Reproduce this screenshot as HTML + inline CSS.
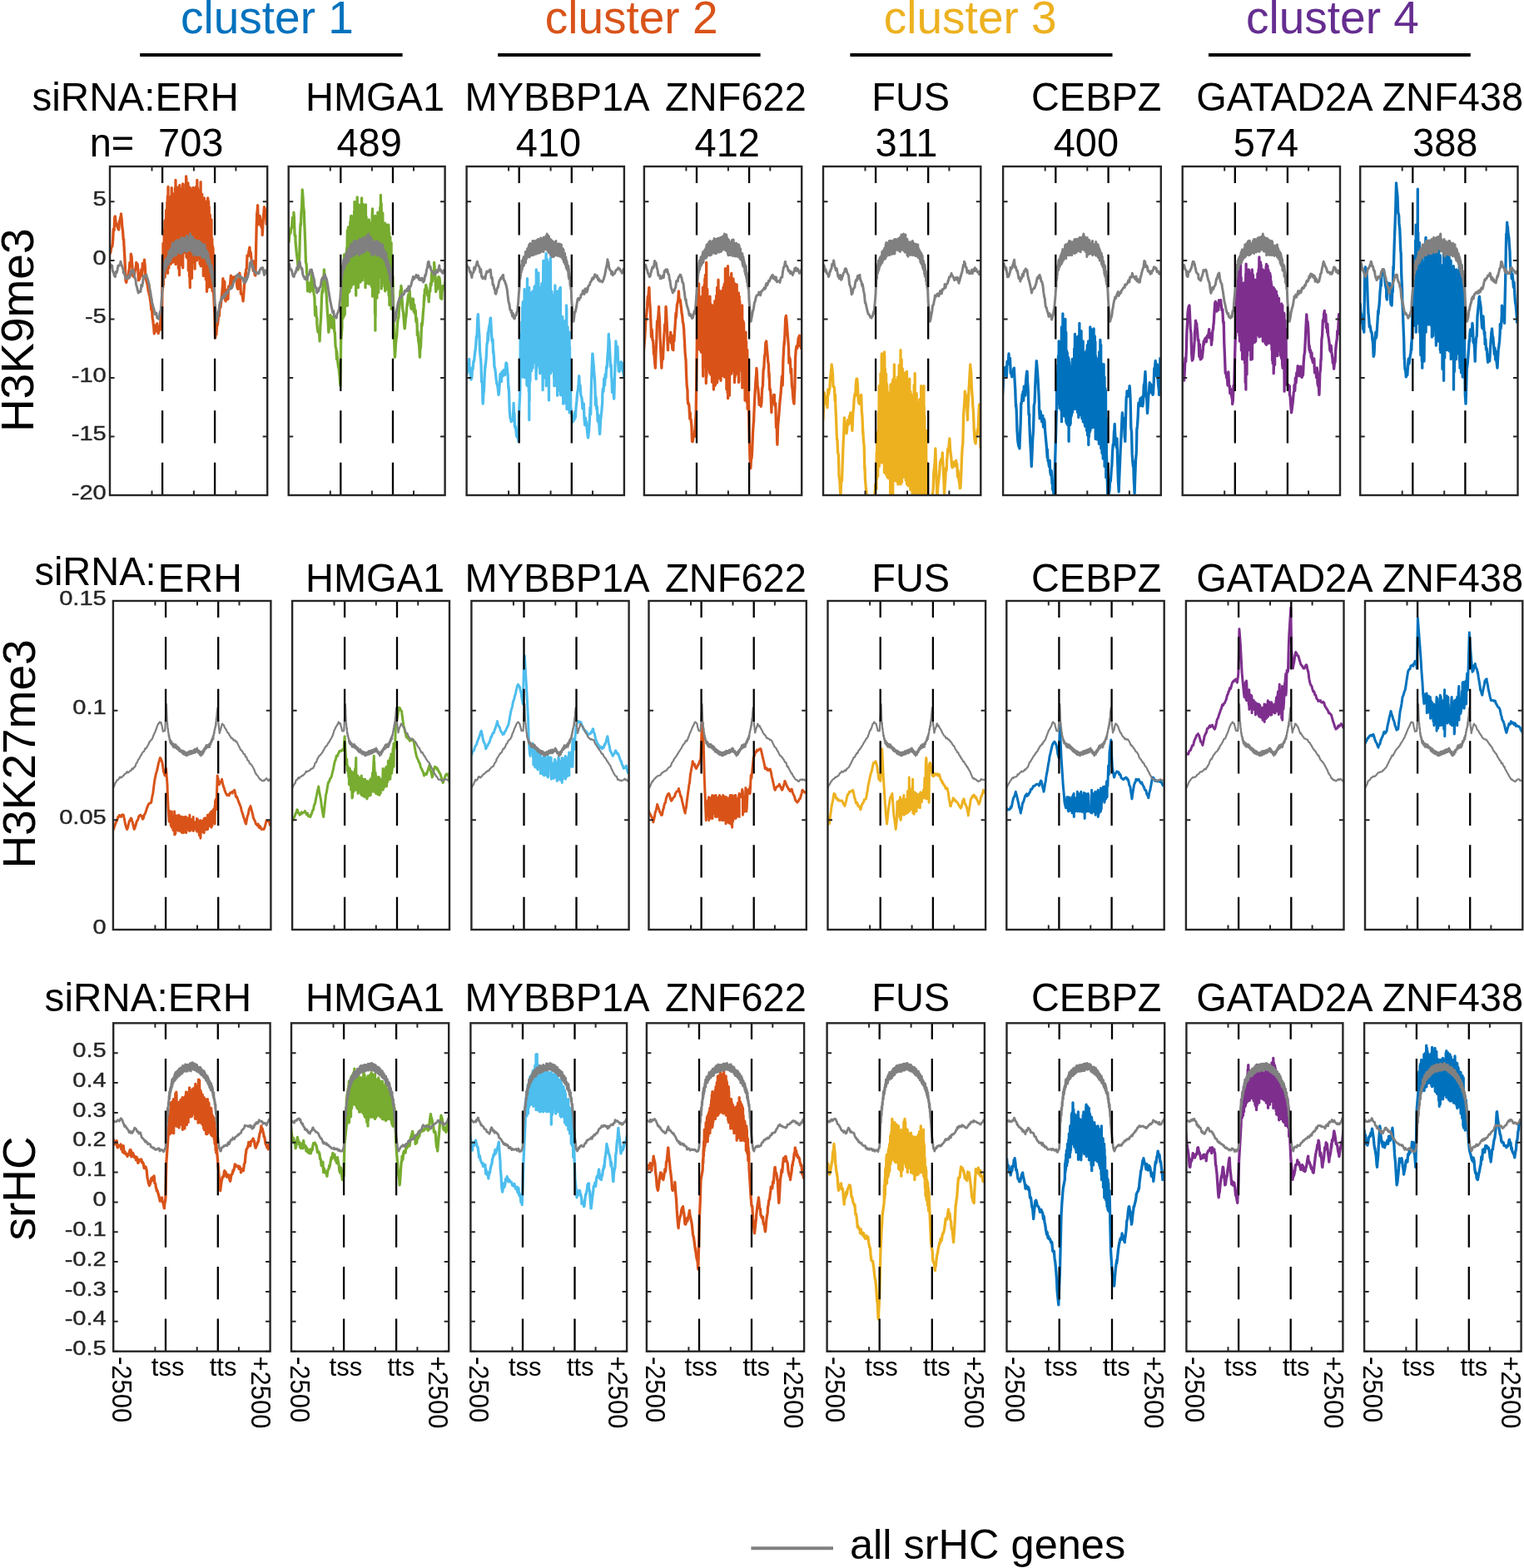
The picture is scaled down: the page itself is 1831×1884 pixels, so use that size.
<!DOCTYPE html>
<html><head><meta charset="utf-8"><title>srHC profiles</title><style>html,body{margin:0;padding:0;background:#fff;overflow:hidden}svg{display:block}</style></head><body>
<svg width="1831" height="1884" viewBox="0 0 1831 1884" font-family="'Liberation Sans', Arial, Helvetica, sans-serif">
<rect width="1831" height="1884" fill="#fff"/>
<defs><clipPath id="c00"><rect x="132" y="200" width="189.2" height="395"/></clipPath><clipPath id="c01"><rect x="346.7" y="200" width="187.9" height="395"/></clipPath><clipPath id="c02"><rect x="560.6" y="200" width="189.3" height="395"/></clipPath><clipPath id="c03"><rect x="773.9" y="200" width="189.3" height="395"/></clipPath><clipPath id="c04"><rect x="989" y="200" width="189.3" height="395"/></clipPath><clipPath id="c05"><rect x="1205.1" y="200" width="189.7" height="395"/></clipPath><clipPath id="c06"><rect x="1420.7" y="200" width="189.3" height="395"/></clipPath><clipPath id="c07"><rect x="1634.2" y="200" width="189.3" height="395"/></clipPath><clipPath id="c10"><rect x="135.9" y="722" width="189.5" height="395"/></clipPath><clipPath id="c11"><rect x="351.1" y="722" width="188.9" height="395"/></clipPath><clipPath id="c12"><rect x="566.4" y="722" width="189.2" height="395"/></clipPath><clipPath id="c13"><rect x="779.5" y="722" width="189.3" height="395"/></clipPath><clipPath id="c14"><rect x="994.5" y="722" width="189.6" height="395"/></clipPath><clipPath id="c15"><rect x="1209.3" y="722" width="189.4" height="395"/></clipPath><clipPath id="c16"><rect x="1424.9" y="722" width="189.6" height="395"/></clipPath><clipPath id="c17"><rect x="1640" y="722" width="189.3" height="395"/></clipPath><clipPath id="c20"><rect x="136.2" y="1229.3" width="188.4" height="394.4"/></clipPath><clipPath id="c21"><rect x="350" y="1229.3" width="189.2" height="394.4"/></clipPath><clipPath id="c22"><rect x="565.4" y="1229.3" width="187.7" height="394.4"/></clipPath><clipPath id="c23"><rect x="776.9" y="1229.3" width="189.2" height="394.4"/></clipPath><clipPath id="c24"><rect x="993.6" y="1229.3" width="189.3" height="394.4"/></clipPath><clipPath id="c25"><rect x="1209.5" y="1229.3" width="189.7" height="394.4"/></clipPath><clipPath id="c26"><rect x="1425.4" y="1229.3" width="188" height="394.4"/></clipPath><clipPath id="c27"><rect x="1639.1" y="1229.3" width="188.5" height="394.4"/></clipPath></defs>
<polyline clip-path="url(#c00)" fill="none" stroke="#D95319" stroke-width="3.3" stroke-linejoin="round" points="131.4,306.8 132.2,303.9 132.8,303.2 133.6,297.7 134.2,296.9 134.7,296 134.9,296.1 135.7,287.6 136.3,275.1 137.1,276.8 137.8,260.9 137.9,265.9 138.4,259.8 139.2,269.1 139.8,268.7 140.6,271.3 141.2,272.8 141.9,274.7 142.2,272.4 142.7,276 143.3,266.3 144.1,264.6 144.8,260.7 145.4,259.5 145.4,257 146.2,263.5 146.8,272.6 147.6,278.1 148.2,287.8 148.7,287.5 148.9,293.8 149.7,306.8 150.3,319.6 150.8,334.7 151.1,337.7 151.8,339.2 152.4,334.8 153.2,335.1 153.8,330.9 154,332.6 154.6,326.5 155.2,323.9 155.9,315.5 156.7,319.8 157.2,315.4 157.3,305.1 158.1,308.5 158.8,318.4 159.4,330.9 160.2,331.7 160.5,332.6 160.8,331.9 161.6,328.5 162.2,325 162.9,322.8 163.7,317.7 163.7,315.4 164.3,322.4 165.1,317.2 165.8,323.5 166.4,336.8 166.9,334.7 167.2,335.3 167.8,335.3 168.6,328.6 169.2,328 169.9,323.7 170.1,328.3 170.7,331.4 171.3,316.4 172.1,320 172.8,323.8 173.4,315.4 173.4,312.2 174.2,319.7 174.8,330.8 175.5,334.7 175.6,335.9 176.2,338.6 176.9,340.9 177.7,345.5 178.3,350.2 178.7,349.8 179.1,353.5 179.8,355.1 180.4,359.9 181.2,364.6 181.8,372 182,371.2 182.6,371.3 183.2,382.6 183.9,385.1 184.1,388.4 184.7,392.3 185.3,400.8 186.1,392.8 186.8,390.9 187.3,392.8 187.4,392.5 188.2,397.9 188.8,388.6 189.6,397.8 190.2,400.6 190.6,394.9 190.9,392.6 191.7,395.3 192.3,396.3 193.1,381.1 193.4,388.4 193.8,383.1 194.4,379.2 194.7,367 195.1,334.1 195.4,309.1 195.7,345.8 196,292.3 196.3,342.4 196.6,297 196.9,325.7 197.2,282.6 197.5,333.7 197.8,275.2 198.1,313.3 198.1,265.9 198.2,332.6 198.4,264.7 198.7,327.5 199,275.4 199.3,317.2 199.6,252.5 199.9,317.4 200.2,251.9 200.5,306.6 200.8,242.8 201.1,305.3 201.3,235.8 201.5,328.3 201.4,236.2 201.7,311.3 202,224.5 202.3,318.2 202.6,236.7 202.9,321.9 203.2,255.3 203.5,305.9 203.8,243.8 204.1,308.4 204.4,236.4 204.7,308.2 205,236.2 205.3,317.2 205.6,244.1 205.9,288.9 206.2,225.6 206.5,295.8 206.7,233.7 206.8,315.4 206.8,238.7 207.1,300.3 207.4,240.4 207.7,292 208,247.1 208.3,311.4 208.6,236 208.9,314.6 209.2,232.6 209.5,305.1 209.8,234.9 210.1,304.1 210.4,226 210.7,316.1 211,227.7 211,216.5 211.1,317.5 211.3,314.2 211.6,245 211.9,289.1 212.2,249.1 212.5,314.7 212.8,246.1 213.1,312.5 213.4,225.1 213.7,299.5 214,239.6 214.3,322.2 214.6,249.8 214.9,311.4 215.2,249.6 215.3,227.2 215.4,324 215.5,330.6 215.8,222.5 216.1,314.6 216.4,255.2 216.7,318.4 217,252.1 217.3,291.3 217.6,244 217.9,307.6 218.2,227.1 218.5,296.9 218.8,232.7 219.1,293.2 219.4,228.7 219.6,220.8 219.7,321.8 219.7,291.5 220,229.2 220.3,290.7 220.6,249.3 220.9,303.9 221.2,229.5 221.5,296 221.8,229.2 222.1,287.5 222.4,246.9 222.7,294.4 223,221.2 223.3,298.6 223.6,211.8 223.9,276.4 223.9,214.3 224,308.9 224.2,225.9 224.5,300.7 224.8,244.3 225.1,304 225.4,222.1 225.7,311 226,220 226.3,325 226.6,231 226.9,314.6 227.2,252.9 227.5,332.3 227.8,253.4 228.1,340.2 228.2,225.1 228.3,345.5 228.4,234.8 228.7,317 229,241.8 229.3,321.7 229.6,227.4 229.9,321.4 230.2,227.9 230.5,334.3 230.8,241.2 231.1,302.7 231.4,262.4 231.7,294.5 232,225.5 232.3,297.6 232.5,229.4 232.6,315.4 232.6,239.4 232.9,307.7 233.2,229.7 233.5,298.2 233.8,248.1 234.1,323.1 234.4,225.9 234.7,307.4 235,245.6 235.3,301 235.6,224.3 235.9,302.4 236.2,225.5 236.5,312.9 236.8,232.7 236.8,216.5 236.9,311.1 237.1,308 237.4,225.5 237.7,305.5 238,252.1 238.3,308.3 238.6,228.8 238.9,285.8 239.2,238.4 239.5,296.2 239.8,240.8 240.1,317.1 240.4,234.7 240.7,311.2 241,228.1 241.1,218.6 241.2,319.7 241.3,290.5 241.6,241.9 241.9,302.3 242.2,257.8 242.5,302.5 242.8,233.5 243.1,304.8 243.4,242.2 243.7,299.3 244,253.5 244.3,331.4 244.6,238.3 244.9,314.2 245.2,257.8 245.4,238 245.5,328.3 245.5,308 245.8,261.8 246.1,330.1 246.4,242 246.7,331 247,259.2 247.3,335.9 247.6,250.9 247.9,319 248.2,256 248.5,350.3 248.8,241.9 249.1,341.3 249.4,240.4 249.7,327.4 249.7,238 249.8,345.5 250,239.8 250.3,327.6 250.6,242.1 250.9,341.6 251.2,248.4 251.5,325.6 251.8,273 252.1,344.5 252.4,258.2 252.7,343.7 253,267.7 253.3,318.6 253.6,273.4 253.9,338.3 254,263.8 254.1,345.5 254.2,291.4 254.5,328.2 254.8,286.6 255.1,349.7 255.4,295.2 255.7,344.7 256,297.8 256.3,345.7 257.9,377.8 258.6,405.3 258.7,405.6 259.2,398.6 259.9,402 260.6,391.5 261.4,390.3 262.1,383.9 262.6,377.7 262.8,376.6 263.4,379.6 264.1,366.5 264.9,369.3 265.6,363.1 265.8,362.7 266.2,358 266.9,350.9 267.6,341.9 267.9,334.7 268.4,338.6 269.1,347.1 269.8,338.2 270.4,359.2 271.1,361.8 271.2,360.5 271.9,358.4 272.6,348.5 273.2,354.4 273.9,359.5 274.6,344.2 275.4,345.9 275.5,345.5 276.1,347.1 276.8,338.6 277.4,331.1 278.1,342.5 278.7,341.2 278.9,334.4 279.6,339.8 280.2,332.9 280.9,334.2 281.6,336.2 281.9,332.6 282.4,333.4 283.1,334.6 283.8,335.4 284.4,340.2 285.1,345.5 285.9,347.2 286.6,341.1 287.2,332.3 287.9,328.2 288.4,334.7 288.6,337 289.4,353.2 290.1,353.3 290.8,353.1 291.4,356.9 291.6,358.3 292.1,361.8 292.9,351.8 293.6,341.2 294.2,336.9 294.8,328.3 294.9,336.6 295.6,323.7 296.4,322.7 297,306.8 297.1,306.9 297.8,307.8 298.4,307.6 299.1,301.3 299.9,297.2 300.2,300.3 300.6,304.4 301.2,303.2 301.9,310.5 302.6,313.5 303.4,315.7 303.4,315.4 304.1,325.2 304.8,314 305.4,321.5 306.1,330 306.6,328.3 306.9,331 307.6,299.4 308.2,271.6 308.8,255.3 308.9,259 309.6,246.7 310.4,269.9 311.1,259.7 311.8,264.5 312,259.5 312.4,260.1 313.1,266.3 313.9,272.6 314.6,271.2 315.2,276.7 315.2,282.4 315.9,268.5 316.6,259.5 317.4,249.5 317.4,248.7 318.1,250.4 318.8,260.2 319.4,253.2 319.5,255.2 320.1,269.3 320.9,265.8 321,268"/>
<polyline clip-path="url(#c00)" fill="none" stroke="#808080" stroke-width="3.0" stroke-linejoin="round" points="132,317.5 132.9,317.9 133.8,321.3 134.7,319.2 135.2,324 135.6,326.2 136.5,327.6 137.4,331.4 138.3,331.7 138.4,332.6 139.2,326.5 140.1,327.7 140.6,326.1 141,324.7 141.9,319.3 142.8,319.3 143.7,318.9 144.6,316.1 144.9,314.3 145.5,316.7 146.4,319.3 147.3,321.8 148.1,324 148.2,327.9 149.1,326.9 150,331 150.9,333.8 151.3,334.7 151.8,333.4 152.7,334.7 153.6,332.6 154.5,331.1 154.5,333.7 155.4,334 156.3,331.8 157.2,325.4 157.7,326.1 158.1,327.8 159,324.9 159.9,324 159.9,325 160.8,326.8 161.7,332.8 162.6,335.2 163.1,336.9 163.5,341.8 164.4,344.5 165.3,348.3 166.2,351.8 166.3,351.9 167.1,350.1 168,350.3 168.9,350.5 169.5,345.5 169.8,342.2 170.7,344.1 171.6,339.3 172.5,331.8 172.8,334.7 173.4,333 174.3,331.8 175.2,331.8 176,330.4 176.1,332.1 177,333.9 177.9,337.1 178.8,340.5 179.2,341.2 179.7,345.9 180.6,350 181.5,356.4 182.4,360.3 182.4,362.7 183.3,365.5 184.2,369.2 185.1,371.8 185.6,375.6 186,377.6 186.9,377 187.8,375.9 188.7,381.9 189.6,382.4 189.9,382 190.5,383.1 191.4,379.5 192.3,374.6 193.1,373.4 193.2,374.1 194.1,360.3 195,348.3 195.1,349.8 195.5,343 195.8,332.5 196.2,333.6 196.4,321.8 196.5,334.7 196.5,322.6 196.9,328.6 197.2,318.8 197.6,325.8 197.9,315.6 198.3,323.5 198.5,313.2 198.6,324 198.6,313 199,322.7 199.3,311.6 199.7,321 200,311.2 200.4,319.7 200.7,310.3 201.1,317.3 201.4,309.1 201.8,316.6 202.1,308.1 202.5,317.3 202.8,302.5 202.9,315.4 202.8,305.9 203.2,313.3 203.5,303.5 203.9,312.3 204.2,300.7 204.6,313.7 204.9,300 205.3,310.8 205.6,298.8 206,308.6 206.3,299.3 206.7,305.3 207,292.8 207.1,293.9 207.2,308.9 207.4,304.3 207.7,294 208.1,303.6 208.4,295.1 208.8,303.9 209.1,291.8 209.5,307 209.8,291.2 210.2,307.2 210.5,294.6 210.9,306.7 211.2,292.7 211.4,289.6 211.5,306.8 211.6,302.4 211.9,292.9 212.3,302 212.6,289.5 213,302.7 213.3,288.5 213.7,301.7 214,290 214.4,301.5 214.7,293.1 215.1,304 215.4,288.7 215.8,303.5 216.1,292.8 216.5,303.5 216.8,288.6 217.2,304.8 217.5,290.5 217.8,287.4 218,304.6 217.9,302.1 218.2,285.5 218.6,300.7 218.9,287.1 219.3,302.7 219.6,286.5 220,302.3 220.3,288.7 220.7,299.1 221,286.3 221.4,300.4 221.7,289.1 222.1,301.4 222.4,289.8 222.8,300.6 223.1,285.9 223.5,298.3 223.8,286.9 224.2,301.6 224.2,285.3 224.4,302.5 224.5,283.6 224.9,300.2 225.2,285.8 225.6,301.5 225.9,287.4 226.3,295.7 226.6,285.8 227,295.4 227.3,288.7 227.7,300.5 228,285.9 228.4,298 228.5,281 228.7,300.3 228.7,282.2 229.1,297.5 229.4,288.4 229.8,301.2 230.1,290.3 230.5,302.1 230.8,285.7 231.2,300.1 231.5,284.7 231.9,304.2 232.2,287.3 232.6,302.5 232.8,287.4 233,306.8 232.9,290.3 233.3,304.5 233.6,289.4 234,302.5 234.3,294.4 234.7,302.7 235,288.4 235.4,303.4 235.7,291.8 236.1,306.4 236.4,290 236.8,306.7 237.1,289.5 237.5,306.2 237.8,290.3 238.2,303.4 238.5,291 238.9,306.4 239.2,295.3 239.3,289.6 239.4,306.8 239.6,306.6 239.9,290 240.3,305.9 240.6,291.7 241,302.3 241.3,293.8 241.7,306.9 242,296.4 242.4,307.5 242.7,296.4 243.1,309.7 243.4,293.1 243.8,307.7 244.1,295.9 244.5,304.2 244.8,296.8 245.2,309.3 245.5,296.8 245.7,293.9 245.8,308.9 245.9,306.8 246.2,295.4 246.6,310.2 246.9,301.8 247.3,310.1 247.6,301.3 248,311.9 248.3,301 248.7,314.4 249,307.2 249.4,315.6 249.7,308.7 250,304.6 250.1,317.5 250.1,316.2 250.4,309.3 250.8,318.1 251.1,311.4 251.5,320.3 251.8,312.1 252.2,321.7 252.5,317.4 252.9,326.8 253.2,317.3 253.6,328.2 253.9,318.9 254.3,319.7 254.4,332.6 254.3,333 254.6,324.5 255,334.6 255.3,326.3 255.7,338.1 256,330.7 256.4,342.3 256.7,336.1 256.8,334.7 257,345.5 257.1,347.6 257.4,342.8 258.1,362.7 259,371.8 259.9,382.8 260.3,386.3 260.8,381.3 261.7,380 262.6,373.7 262.9,373.4 263.5,369.3 264.4,362.9 265.3,361.9 266.1,358.4 266.2,359.7 267.1,356.4 268,356.7 268.9,358.1 269.3,354.1 269.8,356.2 270.7,355.7 271.6,351.4 272.5,351.6 273.4,352.2 273.6,349.8 274.3,348.7 275.2,348.4 276.1,346.5 277,344.4 277.9,345.5 277.9,346.8 278.8,345.4 279.7,343.3 280.6,338.9 281.5,337 282.2,336.9 282.4,337.1 283.3,335.5 284.2,331.1 285.1,331.2 286,329.6 286.4,330.4 286.9,332.4 287.8,332.8 288.7,331.8 289.6,332.7 290.5,333.2 290.7,334.7 291.4,334.2 292.3,337.3 293.2,339.5 294.1,334.3 295,339 295.9,336.6 296.8,335.2 297.2,332.6 297.7,332.8 298.6,328.2 299.5,323.9 300.4,316.3 301.3,314.7 301.5,314.3 302.2,312.9 303.1,321.1 304,319.1 304.9,325.7 305.8,326.1 305.8,325.8 306.7,327.1 307.6,328.9 308.5,327.7 309.4,327.2 310.1,328.3 310.3,328.9 311.2,328.5 312.1,324.4 313,322.9 313.9,323.2 314.3,321.8 314.8,323.5 315.7,321.7 316.6,325.9 317.5,330.4 318.4,329.3 318.6,328.3 319.3,324.8 320.2,326.1 321.1,325.9 321.2,326.1"/>
<path d="M195.1 595V200" stroke="#000" stroke-width="2.3" stroke-dasharray="39.3 23.2" fill="none"/>
<path d="M258.1 595V200" stroke="#000" stroke-width="2.3" stroke-dasharray="39.3 23.2" fill="none"/>
<path d="M182.5 595v-5.5M182.5 200v5.5M232.9 595v-5.5M232.9 200v5.5M283.4 595v-5.5M283.4 200v5.5M132 242.3h5.5M321.2 242.3h-5.5M132 312.9h5.5M321.2 312.9h-5.5M132 383.4h5.5M321.2 383.4h-5.5M132 453.9h5.5M321.2 453.9h-5.5M132 524.5h5.5M321.2 524.5h-5.5M132 595h5.5M321.2 595h-5.5" stroke="#262626" stroke-width="2" fill="none"/>
<rect x="132" y="200" width="189.2" height="395" fill="none" stroke="#262626" stroke-width="2.4"/>
<text transform="translate(127.8 246.9) scale(1.25 1)" text-anchor="end" font-size="23.3" fill="#262626" stroke="#262626" stroke-width="0.35">5</text>
<text transform="translate(127.8 317.5) scale(1.25 1)" text-anchor="end" font-size="23.3" fill="#262626" stroke="#262626" stroke-width="0.35">0</text>
<text transform="translate(127.8 388) scale(1.25 1)" text-anchor="end" font-size="23.3" fill="#262626" stroke="#262626" stroke-width="0.35">-5</text>
<text transform="translate(127.8 458.5) scale(1.25 1)" text-anchor="end" font-size="23.3" fill="#262626" stroke="#262626" stroke-width="0.35">-10</text>
<text transform="translate(127.8 529.1) scale(1.25 1)" text-anchor="end" font-size="23.3" fill="#262626" stroke="#262626" stroke-width="0.35">-15</text>
<text transform="translate(127.8 599.6) scale(1.25 1)" text-anchor="end" font-size="23.3" fill="#262626" stroke="#262626" stroke-width="0.35">-20</text>
<polyline clip-path="url(#c01)" fill="none" stroke="#77AC30" stroke-width="3.3" stroke-linejoin="round" points="346.4,291.7 347.1,290.9 347.9,281 348.6,277.9 348.6,281 349.2,279.2 349.9,273.6 350.6,273.6 350.8,270.2 351.4,261.4 352.1,263.2 352.8,261.5 352.9,255.2 353.4,261.5 354.1,283.2 354.9,283 355.1,291.8 355.6,296.1 356.2,303.1 356.9,308.5 357.6,314.6 358.3,324 358.4,323.5 359.1,319.7 359.8,307 360.4,282.2 361.1,268.3 361.5,270.1 361.9,256.8 362.6,248.1 363.2,231.6 363.2,227.9 363.9,235.8 364.6,248.8 365.4,255 365.4,259.6 366.1,275.8 366.8,293.7 367.4,313.8 367.5,315.4 368.1,316.8 368.9,331.3 369.6,349.8 370.1,345.4 370.2,346.2 370.9,341.9 371.6,340.2 372.2,349.8 372.4,350.6 373.1,341.3 373.8,340.3 374.4,328.3 374.4,329.7 375.1,328.6 375.9,349.9 376.5,345.4 376.6,346.6 377.2,353.2 377.9,357.3 378.6,378.9 378.7,371.2 379.4,368.3 380.1,380.8 380.8,382.3 380.8,388.4 381.4,395.2 382.1,399.1 382.9,398.6 383.6,399.4 384.1,409.9 384.2,406 384.9,390.6 385.6,382.1 386.2,366.9 386.4,358.6 387.1,348.9 387.8,351.1 388.4,333.5 389.1,330.5 389.4,324 389.9,329 390.6,333.1 391.2,338.8 391.6,349.8 391.9,350.2 392.6,361.5 393.4,375.3 394.1,384.4 394.8,398.4 394.8,399.2 395.4,393.8 396.1,394.2 396.9,378.5 397,388.5 397.6,392.3 398.2,380.2 398.9,386.6 399.6,394.1 400.2,388.5 400.4,380.8 401.1,382.3 401.8,399.1 402.3,399.2 402.4,401.6 403.1,416.5 403.9,419.2 404.5,431.5 404.6,422.2 405.2,428.4 405.9,435.6 406.6,441.6 407.1,442.2 407.4,445.5 408.1,452.5 408.8,463.2 408.8,459.3 409.4,432.9 409.6,410 410.9,393.3 411.2,344 411.5,372.9 411.8,330.1 412.1,382.4 412.4,339.6 412.7,378 413,317.5 413.3,379.9 413.6,305.8 413.9,375.5 414.2,306.8 414.3,377.7 414.2,319.6 414.5,358.4 414.8,310.3 415.1,361.5 415.4,306.4 415.7,351.8 416,303.3 416.3,362.8 416.6,297.7 416.9,367.4 417.2,287.8 417.4,276.7 417.5,367 417.5,338.7 417.8,281.3 418.1,347 418.4,272.9 418.7,351.4 419,283.3 419.3,342.5 419.6,276.4 419.9,350.3 420.2,297.4 420.5,338 420.8,266.6 421.1,320.6 421.4,264.3 421.7,259.5 421.8,345.5 421.7,336.2 422,261.1 422.3,338.1 422.6,271.3 422.9,334.2 423.2,274.3 423.5,342.2 423.8,259.9 424.1,330.1 424.4,268.3 424.7,337.8 425,273.7 425.3,336.6 425.6,253.9 425.9,338.6 426,242.3 426.1,341.2 426.2,256.1 426.5,318.4 426.8,267.6 427.1,325.6 427.4,260.6 427.7,355 428,262.6 428.3,334.8 428.6,271.8 428.9,327.1 429.2,237 429.5,341.8 429.8,260.3 430.1,340.4 430.3,250.9 430.4,345.5 430.4,251.6 430.7,340.5 431,246.2 431.3,320.4 431.6,276.8 431.9,339.3 432.2,246.2 432.5,311.6 432.8,258.7 433.1,338.9 433.4,252.1 433.7,337.6 434,255.4 434.3,312.7 434.6,238 434.7,336.9 434.6,238.4 434.9,306 435.2,257.6 435.5,336.7 435.8,273.4 436.1,333.3 436.4,245.7 436.7,316.8 437,249.1 437.3,324.3 437.6,255.5 437.9,326.6 438.2,277.1 438.5,322.4 438.8,278.3 438.9,255.2 439,345.5 439.1,314.1 439.4,246 439.7,325 440,260.2 440.3,321.7 440.6,282.7 440.9,340.3 441.2,271.7 441.5,339.4 441.8,268.5 442.1,324.3 442.4,267.8 442.7,321.4 443,279.5 443.2,263.8 443.3,341.2 443.3,321.7 443.6,265.4 443.9,322.1 444.2,275.8 444.5,319.9 444.8,284.7 445.1,336.3 445.4,268.6 445.7,325.4 446,270.4 446.3,344.3 446.6,279.2 446.9,342.7 447.2,257.7 447.5,250.9 447.6,345.5 447.5,356 447.8,269.6 448.1,318.1 448.4,266.3 448.7,349.2 449,280.9 449.3,344.1 449.6,263.3 449.9,355 450.2,296.1 450.5,376.9 450.7,259.5 450.9,397.1 450.8,290.5 451.1,380.9 451.4,271.7 451.7,343.6 452,276.1 452.3,335.8 452.6,276.6 452.9,358.1 453.2,290.7 453.5,338.8 453.8,274.1 453.9,255.2 454.1,345.5 454.1,341.9 454.4,276.7 454.7,351.5 455,265.8 455.3,320.2 455.6,255 455.9,327.8 456.2,265.2 456.5,316 456.8,248.9 457.1,333.3 457.4,234.4 457.7,323.3 458,273 458.2,244.4 458.4,345.5 458.3,346.8 458.6,253.9 458.9,312.7 459.2,260.2 459.5,340 459.8,256.1 460.1,318.1 460.4,268.4 460.7,330 461,273.7 461.3,339.8 461.6,285.1 461.9,344.1 462.2,269.9 462.5,268.1 462.7,349.8 462.5,336.5 462.8,271.3 463.1,337.3 463.4,272.9 463.7,333.2 464,281 464.3,347.8 464.6,272.7 464.9,326.5 465.2,270.2 465.5,335.1 465.8,277.2 466.1,343.5 466.4,282.4 466.7,325.6 466.8,270.2 467,354.1 467,272.2 467.3,355.6 467.6,279.3 467.9,366.6 468.2,296.5 468.5,346.7 468.8,285 469.1,349.3 469.4,299.5 469.7,353.8 470,298.5 470.1,291.7 470.2,371.3 470.3,366 470.6,310.8 470.9,369.1 471.2,329.5 471.5,366.5 471.8,331.8 473.3,399.3 474,419 474.4,429.3 474.7,426.8 475.4,414.2 476.1,406.1 476.5,405.7 476.8,401.1 477.5,389 478.2,382.8 478.9,381.2 479.6,367.1 479.7,371.3 480.3,363.6 481,349.4 481.7,352.3 481.9,343.4 482.4,346.9 483.1,360.4 483.8,370.5 484,373.4 484.5,375 485.2,383.6 485.9,392.4 486.2,394.9 486.6,391.2 487.3,383.5 488,379.1 488.7,370.2 489.4,363.5 489.4,367 490.1,358 490.8,353.8 491.5,360.4 492.2,349.5 492.6,358.4 492.9,360.6 493.6,369.1 494.3,371.2 495,358.8 495.7,363 495.9,367 496.4,359.2 497.1,374.4 497.8,366.2 498.5,376.6 499.1,373.4 499.2,372.9 499.9,386.3 500.6,382.5 501.2,392.8 501.3,402.5 502,398.3 502.7,410.3 503.4,412.7 504.1,423.2 504.4,429.2 504.8,420.1 505.5,417.1 506.2,397.9 506.6,388.4 506.9,391.9 507.6,387.1 508.3,376.1 509,368.9 509.7,354.6 509.8,360.5 510.4,347.8 511.1,350.7 511.8,342.3 512,345.5 512.5,345.2 513.2,349.3 513.9,355.2 514.6,352.4 515.2,362.7 515.3,359.1 516,349.9 516.7,350.3 517.4,340.2 518.1,342.7 518.4,334.7 518.8,327.1 519.5,338.3 520.2,331.2 520.9,325.5 521.6,323.9 521.6,315.4 522.3,323.7 523,332.6 523.7,350.5 523.8,345.4 524.4,346.5 525.1,347.8 525.8,345.8 526.5,334.4 527,332.6 527.2,334.8 527.9,333.5 528.6,339.3 529.3,358.2 530,354.6 530.2,354.1 530.7,359.3 531.4,346.7 532.1,343.5 532.8,344.8 533.5,345.4 533.5,347 534.2,343.8 534.9,339.8 535.6,337.5 536,332.6"/>
<polyline clip-path="url(#c01)" fill="none" stroke="#808080" stroke-width="3.0" stroke-linejoin="round" points="346.7,317.5 347.6,317.2 348.5,324.1 349.4,323.2 349.9,324 350.3,324.4 351.2,328.3 352.1,331.8 353,331 353.1,332.6 353.9,329.7 354.8,327.8 355.2,326.1 355.7,326.6 356.6,321.8 357.5,323.6 358.4,318.4 359.3,317.4 359.5,314.3 360.2,314.6 361.1,321.1 362,321.4 362.7,324 362.9,322.6 363.8,329.5 364.7,332.2 365.6,332.4 365.9,334.7 366.5,335.3 367.4,335.6 368.3,333.4 369.1,333.6 369.2,335.5 370.1,329.9 371,330.3 371.9,327.7 372.3,326.1 372.8,324.2 373.7,324.4 374.4,324 374.6,326 375.5,327.9 376.4,332.9 377.3,335.3 377.6,336.9 378.2,343 379.1,345.6 380,345.6 380.8,351.9 380.9,351.4 381.8,348.2 382.7,350 383.6,345.6 384,345.5 384.5,345.6 385.4,342.7 386.3,336.3 387.2,334.7 387.2,333.8 388.1,334.3 389,335.7 389.9,329.7 390.4,330.4 390.8,331.5 391.7,333.7 392.6,336.1 393.5,341.9 393.6,341.2 394.4,347.3 395.3,352.4 396.2,358.2 396.8,362.6 397.1,362.6 398,367.7 398.9,371.4 399.8,375.8 400,375.6 400.7,373.6 401.6,380.2 402.5,380 403.4,380.1 404.2,382 404.3,380.7 405.2,377.1 406.1,375.5 407,372.3 407.4,373.4 407.9,366 408.8,358.3 409.3,349.8 409.8,345.3 410.1,330.6 410.5,333.6 410.6,321.8 410.8,334.7 410.8,323.5 411.2,328 411.5,319.3 411.9,328 412.2,316.1 412.6,323.3 412.7,313.2 412.9,324 412.9,311.7 413.3,322.4 413.6,314.6 414,321.9 414.3,312.4 414.7,317.4 415,308.2 415.4,317.8 415.7,306.5 416.1,314.8 416.4,304.1 416.8,315.7 417,302.5 417.2,315.4 417.1,303.1 417.5,313.5 417.8,305 418.2,311.6 418.5,299.7 418.9,313.8 419.2,298.7 419.6,309.9 419.9,297.9 420.3,307.4 420.6,297.7 421,305.9 421.3,293.9 421.4,308.9 421.3,297.8 421.7,307.5 422,296.4 422.4,306.1 422.7,295.2 423.1,307.6 423.4,293.5 423.8,307 424.1,291.9 424.5,306 424.8,292.6 425.2,306.3 425.5,293 425.5,289.6 425.7,306.8 425.9,302.7 426.2,292.8 426.6,305.2 426.9,293.8 427.3,303.8 427.6,293.1 428,299.9 428.3,289.7 428.7,304.6 429,290.3 429.4,303.2 429.7,292.2 430.1,299.2 430.4,289.4 430.8,304.8 431.1,291.3 431.5,306.4 431.8,288.1 431.9,287.4 432.1,304.6 432.2,300.4 432.5,287.9 432.9,300.1 433.2,287.7 433.6,300.9 433.9,287.5 434.3,300.9 434.6,289.4 435,304.8 435.3,287.9 435.7,302.2 436,286.3 436.4,300.9 436.7,289.1 437.1,297.9 437.4,289.9 437.8,302.5 438.1,290.9 438.3,285.3 438.5,302.5 438.5,298.3 438.8,291.1 439.2,301.5 439.5,286.7 439.9,300.2 440.2,286.1 440.6,298.7 440.9,283.4 441.3,296.4 441.6,284.7 442,297.3 442.3,286.8 442.6,281 442.7,300.3 442.7,297.8 443,282.1 443.4,301.4 443.7,284.5 444.1,296.7 444.4,285.6 444.8,301.6 445.1,287.4 445.5,301 445.8,285.4 446.2,304.3 446.5,292.6 446.8,287.4 447,306.8 446.9,303.5 447.2,290.5 447.6,304.7 447.9,293 448.3,306.3 448.6,293.2 449,302.9 449.3,290.5 449.7,304.4 450,292.5 450.4,301.8 450.7,290.6 451.1,304 451.4,291.6 451.8,304.8 452.1,290.2 452.5,306.7 452.8,294.3 453.2,304 453.2,289.6 453.4,306.8 453.5,289.9 453.9,306.1 454.2,291.1 454.6,303.6 454.9,296.5 455.3,303.7 455.6,292.3 456,307.3 456.3,292.1 456.7,307.6 457,296.1 457.4,305.4 457.7,293.8 458.1,304.2 458.4,294 458.8,309.8 459.1,297.8 459.5,308.2 459.6,293.9 459.8,308.9 459.8,294.6 460.2,306.9 460.5,298.2 460.9,309.9 461.2,302.7 461.6,312.2 461.9,301.2 462.3,313.2 462.6,304.9 463,314.1 463.3,303.8 463.7,312.6 463.9,304.6 464,317.5 464,308.4 464.4,318.9 464.7,311.8 465.1,321.2 465.4,312.1 465.8,321 466.1,314.6 466.5,325.4 466.8,317.4 467.2,328.8 467.5,321.6 467.9,329.4 468.1,319.7 468.3,332.6 468.2,321.5 468.6,335.6 468.9,323.6 469.3,338.5 469.6,329.3 470,339.5 470.3,334.8 470.7,344 470.7,334.7 470.8,345.5 471,338.1 471.4,351.8 472,362.7 472.9,373.1 473.8,380.3 474.1,386.3 474.7,382.8 475.6,381.9 476.5,373.7 476.6,373.4 477.4,368.7 478.3,363.4 479.2,361.4 479.9,358.4 480.1,357.6 481,357.2 481.9,357.6 482.8,354.3 483,354.1 483.7,353.6 484.6,354.1 485.5,352.9 486.4,349.3 487.3,349.5 487.3,349.8 488.2,349.9 489.1,347 490,349.7 490.9,344.1 491.6,345.5 491.8,348.3 492.7,344.2 493.6,343.5 494.5,339.9 495.4,336 495.8,336.9 496.3,332.5 497.2,335.2 498.1,334.5 499,332.3 499.9,331.1 500.1,330.4 500.8,332.8 501.7,333.7 502.6,331.1 503.5,336.1 504.4,334.7 504.4,334.2 505.3,336.8 506.2,335.5 507.1,334.1 508,337.6 508.6,339 508.9,338.6 509.8,337 510.7,330.6 510.7,332.6 511.6,330.5 512.5,324.7 513.4,321.6 514.3,315.1 515,314.3 515.2,314.9 516.1,321.1 517,320.1 517.9,324.5 518.8,325.6 519.3,326.1 519.7,327.2 520.6,327.3 521.5,329.9 522.4,329.4 523.3,326.3 523.5,328.3 524.2,326.1 525.1,324.6 526,327 526.9,323.5 527.8,318.9 527.8,321.8 528.7,325 529.6,324.3 530.5,326.7 531.4,326.9 532,328.3 532.3,326.4 533.2,324.9 534.1,327 534.6,326.1"/>
<path d="M409.3 595V200" stroke="#000" stroke-width="2.3" stroke-dasharray="39.3 23.2" fill="none"/>
<path d="M472 595V200" stroke="#000" stroke-width="2.3" stroke-dasharray="39.3 23.2" fill="none"/>
<path d="M396.8 595v-5.5M396.8 200v5.5M446.9 595v-5.5M446.9 200v5.5M497 595v-5.5M497 200v5.5M346.7 242.3h5.5M534.6 242.3h-5.5M346.7 312.9h5.5M534.6 312.9h-5.5M346.7 383.4h5.5M534.6 383.4h-5.5M346.7 453.9h5.5M534.6 453.9h-5.5M346.7 524.5h5.5M534.6 524.5h-5.5M346.7 595h5.5M534.6 595h-5.5" stroke="#262626" stroke-width="2" fill="none"/>
<rect x="346.7" y="200" width="187.9" height="395" fill="none" stroke="#262626" stroke-width="2.4"/>
<polyline clip-path="url(#c02)" fill="none" stroke="#4DBEEE" stroke-width="3.3" stroke-linejoin="round" points="560.5,442.2 561.1,449.5 561.9,438.9 562.5,436.7 563.2,438.6 563.7,431.5 564,445.6 564.6,441.9 565.4,450.4 566,456 566.8,453.5 566.9,452.9 567.5,441.8 568.1,443.6 568.9,433.8 569.5,434.3 570.2,427.6 571,420.5 571.2,420.7 571.6,415.9 572.4,404.1 573,404.7 573.8,382.6 574.4,377.7 574.5,378.2 575.1,392.6 575.9,403.6 576.5,421 577.2,428.7 577.6,431.5 578,437.7 578.6,459 579.4,460 580,483 580.2,485.1 580.8,474.2 581.5,468.3 582.1,453.9 582.9,438.8 583,442.2 583.5,437 584.2,429.5 585,413 585.6,411.8 586.2,399.3 586.4,409.1 587,397.5 587.8,391.5 588.5,389.6 589.1,382.5 589.5,382 589.9,389.6 590.5,401 591.2,410.2 592,407.6 592.6,424.3 592.7,420.7 593.4,428.2 594,441 594.8,442.9 595.5,449.2 595.9,453 596.1,455.2 596.9,461.1 597.5,462.1 598.2,466 599,474.3 599.1,474.4 599.6,470 600.4,459.8 601,449.4 601.8,453.8 602.4,448.7 602.5,458.4 603.1,446.7 603.9,450.2 604.5,451.6 605.2,444.6 605.6,448.7 606,447.2 606.6,450.5 607.4,443.1 608,435.9 608.8,436.8 608.8,438 609.5,444.8 610.1,449.9 610.9,466.9 611,463.6 611.5,470.7 612.2,492.3 613,502.1 613.6,503.4 614.2,506.7 614.4,504.2 615,504 615.8,505.3 616.5,501.8 617.1,484.4 617.4,496 617.9,496 618.5,512.8 619.2,512.1 620,517.9 620.6,523.9 620.6,517.5 621.4,525.7 622,524.1 622.8,526.7 622.8,530.2 623.5,497.5 623.6,495.9 624.9,468.6 625.3,401.7 625.7,451.5 626.1,402.3 626.5,452.6 626.9,386.8 627.3,439.1 627.7,368.9 628.1,442.2 628.2,362.7 628.3,453 628.5,364.8 628.9,431.1 629.3,370.3 629.7,452 630.1,347.4 630.5,453.5 630.9,377.8 631.3,435.4 631.7,364.1 632.1,446.5 632.5,375 632.9,462.4 633.3,354 633.5,334.7 633.7,463.7 633.7,461.3 634.1,372.8 634.5,458.5 634.9,373.9 635.3,470.4 635.7,345.5 635.8,504.5 635.7,399.6 636.1,481.7 636.5,381.6 636.9,458.1 637.3,375.8 637.7,438.4 638.1,351.9 638.5,445.8 638.9,358.9 639.3,419.1 639.7,365.8 640,349.8 640.1,442.2 640.1,424.2 640.5,354.7 640.9,425.9 641.3,352.3 641.7,419.3 642.1,344.3 642.5,435.8 642.9,365.8 643.3,426.4 643.7,342.5 644.1,455.4 644.3,324 644.4,446.5 644.5,342.1 644.9,442.4 645.3,345.2 645.7,430.3 646.1,347.4 646.5,438.6 646.9,327.8 647.3,435.9 647.7,347.1 648.1,424.9 648.5,349.7 648.6,345.5 648.7,448.7 648.9,418.5 649.3,351.8 649.7,441.1 650.1,349.3 650.5,441.7 650.9,340.6 651.3,446 651.7,355.2 652.1,468.7 652.5,343.5 652.9,313.2 653,453 652.9,426.8 653.3,316.7 653.7,437.8 654.1,355.8 654.5,453.9 654.9,312.8 655.3,425.4 655.7,323.9 656.1,304.6 656.3,463.7 656.1,441.8 656.5,322.6 656.9,460.6 657.3,311.7 657.7,421.8 658.1,330.6 658.5,458.8 658.9,347.5 659.3,315.4 659.5,480.9 659.3,448.4 659.7,324.3 660.1,447.6 660.5,340.8 660.9,415.3 661.3,309.7 661.5,324 661.6,448.7 661.7,412.7 662.1,358.3 662.5,439.1 662.9,350.1 663.3,445.9 663.7,367.2 664.1,428.7 664.5,372.7 664.9,429.3 665.3,354.1 665.7,454.6 665.8,356.2 665.9,463.7 666.1,358 666.5,437.1 666.9,342.9 667.3,444.1 667.7,365.1 668.1,454.6 668.5,354.4 668.9,464.1 669.3,356.5 669.7,475.3 670.1,349.8 670.2,470.2 670.1,360.3 670.5,456.9 670.9,365.6 671.3,453.4 671.7,381.6 672.1,439.1 672.5,346.6 672.9,458.6 673.3,345.5 673.5,474.4 673.3,368.6 673.7,459.9 674.1,390.9 674.5,474.9 674.9,380.3 675.3,453 675.7,380.5 676.1,461.7 676.5,388.5 676.7,485.2 676.5,420.1 676.9,485.1 677.3,386.9 677.7,454.9 678.1,397.8 678.5,481.7 678.9,385.5 679.3,456.3 679.7,409.2 680.1,484.9 680.5,366.9 680.8,373.4 681,491.6 680.9,458.6 681.3,407.8 681.7,473.3 682.1,392.9 682.5,467.7 682.9,409.2 683.3,492 683.7,421.9 684.1,399.2 684.2,495.9 684.1,493.5 684.5,416.5 684.9,473.8 685.3,434.7 685.7,489.4 687.3,500.3 688,506.9 688.4,506.7 688.7,503.9 689.4,504.6 690.1,504.1 690.8,494.9 691.5,501.4 691.6,495.9 692.2,487.9 692.9,481.5 693.6,472.4 694.3,468.8 695,463.3 695.7,451.7 695.9,453 696.4,468.5 697.1,462.8 697.8,475 698.5,476.5 699.2,479.4 699.9,490.8 700.2,485.2 700.6,489.3 701.3,484.9 702,503.1 702.7,510.5 703.4,502.2 704.1,508.4 704.5,506.7 704.8,511.5 705.5,517.9 706.2,524.1 706.6,526 706.9,523.2 707.6,517.1 708.3,506.5 709,489.4 709.7,497.7 709.9,485.1 710.4,464.1 711.1,443.1 711.8,425.2 712,425.1 712.5,431.6 713.2,439 713.9,450 714.6,456.7 715.2,474.4 715.3,486.7 716,477.2 716.7,491.5 717.4,488.7 718.1,505.6 718.5,506.7 718.8,498.5 719.5,504.2 720.2,517.2 720.6,521.7 720.9,518.1 721.6,504.5 722.3,498.6 723,492.1 723.7,483.7 723.8,474.4 724.4,466.8 725.1,470.3 725.8,454.6 726,463.7 726.5,463.2 727.2,449.7 727.9,454.2 728.6,440.5 729.2,442.2 729.3,440.8 730,426.7 730.7,420.1 731.3,401.4 731.4,405.4 732.1,409.7 732.8,425.6 733.5,440.3 734.2,438.5 734.6,453 734.9,453.9 735.6,471.6 736.3,467.8 737,469.6 737.7,479.2 737.8,478.7 738.4,457 739.1,435 739.8,418.2 739.9,410 740.5,419.9 741.2,418.8 741.9,416.6 742.6,435.6 743.2,442.2 743.3,445.7 744,446.6 744.7,445.2 745.4,435.6 746.1,434.8 746.4,435.8 746.8,439.9 747.5,436.3 748.2,444.9 748.9,448 749.6,451.1 749.6,452.9"/>
<polyline clip-path="url(#c02)" fill="none" stroke="#808080" stroke-width="3.0" stroke-linejoin="round" points="560.6,317.5 561.5,320.9 562.4,320.7 563.3,321.5 563.8,324 564.2,326.5 565.1,325.8 566,329.8 566.9,333.5 567,332.6 567.8,328 568.7,327.6 569.2,326.1 569.6,321.4 570.5,324 571.4,320.4 572.3,318.3 573.2,314.5 573.5,314.3 574.1,317.8 575,319.4 575.9,321 576.7,324 576.8,327.2 577.7,323.5 578.6,332.6 579.5,332.6 579.9,334.7 580.4,333.1 581.3,333.8 582.2,332.7 583.1,335.1 583.1,333.6 584,328.9 584.9,326 585.8,327.1 586.4,326.1 586.7,326.5 587.6,326.2 588.5,324 589.4,324.2 590.3,334.2 591.2,333.3 591.7,336.9 592.1,342.4 593,342.1 593.9,347.4 594.8,347.9 594.9,351.9 595.7,353.3 596.6,350.2 597.5,345.8 598.2,345.5 598.4,344.9 599.3,340.2 600.2,336.5 601.1,336.1 601.4,334.7 602,333.6 602.9,334.3 603.8,330.9 604.6,330.4 604.7,333.1 605.6,336.9 606.5,337.6 607.4,341 607.8,341.2 608.3,343.9 609.2,347.7 610.1,355.5 611,362.7 611,362.7 611.9,365.3 612.8,372.1 613.7,372.8 614.3,375.6 614.6,372.9 615.5,379.9 616.4,376.4 617.3,382.1 618.2,383 618.5,382 619.1,379 620,378.9 620.9,375.2 621.8,373.4 621.8,371.3 622.7,363.1 623.6,349.5 623.7,349.8 624.1,343.7 624.5,331.3 624.8,333.6 625,321.8 625.1,334.7 625.2,321.8 625.5,331.7 625.9,319 626.2,327.5 626.6,318.4 626.9,324.2 627.1,313.2 627.3,324 627.3,315.1 627.6,321.9 628,313.4 628.3,319.1 628.7,310.3 629,319.6 629.4,308.5 629.7,318.3 630.1,310.3 630.4,314.1 630.8,308 631.1,314.6 631.4,302.5 631.6,315.4 631.5,306.5 631.8,311.2 632.2,302.2 632.5,311.3 632.9,302.6 633.2,309.5 633.6,298.8 633.9,307 634.3,301.5 634.6,308.4 635,296.7 635.3,308 635.7,295.8 635.7,293.9 635.9,308.9 636,305.4 636.4,293.2 636.7,308.3 637.1,292.6 637.4,305.9 637.8,294.1 638.1,306.6 638.5,294 638.8,304.8 639.2,294.4 639.5,304.9 639.9,293.7 640,289.6 640.2,306.8 640.2,302.7 640.6,291.3 640.9,306.4 641.3,289.4 641.6,305.1 642,294.2 642.3,300 642.7,289.8 643,302.2 643.4,292.7 643.7,305.5 644.1,293.7 644.4,302.3 644.8,288.8 645.1,300.3 645.5,292.1 645.8,302.5 646.2,287.9 646.5,287.4 646.6,304.6 646.5,302.3 646.9,291.9 647.2,302.5 647.6,291 647.9,298.3 648.3,288 648.6,303.8 649,287.7 649.3,302.9 649.7,285.9 650,301.7 650.4,292.2 650.7,302.3 651.1,291.4 651.4,300.9 651.8,288.8 652.1,302.3 652.5,286.9 652.8,298.8 652.9,285.3 653,302.5 653.2,287.8 653.5,300.4 653.9,288.4 654.2,300 654.6,284.9 654.9,296 655.3,288.6 655.6,298.2 656,283.5 656.3,299.1 656.7,284.1 657,300 657.2,281 657.3,300.3 657.4,287.2 657.7,301.1 658.1,285.4 658.4,301.4 658.8,283.2 659.1,303.2 659.5,283.9 659.8,304 660.2,287 660.5,303.6 660.9,290.5 661.2,299.8 661.5,287.4 661.6,306.8 661.6,292.8 661.9,305.4 662.3,288.6 662.6,304.4 663,288.9 663.3,308.8 663.7,290.2 664,304.4 664.4,290.3 664.7,301.4 665.1,290.7 665.4,308.5 665.8,294.9 666.1,306 666.5,293.9 666.8,302.8 667.2,294.1 667.5,304.8 667.9,294.5 667.9,289.6 668.1,306.8 668.2,306.3 668.6,294.8 668.9,303.9 669.3,294.8 669.6,307.3 670,296.8 670.3,303.1 670.7,293 671,305.5 671.4,293.4 671.7,307.7 672.1,293.1 672.4,307.7 672.8,298 673.1,308 673.5,293.7 673.8,308.6 674.2,294.8 674.4,293.9 674.5,308.9 674.5,306.4 674.9,297.9 675.2,308.6 675.6,298.2 675.9,311.3 676.3,298.7 676.6,310.7 677,300.1 677.3,314.5 677.7,304.7 678,315.6 678.4,304.6 678.6,304.6 678.8,317.5 678.7,314.2 679.1,308.6 679.4,318.1 679.8,308.7 680.1,321.2 680.5,312.6 680.8,323.2 681.2,314.5 681.5,323.9 681.9,318.5 682.2,325.6 682.6,319.3 682.9,329.4 682.9,319.7 683.1,332.6 683.3,322.6 683.6,335.3 684,328.3 684.3,335.7 684.7,332.5 685,343 685.4,335 685.5,334.7 685.7,345.5 685.7,346.6 686.1,343.6 686.8,362.7 687.7,371.8 688.6,384.1 689,386.3 689.5,383.7 690.4,375.3 691.3,374.7 691.5,373.4 692.2,370.4 693.1,365 694,359.6 694.7,358.4 694.9,359.6 695.8,360.3 696.7,358 697.6,357.7 698,354.1 698.5,354.2 699.4,353.5 700.3,349.3 701.2,352.2 702.1,353.4 702.2,349.8 703,346.9 703.9,346.8 704.8,351 705.7,349.1 706.5,345.5 706.6,344.3 707.5,343 708.4,342.3 709.3,339.2 710.2,338 710.8,336.9 711.1,335.6 712,333.7 712.9,335.3 713.8,332.8 714.7,329.7 715.1,330.4 715.6,331.1 716.5,332.9 717.4,331.1 718.3,335.4 719.2,336.9 719.4,334.7 720.1,336.2 721,338.1 721.9,337.5 722.8,337.9 723.7,338.3 723.7,339 724.6,336.9 725.5,334.8 725.9,332.6 726.4,331.8 727.3,327.1 728.2,322 729.1,318.6 730,311.8 730.1,314.3 730.9,315 731.8,322 732.7,323.9 733.6,325.4 734.5,326.1 734.5,329.2 735.4,326.2 736.3,330.8 737.2,329.2 738.1,328.8 738.7,328.3 739,327 739.9,325.1 740.8,324.1 741.7,324 742.6,322.1 743,321.8 743.5,322.5 744.4,322.7 745.3,324.9 746.2,326 747.1,327.2 747.3,328.3 748,327.5 748.9,323.6 749.8,326.7 749.9,326.1"/>
<path d="M623.7 595V200" stroke="#000" stroke-width="2.3" stroke-dasharray="39.3 23.2" fill="none"/>
<path d="M686.8 595V200" stroke="#000" stroke-width="2.3" stroke-dasharray="39.3 23.2" fill="none"/>
<path d="M611.1 595v-5.5M611.1 200v5.5M661.6 595v-5.5M661.6 200v5.5M712 595v-5.5M712 200v5.5M560.6 242.3h5.5M749.9 242.3h-5.5M560.6 312.9h5.5M749.9 312.9h-5.5M560.6 383.4h5.5M749.9 383.4h-5.5M560.6 453.9h5.5M749.9 453.9h-5.5M560.6 524.5h5.5M749.9 524.5h-5.5M560.6 595h5.5M749.9 595h-5.5" stroke="#262626" stroke-width="2" fill="none"/>
<rect x="560.6" y="200" width="189.3" height="395" fill="none" stroke="#262626" stroke-width="2.4"/>
<polyline clip-path="url(#c03)" fill="none" stroke="#D95319" stroke-width="3.3" stroke-linejoin="round" points="773.5,420.7 774.1,413.6 774.9,403 775.5,391.2 775.6,388.4 776.2,382.9 777,374.9 777.6,368.4 777.8,362.7 778.4,356 779,355.6 779.8,345.5 779.9,345.5 780.5,362.1 781.1,368.5 781.9,386.8 782,388.5 782.5,404.8 783.2,396 784,408.8 784.6,408.9 785.3,420.7 785.4,425.3 786,426 786.8,437.4 787.4,442.2 787.5,439.7 788.1,422.1 788.9,405.9 789.5,385.9 789.6,388.5 790.2,386.4 791,378.3 791.6,368.5 791.7,373.4 792.4,383.7 793,404 793.8,420.8 794.5,435.8 794.9,442.1 795.1,435.7 795.9,428.9 796.5,431.4 797.2,413.6 798,400.8 798.2,399.2 798.6,389.7 799.4,393.1 800,368.5 800.3,371.3 800.8,379.9 801.5,394.8 802.1,413.1 802.5,420.7 802.9,407.9 803.5,407.5 804.2,409.7 805,406.4 805.6,403.2 805.7,399.2 806.4,412.2 807,402.9 807.8,419.3 808.5,417 808.9,420.7 809.1,407.3 809.9,409.8 810.5,400.2 811.2,390.4 812,376.1 812.1,382 812.6,377.8 813.4,366.3 814,364.2 814.8,360.1 815.4,349.8 815.5,351 816.1,362 816.9,359.9 817.5,361.6 818.2,368.8 818.6,371.3 819,375.9 819.6,378.6 820.4,387.4 821,389 821.8,396.9 821.8,399.3 822.5,410.9 823.1,423.8 823.9,432.2 824,431.4 824.5,448.3 825.2,463.3 826,469.2 826.1,478.7 826.6,484.8 827.4,484.6 828,488.7 828.8,503.2 829.3,496 829.5,503.2 830.1,503.8 830.9,512.1 831.5,530.3 831.5,528.4 832.2,530.7 833,524.6 833.6,522.4 834.4,524.7 834.7,517.5 835,516.6 835.8,503.2 836.2,495.9 837.5,399.6 837.8,325.5 838.1,412.2 838.4,342.3 838.7,397.7 839,356.3 839.3,419.3 839.6,340.8 839.9,409.5 840.2,363.6 840.5,414.5 840.8,370.7 841.1,410.5 841.2,358.4 841.3,420.7 841.4,371.7 841.7,421.2 842,362.3 842.3,423.1 842.6,356.4 842.9,409.3 843.2,359.3 843.5,415.8 843.8,372.8 844.1,420.2 844.4,345.5 844.5,442.2 844.4,360 844.7,452 845,364.1 845.3,435.2 845.6,347.2 845.9,420.4 846.2,342.1 846.5,418.1 846.8,335 847.1,440.7 847.4,330.4 847.7,426.5 848,360.6 848.3,460.6 848.6,350.7 848.7,315.4 848.8,453 848.9,448.9 849.2,351.1 849.5,435.9 849.8,347.5 850.1,436.9 850.4,364.9 850.7,432 851,361.3 851.3,425.8 851.6,357.5 851.9,444.1 852.2,363.3 852.5,447.7 852.8,380.8 853,356.2 853.1,448.7 853.1,441 853.4,387.4 853.7,450 854,371.8 854.3,436.3 854.6,365.9 854.9,443.2 855.2,377.3 855.5,459.2 855.8,382.6 856.1,436.8 856.4,394.4 856.7,453.6 857,391 857.3,367 857.4,468 857.3,462.3 857.6,383.6 857.9,444.7 858.2,390.5 858.5,459.1 858.8,361.7 859.1,463.3 859.4,377.5 859.7,455.8 860,382.3 860.3,460.9 860.6,355.2 860.9,437 861.2,362.8 861.5,430.5 861.6,345.5 861.7,459.4 861.8,366.7 862.1,452.3 862.4,373.1 862.7,454.2 863,336.2 863.3,447.7 863.6,348.7 863.9,454.4 864.2,370.7 864.5,439.7 864.8,366.8 865.1,433.6 865.4,366.1 865.7,454.5 865.9,349.8 866,457.3 866,372.5 866.3,451.9 866.6,355.4 866.9,451.5 867.2,356.2 867.5,451.6 867.8,358.6 868.1,450.4 868.4,348.7 868.7,451.3 869,345.1 869.3,445.1 869.6,377.3 869.9,440.6 870.2,341.2 870.3,453 870.2,361.1 870.5,449 870.8,364.9 871.1,432.6 871.4,322.6 871.7,433.7 872,371.7 872.3,434.2 872.6,350.9 872.9,467.8 873.2,339.1 873.5,452.7 873.8,332.7 874.1,472 874.4,364 874.5,319.7 874.6,478.7 874.7,470.9 875,341.2 875.3,468.8 875.6,356 875.9,443.8 876.2,333.7 876.5,475 876.8,344.8 877.1,440.2 877.4,341.5 877.7,449.7 878,355.1 878.3,446.2 878.6,331.2 878.8,328.3 878.9,448.7 878.9,431 879.2,337.9 879.5,421.9 879.8,353 880.1,422 880.4,348.1 880.7,420.5 881,335 881.3,445.6 881.6,339.1 881.9,445.3 882.2,358 882.5,459.5 882.8,343 883.1,341.2 883.2,453 883.1,451.9 883.4,343.7 883.7,425.2 884,348.6 884.3,443.9 884.6,367.2 884.9,442.1 885.2,341.8 885.5,449.2 885.8,371.6 886.1,444.2 886.4,360.1 886.7,433.4 887,358.2 887.3,451.9 887.4,351.9 887.5,459.4 887.6,374.5 887.9,458.4 888.2,356.2 888.5,430.7 888.8,361.9 889.1,435.1 889.4,368.2 889.7,444.4 890,383 890.3,438.4 890.6,372.7 890.9,439.7 891.2,394.2 891.5,447 891.7,367 891.8,465.9 891.8,391.4 892.1,452.6 892.4,384.9 892.7,455.2 893,386.2 893.3,447 893.6,387.8 893.9,456.7 894.2,398.7 894.5,465.3 894.8,411.2 895.1,481.2 895.4,400 895.7,466.9 896,399.2 896.1,474.4 896,411.4 896.3,462.6 896.6,410.6 896.9,481.3 897.2,422.2 897.5,483.5 897.8,420.4 898.1,491.3 898.4,431.3 900.3,528.3 901,550.7 901.7,562.7 902,560.4 902.4,551.8 903.1,550.4 903.8,538.5 904.5,520.6 905.2,509.4 905.6,506.7 905.9,497.1 906.6,480.6 907.3,468.2 908,456.4 908.7,449.1 908.9,442.3 909.4,448.2 910.1,463.5 910.8,467.1 911.5,475.5 912.1,485.2 912.2,486.4 912.9,478.7 913.6,479.3 914.3,488.3 915,482.8 915.3,474.5 915.7,466.7 916.4,464.1 917.1,445.3 917.5,442.2 917.8,442.7 918.5,427.9 919.2,425.3 919.9,411.3 920.6,413.5 920.7,410 921.3,418.6 922,425.2 922.7,434.3 923.4,438.3 923.9,452.9 924.1,448.2 924.8,468.4 925.5,467.7 926.2,477.3 926.9,495.5 927.1,485.2 927.6,485.4 928.3,484.9 929,478.9 929.7,474.5 930.4,474.5 930.4,481.7 931.1,487.8 931.8,484.6 932.5,513.8 933.2,508.4 933.6,528.1 933.9,534.1 934.6,511.7 935.3,504.4 936,496.2 936.7,486.5 936.8,485.2 937.4,479 938.1,472.5 938.8,461.9 939.5,452 940,453 940.2,463 940.9,432.6 941.6,419.9 942.2,410 942.3,413.8 943,401.1 943.7,382.7 944.3,379.9 944.4,379.4 945.1,386.3 945.8,396.2 946.5,405.1 947.2,413.9 947.6,420.7 947.9,436.2 948.6,429.6 949.3,432.3 950,448.1 950.7,443.4 950.8,448.6 951.4,463.1 952.1,467.4 952.8,477.3 953.5,483.6 954,485.1 954.2,480.1 954.9,465.9 955.6,430.3 956.2,420.7 956.3,420.5 957,416 957.7,418.7 958.4,415.8 959.1,407 959.4,405.7 959.8,407 960.5,403.2 961.2,415.6 961.9,410.6 962.6,418.6 962.6,414.2"/>
<polyline clip-path="url(#c03)" fill="none" stroke="#808080" stroke-width="3.0" stroke-linejoin="round" points="773.9,317.5 774.8,321.4 775.7,318.4 776.6,322.2 777.1,324 777.5,324.1 778.4,328.3 779.3,329.1 780.2,332.3 780.3,332.6 781.1,332.2 782,328 782.5,326.1 782.9,324.8 783.8,320.9 784.7,322.1 785.6,319.9 786.5,313.5 786.8,314.3 787.4,316.2 788.3,315.9 789.2,322.1 790,324 790.1,325 791,331 791.9,330.7 792.8,330.9 793.2,334.7 793.7,333.8 794.6,334.5 795.5,332.8 796.4,331.1 796.4,333.6 797.3,333.6 798.2,325.7 799.1,326.5 799.7,326.1 800,323.8 800.9,326.1 801.8,324 802.7,329 803.6,329.7 804.5,336.4 805,336.9 805.4,340.5 806.3,345.9 807.2,348 808.1,351.2 808.2,351.9 809,348.8 809.9,350 810.8,347 811.5,345.5 811.7,345.5 812.6,337.9 813.5,337 814.4,338 814.7,334.7 815.3,333.1 816.2,331.9 817.1,330.1 817.9,330.4 818,332 818.9,333.5 819.8,339 820.7,339.9 821.1,341.2 821.6,346.8 822.5,352.6 823.4,360.2 824.3,360 824.3,362.7 825.2,366.7 826.1,369.7 827,372.5 827.6,375.6 827.9,378.1 828.8,379.3 829.7,377.5 830.6,380.5 831.5,382.5 831.9,382 832.4,381.8 833.3,377.6 834.2,373.7 835.1,373.4 835.1,376.8 836,365 836.9,352.3 837,349.8 837.4,345 837.8,333.4 838.1,335.7 838.3,321.8 838.4,334.7 838.5,321.1 838.8,330.9 839.2,321.3 839.5,327.2 839.9,315.7 840.2,322.2 840.4,313.2 840.6,324 840.6,315.6 840.9,322.5 841.3,312.5 841.6,320.3 842,309.3 842.3,318.4 842.7,308.3 843,318.3 843.4,309.3 843.7,315.4 844.1,304.8 844.4,315 844.7,302.5 844.9,315.4 844.8,304.2 845.1,314.5 845.5,304.2 845.8,309.8 846.2,303.5 846.5,310.6 846.9,299.9 847.2,308.6 847.6,299.5 847.9,310.3 848.3,297.6 848.6,304.8 849,294.5 849,293.9 849.2,308.9 849.3,304.9 849.7,297.9 850,305.6 850.4,293.5 850.7,306.1 851.1,293.1 851.4,306.4 851.8,290.7 852.1,304.7 852.5,295.2 852.8,307 853.2,293.2 853.3,289.6 853.5,306.8 853.5,302.9 853.9,290.7 854.2,302.1 854.6,291.1 854.9,305.9 855.3,291.1 855.6,302 856,290.9 856.3,302.4 856.7,289.2 857,301.1 857.4,292.8 857.7,304.1 858.1,286.5 858.4,304.3 858.8,290.9 859.1,303.1 859.5,290.5 859.8,287.4 859.9,304.6 859.8,301.7 860.2,290.8 860.5,304.6 860.9,288.2 861.2,302.6 861.6,287.3 861.9,299.2 862.3,286.5 862.6,300.7 863,286.4 863.3,303.1 863.7,286.7 864,303.1 864.4,286.1 864.7,298.9 865.1,287.9 865.4,299.9 865.8,287.2 866.1,299 866.2,285.3 866.3,302.5 866.5,287.2 866.8,300.7 867.2,286.4 867.5,300.8 867.9,284.5 868.2,297.6 868.6,285.2 868.9,297.5 869.3,283.5 869.6,298.2 870,285.8 870.3,297.1 870.5,281 870.6,300.3 870.7,284.6 871,299.9 871.4,286.6 871.7,300.6 872.1,285.1 872.4,299.3 872.8,282.1 873.1,302 873.5,285.6 873.8,301.1 874.2,291.9 874.5,305.2 874.8,287.4 874.9,306.8 874.9,290.7 875.2,304.3 875.6,288.2 875.9,306.2 876.3,290.8 876.6,306.7 877,292.8 877.3,306.5 877.7,291.7 878,306.3 878.4,292.9 878.7,303.8 879.1,289.3 879.4,303.9 879.8,288.2 880.1,307.6 880.5,290.3 880.8,305.4 881.2,288.1 881.2,289.6 881.4,306.8 881.5,305.2 881.9,294 882.2,306.8 882.6,292.2 882.9,308 883.3,292.4 883.6,305.5 884,295.1 884.3,305.3 884.7,292.3 885,308 885.4,292.9 885.7,306.7 886.1,297.9 886.4,307.8 886.8,294.1 887.1,308.7 887.5,296.3 887.7,293.9 887.8,308.9 887.8,307.9 888.2,295.7 888.5,308.3 888.9,301 889.2,311.3 889.6,298.7 889.9,311.6 890.3,305.5 890.6,311 891,304.2 891.3,313.7 891.7,305.6 891.9,304.6 892.1,317.5 892,314.7 892.4,307.8 892.7,319.9 893.1,309 893.4,320.4 893.8,312.5 894.1,321.4 894.5,315.7 894.8,326.6 895.2,318.3 895.5,329.6 895.9,320.4 896.2,330.3 896.2,319.7 896.4,332.6 896.6,324.8 896.9,335 897.3,327.7 897.6,339 898,330.3 898.3,343.4 898.7,334 898.8,334.7 899,345.5 899,346.8 899.4,343.1 900.1,362.7 901,373.7 901.9,384.7 902.2,386.3 902.8,383 903.7,378.3 904.6,373 904.8,373.4 905.5,370.2 906.4,363.7 907.3,362.1 908,358.4 908.2,357.2 909.1,355 910,354.7 910.9,354 911.3,354.1 911.8,350.9 912.7,351.5 913.6,354.9 914.5,350.2 915.4,349.6 915.5,349.8 916.3,348.7 917.2,347.9 918.1,345.9 919,347.3 919.9,345.5 919.9,343.5 920.8,340.5 921.7,342.9 922.6,340.7 923.5,337.3 924.1,336.9 924.4,338 925.3,335.4 926.2,333.2 927.1,331.8 928,330.4 928.4,330.4 928.9,334.7 929.8,333.6 930.7,332.6 931.6,336.4 932.5,333.1 932.7,334.7 933.4,338.7 934.3,338.4 935.2,337.8 936.1,337.4 937,339.4 937,339 937.9,334.5 938.8,333.1 939.2,332.6 939.7,333.1 940.6,325.9 941.5,321 942.4,320.4 943.3,314.5 943.5,314.3 944.2,319.2 945.1,319.3 946,320.6 946.9,324.7 947.8,326.1 947.8,325.2 948.7,325.1 949.6,328.7 950.5,326.6 951.4,328.8 952,328.3 952.3,330.5 953.2,327.7 954.1,326 955,322.2 955.9,324.1 956.3,321.8 956.8,325.6 957.7,323.9 958.6,323 959.5,325.8 960.4,328.2 960.6,328.3 961.3,326.3 962.2,325.6 963.1,323.4 963.2,326.1"/>
<path d="M837 595V200" stroke="#000" stroke-width="2.3" stroke-dasharray="39.3 23.2" fill="none"/>
<path d="M900.1 595V200" stroke="#000" stroke-width="2.3" stroke-dasharray="39.3 23.2" fill="none"/>
<path d="M824.4 595v-5.5M824.4 200v5.5M874.9 595v-5.5M874.9 200v5.5M925.3 595v-5.5M925.3 200v5.5M773.9 242.3h5.5M963.2 242.3h-5.5M773.9 312.9h5.5M963.2 312.9h-5.5M773.9 383.4h5.5M963.2 383.4h-5.5M773.9 453.9h5.5M963.2 453.9h-5.5M773.9 524.5h5.5M963.2 524.5h-5.5M773.9 595h5.5M963.2 595h-5.5" stroke="#262626" stroke-width="2" fill="none"/>
<rect x="773.9" y="200" width="189.3" height="395" fill="none" stroke="#262626" stroke-width="2.4"/>
<polyline clip-path="url(#c04)" fill="none" stroke="#EDB120" stroke-width="3.3" stroke-linejoin="round" points="988.5,506.7 989.1,499.8 989.9,484.6 990.5,471.9 990.6,474.5 991.2,476.4 992,476.4 992.6,483.4 993.4,486 993.8,485.2 994,489.8 994.8,468 995.5,474.1 996.1,470.2 996.9,466.6 997,463.7 997.5,454.3 998.2,448.7 999,440.6 999.2,437.9 999.6,441.4 1000.4,448.6 1001,464.5 1001.4,463.7 1001.8,464.5 1002.5,466.1 1003.1,481.6 1003.5,474.5 1003.9,489.9 1004.5,500.8 1005.2,520.7 1005.6,528.3 1006,528.4 1006.6,543.5 1007.4,546.7 1007.8,560.5 1008,571.7 1008.8,576.8 1009.5,589 1009.9,596.9 1010.1,591.7 1010.9,574.8 1011.5,578 1012.1,560.5 1012.2,558.8 1013,535.4 1013.6,524.3 1014.2,506.8 1014.4,501.8 1015,509 1015.8,514.6 1016.5,508.6 1017.1,520.9 1017.5,517.4 1017.9,511.8 1018.5,504.7 1019.2,510.4 1020,506.6 1020.6,499.8 1021.4,499 1021.8,496 1022,498.6 1022.8,509.4 1023.5,507.3 1023.9,517.4 1024.2,512.2 1024.8,495.9 1025.5,491 1026.2,479.3 1027,473.5 1027.1,474.5 1027.7,475.8 1028.3,462.1 1029,455.6 1029.3,455.1 1029.8,455.1 1030.5,464.2 1031.2,481.3 1031.8,483.9 1032.5,485.2 1032.5,482.5 1033.2,484.2 1034,475.5 1034.7,476 1034.7,474.5 1035.3,493.7 1036,501 1036.8,521.2 1036.8,517.5 1037.5,529.1 1038.2,536.5 1038.8,564.2 1039,560.3 1039.5,576.3 1040.2,584.7 1041,591.2 1041.1,599 1041.7,603.2 1042.3,602.6 1043,607.9 1043.8,611.6 1044.3,614.2 1044.5,617 1045.2,609.6 1045.8,615.9 1046.5,614 1047.2,613.4 1048,613.1 1048.7,617.5 1049.3,615.9 1049.7,614.2 1050,610.3 1050.8,597.1 1051.5,587.4 1051.7,581.9 1052.9,587.4 1053.2,543.7 1053.5,575.5 1053.8,520.3 1054.1,562.9 1054.4,520.3 1054.7,572.4 1055,517.3 1055.3,560.2 1055.6,495.4 1055.9,540.5 1056.2,463.7 1056.3,560.4 1056.2,482.3 1056.5,540.5 1056.8,464.7 1057.1,554.1 1057.4,472.7 1057.7,544.1 1058,449 1058.3,539 1058.6,458.9 1058.9,553.6 1059.2,428.5 1059.4,425 1059.5,556.1 1059.5,550.8 1059.8,455.3 1060.1,546.6 1060.4,439.2 1060.7,555.4 1061,452.4 1061.3,529 1061.6,433 1061.9,551.4 1062.2,442.1 1062.5,567.9 1062.6,422.9 1062.8,564.7 1062.8,427 1063.1,545.6 1063.4,443.1 1063.7,556.6 1064,454.6 1064.3,539.7 1064.6,449.5 1064.9,570.7 1065.2,460.5 1065.5,565.6 1065.8,463.7 1066,573.3 1065.8,465.2 1066.1,571.3 1066.4,470.7 1066.7,555.7 1067,471.9 1067.3,574.6 1067.6,495.5 1067.9,568.6 1068.2,489.9 1068.5,554.4 1068.8,496.2 1069.1,564.3 1069.4,494.4 1069.7,593.2 1070,461.9 1070.1,474.4 1070.3,588.4 1070.3,601.7 1070.6,495.9 1070.9,546.6 1071.2,473.5 1071.5,569.4 1071.8,484.5 1072.1,562.2 1072.4,458.2 1072.7,593.4 1073,455.6 1073.3,565.3 1073.6,478.8 1073.9,550.8 1074.2,472.3 1074.4,437.9 1074.6,577.6 1074.5,562.9 1074.8,452 1075.1,575.9 1075.4,456.3 1075.7,576.7 1076,481.5 1076.3,570 1076.6,457.2 1076.9,578.2 1077.2,466.9 1077.5,573.2 1077.8,486 1078.1,575.5 1078.4,461.8 1078.7,453 1078.9,581.9 1078.7,547.6 1079,467 1079.3,580.4 1079.6,463.8 1079.9,569.2 1080.2,438.8 1080.5,538.5 1080.8,483.1 1081.1,558.3 1081.4,450 1081.7,573.7 1082,420.7 1082.1,581.9 1082,456.1 1082.3,560.5 1082.6,439.9 1082.9,551.6 1083.2,431.9 1083.5,579.4 1083.8,480.2 1084.1,570.9 1084.4,443.2 1084.7,561.2 1085,491.3 1085.2,448.7 1085.3,573.3 1085.3,547.7 1085.6,486.4 1085.9,553.8 1086.2,468.1 1086.5,567.8 1086.8,460.6 1087.1,564.4 1087.4,447.9 1087.7,537 1088,458 1088.3,577.2 1088.6,450.1 1088.9,566.7 1089.2,472.8 1089.5,446.5 1089.6,581.9 1089.5,569.2 1089.8,463.9 1090.1,568.5 1090.4,466 1090.7,540.8 1091,469.6 1091.3,583.8 1091.6,475.4 1091.9,570.8 1092.2,456.7 1092.5,583 1092.8,455.1 1093.1,581.7 1093.4,488 1093.7,579.9 1093.8,470.2 1093.9,588.4 1094,480.8 1094.3,576.4 1094.6,473.1 1094.9,563 1095.2,484.8 1095.5,583.9 1095.8,476.1 1096.1,594.6 1096.4,476.5 1096.7,557.8 1097,478.5 1097.3,589 1097.6,479.7 1097.9,555.4 1098.2,462.4 1098.5,554.2 1098.8,467.8 1099.1,586.6 1099.2,448.7 1099.3,592.7 1099.4,483.7 1099.7,587.3 1100,508.6 1100.3,588.9 1100.6,472.6 1100.9,583.7 1101.2,472.7 1101.5,591.2 1101.8,501.1 1102.1,587.9 1102.4,485.2 1102.5,597 1102.4,497 1102.7,573.4 1103,512.3 1103.3,595.4 1103.6,487.7 1103.9,566.5 1104.2,482.8 1104.5,564.8 1104.8,479.8 1105.1,595.5 1105.4,506.4 1105.7,598.3 1106,507.1 1106.3,563.6 1106.6,504.4 1106.7,463.7 1106.8,603.4 1106.9,592.3 1107.2,485.6 1107.5,558.3 1107.8,494.1 1108.1,595.7 1108.4,480.5 1108.7,568.3 1109,491.6 1109.3,598.1 1109.6,490.1 1109.9,463.7 1110.1,607.7 1109.9,603.2 1110.2,488.5 1110.5,605.4 1110.8,499.7 1111.1,603.9 1111.4,517.1 1111.7,593.9 1112,530.7 1112.3,607.5 1112.6,531.3 1112.7,517.4 1112.8,607.7 1112.9,605.7 1113.2,554.8 1113.5,603.9 1113.8,559.8 1114.8,614.2 1115.5,612.4 1116.2,614 1117,618.2 1117.7,611.7 1118.3,615.3 1118.5,614.2 1119,608.4 1119.8,603.3 1120.5,592.7 1120.7,592.7 1121.2,587.6 1121.8,567.7 1122.5,562.3 1123.2,555.3 1123.9,539 1124,543.3 1124.7,566 1125.3,582 1126,599 1126,598.6 1126.8,585.6 1127.5,578.9 1128.2,572.4 1128.8,566.8 1129.2,560.4 1129.5,554.8 1130.2,554.3 1131,551.5 1131.7,557.1 1132.3,544 1132.5,549.7 1133,557.8 1133.8,573.3 1134.5,592.6 1134.6,592.6 1135.2,583.5 1135.8,575.3 1136.5,562.4 1137.2,565.2 1137.8,549.7 1138,550.2 1138.7,539.5 1139.3,542.3 1140,536.8 1140.8,527 1141.1,530.3 1141.5,538.8 1142.2,544.9 1142.8,549.3 1143.5,559.2 1144.2,561.8 1144.3,560.4 1145,556.3 1145.7,555.3 1146.3,559.1 1147,560.1 1147.5,556.1 1147.8,555.6 1148.5,553.4 1149.2,557.2 1149.8,557.6 1150.5,572.8 1150.7,564.7 1151.2,566.8 1152,576.5 1152.7,579.9 1153.3,586.7 1154,586.2 1154,584.8 1154.8,568.9 1155.5,550.7 1156.2,537.2 1156.8,533.3 1157.2,517.5 1157.5,500.8 1158.2,490.6 1159,479.3 1159.3,470.2 1159.7,472.6 1160.3,474.6 1161,482.6 1161.8,491.7 1162.5,504.6 1162.6,495.9 1163.2,484.1 1163.8,472.9 1164.5,460.1 1165.2,447.7 1165.8,437.9 1166,440.9 1166.7,447.6 1167.3,462.8 1167.9,474.4 1168,472.8 1168.8,487.4 1169.5,495.8 1170.2,515.7 1170.8,526 1171.2,528.2 1171.5,531.3 1172.2,532.9 1173,523.8 1173.7,522 1174.3,516.1 1174.4,517.4 1175,519 1175.8,499.8 1176.5,486 1176.5,489.5 1177.2,518.5 1177.8,528.3 1178,538.8"/>
<polyline clip-path="url(#c04)" fill="none" stroke="#808080" stroke-width="3.0" stroke-linejoin="round" points="989,317.5 989.9,318.8 990.8,322.2 991.7,326.2 992.2,324 992.6,325.5 993.5,328.5 994.4,329 995.3,331.6 995.4,332.6 996.2,330.9 997.1,325.9 997.6,326.1 998,324.1 998.9,322.9 999.8,317.3 1000.7,318.1 1001.6,312.9 1001.9,314.3 1002.5,318.6 1003.4,321.6 1004.3,324.8 1005.1,324 1005.2,322.7 1006.1,327.5 1007,332.5 1007.9,330.8 1008.3,334.7 1008.8,334.6 1009.7,330.5 1010.6,336.2 1011.5,335 1011.5,333.6 1012.4,332 1013.3,328.5 1014.2,327.2 1014.8,326.1 1015.1,323.3 1016,322.5 1016.9,324 1017.8,327.8 1018.7,329.3 1019.6,331.3 1020.1,336.9 1020.5,341.2 1021.4,343.7 1022.3,346.3 1023.2,353.7 1023.3,351.9 1024.1,352.6 1025,348 1025.9,346.3 1026.6,345.5 1026.8,345.2 1027.7,339 1028.6,336.2 1029.5,337.2 1029.8,334.7 1030.4,331.6 1031.3,334.8 1032.2,330.8 1033,330.4 1033.1,332.8 1034,336.8 1034.9,338.4 1035.8,343.6 1036.2,341.2 1036.7,343.7 1037.6,349.6 1038.5,353.8 1039.4,364.1 1039.4,362.7 1040.3,365.3 1041.2,369.7 1042.1,373.8 1042.7,375.6 1043,377 1043.9,377.7 1044.8,379 1045.7,381.1 1046.6,380.7 1047,382 1047.5,380.1 1048.4,379.9 1049.3,375.8 1050.2,373.4 1050.2,376.4 1051.1,364.6 1052,353.6 1052.1,349.8 1052.5,344.4 1052.9,332 1053.2,333.5 1053.4,321.8 1053.5,334.7 1053.6,323 1053.9,329.3 1054.3,319.3 1054.6,328.2 1055,316.9 1055.3,325.5 1055.5,313.2 1055.7,324 1055.7,314.9 1056,324.3 1056.4,312.6 1056.7,320.8 1057.1,310 1057.4,319.4 1057.8,308.9 1058.1,318.1 1058.5,308 1058.8,316.8 1059.2,307.5 1059.5,312.4 1059.8,302.5 1060,315.4 1059.9,303.2 1060.2,314.1 1060.6,302.4 1060.9,312.6 1061.3,301 1061.6,311.9 1062,301.9 1062.3,309.5 1062.7,298.3 1063,308.2 1063.4,297.8 1063.7,310.9 1064.1,296.4 1064.1,293.9 1064.3,308.9 1064.4,307.2 1064.8,291.5 1065.1,308.2 1065.5,294.7 1065.8,303.2 1066.2,292.4 1066.5,304.3 1066.9,291.9 1067.2,304.7 1067.6,291.2 1067.9,306.5 1068.3,291.4 1068.4,289.6 1068.6,306.8 1068.6,305.5 1069,293.8 1069.3,305.4 1069.7,289.9 1070,303.9 1070.4,289.2 1070.7,301.2 1071.1,291.3 1071.4,305.5 1071.8,293.1 1072.1,302.5 1072.5,291.4 1072.8,304.6 1073.2,289.1 1073.5,304.9 1073.9,290.9 1074.2,300.1 1074.6,289.1 1074.9,287.4 1075,304.6 1074.9,304.9 1075.3,289.2 1075.6,301.1 1076,287.4 1076.3,300.5 1076.7,290.3 1077,299.6 1077.4,289.1 1077.7,299.4 1078.1,290.9 1078.4,300.3 1078.8,287.1 1079.1,300.9 1079.5,286.8 1079.8,300.4 1080.2,289.3 1080.5,300.7 1080.9,288.3 1081.2,298 1081.3,285.3 1081.4,302.5 1081.6,288 1081.9,299.7 1082.3,288.3 1082.6,298.6 1083,282 1083.3,298.8 1083.7,286.7 1084,300.3 1084.4,285.6 1084.7,297 1085.1,284.9 1085.4,299.4 1085.6,281 1085.7,300.3 1085.8,281.8 1086.1,301.6 1086.5,286.4 1086.8,301.4 1087.2,286.3 1087.5,303.2 1087.9,282.1 1088.2,300.3 1088.6,290.7 1088.9,302 1089.3,290.3 1089.6,301.9 1089.9,287.4 1090,306.8 1090,287.6 1090.3,305.3 1090.7,291.6 1091,308.2 1091.4,291.2 1091.7,304 1092.1,292.1 1092.4,305.1 1092.8,290.7 1093.1,306.2 1093.5,293.1 1093.8,304.6 1094.2,290.9 1094.5,306.3 1094.9,294.7 1095.2,300.8 1095.6,293.8 1095.9,305.9 1096.3,292.9 1096.3,289.6 1096.5,306.8 1096.6,305.6 1097,291.3 1097.3,304.5 1097.7,291.9 1098,303 1098.4,293.6 1098.7,304.9 1099.1,293.3 1099.4,307.1 1099.8,294.8 1100.1,307.6 1100.5,293.2 1100.8,307.5 1101.2,297.1 1101.5,304.2 1101.9,296.1 1102.2,307 1102.6,294.8 1102.8,293.9 1102.9,308.9 1102.9,308.6 1103.3,298 1103.6,309.9 1104,299.4 1104.3,308.5 1104.7,300.7 1105,311 1105.4,302.2 1105.7,314.5 1106.1,303.2 1106.4,315.9 1106.8,305.4 1107,304.6 1107.2,317.5 1107.1,315.2 1107.5,306.8 1107.8,316.5 1108.2,307.3 1108.5,321.2 1108.9,312.6 1109.2,323.8 1109.6,313.8 1109.9,324.3 1110.3,317.1 1110.6,329.1 1111,318 1111.3,331.9 1111.3,319.7 1111.5,332.6 1111.7,323.2 1112,332.9 1112.4,326 1112.7,337.7 1113.1,332.2 1113.4,342.5 1113.8,336 1113.9,334.7 1114.1,345.5 1114.1,346.3 1114.5,343.4 1115.2,362.7 1116.1,373.3 1117,380.4 1117.3,386.3 1117.9,384.2 1118.8,379.2 1119.7,374.5 1119.9,373.4 1120.6,366.9 1121.5,366.3 1122.4,361.1 1123.1,358.4 1123.3,355 1124.2,356.6 1125.1,355.3 1126,353.2 1126.4,354.1 1126.9,352.9 1127.8,355.9 1128.7,353.5 1129.6,349.4 1130.5,350.4 1130.7,349.8 1131.4,352.8 1132.3,347.5 1133.2,348 1134.1,346.7 1135,345.5 1135,341.6 1135.9,345.9 1136.8,342 1137.7,341.2 1138.6,340.1 1139.2,336.9 1139.5,337.2 1140.4,333 1141.3,332.9 1142.2,331.4 1143.1,328.5 1143.5,330.4 1144,330.8 1144.9,332.3 1145.8,334 1146.7,336.7 1147.6,335.3 1147.8,334.7 1148.5,333.6 1149.4,335.9 1150.3,333.4 1151.2,337.1 1152.1,340.3 1152.1,339 1153,337.2 1153.9,332.4 1154.3,332.6 1154.8,329.9 1155.7,327.5 1156.6,322.9 1157.5,318.2 1158.4,318.7 1158.5,314.3 1159.3,315.9 1160.2,321 1161.1,321.3 1162,327.6 1162.8,326.1 1162.9,326.8 1163.8,325.2 1164.7,328.8 1165.6,328.5 1166.5,327 1167.1,328.3 1167.4,324.3 1168.3,328.6 1169.2,324.1 1170.1,323.2 1171,325.7 1171.4,321.8 1171.9,324.7 1172.8,323.3 1173.7,326 1174.6,327.2 1175.5,326.1 1175.7,328.3 1176.4,329.6 1177.3,326 1178.2,329 1178.3,326.1"/>
<path d="M1052.1 595V200" stroke="#000" stroke-width="2.3" stroke-dasharray="39.3 23.2" fill="none"/>
<path d="M1115.2 595V200" stroke="#000" stroke-width="2.3" stroke-dasharray="39.3 23.2" fill="none"/>
<path d="M1039.5 595v-5.5M1039.5 200v5.5M1090 595v-5.5M1090 200v5.5M1140.4 595v-5.5M1140.4 200v5.5M989 242.3h5.5M1178.3 242.3h-5.5M989 312.9h5.5M1178.3 312.9h-5.5M989 383.4h5.5M1178.3 383.4h-5.5M989 453.9h5.5M1178.3 453.9h-5.5M989 524.5h5.5M1178.3 524.5h-5.5M989 595h5.5M1178.3 595h-5.5" stroke="#262626" stroke-width="2" fill="none"/>
<rect x="989" y="200" width="189.3" height="395" fill="none" stroke="#262626" stroke-width="2.4"/>
<polyline clip-path="url(#c05)" fill="none" stroke="#0072BD" stroke-width="3.3" stroke-linejoin="round" points="1204.5,474.4 1205.2,462.6 1205.8,446.5 1206.5,447 1206.6,442.2 1207.2,443 1208,441.2 1208.7,450.2 1209.3,452.6 1209.8,442.2 1210,434.3 1210.8,437.7 1211.5,433 1212,425 1212.2,428.2 1212.8,433.4 1213.5,430.3 1214.2,448.4 1215,447.1 1215.2,448.6 1215.7,452.9 1216.3,446.9 1217,448.2 1217.8,443.1 1218.4,442.2 1218.5,445.5 1219.2,458.9 1219.8,468.9 1220.5,488.5 1220.6,485.2 1221.2,492.6 1222,517.1 1222.7,527.7 1222.7,528.2 1223.3,533.1 1224,536.3 1224.8,537.6 1224.9,538.9 1225.5,523.2 1226.2,508.5 1226.8,484.2 1227,485.2 1227.5,482.4 1228.2,473.8 1229,473.1 1229.2,470.2 1229.7,481.3 1230.3,464.1 1231,474.9 1231.3,474.4 1231.8,475.1 1232.5,458.9 1233.2,450.4 1233.8,446.2 1234.1,446.5 1234.5,458.1 1235.2,467.8 1236,498.2 1236.7,497.9 1236.7,506.6 1237.3,521.4 1238,534.9 1238.8,549.4 1239.3,560.4 1239.5,555.9 1240.2,540.5 1240.8,526.4 1241.5,517.5 1242.1,495.9 1242.2,487.5 1243,484 1243.7,465.4 1244.3,451.5 1245,440.2 1245.3,433.6 1245.8,439 1246.5,447.5 1247.2,458.5 1247.8,469.8 1248.5,485.2 1248.5,489.9 1249.2,502.9 1250,494 1250.7,498.4 1251.3,501 1251.7,506.7 1252,502.9 1252.8,499.4 1253.5,513 1254.2,503.3 1254.8,505.4 1255,506.7 1255.5,516.3 1256.2,524 1257,532.7 1257.7,540.9 1258.2,549.7 1258.3,539.8 1259,553.2 1259.8,555.5 1260.5,560.6 1261.2,553.4 1261.4,560.4 1261.8,566.9 1262.5,571.1 1263.2,565.7 1264,581.1 1264.6,581.9 1264.7,588.6 1265.3,585.7 1266,594.2 1266.8,596.4 1266.8,594.7 1267.5,558.1 1268.1,538.9 1269.4,491.2 1269.7,458 1270,490.7 1270.3,448.9 1270.6,483.5 1270.9,438.8 1271.2,477.7 1271.5,427.4 1271.8,475.9 1272.1,433.5 1272.2,410 1272.3,485.2 1272.4,471.9 1272.7,432.8 1273,485.1 1273.3,424.4 1273.6,490.8 1273.9,422 1274.2,482.6 1274.5,424 1274.8,493 1275.1,421.4 1275.4,492.4 1275.4,392.8 1275.5,506.7 1275.7,414.2 1276,490.4 1276.3,403.5 1276.6,492.7 1276.9,376.9 1277.2,497.6 1277.5,420.9 1277.8,492.6 1278.1,427.2 1278.4,460.7 1278.6,388.5 1278.8,500.2 1278.7,407.1 1279,460.8 1279.3,415.4 1279.6,486.2 1279.9,383.3 1280.2,498.1 1280.5,437.1 1280.8,399.2 1280.9,506.7 1280.8,504.3 1281.1,426.8 1281.4,508.5 1281.7,421.7 1282,487.3 1282.3,424 1282.6,510.6 1282.9,437.2 1283.2,489.6 1283.5,429.4 1283.8,499.4 1284,431.5 1284.1,530.3 1284.1,455.5 1284.4,505 1284.7,435.4 1285,507.5 1285.3,449.9 1285.6,510.8 1285.9,445.3 1286.2,509 1286.5,452.1 1286.8,501.3 1287.1,440.4 1287.4,499.1 1287.7,439.6 1288,484.1 1288.3,450.5 1288.3,431.5 1288.4,495.9 1288.6,493.8 1288.9,445.9 1289.2,487.5 1289.5,445 1289.8,485.7 1290.1,437.8 1290.4,475.7 1290.7,419.1 1291,491.3 1291.3,417 1291.5,401.4 1291.7,491.6 1291.6,488.4 1291.9,407.2 1292.2,486.5 1292.5,404.7 1292.8,488.3 1293.1,415 1293.4,474.9 1293.7,426.6 1294,483.5 1294.3,414.8 1294.6,495.5 1294.7,410 1294.9,495.9 1294.9,412.7 1295.2,488.7 1295.5,403.9 1295.8,501.6 1296.1,408.3 1296.4,467.5 1296.7,422.1 1296.9,388.5 1297,495.9 1297,480.6 1297.3,404 1297.6,480.5 1297.9,429.2 1298.2,498.5 1298.5,414.5 1298.8,494.4 1299.1,397.7 1299.4,478.9 1299.7,418.4 1300,502.9 1300.3,415.9 1300.6,496.6 1300.9,412.3 1301.2,475.3 1301.2,410 1301.3,506.7 1301.5,422 1301.8,479 1302.1,428.4 1302.4,490.4 1302.7,430 1303,508.8 1303.3,434.9 1303.6,512.2 1303.9,438.7 1304.2,485.6 1304.5,423.1 1304.8,510.9 1305.1,422.1 1305.4,512.9 1305.5,420.7 1305.6,517.4 1305.7,422.3 1306,499.8 1306.3,414.6 1306.6,522.9 1306.9,417.4 1307.2,515.1 1307.5,444.7 1307.6,410 1307.8,534.6 1307.8,531.3 1308.1,422 1308.4,524.7 1308.7,414.2 1309,520.3 1309.3,423.8 1309.6,503.7 1309.8,392.8 1309.9,517.4 1309.9,410.2 1310.2,484.9 1310.5,407.5 1310.8,511.7 1311.1,395.6 1311.4,479.2 1311.7,411.1 1312,507.8 1312.3,425.5 1312.6,513.8 1312.9,411.4 1313.2,497.2 1313.5,400.6 1313.8,489.7 1314.1,436.2 1314.1,394.9 1314.2,513.1 1314.4,481 1314.7,417.3 1315,490.9 1315.3,403.8 1315.6,485.7 1315.9,410.8 1316.2,527.4 1316.5,427.6 1316.8,511.6 1317.1,439.2 1317.4,517.1 1317.7,453.2 1318,506.3 1318.3,431.2 1318.4,431.5 1318.5,528.2 1318.6,525.6 1318.9,434.4 1319.2,516.3 1319.5,437.4 1319.8,507.8 1320.1,435.1 1320.4,533.3 1320.7,423 1321,511.2 1321.3,451.6 1321.6,533.4 1321.9,408.4 1322.2,526.1 1322.5,430.2 1322.7,414.3 1322.8,538.9 1322.8,511.7 1323.1,453.8 1323.4,516.6 1323.7,436.9 1324,544.4 1324.3,454.2 1324.6,544.5 1324.9,451.1 1325.2,551.1 1325.5,466.7 1325.8,533.6 1326.1,437.7 1326.4,536.7 1326.7,454.7 1327,550.6 1327,453 1327.1,560.4 1327.3,477.9 1327.6,552.7 1327.9,466.4 1328.2,551.7 1328.5,469.5 1328.8,573.8 1329.1,502.4 1329.4,544.4 1330.8,594.8 1331.5,599.2 1332.2,591.6 1332.3,592.7 1333,589.1 1333.7,575.6 1334.3,578.4 1335,568.6 1335.6,560.4 1335.8,560.5 1336.5,544.2 1337.2,534.1 1337.8,535.1 1338.5,518.1 1338.8,517.4 1339.2,509.5 1340,527.8 1340.7,527.6 1341.3,537.4 1342,538.9 1342,526.9 1342.8,558 1343.5,579.1 1344.2,590.8 1344.2,590.4 1344.8,573.3 1345.5,557.5 1346.2,539.3 1346.3,539 1347,525.4 1347.7,509.1 1348.3,497.4 1348.5,496 1349,507.2 1349.8,502.5 1350.5,505.4 1351.2,525.1 1351.7,528.1 1351.8,530.3 1352.5,500.5 1353.2,478.1 1353.8,474.4 1354,469.9 1354.7,476.5 1355.3,473 1356,469.9 1356.8,468.3 1357.1,463.7 1357.5,467.6 1358.2,482.3 1358.8,512.8 1359.2,517.4 1359.5,518.7 1360.2,545.9 1361,556.4 1361.4,560.4 1361.7,554.5 1362.3,576.6 1363,589.5 1363.1,592.7 1363.8,571.3 1364.5,552.5 1365.2,545.2 1365.7,528.2 1365.8,516.2 1366.5,511.4 1367.2,500.5 1367.8,485.2 1368,484.1 1368.7,487.9 1369.3,483.9 1370,478.8 1370,487.6 1370.8,483 1371.5,478.1 1372.2,477 1372.8,488 1373.2,485.2 1373.5,483.7 1374.2,463.2 1375,460.4 1375.7,450.5 1376,446.5 1376.3,453.2 1377,475.8 1377.8,480 1378.5,496.5 1378.6,495.9 1379.2,486.4 1379.8,475.6 1380.5,470.3 1381.2,459.7 1381.8,463.7 1382,461.7 1382.7,461.9 1383.3,471.8 1384,468.6 1384.8,467.4 1385,474.4 1385.5,472.9 1386.2,459.8 1386.8,442.5 1387.2,442.2 1387.5,441.8 1388.2,433.4 1389,451.3 1389.7,437.7 1390.3,444.8 1390.4,437.9 1391,455.2 1391.8,464.1 1392.5,469.9 1392.5,474.4 1393.2,459 1393.8,438.8 1394,429.4"/>
<polyline clip-path="url(#c05)" fill="none" stroke="#808080" stroke-width="3.0" stroke-linejoin="round" points="1205.1,317.5 1206,316.5 1206.9,320.1 1207.8,321.6 1208.3,324 1208.7,321.6 1209.6,326.8 1210.5,332.8 1211.4,332.3 1211.5,332.6 1212.3,330.9 1213.2,327.9 1213.7,326.1 1214.1,321.3 1215,323.4 1215.9,322.1 1216.8,318.4 1217.7,315.4 1218,314.3 1218.6,312.3 1219.5,321.4 1220.4,320.6 1221.2,324 1221.3,325 1222.2,324.9 1223.1,329.4 1224,334.5 1224.5,334.7 1224.9,333.2 1225.8,338.1 1226.7,333.7 1227.6,334.3 1227.7,333.7 1228.5,329.2 1229.4,331.8 1230.3,325.8 1230.9,326.1 1231.2,326.5 1232.1,323 1233,323.7 1233.1,324 1233.9,324.3 1234.8,330.8 1235.7,335.4 1236.3,336.9 1236.6,338 1237.5,342 1238.4,346 1239.3,351 1239.5,351.9 1240.2,348.7 1241.1,347.4 1242,346.8 1242.7,345.5 1242.9,346.4 1243.8,343.5 1244.7,341.4 1245.6,336.6 1246,334.7 1246.5,333.4 1247.4,334.6 1248.3,331.1 1249.2,330.4 1249.2,333 1250.1,333 1251,338.3 1251.9,338.4 1252.4,341.2 1252.8,342.2 1253.7,350.4 1254.6,356.6 1255.5,359.7 1255.6,362.6 1256.4,368.9 1257.3,369.7 1258.2,373.8 1258.9,375.6 1259.1,375.9 1260,380.4 1260.9,376.7 1261.8,378.4 1262.7,378.6 1263.2,382 1263.6,384 1264.5,381 1265.4,377.6 1266.3,372.2 1266.4,373.4 1267.2,365.1 1268.1,354.4 1268.3,349.8 1268.8,345.4 1269.1,331.1 1269.5,336.9 1269.6,321.8 1269.8,334.7 1269.8,321.1 1270.2,330.9 1270.5,320 1270.9,325.5 1271.2,317.8 1271.6,324.7 1271.8,313.2 1271.9,324 1271.9,313.2 1272.3,321.8 1272.6,311.6 1273,320.6 1273.3,311.5 1273.7,318.7 1274,308.1 1274.4,315.9 1274.7,306.5 1275.1,317.5 1275.4,305 1275.8,312.5 1276.1,302.5 1276.2,315.4 1276.1,302.6 1276.5,313.3 1276.8,299.5 1277.2,312.3 1277.5,302.3 1277.9,312.5 1278.2,300.5 1278.6,310.1 1278.9,301.5 1279.3,307 1279.6,295.1 1280,308.3 1280.3,294 1280.4,293.9 1280.5,308.9 1280.7,310.6 1281,295.3 1281.4,303.5 1281.7,294.7 1282.1,305.6 1282.4,293.5 1282.8,306.6 1283.1,292.4 1283.5,306.2 1283.8,293.7 1284.2,304.3 1284.5,290.4 1284.7,289.6 1284.8,306.8 1284.9,305 1285.2,289.8 1285.6,306.3 1285.9,289.9 1286.3,305.6 1286.6,291.4 1287,305.2 1287.3,290.7 1287.7,306.8 1288,293.3 1288.4,300.6 1288.7,292.1 1289.1,304.3 1289.4,290.7 1289.8,303.2 1290.1,289.9 1290.5,302.5 1290.8,288.8 1291.1,287.4 1291.3,304.6 1291.2,303.3 1291.5,288.3 1291.9,301.4 1292.2,292 1292.6,303.7 1292.9,291 1293.3,303.1 1293.6,287.2 1294,300.6 1294.3,287.5 1294.7,300.1 1295,288.9 1295.4,299.4 1295.7,287.1 1296.1,301.6 1296.4,291.7 1296.8,299.4 1297.1,285.6 1297.5,297.3 1297.6,285.3 1297.7,302.5 1297.8,289.4 1298.2,302.8 1298.5,286.6 1298.9,298.4 1299.2,286.3 1299.6,299.7 1299.9,285.2 1300.3,295.8 1300.6,285.8 1301,299 1301.3,283.4 1301.7,295.9 1301.9,281 1302,300.3 1302,282 1302.4,298.1 1302.7,284.9 1303.1,300 1303.4,284.4 1303.8,301.3 1304.1,286.9 1304.5,302.6 1304.8,286.1 1305.2,301.6 1305.5,286.5 1305.9,308.6 1306.2,287.4 1306.3,306.8 1306.2,285.6 1306.6,302 1306.9,294.5 1307.3,303.5 1307.6,290.5 1308,305.6 1308.3,288.3 1308.7,302.2 1309,288.8 1309.4,304.6 1309.7,292 1310.1,302.6 1310.4,292.1 1310.8,304.9 1311.1,294.2 1311.5,304.6 1311.8,293.1 1312.2,304.1 1312.5,291.3 1312.6,289.6 1312.8,306.8 1312.9,303.6 1313.2,295.8 1313.6,305.2 1313.9,293.5 1314.3,305.1 1314.6,295.8 1315,304.1 1315.3,294.8 1315.7,304.2 1316,294.6 1316.4,307 1316.7,290.5 1317.1,306.8 1317.4,294.7 1317.8,307.2 1318.1,293.5 1318.5,304.2 1318.8,294.1 1319.1,293.9 1319.2,308.9 1319.2,308 1319.5,295.3 1319.9,309.9 1320.2,297.4 1320.6,309.9 1320.9,299.1 1321.3,313.1 1321.6,301.1 1322,312.5 1322.3,303.6 1322.7,313.3 1323,304.1 1323.4,316.5 1323.4,304.6 1323.5,317.5 1323.7,307.1 1324.1,315.3 1324.4,308.3 1324.8,320.5 1325.1,313.4 1325.5,320.6 1325.8,313.7 1326.2,324.5 1326.5,317.7 1326.9,329.5 1327.2,319 1327.6,327.5 1327.7,319.7 1327.8,332.6 1327.9,324.5 1328.3,332.8 1328.6,326 1329,338.1 1329.3,330.5 1329.7,342 1330,334.3 1330.3,334.7 1330.4,345.5 1330.4,344.5 1330.7,342 1331.1,352.4 1331.6,362.7 1332.5,374.5 1333.4,382.2 1333.7,386.3 1334.3,383.6 1335.2,381.5 1336.1,377.2 1336.3,373.4 1337,370.7 1337.9,364.6 1338.8,360.6 1339.5,358.4 1339.7,357 1340.6,358.4 1341.5,355.4 1342.4,352.5 1342.8,354.1 1343.3,350.6 1344.2,355.4 1345.1,351.6 1346,352.7 1346.9,351.4 1347,349.8 1347.8,348.8 1348.7,347.6 1349.6,345.9 1350.5,345.3 1351.3,345.5 1351.4,342.4 1352.3,341.7 1353.2,342.2 1354.1,340.8 1355,339.4 1355.7,336.9 1355.9,337.7 1356.8,339 1357.7,333.1 1358.6,332.5 1359.5,333.2 1360,330.4 1360.4,328.3 1361.3,332.2 1362.2,332.3 1363.1,334.2 1364,335.5 1364.3,334.7 1364.9,332 1365.8,337.6 1366.7,335.1 1367.6,338.5 1368.5,339.2 1368.6,339 1369.4,339.1 1370.3,332.4 1370.7,332.6 1371.2,330 1372.1,326 1373,323.2 1373.9,321.1 1374.8,313.5 1375,314.3 1375.7,314.2 1376.6,320.8 1377.5,319.1 1378.4,320.6 1379.3,326.1 1379.3,326.1 1380.2,325.4 1381.1,326.9 1382,329.3 1382.9,325.9 1383.6,328.3 1383.8,326.1 1384.7,325.6 1385.6,324 1386.5,320.7 1387.4,322.3 1387.9,321.8 1388.3,321.6 1389.2,322.5 1390.1,326.6 1391,326.2 1391.9,326.1 1392.2,328.3 1392.8,329.1 1393.7,329.1 1394.6,328.5 1394.8,326.1"/>
<path d="M1268.3 595V200" stroke="#000" stroke-width="2.3" stroke-dasharray="39.3 23.2" fill="none"/>
<path d="M1331.6 595V200" stroke="#000" stroke-width="2.3" stroke-dasharray="39.3 23.2" fill="none"/>
<path d="M1255.7 595v-5.5M1255.7 200v5.5M1306.3 595v-5.5M1306.3 200v5.5M1356.9 595v-5.5M1356.9 200v5.5M1205.1 242.3h5.5M1394.8 242.3h-5.5M1205.1 312.9h5.5M1394.8 312.9h-5.5M1205.1 383.4h5.5M1394.8 383.4h-5.5M1205.1 453.9h5.5M1394.8 453.9h-5.5M1205.1 524.5h5.5M1394.8 524.5h-5.5M1205.1 595h5.5M1394.8 595h-5.5" stroke="#262626" stroke-width="2" fill="none"/>
<rect x="1205.1" y="200" width="189.7" height="395" fill="none" stroke="#262626" stroke-width="2.4"/>
<polyline clip-path="url(#c06)" fill="none" stroke="#7E2F8E" stroke-width="3.3" stroke-linejoin="round" points="1420.5,442.2 1421.2,438.2 1421.8,454.3 1422.5,451.2 1422.6,457.2 1423.2,447.8 1424,430.1 1424.7,434.7 1424.8,431.4 1425.3,420.8 1426,397.1 1426.8,384.4 1426.9,377.7 1427.5,372 1428.2,368 1428.8,367.6 1429,367 1429.5,377.8 1430.2,394.4 1431,400.9 1431.2,410 1431.7,425.4 1432.3,433.2 1433,431.9 1433.3,431.4 1433.8,426.5 1434.5,418.5 1435.2,409.4 1435.5,399.2 1435.8,397.3 1436.5,385.1 1437.2,390.5 1437.7,388.5 1438,392.9 1438.7,399.7 1439.3,408.7 1439.8,410 1440,408.3 1440.8,428.5 1441.5,413.9 1442.2,431.9 1442.8,421.9 1443,431.5 1443.5,425.5 1444.2,430 1445,423.6 1445.7,415.4 1446.2,410 1446.3,414.4 1447,409 1447.8,407 1448.5,406.1 1449.2,410.8 1449.5,410 1449.8,407.4 1450.5,403.4 1451.2,403.8 1452,401.1 1452.7,395.6 1452.7,399.2 1453.3,405.9 1454,400.3 1454.8,401.4 1455.5,414.4 1455.9,409.9 1456.2,408.9 1456.8,398.2 1457.5,395.4 1458.1,388.4 1458.2,389.4 1459,375.3 1459.7,364.3 1460.2,362.7 1460.3,362.4 1461,368.4 1461.8,374.1 1462.5,364.3 1463.2,368.8 1463.4,367 1463.8,372.7 1464.5,360.7 1465.2,364.6 1466,361.3 1466.7,360.6 1466.7,362.7 1467.3,366.6 1468,372.7 1468.8,371.8 1469.5,385.8 1469.9,388.5 1470.2,386.7 1470.8,412.6 1471.5,429 1472,442.2 1472.2,448.3 1473,448 1473.7,453.7 1474.3,453.1 1475,463 1475.3,452.9 1475.8,446.8 1476.5,461.4 1477.2,465.6 1477.4,463.7 1477.8,472.6 1478.5,467.2 1479.2,473.5 1480,477.2 1480.6,480.9 1480.7,485.6 1481.3,481.3 1482,463.4 1482.8,462.9 1482.8,463.6 1483.5,433 1484.1,410 1485.4,389.7 1485.7,325.6 1486,378.8 1486.3,326 1486.6,381.1 1486.9,337.1 1487.2,398.4 1487.5,338.8 1487.8,395.6 1488.1,328.8 1488.4,394 1488.7,331.7 1489,403.8 1489.2,315.4 1489.4,410 1489.3,321.6 1489.6,405.7 1489.9,319 1490.2,393.8 1490.5,316.9 1490.8,394.3 1491.1,333.5 1491.4,420.9 1491.7,350.7 1492,399.8 1492.3,351.1 1492.5,345.5 1492.6,431.5 1492.6,410.1 1492.9,354.8 1493.2,430.3 1493.5,352.1 1493.8,421 1494.1,340 1494.4,431.7 1494.7,352.2 1495,418 1495.3,363.8 1495.6,436.5 1495.9,345.9 1496.2,459.8 1496.5,348.9 1496.8,328.3 1496.9,468 1496.8,452.7 1497.1,317.1 1497.4,435.5 1497.7,341.8 1498,450.1 1498.3,327.4 1498.6,427.6 1498.9,351.5 1499.2,418.5 1499.5,326.5 1499.8,416.6 1500,324 1500.1,420.7 1500.1,349.6 1500.4,392 1500.7,324.4 1501,397.2 1501.3,354.5 1501.6,402.5 1501.9,333 1502.2,390.8 1502.5,334.7 1502.8,432.2 1503.1,336.6 1503.4,429 1503.7,327.8 1504,425.5 1504.3,337.7 1504.3,324 1504.4,431.5 1504.6,401.6 1504.9,361.8 1505.2,412.9 1505.5,330.2 1505.8,411.9 1506.1,336.5 1506.4,399.2 1506.7,360.9 1507,406.8 1507.3,356.9 1507.6,411.2 1507.9,336.1 1508.2,398.3 1508.5,360.2 1508.6,341.2 1508.7,410 1508.8,407.7 1509.1,340.8 1509.4,398.4 1509.7,353 1510,401.7 1510.3,349 1510.6,381.3 1510.9,328.7 1511.2,402.8 1511.5,338.6 1511.8,382 1512.1,323.7 1512.4,395.8 1512.7,327.3 1512.9,308.9 1513,399.2 1513,404.9 1513.3,333.6 1513.6,387.6 1513.9,319.5 1514.2,393.1 1514.5,315 1514.8,388.1 1515.1,318.2 1515.4,403.9 1515.7,325.9 1516,398.5 1516.3,329.5 1516.6,383 1516.9,335.2 1517.2,400.4 1517.2,324 1517.3,410 1517.5,341.5 1517.8,402.3 1518.1,326.4 1518.4,398.5 1518.7,337.2 1519,409.3 1519.3,327.2 1519.6,379.8 1519.9,324.8 1520.2,412.8 1520.5,336.5 1520.8,410.1 1521.1,320.1 1521.4,394.6 1521.5,317.5 1521.6,414.3 1521.7,329.4 1522,395.2 1522.3,328 1522.6,406.3 1522.9,319.5 1523.2,381.6 1523.5,333.3 1523.8,412.4 1524.1,324.7 1524.4,385.4 1524.7,336.2 1525,407.6 1525.3,328.1 1525.6,408.6 1525.8,328.3 1525.9,410 1525.9,332 1526.2,411.9 1526.5,331.7 1526.8,404.9 1527.1,337.9 1527.4,413.8 1527.7,342 1528,420.6 1528.3,353.7 1528.6,432.9 1528.9,352.3 1529.2,436.7 1529.5,362.9 1529.8,437.2 1530.1,345.9 1530.1,345.5 1530.2,448.7 1530.4,439.7 1530.7,378.5 1531,430.9 1531.3,347.5 1531.6,438.5 1531.9,363.2 1532.2,410.5 1532.5,364.8 1532.8,419.6 1533.1,353.8 1533.3,349.8 1533.5,420.7 1533.4,400.2 1533.7,360 1534,419.7 1534.3,354.7 1534.6,427.7 1534.9,363.6 1535.2,412.2 1535.5,369.9 1535.8,414.8 1536.1,370.1 1536.4,408.2 1536.5,358.4 1536.7,420.7 1536.7,365.2 1537,422.1 1537.3,377 1537.6,409.9 1537.9,374.2 1538.2,427.1 1538.5,384.9 1538.8,418.8 1539.1,373.8 1539.4,430.3 1539.7,365 1540,431.6 1540.3,372.9 1540.6,438.9 1540.8,367 1541,442.2 1540.9,385.9 1541.2,440.9 1541.5,394.3 1541.8,426.6 1542.1,377.3 1542.4,430.4 1542.7,376.2 1543,454.3 1543,377.7 1543.1,470.2 1543.3,384.1 1543.6,454 1543.9,385.2 1544.2,455.6 1544.5,395.2 1544.8,455.7 1545.1,406.2 1545.4,461.1 1547.3,463.7 1548,462.5 1548.7,467.8 1549.4,463.8 1549.4,474.5 1550.1,476.2 1550.8,487.2 1551.5,494.9 1551.6,495.9 1552.2,491.2 1552.9,486.1 1553.6,479.6 1554.3,471.2 1554.8,470.1 1555,462.7 1555.7,469.7 1556.4,453.9 1557.1,460.1 1557.8,447.9 1558,453 1558.5,450.6 1559.2,439.7 1559.9,440.6 1560.6,450.6 1561.2,442.2 1561.3,451.7 1562,441.1 1562.7,440.3 1563.4,452.2 1564.1,453.3 1564.5,452.9 1564.8,449.1 1565.5,450.6 1566.2,435.8 1566.9,426.8 1567.6,423 1567.7,420.7 1568.3,408.5 1569,392.5 1569.7,378.7 1569.8,377.8 1570.4,387.8 1571.1,386.5 1571.8,394.4 1572.5,413.5 1573.1,420.7 1573.2,415.4 1573.9,423.1 1574.6,420.8 1575.3,429.4 1576,423.8 1576.3,431.5 1576.7,432.6 1577.4,435.6 1578.1,430.8 1578.8,431.1 1579.5,447.8 1579.5,442.2 1580.2,443.9 1580.9,442.8 1581.6,453.7 1582.3,441.8 1582.7,452.9 1583,460.9 1583.7,463.8 1584.4,464.9 1584.9,474.4 1585.1,471.3 1585.8,448.4 1586.5,443.5 1587,431.5 1587.2,433 1587.9,407.9 1588.6,402.8 1589.2,388.5 1589.3,384.7 1590,386.6 1590.7,376.9 1591.3,373.4 1591.4,375.8 1592.1,379 1592.8,377.9 1593.5,393.9 1594.2,390.3 1594.6,399.2 1594.9,389.2 1595.6,402.2 1596.3,406.2 1597,411.3 1597.7,419.3 1597.8,420.7 1598.4,422.2 1599.1,415.2 1599.8,422.4 1600.5,428 1601,431.5 1601.2,436 1601.9,433.3 1602.6,443.2 1603.2,437.9 1603.3,435.4 1604,435.2 1604.7,421.2 1605.4,412.9 1606.1,408.3 1606.4,405.7 1606.8,397.7 1607.5,401.6 1608.2,386.2 1608.5,377.7 1608.9,381.5 1609.6,393.3 1610,399.1"/>
<polyline clip-path="url(#c06)" fill="none" stroke="#808080" stroke-width="3.0" stroke-linejoin="round" points="1420.7,317.5 1421.6,322 1422.5,318.5 1423.4,321.2 1423.9,324 1424.3,324 1425.2,324.8 1426.1,331.8 1427,330.3 1427.1,332.6 1427.9,326.5 1428.8,326.6 1429.3,326.1 1429.7,325.7 1430.6,323.3 1431.5,321.8 1432.4,317.7 1433.3,314.2 1433.6,314.3 1434.2,314.6 1435.1,316.8 1436,321.1 1436.8,324 1436.9,325.8 1437.8,327.8 1438.7,328.7 1439.6,329.6 1440,334.7 1440.5,335.6 1441.4,335.4 1442.3,337.1 1443.2,336.2 1443.2,333.6 1444.1,332.5 1445,329 1445.9,324.6 1446.5,326.1 1446.8,325.3 1447.7,324.6 1448.6,324 1449.5,325.9 1450.4,331.2 1451.3,334.9 1451.8,336.9 1452.2,337.8 1453.1,339.9 1454,347.6 1454.9,352.3 1455,351.9 1455.8,349.3 1456.7,345.6 1457.6,347.8 1458.3,345.5 1458.5,344.6 1459.4,343.7 1460.3,341.8 1461.2,336 1461.5,334.7 1462.1,335.2 1463,331 1463.9,328.8 1464.7,330.4 1464.8,328.1 1465.7,335 1466.6,338.9 1467.5,340.5 1467.9,341.2 1468.4,345.2 1469.3,350.1 1470.2,356.5 1471.1,362.9 1471.1,362.7 1472,366.4 1472.9,370.7 1473.8,375 1474.4,375.6 1474.7,377.2 1475.6,376.4 1476.5,380.9 1477.4,381.4 1478.3,382.2 1478.7,382 1479.2,379.9 1480.1,380.8 1481,373.7 1481.9,373.4 1481.9,374 1482.8,360.6 1483.7,351.3 1483.8,349.8 1484.2,343.8 1484.6,330.8 1484.9,334.9 1485.1,321.8 1485.2,334.7 1485.3,323.2 1485.6,331.9 1486,318.3 1486.3,324.8 1486.7,318.8 1487,323.9 1487.2,313.2 1487.4,324 1487.4,313.3 1487.7,322.9 1488.1,311.3 1488.4,319.7 1488.8,310.1 1489.1,316.3 1489.5,308.3 1489.8,315.4 1490.2,307.3 1490.5,316.9 1490.9,304.1 1491.2,314.1 1491.5,302.5 1491.7,315.4 1491.6,304.3 1491.9,314.4 1492.3,299.9 1492.6,312.7 1493,300.2 1493.3,311.4 1493.7,301.9 1494,310.5 1494.4,300.3 1494.7,307.8 1495.1,298.3 1495.4,307.6 1495.8,296.8 1495.8,293.9 1496,308.9 1496.1,307.8 1496.5,293.4 1496.8,307.5 1497.2,297.5 1497.5,306.7 1497.9,293.2 1498.2,305.1 1498.6,291.7 1498.9,305 1499.3,290.5 1499.6,305.4 1500,289.5 1500.1,289.6 1500.3,306.8 1500.3,305.3 1500.7,290.4 1501,302.2 1501.4,289.2 1501.7,306.2 1502.1,291.3 1502.4,305.8 1502.8,293.7 1503.1,304.5 1503.5,292.7 1503.8,301.1 1504.2,293.1 1504.5,301.4 1504.9,292.8 1505.2,303.6 1505.6,289.3 1505.9,303.2 1506.3,289.8 1506.6,287.4 1506.7,304.6 1506.6,303 1507,290.4 1507.3,299 1507.7,289.2 1508,297.9 1508.4,287.5 1508.7,300.5 1509.1,291.9 1509.4,303 1509.8,290.4 1510.1,298.4 1510.5,288.2 1510.8,301 1511.2,285.9 1511.5,297.5 1511.9,287 1512.2,302.3 1512.6,290.7 1512.9,299.8 1513,285.3 1513.1,302.5 1513.3,286.7 1513.6,299 1514,285.4 1514.3,300.5 1514.7,286.1 1515,297 1515.4,284.6 1515.7,294.9 1516.1,284.8 1516.4,300.1 1516.8,283.4 1517.1,299.3 1517.3,281 1517.4,300.3 1517.5,284.3 1517.8,300.1 1518.2,284.4 1518.5,302 1518.9,284.8 1519.2,299.3 1519.6,288.1 1519.9,302.3 1520.3,286 1520.6,302.1 1521,288.5 1521.3,303.4 1521.6,287.4 1521.7,306.8 1521.7,291.8 1522,301.8 1522.4,286.3 1522.7,305 1523.1,288.8 1523.4,305.3 1523.8,287.8 1524.1,306.1 1524.5,290.2 1524.8,305.3 1525.2,289.4 1525.5,306.6 1525.9,288.9 1526.2,303.2 1526.6,291.2 1526.9,301.8 1527.3,290.7 1527.6,304.1 1528,292.3 1528,289.6 1528.2,306.8 1528.3,304.4 1528.7,290.5 1529,301.4 1529.4,294.4 1529.7,304.7 1530.1,296.7 1530.4,306 1530.8,297.1 1531.1,307.4 1531.5,295.3 1531.8,305.6 1532.2,295.5 1532.5,306.3 1532.9,295.2 1533.2,306.6 1533.6,296 1533.9,305.4 1534.3,295.4 1534.5,293.9 1534.6,308.9 1534.6,305.7 1535,299.7 1535.3,306.5 1535.7,298.6 1536,310.8 1536.4,301.3 1536.7,310.3 1537.1,301.8 1537.4,312.7 1537.8,303.2 1538.1,316 1538.5,306.3 1538.7,304.6 1538.9,317.5 1538.8,317.6 1539.2,306.8 1539.5,319.1 1539.9,309.6 1540.2,319.7 1540.6,311.9 1540.9,324.9 1541.3,317.4 1541.6,324.9 1542,317.7 1542.3,325.9 1542.7,319.2 1543,332.2 1543,319.7 1543.2,332.6 1543.4,323.2 1543.7,331.5 1544.1,327.2 1544.4,339.2 1544.8,331.1 1545.1,341.2 1545.5,336.1 1545.6,334.7 1545.8,345.5 1545.8,346.8 1546.2,344.5 1546.9,362.7 1547.8,373.5 1548.7,382.7 1549,386.3 1549.6,384.9 1550.5,379.7 1551.4,374.1 1551.6,373.4 1552.3,370.2 1553.2,367.7 1554.1,362.2 1554.8,358.4 1555,356.2 1555.9,357.7 1556.8,354.1 1557.7,357 1558.1,354.1 1558.6,354.2 1559.5,349.7 1560.4,353.4 1561.3,349.6 1562.2,351.7 1562.3,349.8 1563.1,351.4 1564,346.9 1564.9,345.6 1565.8,346.7 1566.7,345.5 1566.7,344.9 1567.6,342.6 1568.5,343.2 1569.4,339.1 1570.3,337 1570.9,336.9 1571.2,338.3 1572.1,336.1 1573,331.8 1573.9,333.6 1574.8,328.9 1575.2,330.4 1575.7,331.1 1576.6,329.7 1577.5,333.1 1578.4,331 1579.3,331.3 1579.5,334.7 1580.2,338.2 1581.1,334.4 1582,338 1582.9,339.2 1583.8,337 1583.8,339 1584.7,338.1 1585.6,333.9 1586,332.6 1586.5,328.9 1587.4,328.3 1588.3,322.8 1589.2,319 1590.1,314.6 1590.2,314.3 1591,316.5 1591.9,319.3 1592.8,321 1593.7,322.7 1594.5,326.1 1594.6,325.6 1595.5,327.4 1596.4,327 1597.3,327.2 1598.2,329.1 1598.8,328.3 1599.1,327.4 1600,329.3 1600.9,327.4 1601.8,324.2 1602.7,321 1603.1,321.8 1603.6,321.4 1604.5,322.7 1605.4,326.8 1606.3,325.1 1607.2,325.1 1607.4,328.3 1608.1,325.3 1609,328.6 1609.9,325.3 1610,326.1"/>
<path d="M1483.8 595V200" stroke="#000" stroke-width="2.3" stroke-dasharray="39.3 23.2" fill="none"/>
<path d="M1546.9 595V200" stroke="#000" stroke-width="2.3" stroke-dasharray="39.3 23.2" fill="none"/>
<path d="M1471.2 595v-5.5M1471.2 200v5.5M1521.7 595v-5.5M1521.7 200v5.5M1572.1 595v-5.5M1572.1 200v5.5M1420.7 242.3h5.5M1610 242.3h-5.5M1420.7 312.9h5.5M1610 312.9h-5.5M1420.7 383.4h5.5M1610 383.4h-5.5M1420.7 453.9h5.5M1610 453.9h-5.5M1420.7 524.5h5.5M1610 524.5h-5.5M1420.7 595h5.5M1610 595h-5.5" stroke="#262626" stroke-width="2" fill="none"/>
<rect x="1420.7" y="200" width="189.3" height="395" fill="none" stroke="#262626" stroke-width="2.4"/>
<polyline clip-path="url(#c07)" fill="none" stroke="#0072BD" stroke-width="3.3" stroke-linejoin="round" points="1633.5,367 1634.2,365.1 1634.8,375.3 1635.5,377.6 1636.2,385.2 1636.7,388.4 1637,387.2 1637.7,395.3 1638.3,395.2 1638.8,399.2 1639,381.8 1639.8,328.8 1639.9,324 1640.5,320.8 1641.2,328.4 1641.8,331.3 1642,328.3 1642.5,337.2 1643.2,360.5 1644,376.6 1644.2,377.7 1644.7,383.1 1645.3,392.8 1646,391.1 1646.8,395.9 1647.4,399.2 1647.5,398.2 1648.2,400.1 1648.8,407.4 1649.5,412.1 1650.2,428.3 1650.7,427.1 1651,425.1 1651.7,409.4 1652.3,404.6 1652.8,399.2 1653,406.6 1653.8,403.8 1654.5,394.4 1655.2,383 1655.8,373.1 1656,377.7 1656.5,371 1657.2,365.3 1658,351.2 1658.7,343.6 1659.2,334.8 1659.3,343.5 1660,328.1 1660.8,330.4 1661.5,329.7 1662.2,324 1662.5,324 1662.8,327.5 1663.5,329.1 1664.2,340.2 1665,345 1665.7,348.2 1665.7,356.2 1666.3,360 1667,339.7 1667.8,346.4 1668.5,343.2 1668.9,345.5 1669.2,348.8 1669.8,340.5 1670.5,360.5 1671.2,366 1672,365.1 1672.1,367 1672.7,352.7 1673.3,349.8 1674,320 1674.3,324 1674.8,306 1675.5,284.3 1676.2,265.6 1676.8,248.5 1677.5,219.8 1677.5,220.7 1678.2,228.3 1679,235.9 1679.7,254.8 1680.3,257.1 1680.7,259.5 1681,268.9 1681.8,275.5 1682.5,294.4 1682.9,302.5 1683.2,303.9 1683.8,331.2 1684.5,345.3 1685,367 1685.2,368 1686,391.3 1686.7,408.5 1687.2,431.5 1687.3,430.1 1688,443.2 1688.8,445.9 1689.3,452.9 1689.5,451.7 1690.2,444.7 1690.8,450.9 1691.5,440.1 1692.2,431.1 1692.6,431.5 1693,437.1 1693.7,431.6 1694.3,427.3 1695,423.9 1695.8,411.5 1695.8,420.6 1696.5,398.8 1697.1,367 1698.4,391.3 1698.8,347.5 1699.3,308.4 1699.7,321.4 1700.2,371.4 1700.6,289 1701.1,380.7 1701.2,270.2 1701.3,399.2 1701.5,380 1702,272.6 1702.4,294 1702.9,375.9 1703.3,227.2 1703.5,388.5 1703.3,354.9 1703.8,279.6 1704.2,369.5 1704.7,373.8 1705.1,316.1 1705.5,291.7 1705.6,399.2 1705.6,396 1706,320.2 1706.5,402.6 1706.9,426.8 1707.4,405.3 1707.8,330.9 1708.3,434.2 1708.7,302.5 1708.8,442.2 1708.7,328.3 1709.2,315.5 1709.6,412.1 1710.1,408.9 1710.5,317.9 1711,434 1711.4,396.2 1711.9,319.4 1712.3,311.4 1712.8,289.8 1713,285.3 1713.1,399.2 1713.2,375.5 1713.7,312.4 1714.1,370.1 1714.6,379.2 1715,386.5 1715.5,372.6 1715.9,390 1716.4,296.3 1716.8,314.5 1717.3,298.4 1717.3,298.2 1717.4,388.5 1717.7,304 1718.2,389.1 1718.6,366.9 1719.1,390.8 1719.5,391.1 1720,302.5 1720.4,405 1720.9,395.3 1721.3,310.2 1721.6,293.9 1721.7,403.5 1721.8,306.1 1722.2,298.1 1722.7,377.3 1723.1,395.1 1723.6,305.2 1724,397.8 1724.5,386.4 1724.9,387.1 1725.4,415.1 1725.8,320.6 1725.9,302.5 1726,410 1726.3,404 1726.7,333.1 1727.2,409.8 1727.6,314.1 1728.1,325.7 1728.5,292.4 1729,410.2 1729.4,394.9 1729.9,329.4 1730.2,306.8 1730.3,420.7 1730.3,306.9 1730.8,423.4 1731.2,404.3 1731.7,406.8 1732.1,319 1732.6,320.3 1733,443.5 1733.5,433.5 1733.9,440.7 1734.4,425.9 1734.5,302.5 1734.6,457.3 1734.8,345 1735.3,422.8 1735.7,430.1 1736.2,336.1 1736.6,321.2 1737.1,405.3 1737.5,308.1 1738,406.4 1738.4,416.8 1738.8,302.5 1738.9,420.7 1738.9,324.7 1739.3,304.1 1739.8,305.7 1740.2,312.4 1740.7,403.8 1741.1,309.1 1741.6,422.2 1742,419.7 1742.5,394.6 1742.9,405.2 1743.1,313.2 1743.2,431.5 1743.4,343.5 1743.8,401.9 1744.3,429.4 1744.7,403.4 1745.2,416.1 1745.6,359 1746.1,335.9 1746.3,319.7 1746.5,468 1746.5,351.3 1747,447.5 1747.4,445 1747.9,416.8 1748.3,343.3 1748.8,408.4 1749.2,400.2 1749.5,324 1749.7,431.5 1749.7,411.7 1750.1,325.2 1750.6,349.2 1751,425 1751.5,357 1751.9,419.8 1752.4,334.2 1752.8,332.3 1753.3,319.4 1753.7,434.8 1753.8,328.3 1754,442.2 1754.2,417.7 1754.6,428.8 1755.1,342.7 1755.5,447.8 1756,332.6 1756.4,440.8 1756.9,347.6 1757.1,334.7 1757.2,453 1757.3,346.4 1757.8,356.2 1758.2,446.5 1758.7,350.3 1760.3,474.5 1761,485.2 1761.1,482.9 1761.7,463.9 1762.4,438.4 1762.4,442.2 1763.1,437.5 1763.8,429.2 1764.5,419.9 1765.2,408.6 1765.7,410 1765.9,402.4 1766.6,395.9 1767.3,397.6 1768,403.4 1768.7,394.1 1768.9,388.5 1769.4,391.5 1770.1,411.5 1770.8,408.1 1771.5,418 1772.1,431.4 1772.2,434.2 1772.9,414 1773.6,405.9 1774.3,403.5 1775,379.7 1775.3,377.8 1775.7,373.2 1776.4,365.7 1777.1,357.6 1777.5,356.3 1777.8,360.7 1778.5,364.4 1779.2,369.7 1779.9,384.9 1780.6,393.6 1780.7,388.5 1781.3,394.8 1782,380 1782.7,392.7 1783.4,402.3 1783.9,399.2 1784.1,413.5 1784.8,407.3 1785.5,420 1786.2,418.4 1786.9,427.6 1787.2,431.4 1787.6,435.4 1788.3,427.5 1789,429.2 1789.7,433.8 1790.4,420.7 1790.4,420.4 1791.1,410.2 1791.8,399.9 1792.5,395.5 1792.5,394.9 1793.2,403.4 1793.9,406 1794.6,414.9 1795.3,425.5 1795.7,420.7 1796,418.1 1796.7,432.2 1797.4,422.5 1798.1,435.5 1798.8,440.5 1799,442.2 1799.5,432.2 1800.2,420.6 1800.9,415.3 1801.6,409.4 1802.2,399.3 1802.3,389.3 1803,395.1 1803.7,389.1 1804.3,377.7 1804.4,367.2 1805.1,371.8 1805.8,385.2 1806.5,382.8 1807.2,385.9 1807.6,388.3 1807.9,369.6 1808.6,340.8 1809.3,300.4 1809.7,281 1810,285.2 1810.7,267.2 1810.8,270.3 1811.4,272.5 1812.1,281.6 1812.8,285.2 1813.5,296.1 1814,302.5 1814.2,309.8 1814.9,324.1 1815.6,324 1816.2,334.7 1816.3,332.8 1817,329.4 1817.7,336.3 1818.4,345.2 1819.1,339.2 1819.4,345.5 1819.8,353.1 1820.5,363.3 1821.2,367.1 1821.9,375.6 1822.6,383.6 1822.6,388.4"/>
<polyline clip-path="url(#c07)" fill="none" stroke="#808080" stroke-width="3.0" stroke-linejoin="round" points="1634.2,317.5 1635.1,315.5 1636,318.9 1636.9,324.9 1637.4,324 1637.8,323.7 1638.7,328 1639.6,330.7 1640.5,332.6 1640.6,332.6 1641.4,329.2 1642.3,328.3 1642.8,326.1 1643.2,322.8 1644.1,322.8 1645,321.2 1645.9,318.9 1646.8,316.1 1647.1,314.3 1647.7,314.9 1648.6,320 1649.5,319.9 1650.3,324 1650.4,324.8 1651.3,324.9 1652.2,330.8 1653.1,334.4 1653.5,334.7 1654,336.6 1654.9,334.6 1655.8,332.2 1656.7,334.2 1656.7,333.6 1657.6,334 1658.5,333.3 1659.4,326.9 1660,326.1 1660.3,325.1 1661.2,323.5 1662.1,324 1663,325.7 1663.9,331.4 1664.8,333.4 1665.3,336.9 1665.7,338.9 1666.6,342.2 1667.5,345.1 1668.4,347.5 1668.5,351.9 1669.3,352.7 1670.2,346.2 1671.1,345.7 1671.8,345.5 1672,344 1672.9,342.7 1673.8,338.3 1674.7,337.8 1675,334.7 1675.6,333.7 1676.5,330.6 1677.4,332.6 1678.2,330.4 1678.3,330 1679.2,335.8 1680.1,338.4 1681,340.5 1681.4,341.2 1681.9,344.6 1682.8,346.6 1683.7,357.8 1684.6,362 1684.6,362.7 1685.5,364.5 1686.4,369.9 1687.3,374.8 1687.9,375.6 1688.2,377.3 1689.1,376.2 1690,378.4 1690.9,379.2 1691.8,382.3 1692.2,382 1692.7,379.2 1693.6,379.8 1694.5,376.1 1695.4,373.4 1695.4,375.9 1696.3,361 1697.2,348.9 1697.3,349.8 1697.7,345.1 1698.1,332.1 1698.4,333.1 1698.6,321.8 1698.7,334.7 1698.8,321.7 1699.1,329.4 1699.5,317.8 1699.8,328.4 1700.2,317.7 1700.5,324.7 1700.7,313.2 1700.9,324 1700.9,314.6 1701.2,319.3 1701.6,313 1701.9,322.8 1702.3,312.1 1702.6,316.8 1703,310 1703.3,317.8 1703.7,307.4 1704,316.1 1704.4,302.7 1704.7,313.1 1705,302.5 1705.2,315.4 1705.1,305.4 1705.4,312.1 1705.8,301.7 1706.1,313.6 1706.5,301.1 1706.8,309.9 1707.2,298.3 1707.5,310.8 1707.9,298.2 1708.2,309.6 1708.6,298.1 1708.9,304.2 1709.3,294.3 1709.3,293.9 1709.5,308.9 1709.6,306.4 1710,298.2 1710.3,304.9 1710.7,294.8 1711,306.5 1711.4,293.8 1711.7,306.9 1712.1,292.4 1712.4,304.8 1712.8,295.8 1713.1,302.3 1713.5,293.2 1713.6,289.6 1713.8,306.8 1713.8,306.5 1714.2,290.5 1714.5,304.6 1714.9,294.4 1715.2,302.4 1715.6,291.7 1715.9,302.2 1716.3,289 1716.6,303.2 1717,289.6 1717.3,304.4 1717.7,289 1718,305 1718.4,293.7 1718.7,304.7 1719.1,291.1 1719.4,303 1719.8,288.8 1720.1,287.4 1720.2,304.6 1720.1,300.2 1720.5,288.5 1720.8,301.8 1721.2,289.9 1721.5,302.1 1721.9,291.7 1722.2,301.6 1722.6,285.2 1722.9,299.2 1723.3,290.9 1723.6,303.4 1724,289 1724.3,301.9 1724.7,286.3 1725,302.9 1725.4,286 1725.7,300.6 1726.1,287.7 1726.4,300.6 1726.5,285.3 1726.6,302.5 1726.8,287 1727.1,297.6 1727.5,286 1727.8,298.6 1728.2,284.4 1728.5,298.4 1728.9,284.5 1729.2,294.7 1729.6,285.1 1729.9,297.7 1730.3,282.2 1730.6,300.3 1730.8,281 1730.9,300.3 1731,286.1 1731.3,302 1731.7,287.3 1732,298.3 1732.4,289.2 1732.7,300.4 1733.1,289.9 1733.4,300.9 1733.8,290.8 1734.1,302.9 1734.5,289 1734.8,304.4 1735.1,287.4 1735.2,306.8 1735.2,289.2 1735.5,308.1 1735.9,292.3 1736.2,301.7 1736.6,292.8 1736.9,305.9 1737.3,290.1 1737.6,306 1738,293.8 1738.3,302 1738.7,293 1739,305.3 1739.4,292.2 1739.7,304.2 1740.1,291.1 1740.4,305.8 1740.8,289.5 1741.1,305.7 1741.5,294 1741.5,289.6 1741.7,306.8 1741.8,305.7 1742.2,290.6 1742.5,304.1 1742.9,291.9 1743.2,305.2 1743.6,293.6 1743.9,306.1 1744.3,296.4 1744.6,306.7 1745,293.4 1745.3,307.6 1745.7,292.3 1746,307.2 1746.4,295.4 1746.7,306.3 1747.1,294.2 1747.4,305.2 1747.8,294.7 1748,293.9 1748.1,308.9 1748.1,308.9 1748.5,298.7 1748.8,306.9 1749.2,301.8 1749.5,312.5 1749.9,298.7 1750.2,311.4 1750.6,300.8 1750.9,314 1751.3,303.9 1751.6,315 1752,307.1 1752.2,304.6 1752.4,317.5 1752.3,317.1 1752.7,306.6 1753,318.2 1753.4,308.7 1753.7,322.3 1754.1,311.3 1754.4,324.1 1754.8,313.9 1755.1,327.2 1755.5,317.4 1755.8,328.5 1756.2,317.9 1756.5,329.8 1756.5,319.7 1756.7,332.6 1756.9,324.7 1757.2,333.2 1757.6,325.8 1757.9,338.3 1758.3,330.5 1758.6,342.2 1759,334.1 1759.1,334.7 1759.3,345.5 1759.3,348.8 1759.7,342.7 1760.4,362.7 1761.3,375.7 1762.2,385.1 1762.5,386.3 1763.1,384.6 1764,381 1764.9,372.9 1765.1,373.4 1765.8,369.9 1766.7,365.6 1767.6,363.2 1768.3,358.4 1768.5,360.7 1769.4,356.4 1770.3,358.8 1771.2,353.8 1771.6,354.1 1772.1,353 1773,351.5 1773.9,351.5 1774.8,352.3 1775.7,349.7 1775.8,349.8 1776.6,352 1777.5,348.8 1778.4,350.8 1779.3,347 1780.2,345.5 1780.2,346.4 1781.1,347.3 1782,344.4 1782.9,339.6 1783.8,336.1 1784.4,336.9 1784.7,335.1 1785.6,335.2 1786.5,333.5 1787.4,331.6 1788.3,330.6 1788.7,330.4 1789.2,331.7 1790.1,328.1 1791,330.7 1791.9,335.9 1792.8,333.3 1793,334.7 1793.7,337.5 1794.6,335.9 1795.5,339 1796.4,338.8 1797.3,339.8 1797.3,339 1798.2,335.1 1799.1,331.2 1799.5,332.6 1800,330.1 1800.9,326.5 1801.8,322.4 1802.7,321.8 1803.6,314.5 1803.8,314.3 1804.5,315.2 1805.4,319.6 1806.3,321.6 1807.2,322.3 1808,326.1 1808.1,323.1 1809,327.8 1809.9,325.1 1810.8,327.6 1811.7,328.7 1812.3,328.3 1812.6,327.3 1813.5,328.7 1814.4,327.7 1815.3,321.8 1816.2,322.7 1816.6,321.8 1817.1,323.1 1818,324.3 1818.9,325.3 1819.8,327 1820.7,327.4 1820.9,328.3 1821.6,326.6 1822.5,328.1 1823.4,325.7 1823.5,326.1"/>
<path d="M1697.3 595V200" stroke="#000" stroke-width="2.3" stroke-dasharray="39.3 23.2" fill="none"/>
<path d="M1760.4 595V200" stroke="#000" stroke-width="2.3" stroke-dasharray="39.3 23.2" fill="none"/>
<path d="M1684.7 595v-5.5M1684.7 200v5.5M1735.2 595v-5.5M1735.2 200v5.5M1785.6 595v-5.5M1785.6 200v5.5M1634.2 242.3h5.5M1823.5 242.3h-5.5M1634.2 312.9h5.5M1823.5 312.9h-5.5M1634.2 383.4h5.5M1823.5 383.4h-5.5M1634.2 453.9h5.5M1823.5 453.9h-5.5M1634.2 524.5h5.5M1823.5 524.5h-5.5M1634.2 595h5.5M1823.5 595h-5.5" stroke="#262626" stroke-width="2" fill="none"/>
<rect x="1634.2" y="200" width="189.3" height="395" fill="none" stroke="#262626" stroke-width="2.4"/>
<polyline clip-path="url(#c10)" fill="none" stroke="#D95319" stroke-width="3.0" stroke-linejoin="round" points="135.4,998.6 136.4,996.3 137.4,993.4 138.4,990.5 138.7,990 139.4,987.8 140.4,986.2 141.4,983.2 141.9,981.4 142.4,981.8 143.4,979.5 144.4,980.2 145.1,980.3 145.4,981.5 146.4,979.3 147.4,978.7 148.3,979.3 148.4,979.9 149.4,983.9 150.4,989.5 150.5,990 151.4,993.2 152.4,996.2 152.7,996.4 153.4,994.8 154.4,990.3 155.4,986.5 155.9,985.7 156.4,985 157.4,983 158,983.6 158.4,986 159.4,988.4 160.4,993.4 161.2,996.4 161.4,996.1 162.4,993.7 163.4,990 163.4,990 164.4,986.5 165.4,985.6 166.4,982.8 166.6,981.4 167.4,980.2 168.4,979.3 168.8,979.3 169.4,980.4 170.4,980.5 171.4,984.3 172,983.5 172.4,982.9 173.4,978.7 174.4,977.7 175.2,974.9 175.4,974.9 176.4,971.4 177.4,968.8 178.4,966.4 178.4,966.7 179.4,965.4 180.4,965 181.4,964.4 181.7,964.2 182.4,959.7 183.4,954.6 183.8,953.4 184.4,948.2 185.4,940.4 186,936.3 186.4,934.7 187.4,929.6 188.4,926.6 189.2,923.4 189.4,922.2 190.4,917.2 191.4,913.8 192.4,910.5 192.4,910.5 193.4,911.9 194.4,914.7 194.6,914.8 195.4,918.9 196.4,926.9 196.7,927.6 197.4,929.7 198.2,931.9 198.4,931 199.4,923.2 199.5,923.4 200.4,934.8 201,942.7 201.4,954.6 202.1,970.7 203.2,987.2 203.9,974.5 204.6,976.9 205.3,992.1 206,989.7 206.4,975 206.5,994.3 206.7,980.1 207.4,992.7 208.1,997.7 208.8,995.9 209.5,998.8 209.6,975 209.8,1002.9 210.2,1002.7 210.9,1000.9 211.6,980 212.3,997.5 213,980 213.7,981 214.4,998.1 215,979.3 215.1,998.6 215.1,995.8 215.8,993.4 216.5,982.1 217.2,981.2 217.9,1000 218.6,998.9 219.3,986.6 219.3,981.4 219.4,1000.7 220,996.3 220.7,1000.4 221.4,985.8 222.1,981.6 222.8,985.6 223.5,985.6 223.6,981.4 223.7,1000.7 224.2,983.7 224.9,985.5 225.6,983 226.3,993.3 227,998.1 227.7,996.4 227.9,979.3 228,998.6 228.4,984.4 229.1,995.6 229.8,984.5 230.5,997.2 231.2,996.1 231.9,985.6 232.2,981.4 232.3,998.6 232.6,995.1 233.3,996.3 234,995.1 234.7,987.8 235.4,995.4 236.1,998.1 236.5,983.6 236.6,998.6 236.8,999.2 237.5,984.2 238.2,998.4 238.9,999.4 239.6,1004 240.3,986.4 240.8,985.7 240.9,1007.2 241,1005.7 241.7,987.2 242.4,986.2 243.1,986.6 243.8,1000 244.5,999.1 245.1,983.6 245.2,1000.7 245.2,1000.6 245.9,985.6 246.6,982.9 247.3,984.9 248,997 248.7,982.8 249.4,981.8 249.4,979.3 249.5,996.4 250.1,992.7 250.8,992.9 251.5,980.7 252.2,977.1 252.9,976.9 253.6,979.6 253.7,975 253.8,994.3 254.3,991.7 255,992.3 255.7,974.1 256.4,972.6 257.1,987 257.8,982.8 258,968.5 258.1,990 258.5,963 259.2,960.5 259.9,972.6 261.2,932 262.2,936.3 263.2,941 263.4,942.7 264.2,940.6 265.2,939.5 266.2,938 266.6,936.3 267.2,940.2 268.2,944.1 269.2,946.7 269.8,949.2 270.2,950.1 271.2,952.8 272.2,954.6 273,955.6 273.2,954.8 274.2,954.7 275.2,955.8 276.2,952.9 276.2,953.5 277.2,952.4 278.2,951.9 279.2,953.1 279.5,951.3 280.2,950.9 281.2,950.1 281.6,949.2 282.2,951.3 283.2,956.2 283.8,957.7 284.2,956.9 285.2,959.1 286.2,962.1 287.2,964.8 288.1,966.4 288.2,967.3 289.2,969.3 290.2,973.9 291.2,977.1 292.2,979.9 292.4,981.4 293.2,983.1 294.2,986.7 295.2,989.6 295.6,990 296.2,986.6 297.2,980.8 298.2,978.4 298.8,975 299.2,972.5 300.2,970.4 301,968.5 301.2,969.4 302.2,973.1 303.2,976.8 304.2,981.4 304.2,982.3 305.2,984.5 306.2,986.2 307.2,988.9 307.4,990 308.2,990.3 309.2,992 310.2,990.1 310.6,992.1 311.2,994.5 312.2,992.6 313.2,994 313.9,996.4 314.2,996.4 315.2,996.1 316.2,996.4 317.1,996.4 317.2,996.1 318.2,993.5 319.2,989.6 320.2,985.7 320.3,985.7 321.2,986.5 322.2,986.4 323.2,987.3 323.5,987.9 324.2,990.9 325,992.1"/>
<polyline clip-path="url(#c10)" fill="none" stroke="#808080" stroke-width="2.2" stroke-linejoin="round" points="135.9,947 137.1,944.6 138.3,941.2 139.5,939.5 140.2,938.4 140.7,937.3 141.9,936.9 143.1,935.4 144.3,933.3 144.5,934.1 145.5,934.3 146.7,933.7 147.9,932.1 148.8,932 149.1,930.8 150.3,929.5 151.5,929.3 152.7,927.1 153.1,927.7 153.9,928.4 155.1,927.4 156.3,926.2 157.4,925.5 157.5,925.9 158.7,923.3 159.9,924 161.1,921.9 161.7,921.2 162.3,921.4 163.5,917.5 164.7,916.4 165.9,913 166,912.6 167.1,911.9 168.3,909.3 169.5,907.2 170.3,906.2 170.7,904.9 171.9,903.4 173.1,902.8 174.3,899.4 174.6,899.7 175.5,899.2 176.7,897.4 177.9,895.3 178.9,893.3 179.1,892.1 180.3,890.8 181.5,889 182.7,888.1 183.2,886.8 183.9,885 185.1,882 186.3,879.6 187.5,876.1 187.5,876.9 188.7,872.9 189.9,870.1 191.1,868.9 191.8,867.5 192.3,868.7 193.5,867.8 193.9,869.6 194.7,872.8 195.9,879 196.1,878.2 197.1,878.1 198.2,878.2 198.3,876.6 199.5,854.5 199.9,846 200.8,868.5 201.1,868.6 201.5,876 201.8,875.2 202.2,880.6 202.5,880.4 202.7,884.7 202.5,880.8 202.9,885.4 203.2,883.4 203.6,888.8 203.9,886.9 204.3,891.8 204.6,889.5 204.7,889 204.8,893.3 205,893.4 205.3,890.5 205.7,894 206,890.5 206.4,895.1 206.7,892 207.1,895.6 207.4,892.8 207.8,897.3 207.9,893.3 208,897.6 208.1,893.8 208.5,897.5 208.8,893.8 209.2,898.5 209.5,894.9 209.9,897.2 210.2,894.7 210.6,898.2 210.9,895.6 211.1,894.3 211.2,898.6 211.3,898.9 211.6,895 212,899.3 212.3,896.6 212.7,900.1 213,896.6 213.4,900 213.7,897 214.1,901.2 214.4,898.1 214.8,901.7 215.1,899 215.4,898.6 215.5,902.9 215.5,902 215.8,899.7 216.2,903 216.5,900.4 216.9,902.7 217.2,901 217.6,903.7 217.9,901.7 218.3,904.5 218.6,901.5 219,904.9 219.3,902.8 219.7,905.4 219.7,901.9 219.8,906.2 220,902.7 220.4,906.4 220.7,902.1 221.1,905.8 221.4,903 221.8,906.8 222.1,904 222.5,907.4 222.8,903.4 223.2,907.4 223.5,904.4 223.9,907.4 224,904 224.1,908.3 224.2,904.6 224.6,907.6 224.9,905 225.3,907.3 225.6,904.2 226,907.4 226.3,903.2 226.7,906.3 227,902.5 227.4,905.8 227.7,902.6 228.1,905.7 228.3,902.3 228.4,906.6 228.4,903 228.8,905.9 229.1,902.2 229.5,905.9 229.8,902.2 230.2,905.9 230.5,902.1 230.9,905.5 231.2,902.7 231.6,904.9 231.9,902.4 232.3,905.2 232.6,900.8 232.7,905.1 232.6,901.8 233,904.1 233.3,900.4 233.7,903.9 234,900.1 234.4,904.3 234.7,900 235.1,904.3 235.4,899.6 235.8,903.5 236.1,899.9 236.5,902.2 236.8,899.1 236.9,898.6 237,902.9 237.2,902.9 237.5,900.3 237.9,904.7 238.2,901.6 238.6,904.5 238.9,901.5 239.3,905.4 239.6,902.2 240,907.2 240.3,903 240.7,907.3 241,904 241.2,904 241.3,908.3 241.4,907.5 241.7,903.1 242.1,907.4 242.4,903.9 242.8,906.7 243.1,903.3 243.3,902.3 243.5,906.6 243.5,905.4 243.8,902.4 244.2,905 244.5,900.6 244.9,904 245.2,899.4 245.6,902.8 245.9,898.3 246.3,900.6 246.6,897.7 247,899.6 247.3,896.9 247.6,895.4 247.8,899.7 247.7,899.4 248,895.3 248.4,898.2 248.7,895.3 249.1,898.1 249.4,895.5 249.8,897.5 250.1,894.9 250.5,897.8 250.8,894.2 251.2,896.8 251.5,893.5 251.9,897.9 251.9,893.3 252.1,897.6 252.2,893.1 252.6,894.6 252.9,891.9 253.3,894.4 253.6,890.1 254,892 254.3,888.4 254.7,890.8 255,887 255.4,889.1 255.7,884.9 256.1,888.3 256.2,883.6 256.4,887.9 256.4,883.2 256.8,884 257.1,879.3 257.5,881.3 257.8,876 258.2,877.1 258.5,873.1 258.9,874.3 259.2,869.6 259.4,867.5 259.6,871.8 259.6,870.2 259.9,862.8 260.3,864.2 260.6,857.4 261.4,850.3 262.2,867.4 262.6,869.9 263.7,880.4 263.8,881.1 265,876.4 266.2,871.9 267,869.6 267.4,870.8 268.6,870.9 269.1,871.8 269.8,874.1 271,875.5 272.2,877.6 273.4,880.4 273.4,880.4 274.6,880.8 275.8,883.8 277,885 277.7,886.8 278.2,887.1 279.4,887.2 280.6,889.5 281.8,889 282,889 283,890.9 284.2,890.9 285.4,893.3 286.3,895.4 286.6,895.7 287.8,898 289,900.8 290.2,901.9 290.6,901.9 291.4,903.1 292.6,905.8 293.8,906.1 294.9,908.3 295,909.5 296.2,909.5 297.4,913.4 298.6,914 299.2,914.8 299.8,917.1 301,918 302.2,919.1 303.4,920.8 303.5,921.2 304.6,923.3 305.8,925.7 307,929.3 307.8,929.8 308.2,931 309.4,931.8 310.6,933.8 311.8,935.6 312.1,936.3 313,936.2 314.2,937.8 315.4,938 316.4,938.4 316.6,937.6 317.8,937.9 319,936.2 320.2,935.1 320.7,936.3 321.4,936.3 322.6,938.4 323.8,936.3 325,938.2 325.4,938.4"/>
<path d="M199.1 1117V722" stroke="#000" stroke-width="2.3" stroke-dasharray="39.3 23.2" fill="none"/>
<path d="M262.2 1117V722" stroke="#000" stroke-width="2.3" stroke-dasharray="39.3 23.2" fill="none"/>
<path d="M186.4 1117v-5.5M186.4 722v5.5M237 1117v-5.5M237 722v5.5M287.5 1117v-5.5M287.5 722v5.5M135.9 722h5.5M325.4 722h-5.5M135.9 853.7h5.5M325.4 853.7h-5.5M135.9 985.3h5.5M325.4 985.3h-5.5M135.9 1117h5.5M325.4 1117h-5.5" stroke="#262626" stroke-width="2" fill="none"/>
<rect x="135.9" y="722" width="189.5" height="395" fill="none" stroke="#262626" stroke-width="2.4"/>
<text transform="translate(127.8 726.6) scale(1.25 1)" text-anchor="end" font-size="23.3" fill="#262626" stroke="#262626" stroke-width="0.35">0.15</text>
<text transform="translate(127.8 858.3) scale(1.25 1)" text-anchor="end" font-size="23.3" fill="#262626" stroke="#262626" stroke-width="0.35">0.1</text>
<text transform="translate(127.8 989.9) scale(1.25 1)" text-anchor="end" font-size="23.3" fill="#262626" stroke="#262626" stroke-width="0.35">0.05</text>
<text transform="translate(127.8 1121.6) scale(1.25 1)" text-anchor="end" font-size="23.3" fill="#262626" stroke="#262626" stroke-width="0.35">0</text>
<polyline clip-path="url(#c11)" fill="none" stroke="#77AC30" stroke-width="3.0" stroke-linejoin="round" points="350.4,987.8 351.4,984.6 352.4,984.2 353.4,982.3 353.7,981.4 354.4,979.8 355.4,976.8 356.4,975.5 356.9,972.8 357.4,973.2 358.4,976.9 359.4,977 360.1,979.2 360.4,978.9 361.4,978.4 362.4,975.9 363.4,977.1 363.4,977 364.4,976.4 365.4,976 366.4,974.4 366.6,975 367.4,976.9 368.4,978.8 369.4,977 369.8,979.3 370.4,980.8 371.4,980.1 372.4,981.5 373,981.4 373.4,979.7 374.4,977.8 375.4,974.1 376.2,972.8 376.4,973.3 377.4,967.4 378.4,965.7 379.4,960.6 379.5,959.9 380.4,955.8 381.4,950.5 382.4,946.6 382.7,944.9 383.4,950 384.4,955.3 385.4,960.4 385.9,964.2 386.4,968.4 387.4,974.6 388.4,980.7 388.7,981.4 389.4,974.7 390.4,965.9 391.3,957.8 391.4,955.7 392.4,951.8 393.4,945.7 394.4,939.9 394.5,940.6 395.4,939.4 396.4,936 397.4,934.7 397.7,934.1 398.4,932.5 399.4,928.4 400.4,924.1 401,921.2 401.4,918.7 402.4,914.6 403.4,912.3 404.2,908.3 404.4,908 405.4,908.4 406.4,905.5 407.4,904 407.4,902.9 408.4,902.1 409.4,902.3 410.4,902.2 410.6,901.9 411.4,900.7 412.4,901.5 413.2,899.7 413.4,894.4 414.1,884.7 416,918.8 416.7,912.3 417.4,926.2 418.1,920.7 418.8,933.5 419.2,923.4 419.4,942.7 419.5,941.9 420.2,923.2 420.9,928.3 421.6,949 422.3,926.7 423,958.9 423.5,927.7 423.7,957.8 423.7,936.6 424.4,932.4 425.1,951.3 425.7,932 425.8,949.2 425.8,936.1 426.5,924.1 427.2,924.4 427.8,910.5 428,949.2 427.9,947.7 428.6,943.1 429.3,946.6 430,932 430.1,953.5 430,950.1 430.7,951.8 431.4,933.9 432.1,946.9 432.8,949.2 433.5,953.8 434.2,953.1 434.3,932 434.4,955.6 434.9,935.3 435.6,956 436.3,936.3 437,956.9 437.7,954.4 438.4,937.4 438.6,936.3 438.7,957.8 439.1,937.8 439.8,941.2 440.5,942.8 440.7,938.4 440.9,959.9 441.2,958.8 441.9,938.9 442.6,938.9 443.3,956.2 444,954.5 444.7,937.5 445,936.3 445.2,955.6 445.4,951.4 446.1,948.6 446.8,937.3 447.2,932 447.3,951.3 447.5,928.8 448.2,930.2 448.9,915.4 449.3,908.3 449.5,951.3 449.6,915.1 450.3,930.6 451,927.9 451.5,932 451.6,953.5 451.7,937.3 452.4,934.4 453.1,938.5 453.8,954.6 454.5,933.5 455.2,934.9 455.8,934.1 455.9,955.6 455.9,953.2 456.6,936.4 457.3,952.9 458,936.5 458.7,947.2 459.4,946.6 460.1,923.4 460.2,949.2 460.1,925.2 460.8,929.6 461.5,946.3 462.2,940.2 462.9,925 463.6,922.2 464.3,944.5 464.4,921.2 464.5,944.9 465,923.2 465.7,939.6 466.4,914 467.1,936.7 467.8,936.4 468.5,936.2 468.7,910.5 468.8,936.3 469.2,928.2 469.9,906 470.6,929.2 471.3,923.9 472,899.5 472.7,898.3 473,893.3 473.1,921.2 473.4,892.9 474.1,899.5 474.8,891.6 475.5,867 477.3,863.1 478.3,856.5 479.3,850.8 479.4,850.3 480.3,850.6 481.3,852.9 482.3,854.3 482.6,854.6 483.3,860.8 484.3,867.9 484.8,871.8 485.3,873 486.3,878 487.3,881.4 488,884.7 488.3,886 489.3,884.6 490.3,887.7 491.3,887.8 492.3,890.2 492.3,889 493.3,888.3 494.3,889.6 495.3,887.9 496.3,889.6 496.6,889 497.3,891.8 498.3,898 499.3,903.7 499.9,906.2 500.3,908.2 501.3,910.8 502.3,913 503.1,914.8 503.3,915.9 504.3,917.2 505.3,921.4 506.3,923.6 506.3,923.4 507.3,925.5 508.3,927.6 509.3,931 509.5,932 510.3,930.6 511.3,929.4 512.3,930.7 512.7,929.8 513.3,927.9 514.3,924.7 515.3,921.3 516,919.1 516.3,920.8 517.3,925.9 518.3,928.8 519.2,934.1 519.3,933.5 520.3,930.8 521.3,925 522.3,921.7 522.4,921.2 523.3,922 524.3,922 525.3,924.6 525.6,923.4 526.3,925 527.3,927.3 528.3,928.8 528.9,929.8 529.3,930.8 530.3,934.3 531.3,937.5 532.1,940.6 532.3,940.6 533.3,937.4 534.3,934.4 535.3,931.5 535.3,932 536.3,930 537.3,930.7 538.3,930.5 538.5,929.8 539.3,935.2 540,940.5"/>
<polyline clip-path="url(#c11)" fill="none" stroke="#808080" stroke-width="2.2" stroke-linejoin="round" points="351.1,947 352.3,944.5 353.5,942.4 354.7,940.9 355.4,938.4 355.9,937 357.1,936.9 358.3,934.3 359.5,935.3 359.7,934.1 360.7,933.7 361.9,933.1 363.1,931.7 363.9,932 364.3,931.5 365.5,930.4 366.7,928.8 367.9,926.6 368.2,927.7 369.1,927 370.3,926.4 371.5,926 372.5,925.5 372.7,924.7 373.9,924 375.1,923.3 376.3,922.9 376.8,921.2 377.5,920.8 378.7,916.5 379.9,916.2 381.1,912.6 381.1,912.4 382.3,910.2 383.5,908.1 384.7,907.5 385.4,906.2 385.9,905.7 387.1,904.4 388.3,902.1 389.5,900.5 389.6,899.7 390.7,897.7 391.9,896.7 393.1,895.3 393.9,893.3 394.3,893.1 395.5,891.4 396.7,889.1 397.9,887.3 398.2,886.8 399.1,885 400.3,882 401.5,877.6 402.5,876.1 402.7,875.3 403.9,872.9 405.1,871.2 406.3,868.8 406.8,867.5 407.5,869.5 408.7,868.9 408.9,869.6 409.9,873.3 411.1,878.2 411.1,878.3 412.3,878.5 413.2,878.2 413.5,873.1 414.5,854.5 414.7,850.1 414.9,846 415.8,869.1 416.1,869.9 416.5,876.2 416.8,874.8 417.2,881.9 417.5,880.4 417.6,884.7 417.5,880.9 417.9,884.8 418.2,883.6 418.6,887.6 418.9,887 419.3,891.7 419.6,890.1 419.6,889 419.8,893.3 420,893.4 420.3,889.9 420.7,894.3 421,891.7 421.4,895 421.7,892.9 422.1,895.2 422.4,892.5 422.8,897.3 422.8,893.3 423,897.6 423.1,894.1 423.5,897.5 423.8,894.9 424.2,897.5 424.5,894.8 424.9,897.8 425.2,894.1 425.6,898.1 425.9,895.2 426.1,894.3 426.2,898.6 426.3,898.7 426.6,895.8 427,899 427.3,896 427.7,899.5 428,896.9 428.4,900.3 428.7,898.1 429.1,901 429.4,898.8 429.8,902 430.1,898.2 430.3,898.6 430.5,902.9 430.5,902.9 430.8,899.8 431.2,903.6 431.5,900.5 431.9,903.1 432.2,900.5 432.6,904.3 432.9,900.2 433.3,904.4 433.6,902.1 434,904.6 434.3,902.8 434.6,901.9 434.8,906.2 434.7,905.7 435,903.3 435.4,905.2 435.7,903.3 436.1,906.1 436.4,903.1 436.8,906.5 437.1,903.5 437.5,906.6 437.8,903.5 438.2,907.8 438.5,903.7 438.9,907.4 438.9,904 439.1,908.3 439.2,904.1 439.6,907.2 439.9,904.4 440.3,906.8 440.6,903.9 441,907.3 441.3,903.6 441.7,906.6 442,903.6 442.4,906 442.7,902.4 443.1,906.2 443.2,902.3 443.3,906.6 443.4,902.2 443.8,905.1 444.1,902 444.5,906.1 444.8,902.1 445.2,905.7 445.5,901.7 445.9,905.4 446.2,901.3 446.6,905 446.9,901.2 447.3,904.1 447.5,900.8 447.6,905.1 447.6,901.5 448,903.4 448.3,901.5 448.7,903.6 449,900.3 449.4,903.2 449.7,899.8 450.1,903.7 450.4,900.4 450.8,902.5 451.1,899.8 451.5,903 451.8,898.6 451.9,902.9 451.8,898.7 452.2,902.8 452.5,899.7 452.9,903.6 453.2,900.7 453.6,904.6 453.9,902.4 454.3,905.3 454.6,902.9 455,906.1 455.3,903.5 455.7,906.9 456,904.6 456,904 456.2,908.3 456.4,907.7 456.7,904.1 457.1,906.3 457.4,903.3 457.8,906.5 458.1,902.4 458.2,902.3 458.3,906.6 458.5,905.2 458.8,902.7 459.2,904 459.5,900.4 459.9,903.4 460.2,900.4 460.6,901.3 460.9,898.1 461.3,901 461.6,897.9 462,900.1 462.3,896.7 462.5,895.4 462.6,899.7 462.7,899.5 463,896.3 463.4,899.4 463.7,894.3 464.1,898.1 464.4,894.5 464.8,897.4 465.1,894.9 465.5,897.8 465.8,893.5 466.2,897.7 466.5,894.7 466.8,893.3 466.9,897.6 466.9,896.3 467.2,893 467.6,895.8 467.9,890.8 468.3,893.9 468.6,889.3 469,892.2 469.3,887.6 469.7,890.4 470,885.9 470.4,889 470.7,885 471,883.6 471.2,887.9 471.1,886.6 471.4,882.9 471.8,883.8 472.1,879.1 472.5,879.8 472.8,875.2 473.2,877.1 473.5,871.2 473.9,873.5 474.2,867.6 474.2,867.5 474.4,871.8 474.6,867.8 474.9,862.8 475.3,861.6 475.6,856.3 476.2,850.3 477,867.4 477.4,871.7 478.5,880.3 478.6,879.9 479.8,874.8 481,872.2 481.8,869.6 482.2,869.5 483.4,871.4 483.9,871.8 484.6,873.9 485.8,874.2 487,879.1 488.2,880.4 488.2,880.8 489.4,881.1 490.6,884.5 491.8,886.2 492.4,886.8 493,887.4 494.2,888.4 495.4,887.9 496.6,888.6 496.7,889 497.8,890.7 499,891.3 500.2,893.2 501,895.4 501.4,895.4 502.6,898.1 503.8,898.7 505,901.8 505.3,901.9 506.2,904.4 507.4,903.8 508.6,906.4 509.6,908.3 509.8,907.7 511,910.1 512.2,912.4 513.4,913.9 513.9,914.8 514.6,915.6 515.8,916.8 517,919.5 518.1,921.2 518.2,922.1 519.4,923.6 520.6,926.4 521.8,929.1 522.4,929.8 523,930.4 524.2,932.9 525.4,933.9 526.6,936.6 526.7,936.3 527.8,936.8 529,936.5 530.2,937.8 531,938.4 531.4,937.7 532.6,938 533.8,936.9 535,936.3 535.3,936.3 536.2,936.2 537.4,937.3 538.6,937.2 539.8,938 540,938.4"/>
<path d="M414.1 1117V722" stroke="#000" stroke-width="2.3" stroke-dasharray="39.3 23.2" fill="none"/>
<path d="M477 1117V722" stroke="#000" stroke-width="2.3" stroke-dasharray="39.3 23.2" fill="none"/>
<path d="M401.5 1117v-5.5M401.5 722v5.5M451.8 1117v-5.5M451.8 722v5.5M502.2 1117v-5.5M502.2 722v5.5M351.1 722h5.5M540 722h-5.5M351.1 853.7h5.5M540 853.7h-5.5M351.1 985.3h5.5M540 985.3h-5.5M351.1 1117h5.5M540 1117h-5.5" stroke="#262626" stroke-width="2" fill="none"/>
<rect x="351.1" y="722" width="188.9" height="395" fill="none" stroke="#262626" stroke-width="2.4"/>
<polyline clip-path="url(#c12)" fill="none" stroke="#4DBEEE" stroke-width="3.0" stroke-linejoin="round" points="565.5,908.3 566.5,907.2 567.5,904.2 568.5,901.9 568.7,901.9 569.5,901.7 570.5,897.7 571.5,896 571.9,895.4 572.5,894.8 573.5,890.9 574.5,888.5 575.1,886.8 575.5,886.3 576.5,883.3 577.5,879.5 578.4,878.2 578.5,879.6 579.5,883.6 580.5,889.6 580.5,889 581.5,892.2 582.5,893.7 583.5,898.5 583.7,899.7 584.5,898.5 585.5,896.3 586.5,894.4 586.9,893.3 587.5,892.8 588.5,890.5 589.5,886.6 590.2,884.7 590.5,885.7 591.5,882.3 592.5,880.4 593.4,880.4 593.5,879.8 594.5,876.4 595.5,874.1 596.5,870.7 597.3,867.5 597.5,866.6 598.5,871.3 599.5,872.8 600.5,874.6 600.9,876.1 601.5,878 602.5,879.8 603.5,881.2 604.1,882.5 604.5,881 605.5,881.9 606.5,879.1 607.4,878.2 607.5,878.1 608.5,875.6 609.5,873.8 610.5,871.2 610.6,871.8 611.5,867.5 612.5,862.1 613.5,856.5 613.8,854.6 614.5,852.4 615.5,848.6 616.5,843 617,841.7 617.5,840.7 618.5,836.2 619.5,833.2 620.3,828.8 620.5,828.7 621.5,824.2 622.4,822.3 622.5,822.7 623.5,824.2 624.5,825.7 624.6,826.6 625.5,830.5 626.5,835 626.7,837.4 627.5,841.8 628.2,845.9 628.5,836.6 629.5,799.9 629.5,798.7 630.4,788 630.5,790.1 631.5,808.3 632.1,818.1 632.5,825 633.5,843.6 634.2,856.8 634.5,862.1 635.3,888.9 636.4,905.4 637.1,908.4 637.8,894.7 638.5,899 639.2,896.9 639.9,892.9 640.6,911.2 640.7,895.4 640.8,919.1 641.3,914.7 642,897.8 642.7,921.8 643.4,921.2 644.1,898 644.8,900.7 645,901.9 645.1,923.4 645.5,900.9 646.2,924.9 646.9,905.5 647.6,903.3 648.3,909.2 649,907.8 649.3,906.2 649.4,929.8 649.7,910.5 650.4,910 651.1,927.4 651.8,929 652.5,930.7 653.2,910.7 653.6,908.3 653.7,932 653.9,908.5 654.6,909.3 655.3,925.8 656,931 656.7,931.6 657.4,926.6 657.9,908.3 658,934.1 658.1,911.7 658.8,933.4 659.5,916.9 660.2,916.3 660.9,909.8 661.6,918.6 662.2,910.5 662.3,936.3 662.3,929.7 663,916.3 663.7,931.5 664.4,918 665.1,935.5 665.8,919.9 666.5,912.6 666.6,934.1 666.5,912.3 667.2,914.2 667.9,917 668.6,932.2 669.3,938.5 670,928.9 670.7,915.1 670.8,910.5 670.9,936.3 671.4,910.6 672.1,932.6 672.8,937.3 673.5,914.5 674.2,931.3 674.9,933.5 675.1,910.5 675.2,940.6 675.6,935 676.3,936 677,914.9 677.7,911.1 678.4,926.8 679.1,932.6 679.4,908.3 679.5,936.3 679.8,927.3 680.5,933.5 681.2,933 681.9,928.2 682.6,909.3 683.3,909 683.7,904 683.8,932 684,906.2 684.7,905.7 685.4,904.5 686.1,903.8 686.8,921.5 687.5,899.1 688,889 688.1,921.2 688.2,915.6 688.9,887.8 689.6,900.6 692.3,871.8 693.3,869.7 694.3,866.9 694.4,867.5 695.3,866.7 696.3,867.7 697.3,868.5 697.6,867.5 698.3,868.5 699.3,871.9 700.3,873.1 700.9,876.1 701.3,876.4 702.3,877.3 703.3,878.5 704.1,878.2 704.3,878.8 705.3,880.1 706.3,881.9 707.3,882.6 707.3,882.5 708.3,882 709.3,881.5 710.3,879.4 710.5,880.4 711.3,878.6 712.3,875.7 712.7,876.1 713.3,879.7 714.3,881.4 715.3,886.6 715.9,889 716.3,889.5 717.3,892.3 718.3,893.8 719.3,895.5 720.2,897.6 720.3,898.5 721.3,898.4 722.3,897.2 723.3,899.6 723.5,899.7 724.3,898.5 725.3,898.4 726.3,894.2 726.7,895.4 727.3,893.5 728.3,890.7 729.3,886 729.9,884.7 730.3,887 731.3,893.1 732.3,896.9 733.1,901.9 733.3,902.2 734.3,903.9 735.3,906.3 736.3,908.3 736.3,908.3 737.3,906.3 738.3,905.1 739.3,902.2 739.6,901.9 740.3,902.9 741.3,905.6 742.3,905 742.8,906.2 743.3,907.2 744.3,910.2 745.3,913.4 746,914.8 746.3,914.4 747.3,918.5 748.3,920.1 749.2,923.4 749.3,922.7 750.3,922.7 751.3,922.1 752.3,920 752.5,921.2 753.3,924.8 754.3,927.8 755,929.8"/>
<polyline clip-path="url(#c12)" fill="none" stroke="#808080" stroke-width="2.2" stroke-linejoin="round" points="566.4,947 567.6,944.3 568.8,942.9 570,939.6 570.7,938.4 571.2,936.8 572.4,937.7 573.6,936.7 574.8,933.4 575,934.1 576,933.1 577.2,934.4 578.4,933.3 579.3,932 579.6,932 580.8,930.1 582,929.9 583.2,928.4 583.6,927.7 584.4,927.8 585.6,926.2 586.8,926.3 587.9,925.5 588,924.5 589.2,923.6 590.4,921.9 591.6,921.2 592.1,921.2 592.8,920.5 594,917.6 595.2,915.8 596.4,913.9 596.4,912.6 597.6,910.7 598.8,908.7 600,906.7 600.7,906.2 601.2,904.9 602.4,904.5 603.6,901.7 604.8,899.3 605,899.7 606,899.2 607.2,896.8 608.4,893.7 609.3,893.3 609.6,892.4 610.8,889.7 612,889.1 613.2,887.8 613.6,886.8 614.4,885.6 615.6,881.6 616.8,879.2 617.9,876.1 618,875.5 619.2,873.3 620.4,870.2 621.6,868.4 622.2,867.5 622.8,867.6 624,869.3 624.3,869.6 625.2,872.9 626.4,877.6 626.5,878.2 627.6,877.3 628.6,878.2 628.8,874.8 629.9,854.5 630,852.3 630.3,846.1 631.2,869.1 631.5,869 631.9,875 632.2,875.7 632.6,880.5 632.9,880.4 633,884.7 632.9,880.6 633.3,886.2 633.6,883.8 634,888.3 634.3,886.8 634.7,891.3 635,889.1 635,889 635.2,893.3 635.4,892.2 635.7,890.1 636.1,894 636.4,891.9 636.8,894.6 637.1,892 637.5,896.3 637.8,893.1 638.2,897.2 638.3,893.3 638.4,897.6 638.5,893.4 638.9,897.1 639.2,894.5 639.6,897.9 639.9,894.1 640.3,897.4 640.6,894.3 641,897.8 641.3,894.5 641.5,894.3 641.6,898.6 641.7,898.7 642,895.3 642.4,898.6 642.7,895.4 643.1,899.8 643.4,896.8 643.8,899.8 644.1,897.9 644.5,901.1 644.8,898.3 645.2,901.7 645.5,898.4 645.8,898.6 645.9,902.9 645.9,902.4 646.2,899.3 646.6,903.4 646.9,900.8 647.3,903.7 647.6,900.3 648,904.4 648.3,900.8 648.7,904.5 649,901.8 649.4,905.2 649.7,902.7 650.1,901.9 650.2,906.2 650.1,906.2 650.4,902.1 650.8,906.2 651.1,902.9 651.5,906.3 651.8,902.3 652.2,905.8 652.5,904.4 652.9,906.9 653.2,903.6 653.6,907.8 653.9,904.3 654.3,908 654.4,904 654.5,908.3 654.6,904.4 655,907.3 655.3,904.5 655.7,907.5 656,904.4 656.4,907.1 656.7,903.2 657.1,906.8 657.4,903.3 657.8,905.4 658.1,903.1 658.5,906.5 658.6,902.3 658.8,906.6 658.8,903.5 659.2,905.7 659.5,901.7 659.9,905.1 660.2,902.5 660.6,905.1 660.9,902.3 661.3,905.2 661.6,900.9 662,904.6 662.3,901.7 662.7,904.8 662.9,900.8 663.1,905.1 663,902.1 663.4,904.6 663.7,900.6 664.1,904.9 664.4,900.6 664.8,904.1 665.1,900.9 665.5,902.6 665.8,900.5 666.2,902.1 666.5,900.2 666.9,902.9 667.2,898.6 667.4,902.9 667.2,899.1 667.6,903 667.9,899.6 668.3,903.2 668.6,900.5 669,905.1 669.3,902.2 669.7,904.8 670,903.1 670.4,905.8 670.7,903.5 671.1,908.2 671.4,904.1 671.5,904 671.7,908.3 671.8,907.2 672.1,904.2 672.5,907.3 672.8,903.1 673.2,907.3 673.5,903.8 673.7,902.3 673.8,906.6 673.9,905.1 674.2,902.8 674.6,904.2 674.9,900.8 675.3,903.8 675.6,899.2 676,901.5 676.3,898.7 676.7,900.4 677,897.1 677.4,900.6 677.7,896.1 677.9,895.4 678.1,899.7 678.1,898.6 678.4,896.2 678.8,898.7 679.1,895.7 679.5,898.7 679.8,895.4 680.2,898.2 680.5,895.1 680.9,897.4 681.2,894.2 681.6,896.9 681.9,893.4 682.2,893.3 682.4,897.6 682.3,896.5 682.6,892.4 683,895.7 683.3,891.3 683.7,894 684,889.3 684.4,893.1 684.7,888.2 685.1,891.1 685.4,887.1 685.8,888.1 686.1,885.8 686.5,887.4 686.5,883.6 686.7,887.9 686.8,882.4 687.2,884.4 687.5,878.8 687.9,880.8 688.2,875.5 688.6,876.7 688.9,873 689.3,872.9 689.6,869.1 689.7,867.5 689.9,871.8 690,869.6 690.3,862.5 690.7,863.3 691,856.8 691.7,850.4 692.5,867.4 692.9,870.7 694,880.3 694.1,881 695.3,876.4 696.5,873.3 697.2,869.6 697.7,870.2 698.9,871.6 699.4,871.8 700.1,873.7 701.3,875 702.5,878.2 703.7,880.9 703.7,880.4 704.9,881.9 706.1,884.8 707.3,886.5 708,886.8 708.5,887.4 709.7,888.7 710.9,888 712.1,889 712.3,889 713.3,889.2 714.5,892.2 715.7,894.7 716.6,895.4 716.9,896.1 718.1,898.1 719.3,899.9 720.5,901.6 720.9,901.9 721.7,903.2 722.9,905.7 724.1,905.6 725.1,908.3 725.3,908.2 726.5,910.2 727.7,911.3 728.9,913.6 729.4,914.8 730.1,915.1 731.3,917.6 732.5,918.7 733.7,920.9 733.7,921.2 734.9,924.3 736.1,926.4 737.3,929 738,929.8 738.5,931.1 739.7,932.6 740.9,932.9 742.1,936.9 742.3,936.3 743.3,936.5 744.5,937.7 745.7,937.7 746.6,938.4 746.9,937.9 748.1,937.5 749.3,937.2 750.5,935.6 750.9,936.3 751.7,937.3 752.9,936.7 754.1,938.4 755.3,938.8 755.6,938.4"/>
<path d="M629.5 1117V722" stroke="#000" stroke-width="2.3" stroke-dasharray="39.3 23.2" fill="none"/>
<path d="M692.5 1117V722" stroke="#000" stroke-width="2.3" stroke-dasharray="39.3 23.2" fill="none"/>
<path d="M616.9 1117v-5.5M616.9 722v5.5M667.3 1117v-5.5M667.3 722v5.5M717.8 1117v-5.5M717.8 722v5.5M566.4 722h5.5M755.6 722h-5.5M566.4 853.7h5.5M755.6 853.7h-5.5M566.4 985.3h5.5M755.6 985.3h-5.5M566.4 1117h5.5M755.6 1117h-5.5" stroke="#262626" stroke-width="2" fill="none"/>
<rect x="566.4" y="722" width="189.2" height="395" fill="none" stroke="#262626" stroke-width="2.4"/>
<polyline clip-path="url(#c13)" fill="none" stroke="#D95319" stroke-width="3.0" stroke-linejoin="round" points="778.5,972.8 779.5,974.8 780.5,977.4 781.5,978.8 781.7,979.2 782.5,980.8 783.5,982.6 784.5,986 784.9,987.8 785.5,985.2 786.5,980.9 787,977.1 787.5,975.7 788.5,972.3 789.5,967.8 789.6,966.4 790.5,969 791.5,971.7 792.4,974.9 792.5,975.4 793.5,976.7 794.5,979.5 795.2,979.2 795.5,978.9 796.5,973.2 797.5,970.5 797.8,968.5 798.5,965.7 799.5,964.3 800.5,958.5 801,957.8 801.5,956.3 802.5,954.2 803.5,953.4 803.6,953.5 804.5,955.4 805.5,959.6 806.4,962 806.5,962.2 807.5,961.1 808.5,958.9 809.5,958.1 809.6,957.8 810.5,957 811.5,953.4 812.5,952 812.8,951.3 813.5,950.8 814.5,950.8 815.5,947.5 815.6,949.2 816.5,951.2 817.5,955.8 818.2,957.8 818.5,957.4 819.5,962.3 820.5,966.3 821.4,970.6 821.5,970.6 822.5,974.6 823.2,977.1 823.5,974 824.5,969.6 825.5,960.7 825.7,959.9 826.5,953.4 827.5,946.1 827.9,942.7 828.5,940.5 829.5,930 830,927.7 830.5,924.8 831.5,919.7 832.2,914.8 832.5,915.8 833.5,919 834.3,919.1 834.5,918.1 835.5,922.2 836.5,922.9 836.5,923.4 837.5,921.7 838.5,919.7 838.6,919.1 839.5,918.2 840.4,914.8 840.5,914.7 841.5,913 841.9,910.5 842.5,894.7 842.9,880.3 843.5,874.2 844,867.5 844.5,874.9 845.1,889.1 845.5,903.7 846.2,931.9 848.3,985.7 849,964.1 849.7,980.8 850.4,961.9 851.1,962.3 851.5,957.8 851.7,985.7 851.8,962.6 852.5,982.6 853.2,958.7 853.9,983.3 854.6,979 855.3,958 855.8,955.6 856,983.6 856,978.4 856.7,959.3 857.4,977.5 858.1,956 858.8,959.8 859.5,981.3 860.1,955.6 860.3,981.4 860.2,956.9 860.9,981.4 861.6,981.1 862.3,979.1 863,958 863.7,981.5 864.4,978.8 864.4,955.6 864.6,985.7 865.1,957.8 865.8,957.4 866.5,982.4 867.2,985.5 867.9,981.9 868.6,959.9 868.7,955.6 868.9,985.7 869.3,959.1 870,982.3 870.7,957 871.4,981.5 872.1,989.8 872.8,965.9 873,957.8 873.2,987.9 873.5,959.4 874.2,959.7 874.9,986 875.6,988.8 876.3,958.6 877,959.1 877.3,955.6 877.5,990 877.7,983.6 878.4,956 879.1,990.2 879.5,955.6 879.6,994.3 879.8,987 880.5,987.2 881.2,983.9 881.9,981.6 882.6,955.8 883.3,982.6 883.8,955.6 883.9,983.6 884,956.7 884.7,982 885.4,978.7 886.1,980.8 886.8,959.6 887.5,959.2 888.1,953.5 888.2,981.4 888.2,957.3 888.9,957.7 889.6,956.6 890.3,954 891,957.7 891.7,948.6 892.4,951.3 892.5,979.3 892.4,975.7 893.1,976.3 893.8,956 894.5,975.2 895.2,972.3 895.9,946.4 896.6,970.9 896.7,949.2 896.8,975 897.3,970.4 898,953.7 898.7,948.8 899.4,949.7 900.1,948.3 900.8,953.6 901,944.9 901.1,953.5 901.5,947.1 902.2,931.2 902.9,934.9 905.3,910.5 906.3,908.2 907.3,903.7 907.4,904 908.3,904.1 909.3,901.1 910.3,902.1 910.6,901.9 911.3,901.4 912.3,899.9 913.3,900.1 913.9,899.7 914.3,900.9 915.3,905.1 916.3,909.8 916.5,910.4 917.3,914 918.3,918.1 919.2,923.4 919.3,922.3 920.3,922.3 921.3,924.7 922.3,923.9 922.5,925.5 923.3,924.6 924.3,925.6 925.3,924.1 925.7,925.5 926.3,927.7 927.3,933.6 928.3,937.1 928.5,938.4 929.3,941.8 930.3,946.8 931.1,949.2 931.3,949.2 932.3,946.6 933.3,945.3 933.6,944.9 934.3,944.9 935.3,944.3 936.3,942.2 936.5,942.7 937.3,944.4 938.3,946.7 939.3,949 939.7,949.2 940.3,947.8 941.3,944.5 942.3,941.1 942.9,938.4 943.3,939 944.3,941.5 945.3,944.3 945.7,944.9 946.3,945.6 947.3,948.1 948.3,949.2 948.3,948.2 949.3,950.8 950.3,949.7 951.3,948.2 951.5,949.2 952.3,952.3 953.3,954.6 954.3,956.7 954.7,957.8 955.3,960.4 956.3,962.6 957.3,963 957.9,964.2 958.3,963.2 959.3,962.5 960.3,959.9 961.2,959.9 961.3,959.6 962.3,956 963.3,952.6 964,949.2 964.3,949.5 965.3,950.7 966.3,951.6 966.5,951.3 967.3,952.3 968,953.5"/>
<polyline clip-path="url(#c13)" fill="none" stroke="#808080" stroke-width="2.2" stroke-linejoin="round" points="779.5,947 780.7,945.7 781.9,942.8 783.1,940 783.8,938.4 784.3,938.9 785.5,936.7 786.7,935.6 787.9,934.4 788.1,934.1 789.1,933.2 790.3,932.4 791.5,932 792.4,932 792.7,931.6 793.9,930.8 795.1,928.6 796.3,928.4 796.7,927.7 797.5,927.4 798.7,926.5 799.9,925.9 801,925.5 801.1,925.1 802.3,923.4 803.5,922.1 804.7,921.3 805.3,921.2 805.9,920.4 807.1,916.7 808.3,915.1 809.5,913.3 809.5,912.6 810.7,911 811.9,909.4 813.1,907.8 813.8,906.2 814.3,905.9 815.5,903.6 816.7,901.9 817.9,900 818.1,899.7 819.1,898 820.3,895.5 821.5,894 822.4,893.3 822.7,892.5 823.9,890 825.1,890.6 826.3,888 826.7,886.8 827.5,885 828.7,881.4 829.9,878.8 831,876.1 831.1,875.7 832.3,872.9 833.5,870.9 834.7,867.9 835.3,867.5 835.9,867.9 837.1,869.3 837.5,869.6 838.3,874.2 839.5,877.7 839.6,878.2 840.7,878 841.7,878.2 841.9,875.5 843,854.6 843.1,852.6 843.5,846 844.3,868.3 844.7,868.9 845,874.6 845.4,874.6 845.7,881.5 846,880.4 846.2,884.7 846.1,880.7 846.4,886 846.8,883.9 847.1,888.3 847.5,886.7 847.8,890.4 848.2,889.4 848.2,889 848.3,893.3 848.5,892.7 848.9,890.6 849.2,894 849.6,891.2 849.9,895.5 850.3,891.7 850.6,896.6 851,893 851.3,896.8 851.4,893.3 851.5,897.6 851.7,894.4 852,897.1 852.4,894.1 852.7,897.7 853.1,895.3 853.4,898.1 853.8,894.2 854.1,898.5 854.5,895.3 854.6,894.3 854.8,898.6 854.8,898.1 855.2,895.3 855.5,899.3 855.9,896 856.2,899.6 856.6,896.1 856.9,900.9 857.3,897.9 857.6,900.8 858,897.2 858.3,902 858.7,899.3 858.9,898.6 859.1,902.9 859,903.4 859.4,900 859.7,902.9 860.1,899.9 860.4,903.9 860.8,900.1 861.1,904 861.5,900.9 861.8,904.9 862.2,902.6 862.5,905.4 862.9,902.6 863.2,901.9 863.4,906.2 863.2,905.8 863.6,902.7 863.9,906.3 864.3,903.4 864.6,907.2 865,903.4 865.3,906 865.7,903.4 866,907.4 866.4,904.4 866.7,907 867.1,904.5 867.4,907 867.5,904 867.6,908.3 867.8,904 868.1,908 868.5,904.8 868.8,907.8 869.2,903.5 869.5,906.4 869.9,903.5 870.2,907.1 870.6,903.6 870.9,906.5 871.3,902.8 871.6,905.3 871.8,902.3 871.9,906.6 872,902.7 872.3,906.1 872.7,902.1 873,905.8 873.4,902.1 873.7,904.4 874.1,902.5 874.4,905 874.8,902.7 875.1,904.6 875.5,901.3 875.8,904.2 876.1,900.8 876.2,905.1 876.2,901.1 876.5,904.4 876.9,901.3 877.2,904.5 877.6,900.7 877.9,902.7 878.3,900.8 878.6,903.3 879,899.4 879.3,903.4 879.7,899.7 880,902.6 880.4,899.9 880.4,898.6 880.5,902.9 880.7,902.1 881.1,899.9 881.4,903.8 881.8,901.5 882.1,904.2 882.5,902.3 882.8,905.6 883.2,902.1 883.5,905.9 883.9,903.5 884.2,907.4 884.6,904.2 884.7,904 884.8,908.3 884.9,907.2 885.3,904.6 885.6,907.5 886,903.4 886.3,906.5 886.7,902.4 886.8,902.3 887,906.6 887,906.2 887.4,902.1 887.7,904.7 888.1,900.5 888.4,903.9 888.8,899.8 889.1,902.2 889.5,899.3 889.8,901.3 890.2,897.8 890.5,900.3 890.9,896.1 891.1,895.4 891.3,899.7 891.2,899.3 891.6,896 891.9,897.8 892.3,895 892.6,898.8 893,894.7 893.3,897.2 893.7,894 894,897.7 894.4,894.3 894.7,897.9 895.1,894.2 895.4,893.3 895.5,897.6 895.4,897 895.8,893 896.1,895.8 896.5,891.1 896.8,893.5 897.2,889.8 897.5,892.6 897.9,888.1 898.2,891 898.6,886.6 898.9,889.1 899.3,885.4 899.6,887.6 899.7,883.6 899.8,887.9 900,882.8 900.3,885.1 900.7,879.1 901,880.3 901.4,876.2 901.7,877.2 902.1,872.4 902.4,874.2 902.8,868.3 902.9,867.5 903.1,871.8 903.1,868.6 903.5,863.1 903.8,864.2 904.2,856.8 904.8,850.3 905.7,867.5 906,870 907.2,880.4 907.2,880.5 908.4,875.6 909.6,872.8 910.4,869.6 910.8,870.7 912,872.7 912.6,871.8 913.2,873.6 914.4,875.6 915.6,877.8 916.8,880.5 916.9,880.4 918,882.5 919.2,883.1 920.4,885.1 921.1,886.8 921.6,886.5 922.8,887.4 924,887.8 925.2,889.2 925.5,889 926.4,889 927.6,890.8 928.8,893.5 929.7,895.4 930,896.1 931.2,898 932.4,898.7 933.6,901.6 934,901.9 934.8,903 936,905.6 937.2,908.1 938.3,908.3 938.4,908.8 939.6,909.9 940.8,911.6 942,913.4 942.6,914.8 943.2,915.9 944.4,916.1 945.6,920.7 946.8,922.1 946.9,921.2 948,924.1 949.2,926 950.4,928.4 951.2,929.8 951.6,929.3 952.8,932.4 954,933.8 955.2,936 955.5,936.3 956.4,937 957.6,937.1 958.8,938.8 959.8,938.4 960,938.9 961.2,936.8 962.4,936.5 963.6,937.4 964.1,936.3 964.8,936.8 966,936.7 967.2,937.7 968.4,937.4 968.8,938.4"/>
<path d="M842.6 1117V722" stroke="#000" stroke-width="2.3" stroke-dasharray="39.3 23.2" fill="none"/>
<path d="M905.7 1117V722" stroke="#000" stroke-width="2.3" stroke-dasharray="39.3 23.2" fill="none"/>
<path d="M830 1117v-5.5M830 722v5.5M880.5 1117v-5.5M880.5 722v5.5M930.9 1117v-5.5M930.9 722v5.5M779.5 722h5.5M968.8 722h-5.5M779.5 853.7h5.5M968.8 853.7h-5.5M779.5 985.3h5.5M968.8 985.3h-5.5M779.5 1117h5.5M968.8 1117h-5.5" stroke="#262626" stroke-width="2" fill="none"/>
<rect x="779.5" y="722" width="189.3" height="395" fill="none" stroke="#262626" stroke-width="2.4"/>
<polyline clip-path="url(#c14)" fill="none" stroke="#EDB120" stroke-width="3.0" stroke-linejoin="round" points="993.5,979.3 994.5,983 995.5,988.9 996,990 996.5,988.7 997.5,980.7 998.5,973.5 998.8,970.7 999.5,966.7 1000.5,962.4 1001.5,956.6 1002,953.5 1002.5,953.6 1003.5,955 1004.5,959.2 1005.3,959.9 1005.5,958.9 1006.5,961.4 1007.5,960.8 1008.5,962.2 1008.5,962.1 1009.5,962.2 1010.5,962 1011.5,962.4 1011.7,962.1 1012.5,963.6 1013.5,966.4 1014.5,965.8 1014.9,968.5 1015.5,966.1 1016.5,963 1017.5,958 1018.2,955.6 1018.5,954.5 1019.5,954 1020.5,951.2 1021.4,951.3 1021.5,951.1 1022.5,950.7 1023.5,951.1 1024.5,949.9 1024.6,949.2 1025.5,952 1026.5,957.9 1027.5,960.4 1027.8,962 1028.5,965 1029.5,964 1030.5,967.2 1031.1,968.5 1031.5,968 1032.5,969.5 1033.5,971.2 1033.9,972.8 1034.5,971 1035.5,966.5 1036.5,965.6 1036.9,964.2 1037.5,964 1038.5,960.7 1039.5,960.3 1040.3,959.9 1040.5,959.6 1041.5,953.8 1042.5,948.6 1042.9,944.9 1043.5,942.1 1044.5,937.3 1045.5,932.5 1046.1,929.8 1046.5,928.8 1047.5,925.7 1048.5,920.8 1049.3,916.9 1049.5,916.6 1050.5,916.1 1051.5,917 1052.1,914.8 1052.5,916.3 1053.5,919.4 1054.1,923.4 1054.5,927.2 1055.5,932.7 1055.8,936.3 1056.5,937 1057.5,937.7 1057.9,938.3 1058.5,925.7 1059.5,903.7 1059.7,899.8 1060.5,916.5 1061.2,931.9 1061.5,936.4 1062.5,951.5 1063.3,964.2 1063.5,966 1064.5,979.6 1065.5,989.6 1065.5,990 1066.5,981.3 1067.5,971.5 1067.6,970.7 1068.5,965.2 1069.5,958.6 1069.8,957.8 1070.5,957.7 1071.5,954.5 1071.9,953.5 1072.5,961.3 1073.5,974.6 1074.1,981.4 1074.5,982.7 1075.5,990.9 1076.2,996.4 1077.3,986.4 1078,963.2 1078.7,963.5 1079.4,963.6 1080.1,961.9 1080.8,982.1 1081.5,963.1 1081.6,957.8 1081.7,983.6 1082.2,985.4 1082.9,978 1083.6,961 1084.3,978.1 1085,961.3 1085.7,957.5 1085.9,955.6 1086,979.3 1086.4,973.9 1087.1,978 1087.8,978 1088.5,960.5 1089.2,976.3 1089.9,976.8 1090.2,953.5 1090.3,977.1 1090.6,950.5 1091.3,972.3 1092,973.3 1092.3,934.1 1092.5,975 1092.7,944.3 1093.4,972.6 1094.1,964.8 1094.8,948.5 1095.5,972.6 1096.2,963.6 1096.6,936.3 1096.8,977.1 1096.9,972.8 1097.6,976.2 1098.3,978.2 1099,951.7 1099.7,971.5 1100.4,959.2 1100.9,953.5 1101.1,975 1101.1,957.7 1101.8,955.6 1102.5,954.6 1103.2,955.3 1103.9,970.2 1104.6,954.4 1105.2,953.5 1105.4,970.7 1105.3,955.1 1106,951.9 1106.7,953.7 1107.4,963.7 1108.1,952.3 1108.8,953.1 1109.5,952.2 1109.5,949.2 1109.7,957.8 1110.2,958.8 1110.9,934.9 1111.6,958.3 1112.3,917.5 1112.8,910.5 1112.9,959.9 1113,911.8 1113.7,929.2 1114.4,930 1115.1,958.7 1115.8,960.7 1116,921.2 1116.1,964.2 1116.5,918.2 1117.2,916.5 1117.9,917.3 1120.3,932 1121.3,932.7 1122.3,932.4 1122.4,932 1123.3,929.6 1124.3,930.4 1125.3,931.2 1125.7,929.8 1126.3,931.9 1127.3,932.1 1128.3,930.3 1128.9,932 1129.3,933.3 1130.3,936.9 1131.3,937.9 1132.1,940.6 1132.3,939.4 1133.3,941.8 1134.3,943.7 1135.3,944.3 1135.3,944.9 1136.3,947.7 1137.3,946.7 1138.3,947.6 1138.5,949.2 1139.3,952.5 1140.3,960.4 1141.3,965.4 1141.8,968.5 1142.3,968.7 1143.3,963.8 1144.3,962.9 1145,959.9 1145.3,958.9 1146.3,961.4 1147.3,961 1148.2,962.1 1148.3,963 1149.3,963.1 1150.3,964.4 1151.3,965.9 1151.5,966.4 1152.3,968.1 1153.3,969.6 1154.2,970.7 1154.3,971.1 1155.3,969.3 1156.3,963.6 1157.3,961.2 1157.9,959.9 1158.3,960.5 1159.3,965.9 1160.3,966.8 1160.7,968.5 1161.3,969.5 1162.3,973.4 1163.3,979.2 1163.3,979.9 1164.3,972.4 1165.3,967.6 1166.3,960.4 1166.5,959.9 1167.3,959.2 1168.3,956.4 1169.3,956.8 1169.7,955.6 1170.3,955 1171.3,958.1 1172.3,957.6 1172.9,957.8 1173.3,960.2 1174.3,961.8 1175.3,964.5 1176.2,966.3 1176.3,965.8 1177.3,963.7 1178.3,958.2 1179.3,956.8 1179.4,955.6 1180.3,954.1 1181.3,950.6 1181.5,949.2 1182.3,951.4 1183,953.4"/>
<polyline clip-path="url(#c14)" fill="none" stroke="#808080" stroke-width="2.2" stroke-linejoin="round" points="994.5,947 995.7,943.6 996.9,942.3 998.1,939.7 998.8,938.4 999.3,938.3 1000.5,936.5 1001.7,936 1002.9,934.7 1003.1,934.1 1004.1,934.2 1005.3,932.9 1006.5,932.6 1007.4,932 1007.7,931.6 1008.9,929 1010.1,928.6 1011.3,926.7 1011.7,927.7 1012.5,927.7 1013.7,927 1014.9,925.3 1016,925.5 1016.1,926.1 1017.3,923.9 1018.5,923 1019.7,922 1020.3,921.2 1020.9,919.6 1022.1,917.7 1023.3,915 1024.5,913 1024.6,912.6 1025.7,910 1026.9,909.7 1028.1,907 1028.9,906.2 1029.3,904.9 1030.5,904.8 1031.7,901.4 1032.9,900.8 1033.2,899.7 1034.1,898.9 1035.3,896.8 1036.5,895 1037.5,893.3 1037.7,892.2 1038.9,891.1 1040.1,888.7 1041.3,887 1041.8,886.8 1042.5,885.6 1043.7,882.2 1044.9,878.4 1046.1,876.1 1046.1,877.2 1047.3,873.9 1048.5,869.8 1049.7,868.8 1050.4,867.5 1050.9,868.7 1052.1,869.4 1052.5,869.6 1053.3,872.3 1054.5,877.2 1054.7,878.2 1055.7,877.9 1056.8,878.2 1056.9,876.4 1058.1,855.7 1058.1,854.6 1058.6,846 1059.4,869.2 1059.8,868.4 1060.1,875.7 1060.5,875.1 1060.8,880.7 1061.1,880.4 1061.3,884.7 1061.2,880.9 1061.5,884.9 1061.9,883.8 1062.2,888.1 1062.6,886.9 1062.9,890.9 1063.3,889 1063.3,889 1063.4,893.3 1063.6,893.2 1064,890.2 1064.3,894.5 1064.7,891.7 1065,894.8 1065.4,891.6 1065.7,896.5 1066.1,892.9 1066.4,897.1 1066.5,893.3 1066.7,897.6 1066.8,893.9 1067.1,897.6 1067.5,894 1067.8,896.9 1068.2,893.9 1068.5,897.6 1068.9,894.5 1069.2,898.4 1069.6,894.5 1069.7,894.3 1069.9,898.6 1069.9,898.1 1070.3,895.3 1070.6,899 1071,896.4 1071.3,899.2 1071.7,896.8 1072,900.3 1072.4,897.5 1072.7,901.7 1073.1,898.6 1073.4,901.6 1073.8,898.8 1074,898.6 1074.2,902.9 1074.1,902.5 1074.5,899.5 1074.8,902.2 1075.2,900.2 1075.5,903.4 1075.9,901.2 1076.2,903.5 1076.6,901.6 1076.9,904.6 1077.3,901.6 1077.6,905.6 1078,902.7 1078.3,905.6 1078.3,901.9 1078.5,906.2 1078.7,903.4 1079,906.2 1079.4,902.8 1079.7,906.6 1080.1,903.2 1080.4,906.5 1080.8,904.6 1081.1,907.3 1081.5,904.1 1081.8,907.5 1082.2,904.3 1082.5,907.1 1082.6,904 1082.8,908.3 1082.9,904.5 1083.2,907.4 1083.6,903.7 1083.9,907.8 1084.3,904.2 1084.6,907.4 1085,903.6 1085.3,907 1085.7,903.7 1086,905.5 1086.4,903.5 1086.7,906.6 1086.9,902.3 1087.1,906.6 1087.1,902.9 1087.4,906.4 1087.8,902.3 1088.1,905.5 1088.5,902.4 1088.8,906.2 1089.2,901.6 1089.5,904.9 1089.9,901.5 1090.2,904.6 1090.6,901.9 1090.9,904.6 1091.2,900.8 1091.4,905.1 1091.3,901.1 1091.6,905.3 1092,901.3 1092.3,904.1 1092.7,900.4 1093,904 1093.4,899.9 1093.7,903.6 1094.1,899.6 1094.4,903 1094.8,900.1 1095.1,901.9 1095.5,898.8 1095.5,898.6 1095.7,902.9 1095.8,902.7 1096.2,899.8 1096.5,904.2 1096.9,900.6 1097.2,904.7 1097.6,901.8 1097.9,905.7 1098.3,902.3 1098.6,906.7 1099,902.9 1099.3,907.2 1099.7,904.8 1099.8,904 1100,908.3 1100,907.2 1100.4,904.1 1100.7,907.1 1101.1,903.6 1101.4,907 1101.8,902.8 1102,902.3 1102.1,906.6 1102.1,905.2 1102.5,902.5 1102.8,904.2 1103.2,900.6 1103.5,903.8 1103.9,899.4 1104.2,901.9 1104.6,898.2 1104.9,901.4 1105.3,898.3 1105.6,899.5 1106,896.1 1106.3,895.4 1106.4,899.7 1106.3,899 1106.7,896 1107,898.4 1107.4,895.8 1107.7,898.9 1108.1,894.1 1108.4,898 1108.8,894.6 1109.1,897.8 1109.5,894.5 1109.8,897.8 1110.2,893.3 1110.5,896.3 1110.6,893.3 1110.7,897.6 1110.9,893.8 1111.2,895.2 1111.6,891.3 1111.9,894.1 1112.3,890.8 1112.6,891.7 1113,888.8 1113.3,890.4 1113.7,886.4 1114,889.5 1114.4,884.8 1114.7,887.7 1114.9,883.6 1115,887.9 1115.1,882.9 1115.4,884.7 1115.8,880.4 1116.1,881.7 1116.5,875.8 1116.8,877.4 1117.2,872.4 1117.5,873.8 1117.9,869.4 1118.1,867.5 1118.3,871.8 1118.2,870.3 1118.6,864.2 1118.9,863.7 1119.3,857.8 1120,850.3 1120.9,867.5 1121.2,870.3 1122.4,880.3 1122.4,880.7 1123.6,875.7 1124.8,873.2 1125.6,869.6 1126,869.3 1127.2,872.7 1127.8,871.8 1128.4,873.6 1129.6,875.5 1130.8,877.4 1132,880.2 1132.1,880.4 1133.2,882.2 1134.4,884.3 1135.6,884.7 1136.4,886.8 1136.8,887.3 1138,886.7 1139.2,888.5 1140.4,889.4 1140.7,889 1141.6,891.1 1142.8,891.5 1144,893.9 1145,895.4 1145.2,895.7 1146.4,896.4 1147.6,900 1148.8,901.2 1149.3,901.9 1150,904 1151.2,904.1 1152.4,907.3 1153.6,908.3 1153.6,908.9 1154.8,911.1 1156,912.4 1157.2,915 1157.9,914.8 1158.4,915.9 1159.6,917.9 1160.8,919.5 1162,921.6 1162.2,921.2 1163.2,923.3 1164.4,925.6 1165.6,927.2 1166.5,929.8 1166.8,930.4 1168,933.2 1169.2,935.4 1170.4,935.1 1170.8,936.3 1171.6,936 1172.8,936.8 1174,938.1 1175.1,938.4 1175.2,939.1 1176.4,938.4 1177.6,938.2 1178.8,936 1179.4,936.3 1180,936.6 1181.2,937 1182.4,936.9 1183.6,936.8 1184.1,938.4"/>
<path d="M1057.7 1117V722" stroke="#000" stroke-width="2.3" stroke-dasharray="39.3 23.2" fill="none"/>
<path d="M1120.9 1117V722" stroke="#000" stroke-width="2.3" stroke-dasharray="39.3 23.2" fill="none"/>
<path d="M1045.1 1117v-5.5M1045.1 722v5.5M1095.6 1117v-5.5M1095.6 722v5.5M1146.2 1117v-5.5M1146.2 722v5.5M994.5 722h5.5M1184.1 722h-5.5M994.5 853.7h5.5M1184.1 853.7h-5.5M994.5 985.3h5.5M1184.1 985.3h-5.5M994.5 1117h5.5M1184.1 1117h-5.5" stroke="#262626" stroke-width="2" fill="none"/>
<rect x="994.5" y="722" width="189.6" height="395" fill="none" stroke="#262626" stroke-width="2.4"/>
<polyline clip-path="url(#c15)" fill="none" stroke="#0072BD" stroke-width="3.0" stroke-linejoin="round" points="1208.5,970.7 1209.5,971 1210.5,973.2 1211.5,972.5 1211.7,972.8 1212.5,972.8 1213.5,972 1214.5,969.4 1214.9,970.6 1215.5,968.7 1216.5,963.5 1217.5,959.2 1218.1,957.8 1218.5,957.3 1219.5,954.7 1220.3,951.3 1220.5,952.4 1221.5,956 1222.5,960.1 1223.5,964.7 1223.5,964.2 1224.5,970 1225.5,972.6 1226.3,977.1 1226.5,975.3 1227.5,971.7 1228.5,965.6 1228.9,964.2 1229.5,963.9 1230.5,960.3 1231.5,956.8 1232.1,955.6 1232.5,956.7 1233.5,953.8 1234.5,956.1 1235.3,955.6 1235.5,954.9 1236.5,953.1 1237.5,951.6 1238.5,948.3 1238.5,949.2 1239.5,948.4 1240.5,946.9 1241.5,944.5 1241.8,944.9 1242.5,944.6 1243.5,943.8 1244.5,942.8 1245,942.7 1245.5,942.2 1246.5,942.3 1247.5,942.5 1248.2,942.7 1248.5,944.1 1249.5,940.6 1250.5,938 1251,938.4 1251.5,939.7 1252.5,945.3 1253.5,948.2 1254,951.3 1254.5,949 1255.5,942.1 1256.5,937.2 1256.8,934.1 1257.5,930 1258.5,924.9 1259,921.2 1259.5,918.2 1260.5,913.1 1261.1,908.3 1261.5,907.3 1262.5,902.9 1263.5,898.6 1264.3,895.4 1264.5,894.7 1265.5,892.5 1266.5,892.9 1266.9,891.1 1267.5,891.9 1268.5,893.7 1269.1,895.4 1269.5,896.7 1270.5,902.8 1270.8,906.2 1271.5,907.6 1272.1,910.4 1272.5,899.1 1273.4,871.8 1273.5,873.9 1274.5,897.2 1275.1,910.5 1275.5,916.9 1276.5,931.6 1277.2,942.8 1277.5,946 1278.5,957.1 1279,964.2 1280.5,970.7 1281.2,968.7 1281.9,957.8 1282.6,957.9 1283.3,974.5 1283.7,957.8 1283.8,975 1284,959.8 1284.7,958.2 1285.4,972.7 1286.1,959.3 1286.8,974.4 1287.5,972.9 1288,957.8 1288.1,977.1 1288.2,962.6 1288.9,956.7 1289.6,954.8 1290.1,953.5 1290.3,981.4 1290.3,957.5 1291,974.8 1291.7,975 1292.4,959.1 1293.1,973 1293.8,972.6 1294.4,951.3 1294.6,975 1294.5,969 1295.2,973.3 1295.9,973.1 1296.6,953.8 1297.3,975.1 1298,971.4 1298.7,956.9 1298.7,951.3 1298.9,972.8 1299.4,959.2 1300.1,975.5 1300.8,960.6 1301.5,956.7 1302.2,952.4 1302.9,977.6 1303,955.6 1303.2,983.6 1303.6,958.1 1304.3,953.4 1305,975.2 1305.7,959.8 1306.4,954.6 1307.1,953.8 1307.3,953.5 1307.5,975 1307.8,955.2 1308.5,973.4 1309.2,972.8 1309.9,975 1310.6,976.4 1311.3,973.2 1311.6,949.2 1311.8,977.1 1312,969.3 1312.7,973.3 1313.4,956.3 1314.1,953.6 1314.8,975.7 1315.5,954.4 1315.9,951.3 1316.1,979.3 1316.2,978.4 1316.9,951.4 1317.6,952.8 1318.3,952 1319,954.8 1319.2,949.2 1319.3,981.4 1319.7,978.1 1320.4,976.7 1321.1,976.2 1321.8,967 1322.4,947 1322.5,975 1322.5,947.9 1323.2,972.1 1323.9,950.4 1324.6,948.6 1325.3,945.6 1326,961.9 1326.7,962.7 1326.7,944.9 1326.8,964.2 1327.4,961.1 1328.1,954.7 1328.8,959.7 1329.5,939.6 1329.9,938.4 1330.1,957.8 1330.2,939.9 1330.9,944.3 1331.6,920.1 1332.3,930.7 1333,903.7 1334.8,889.1 1335.8,910.2 1336.3,921.2 1336.8,924.6 1337.8,930 1338.5,934.1 1338.8,933.5 1339.8,930.1 1340.8,928.5 1341.3,927.7 1341.8,926.9 1342.8,927.9 1343.8,928.2 1343.9,927.7 1344.8,930.7 1345.8,930.4 1346.5,932 1346.8,934.1 1347.8,935.3 1348.8,935.8 1349.2,936.3 1349.8,936.7 1350.8,935.2 1351.8,935.2 1352.5,934.1 1352.8,934.9 1353.8,934.7 1354.8,937.1 1355,936.3 1355.8,938 1356.8,943.6 1357.8,944.9 1358.8,951.8 1359.8,958.9 1360,959.9 1360.8,953.6 1361.8,947.6 1362.2,944.8 1362.8,942.1 1363.8,940 1364.8,937.9 1364.9,936.3 1365.8,936.4 1366.8,937.5 1367.8,936.2 1368,936.3 1368.8,937.9 1369.8,939.6 1370.8,941.1 1371.2,940.6 1371.8,940.2 1372.8,942.9 1373.8,944.6 1374,944.9 1374.8,947 1375.8,949.5 1376.8,949.7 1377.2,951.3 1377.8,954.2 1378.8,955.8 1379.8,958.7 1380,957.7 1380.8,952.6 1381.8,949.4 1382.6,944.8 1382.8,944 1383.8,938.3 1384.7,934.1 1384.8,934.9 1385.8,934.4 1386.8,936.2 1387.8,938.3 1387.9,938.4 1388.8,937.6 1389.8,938.4 1390.8,939 1391.2,938.4 1391.8,937.9 1392.8,938.8 1393.8,939.3 1394.4,938.4 1394.8,940 1395.8,940.3 1396.5,942.7 1396.8,942.2 1397.8,944.5 1398,944.9"/>
<polyline clip-path="url(#c15)" fill="none" stroke="#808080" stroke-width="2.2" stroke-linejoin="round" points="1209.3,947 1210.5,944.3 1211.7,941.8 1212.9,940.1 1213.6,938.4 1214.1,938.2 1215.3,936.1 1216.5,934.4 1217.7,935 1217.9,934.1 1218.9,933.7 1220.1,933.4 1221.3,933.2 1222.2,932 1222.5,930.3 1223.7,930.7 1224.9,928.7 1226.1,928.2 1226.5,927.7 1227.3,926.5 1228.5,927.2 1229.7,926.8 1230.8,925.5 1230.9,924.7 1232.1,924.9 1233.3,923.2 1234.5,922.2 1235.1,921.2 1235.7,919.4 1236.9,916.1 1238.1,914.9 1239.3,912.8 1239.4,912.6 1240.5,910.9 1241.7,908.6 1242.9,907.2 1243.7,906.2 1244.1,905.3 1245.3,903.8 1246.5,902.6 1247.7,899.5 1248,899.7 1248.9,897.9 1250.1,895.9 1251.3,895.1 1252.2,893.3 1252.5,894.1 1253.7,891.3 1254.9,890.1 1256.1,888.4 1256.5,886.8 1257.3,884.8 1258.5,881.6 1259.7,878.5 1260.8,876.1 1260.9,876.4 1262.1,874.2 1263.3,871.9 1264.5,868 1265.1,867.5 1265.7,868 1266.9,869.5 1267.3,869.6 1268.1,873.6 1269.3,877.9 1269.4,878.2 1270.5,878.5 1271.6,878.2 1271.7,875.7 1272.9,854.6 1272.9,853.8 1273.3,846 1274.2,869.9 1274.5,868.6 1274.9,874.8 1275.2,875.4 1275.6,881.6 1275.9,880.4 1276,884.7 1275.9,881.9 1276.3,885.7 1276.6,884.3 1277,889 1277.3,887.1 1277.7,891.2 1278,889.5 1278,889 1278.2,893.3 1278.4,893.1 1278.7,890 1279.1,893.4 1279.4,891.9 1279.8,894.3 1280.1,892.7 1280.5,895.8 1280.8,892.8 1281.2,897.3 1281.2,893.3 1281.4,897.6 1281.5,894.2 1281.9,896.8 1282.2,893.8 1282.6,898.5 1282.9,894.3 1283.3,897.8 1283.6,894.9 1284,897.7 1284.3,894.7 1284.5,894.3 1284.6,898.6 1284.7,897.7 1285,895 1285.4,899.4 1285.7,895.6 1286.1,899 1286.4,897.2 1286.8,900.3 1287.1,897 1287.5,900.9 1287.8,897.8 1288.2,901.8 1288.5,898.6 1288.8,898.6 1288.9,902.9 1288.9,901.6 1289.2,899.8 1289.6,903.4 1289.9,900.2 1290.3,903.3 1290.6,900.2 1291,904.2 1291.3,900.9 1291.7,904.7 1292,902.3 1292.4,905.4 1292.7,902.6 1293,901.9 1293.2,906.2 1293.1,905.4 1293.4,902 1293.8,906.9 1294.1,903.9 1294.5,906.7 1294.8,902.9 1295.2,906.8 1295.5,903.9 1295.9,907.4 1296.2,903.8 1296.6,907.1 1296.9,904.2 1297.3,907.4 1297.3,904 1297.5,908.3 1297.6,904.4 1298,908 1298.3,904.2 1298.7,906.7 1299,903.7 1299.4,906.5 1299.7,904.1 1300.1,907 1300.4,903.4 1300.8,906.2 1301.1,902.6 1301.5,906.1 1301.6,902.3 1301.8,906.6 1301.8,902.3 1302.2,905.7 1302.5,902.3 1302.9,905.6 1303.2,901.8 1303.6,905.9 1303.9,902.8 1304.3,905.1 1304.6,901.4 1305,905.1 1305.3,901.3 1305.7,904.8 1305.9,900.8 1306.1,905.1 1306,901.6 1306.4,904.9 1306.7,900.8 1307.1,904.1 1307.4,900.1 1307.8,904.1 1308.1,900.7 1308.5,904.3 1308.8,899.6 1309.2,903.2 1309.5,899.3 1309.9,902.7 1310.2,899.1 1310.2,898.6 1310.4,902.9 1310.6,902.1 1310.9,900.9 1311.3,903.9 1311.6,900.6 1312,905 1312.3,901.6 1312.7,905.2 1313,902.5 1313.4,906.5 1313.7,903.9 1314.1,907.1 1314.4,904.1 1314.5,904 1314.7,908.3 1314.8,907.8 1315.1,905.1 1315.5,906.3 1315.8,903.6 1316.2,906.6 1316.5,902.6 1316.7,902.3 1316.8,906.6 1316.9,905.4 1317.2,901.9 1317.6,903.9 1317.9,900.7 1318.3,904 1318.6,900.3 1319,902.7 1319.3,898.5 1319.7,901.5 1320,897.2 1320.4,899.4 1320.7,895.9 1321,895.4 1321.1,899.7 1321.1,898.8 1321.4,895.7 1321.8,899.1 1322.1,895.6 1322.5,897.7 1322.8,895.6 1323.2,897.5 1323.5,894.1 1323.9,897.5 1324.2,894.3 1324.6,898.4 1324.9,893.6 1325.3,897.1 1325.3,893.3 1325.4,897.6 1325.6,892.5 1326,895 1326.3,891 1326.7,894.2 1327,890.8 1327.4,892.4 1327.7,888.5 1328.1,890.1 1328.4,886.8 1328.8,888.5 1329.1,885 1329.5,888 1329.6,883.6 1329.7,887.9 1329.8,882.4 1330.2,884.7 1330.5,879.4 1330.9,880.1 1331.2,875.7 1331.6,876.6 1331.9,872.1 1332.3,874.4 1332.6,868.4 1332.8,867.5 1332.9,871.8 1333,870.2 1333.3,863.3 1333.7,864.2 1334,856.4 1334.7,850.3 1335.6,867.5 1335.9,870.5 1337.1,880.4 1337.1,879 1338.3,877.7 1339.5,871.9 1340.3,869.6 1340.7,869.4 1341.9,870.7 1342.4,871.8 1343.1,872.3 1344.3,876 1345.5,879.1 1346.7,881.2 1346.7,880.4 1347.9,882.9 1349.1,885.2 1350.3,886.2 1351,886.8 1351.5,888.4 1352.7,887.6 1353.9,888.8 1355.1,888.4 1355.3,889 1356.3,890.1 1357.5,892.4 1358.7,895.5 1359.6,895.4 1359.9,896.4 1361.1,897.4 1362.3,899.3 1363.5,900.8 1363.9,901.9 1364.7,903 1365.9,903.9 1367.1,905.6 1368.2,908.3 1368.3,909.2 1369.5,911.4 1370.7,912.3 1371.9,914.9 1372.5,914.8 1373.1,916.6 1374.3,917 1375.5,920.4 1376.7,920.9 1376.8,921.2 1377.9,923 1379.1,926 1380.3,927.6 1381.1,929.8 1381.5,930.5 1382.7,932.5 1383.9,935.1 1385.1,935.6 1385.4,936.3 1386.3,935.9 1387.5,936.9 1388.7,938.2 1389.7,938.4 1389.9,938.5 1391.1,937.4 1392.3,938.2 1393.5,936.6 1394,936.3 1394.7,936.7 1395.9,937.1 1397.1,937.3 1398.3,938.7 1398.7,938.4"/>
<path d="M1272.4 1117V722" stroke="#000" stroke-width="2.3" stroke-dasharray="39.3 23.2" fill="none"/>
<path d="M1335.6 1117V722" stroke="#000" stroke-width="2.3" stroke-dasharray="39.3 23.2" fill="none"/>
<path d="M1259.8 1117v-5.5M1259.8 722v5.5M1310.3 1117v-5.5M1310.3 722v5.5M1360.8 1117v-5.5M1360.8 722v5.5M1209.3 722h5.5M1398.7 722h-5.5M1209.3 853.7h5.5M1398.7 853.7h-5.5M1209.3 985.3h5.5M1398.7 985.3h-5.5M1209.3 1117h5.5M1398.7 1117h-5.5" stroke="#262626" stroke-width="2" fill="none"/>
<rect x="1209.3" y="722" width="189.4" height="395" fill="none" stroke="#262626" stroke-width="2.4"/>
<polyline clip-path="url(#c16)" fill="none" stroke="#7E2F8E" stroke-width="3.0" stroke-linejoin="round" points="1424.5,908.3 1425.5,905.9 1426.5,905.8 1427.5,905.9 1427.7,906.2 1428.5,903.2 1429.5,901.9 1430.5,901.3 1430.9,899.7 1431.5,898.2 1432.5,895.8 1433.5,895.5 1434.1,893.3 1434.5,891.3 1435.5,888.7 1436.5,886.5 1437.3,884.7 1437.5,883.8 1438.5,882.8 1439.5,881.6 1439.5,882.5 1440.5,883.5 1441.5,886.9 1442.1,889 1442.5,891.3 1443.5,891.5 1444.5,894.4 1444.9,895.4 1445.5,892.5 1446.5,888.1 1447,884.7 1447.5,883.9 1448.5,881.4 1449.5,879.9 1450.2,876.1 1450.5,875.2 1451.5,875.2 1452.5,873.4 1453.5,871.8 1453.5,871.8 1454.5,873.5 1455.5,872 1456.5,871.2 1456.7,871.8 1457.5,873.3 1458.5,875.1 1459.3,876.1 1459.5,876 1460.5,872.6 1461.5,868.3 1462.1,865.3 1462.5,864.1 1463.5,862.5 1464.5,859 1465.3,856.7 1465.5,856.5 1466.5,852.9 1467.5,851.1 1468.5,846.7 1468.5,848.1 1469.5,847.5 1470.5,845.3 1471.5,844.6 1471.7,843.8 1472.5,842 1473.5,839.6 1473.9,837.4 1474.5,835.1 1475.5,833.5 1476,830.9 1476.5,830.9 1477.5,826.7 1478.5,827.5 1479.3,824.5 1479.5,823.8 1480.5,820.2 1481.5,819.1 1482.1,818 1482.5,818.7 1483.5,817.2 1484.5,817.4 1484.6,815.9 1485.5,818.3 1486.4,820.2 1486.5,819.2 1487.5,812.5 1487.9,807.3 1488.5,779.4 1488.9,755.7 1489.5,763 1490.5,776.7 1490.7,781.5 1491.5,796.5 1492.2,809.4 1494.3,831.5 1495,837.5 1495.7,837.8 1496.4,819.7 1497.1,841 1497.5,818 1497.7,841.7 1497.8,820.2 1498.5,838.8 1499.2,841.1 1499.9,842.5 1500.6,847.9 1500.8,828.8 1500.9,852.4 1501.3,850.6 1502,834.6 1502.7,838 1503.4,835.4 1504,837.4 1504.1,856.7 1504.1,839.1 1504.8,844.1 1505.5,841.8 1506.2,841.5 1506.9,852.7 1507.6,844.1 1508.3,843.8 1508.4,858.9 1508.3,845.3 1509,848.3 1509.7,856.7 1510.4,845.4 1511.1,849.1 1511.8,858.9 1512.5,858.4 1512.6,846 1512.7,861 1513.2,846.8 1513.9,847.7 1514.6,862 1515.3,860.5 1516,852 1516.7,852.2 1516.9,850.3 1517,865.3 1517.4,851.4 1518.1,864.6 1518.8,864.8 1519,846 1519.2,867.5 1519.5,849.6 1520.2,846.5 1520.9,863.5 1521.6,858 1522.3,862.3 1523,845.5 1523.3,841.7 1523.5,861 1523.7,846 1524.4,856.3 1525.1,843.5 1525.8,857.8 1526.5,859.2 1527.2,846.4 1527.6,843.8 1527.8,858.9 1527.9,845 1528.6,847.4 1529.3,854.8 1530,855.6 1530.7,846.6 1531.4,856.9 1531.9,846 1532.1,856.7 1532.1,854.6 1532.8,844.9 1533.5,838.2 1534.1,837.4 1534.2,854.6 1534.2,853.4 1534.9,836.1 1535.6,830.7 1536.3,858.6 1537,826.9 1537.3,822.3 1537.5,856.7 1537.7,828.7 1538.4,850.7 1539.1,828.7 1539.8,863.1 1540.5,824.4 1540.5,824.5 1540.7,865.3 1541.2,832.7 1541.9,852.2 1542.6,843.4 1543.3,823.6 1544,818.7 1544.7,810.5 1544.8,809.4 1545,835.2 1545.4,829.1 1546.1,805.4 1546.8,807.7 1547.5,806.4 1548.1,781.5 1548.2,803 1548.2,777.9 1548.9,761 1550.8,730.1 1551.7,781.5 1551.8,781.7 1552.8,795.7 1553.4,803 1553.8,800.1 1554.8,795.4 1555.8,787.7 1556.7,783.6 1556.8,783.6 1557.8,785 1558.8,787.8 1559.8,788.2 1559.9,787.9 1560.8,791.3 1561.8,794.8 1562.8,798.3 1563.1,798.7 1563.8,799.6 1564.8,800.6 1565.8,802.8 1566.3,803 1566.8,803.2 1567.8,802.1 1568.8,799.3 1569.5,798.7 1569.8,798.9 1570.8,804 1571.7,807.3 1571.8,806.7 1572.8,815.2 1573.8,820.2 1574.8,823.2 1575.8,824.1 1576.8,827.9 1577.1,828.8 1577.8,831.1 1578.8,830.7 1579.8,834.9 1580.3,835.2 1580.8,835.1 1581.8,839.4 1582.8,840.2 1583.5,841.7 1583.8,842.5 1584.8,841.7 1585.8,841.9 1586.7,841.7 1586.8,843.3 1587.8,843.9 1588.8,844.2 1589.8,843.3 1590,843.8 1590.8,844.5 1591.8,848.3 1592.8,849.6 1593.2,850.3 1593.8,851.5 1594.8,852.7 1595.8,854.8 1596.4,856.7 1596.8,856.1 1597.8,857.4 1598.8,858.4 1599.6,858.9 1599.8,860.4 1600.8,863.8 1601.8,867.5 1601.8,867.2 1602.8,869.9 1603.8,873.5 1604.8,875.1 1605,876.1 1605.8,874.9 1606.8,874.9 1607.8,872 1608.2,871.8 1608.8,873 1609.8,872.1 1610.8,870.3 1611.5,869.6 1611.8,870.2 1612.8,871.6 1613.8,874.2 1614,873.9"/>
<polyline clip-path="url(#c16)" fill="none" stroke="#808080" stroke-width="2.2" stroke-linejoin="round" points="1424.9,947 1426.1,945.4 1427.3,942.7 1428.5,939.6 1429.2,938.4 1429.7,938.1 1430.9,936.2 1432.1,935 1433.3,933.9 1433.5,934.1 1434.5,933.9 1435.7,933.9 1436.9,932.8 1437.8,932 1438.1,930.8 1439.3,930.5 1440.5,929.5 1441.7,927.7 1442.1,927.7 1442.9,927.3 1444.1,927.4 1445.3,926 1446.4,925.5 1446.5,924.7 1447.7,923.6 1448.9,924.4 1450.1,921.5 1450.7,921.2 1451.3,919.8 1452.5,918 1453.7,914.1 1454.9,912.1 1455,912.6 1456.1,911.5 1457.3,908.5 1458.5,906.6 1459.3,906.2 1459.7,905 1460.9,903.7 1462.1,902.7 1463.3,901.5 1463.6,899.7 1464.5,899.7 1465.7,896.5 1466.9,894.8 1467.9,893.3 1468.1,893 1469.3,890.8 1470.5,887.9 1471.7,887.6 1472.2,886.8 1472.9,885.3 1474.1,882 1475.3,879.5 1476.5,876.1 1476.5,875.4 1477.7,872.8 1478.9,869.8 1480.1,868.9 1480.8,867.5 1481.3,868.7 1482.5,869.1 1482.9,869.6 1483.7,873.1 1484.9,877.6 1485.1,878.2 1486.1,878.2 1487.2,878.2 1487.3,877.6 1488.5,855.1 1488.5,854.6 1489,846 1489.8,868.5 1490.2,868.6 1490.5,875.4 1490.9,875.5 1491.2,881.4 1491.5,880.4 1491.7,884.7 1491.6,880.7 1491.9,884.7 1492.3,884.4 1492.6,888.8 1493,886.1 1493.3,891.3 1493.7,889 1493.7,889 1493.8,893.3 1494,892.9 1494.4,890.7 1494.7,894.6 1495.1,891.2 1495.4,894.3 1495.8,892 1496.1,896.4 1496.5,894.1 1496.8,896.8 1496.9,893.3 1497.1,897.6 1497.2,893.2 1497.5,897.2 1497.9,893.9 1498.2,897.4 1498.6,894 1498.9,897.5 1499.3,894.7 1499.6,897.3 1500,894.6 1500.1,894.3 1500.3,898.6 1500.3,897.5 1500.7,895.2 1501,899 1501.4,895.7 1501.7,899.5 1502.1,897.1 1502.4,900.8 1502.8,897.9 1503.1,900.3 1503.5,898.3 1503.8,900.9 1504.2,899.8 1504.4,898.6 1504.6,902.9 1504.5,902.4 1504.9,900 1505.2,902.1 1505.6,900.3 1505.9,903.9 1506.3,900.2 1506.6,905.1 1507,901.3 1507.3,905 1507.7,901.8 1508,905.4 1508.4,902.3 1508.7,905.6 1508.7,901.9 1508.9,906.2 1509.1,902.4 1509.4,906.1 1509.8,902.6 1510.1,906.7 1510.5,903.4 1510.8,906.5 1511.2,904.5 1511.5,906.1 1511.9,904 1512.2,907.3 1512.6,905.1 1512.9,907.9 1513,904 1513.2,908.3 1513.3,904.4 1513.6,907.3 1514,904.2 1514.3,907.2 1514.7,903.8 1515,908 1515.4,902.9 1515.7,907.8 1516.1,902.4 1516.4,907 1516.8,903.7 1517.1,907.2 1517.3,902.3 1517.5,906.6 1517.5,902.5 1517.8,906 1518.2,902.2 1518.5,906.1 1518.9,902.2 1519.2,906.4 1519.6,902.1 1519.9,905 1520.3,901.5 1520.6,904.7 1521,902.3 1521.3,905.2 1521.6,900.8 1521.8,905.1 1521.7,901.3 1522,903.6 1522.4,901.2 1522.7,904.5 1523.1,900.7 1523.4,903.7 1523.8,900 1524.1,903.5 1524.5,899.4 1524.8,902.5 1525.2,899.6 1525.5,902 1525.9,900.1 1525.9,898.6 1526.1,902.9 1526.2,902.6 1526.6,899.5 1526.9,904.1 1527.3,900.4 1527.6,903.7 1528,901.9 1528.3,904.5 1528.7,902.9 1529,906.5 1529.4,903.2 1529.7,906.5 1530.1,903.8 1530.2,904 1530.4,908.3 1530.4,907.7 1530.8,904.8 1531.1,906.8 1531.5,903.1 1531.8,906 1532.2,903 1532.4,902.3 1532.5,906.6 1532.5,905.3 1532.9,902.2 1533.2,904.8 1533.6,901.1 1533.9,903.7 1534.3,899.4 1534.6,902.2 1535,898.7 1535.3,900.6 1535.7,897.5 1536,900.7 1536.4,896.3 1536.7,895.4 1536.8,899.7 1536.7,899 1537.1,896.2 1537.4,899.3 1537.8,896 1538.1,898.3 1538.5,894.7 1538.8,898.3 1539.2,894.5 1539.5,897.1 1539.9,894.2 1540.2,897.9 1540.6,893.5 1540.9,897.4 1541,893.3 1541.1,897.6 1541.3,893.7 1541.6,895.5 1542,891.5 1542.3,893.2 1542.7,890.7 1543,892.8 1543.4,889 1543.7,891.4 1544.1,887.4 1544.4,888.6 1544.8,885.5 1545.1,888.2 1545.3,883.6 1545.4,887.9 1545.5,883.5 1545.8,884.9 1546.2,879.5 1546.5,880.9 1546.9,876.7 1547.2,877.3 1547.6,872.3 1547.9,873.9 1548.3,868.7 1548.5,867.5 1548.7,871.8 1548.6,869.6 1549,864.4 1549.3,864 1549.7,858.3 1550.4,850.3 1551.3,867.5 1551.6,870.9 1552.8,880.3 1552.8,879.6 1554,875.4 1555.2,873.5 1556,869.6 1556.4,869.5 1557.6,870.9 1558.2,871.8 1558.8,872.7 1560,874.9 1561.2,878.6 1562.4,881.7 1562.5,880.4 1563.6,882 1564.8,884.2 1566,885.5 1566.8,886.8 1567.2,887.4 1568.4,887.6 1569.6,888.4 1570.8,888.5 1571.1,889 1572,891.5 1573.2,891.9 1574.4,893.9 1575.4,895.4 1575.6,895.9 1576.8,898 1578,900 1579.2,901.7 1579.7,901.9 1580.4,902.6 1581.6,904.8 1582.8,906.9 1584,908.3 1584,907.3 1585.2,910 1586.4,912.8 1587.6,913.8 1588.3,914.8 1588.8,915.7 1590,916.7 1591.2,918.7 1592.4,921 1592.6,921.2 1593.6,923.4 1594.8,925.3 1596,928.9 1596.9,929.8 1597.2,930.8 1598.4,932 1599.6,935.4 1600.8,935.4 1601.2,936.3 1602,937.4 1603.2,937.2 1604.4,938.1 1605.5,938.4 1605.6,938 1606.8,937.3 1608,936.1 1609.2,937.3 1609.8,936.3 1610.4,936.1 1611.6,936.3 1612.8,938.2 1614,938.3 1614.5,938.4"/>
<path d="M1488.1 1117V722" stroke="#000" stroke-width="2.3" stroke-dasharray="39.3 23.2" fill="none"/>
<path d="M1551.3 1117V722" stroke="#000" stroke-width="2.3" stroke-dasharray="39.3 23.2" fill="none"/>
<path d="M1475.5 1117v-5.5M1475.5 722v5.5M1526 1117v-5.5M1526 722v5.5M1576.6 1117v-5.5M1576.6 722v5.5M1424.9 722h5.5M1614.5 722h-5.5M1424.9 853.7h5.5M1614.5 853.7h-5.5M1424.9 985.3h5.5M1614.5 985.3h-5.5M1424.9 1117h5.5M1614.5 1117h-5.5" stroke="#262626" stroke-width="2" fill="none"/>
<rect x="1424.9" y="722" width="189.6" height="395" fill="none" stroke="#262626" stroke-width="2.4"/>
<polyline clip-path="url(#c17)" fill="none" stroke="#0072BD" stroke-width="3.0" stroke-linejoin="round" points="1640,893.3 1641,891.4 1642,889.7 1643,887.3 1643.2,886.8 1644,886.9 1645,884.9 1646,883.9 1646.4,883.6 1647,883.2 1648,884.1 1649,883.1 1649.7,882.5 1650,882.3 1651,885.5 1652,889.2 1652.9,891.1 1653,891.8 1654,892.8 1655,896 1656,898.2 1656.1,897.6 1657,894.9 1658,893.8 1659,888.9 1659.3,889 1660,886.7 1661,884.9 1662,882.3 1662.5,880.4 1663,879.2 1664,881.2 1665,880.2 1665.8,878.2 1666,878.4 1667,872.4 1668,868.2 1669,863.3 1669,863.2 1670,859.2 1671,854.5 1671.1,854.6 1672,858.4 1673,860.9 1674,865 1674.4,865.3 1675,867.1 1676,871.4 1677,874.1 1677.6,876.1 1678,877.1 1679,875.3 1679.7,876.1 1680,873.8 1681,864.8 1681.9,856.7 1682,855.4 1683,850.9 1684,845.2 1685,837.9 1685.1,837.4 1686,835.6 1687,831.9 1688,829.3 1688.3,828.8 1689,824.2 1690,817.4 1691,811.1 1691.6,807.3 1692,806 1693,804.4 1694,803.8 1694.8,800.8 1695,800 1696,799.7 1697,798.9 1698,800.3 1698,798.7 1699,797.2 1700,794.7 1700.2,794.4 1701,797.8 1702,799.9 1702.3,803 1703,765.6 1703.4,742.8 1704,751.1 1705,764.5 1705.5,770.8 1706,777.5 1707,791.1 1707.7,803.1 1708,807.7 1709,820.5 1709.8,835.2 1710.9,845.6 1711.6,844.8 1712.3,834 1713,834.3 1713.7,836.5 1714.1,833.1 1714.3,856.7 1714.4,853.1 1715.1,837 1715.8,856.1 1716.5,836.2 1717.2,843.4 1717.9,844.6 1718.4,837.4 1718.6,863.2 1718.6,856.9 1719.3,842 1720,848 1720.7,844.2 1721.4,860.7 1722.1,867 1722.7,846 1722.9,871.8 1722.8,866.1 1723.5,869.4 1724.2,850.6 1724.9,848.5 1725.6,851 1726,837.4 1726.1,878.2 1726.3,863.5 1727,839.2 1727.7,875.1 1728.4,867.6 1729.1,849.5 1729.8,860.3 1730.3,835.2 1730.4,871.8 1730.5,836.4 1731.2,837.3 1731.9,871.1 1732.6,850.2 1733.3,865.9 1733.5,841.7 1733.6,871.8 1734,842.2 1734.7,876.1 1735.4,842.7 1735.6,828.8 1735.8,884.7 1736.1,869.7 1736.8,846.8 1737.5,839.9 1738.2,836.1 1738.9,869 1739.6,865 1739.9,837.4 1740.1,867.5 1740.3,846.3 1741,858.9 1741.7,864.2 1742.4,869.9 1743.1,868.3 1743.8,841.1 1744.2,837.4 1744.4,871.8 1744.5,844.3 1745.2,843.8 1745.9,846.9 1746.6,853.1 1747.3,881.9 1747.5,841.7 1747.6,880.4 1748,847.3 1748.7,841 1749.4,843.9 1750.1,869.2 1750.7,837.4 1750.8,871.8 1750.8,866.8 1751.5,862.3 1752.2,831.8 1752.8,824.5 1753,865.3 1752.9,832.1 1753.6,854.2 1754.3,857.9 1755,856.7 1755.7,852.6 1756.4,830.4 1757.1,842.6 1757.1,820.2 1757.3,850.3 1757.8,819.4 1758.5,820.9 1759.2,851.2 1759.9,825.2 1760.6,818.7 1761.3,818.5 1761.4,818 1761.6,846 1762,819 1762.7,809.1 1763.4,829.3 1765.3,760 1766.3,773.8 1766.8,781.5 1767.3,787.6 1768.3,800.2 1769,807.3 1769.3,806.8 1770.3,805.5 1771.3,799.3 1772.2,798.7 1772.3,797.6 1773.3,802.4 1774.3,803.6 1775.3,808.6 1775.4,807.3 1776.3,813.8 1777.3,819.6 1778.3,825.9 1778.6,828.8 1779.3,830.4 1780.3,833.9 1780.8,835.2 1781.3,832 1782.3,826.9 1783.3,823.1 1784,818 1784.3,817.8 1785.3,816.4 1786.2,815.9 1786.3,818 1787.3,822.6 1788.3,828.6 1788.3,828.8 1789.3,832.9 1790.3,837.6 1791.3,841.3 1791.5,841.7 1792.3,841.3 1793.3,841.6 1794.3,841.9 1794.7,841.7 1795.3,842.4 1796.3,842 1797.3,845.4 1798,846 1798.3,846.9 1799.3,848.8 1800.3,849.9 1801.2,850.3 1801.3,850.7 1802.3,853.3 1803.3,858.6 1804.3,861.6 1804.4,863.2 1805.3,865.6 1806.3,867.1 1807.3,870.4 1807.6,871.8 1808.3,875 1809.3,878.7 1809.8,880.4 1810.3,879.3 1811.3,874.9 1812.3,872 1813,869.6 1813.3,870.4 1814.3,870.4 1815.3,866.8 1816.2,867.5 1816.3,868.1 1817.3,869.1 1818.3,868.3 1819.3,870.6 1819.5,869.6 1820.3,869 1821.3,872.5 1822.3,871.9 1822.7,871.8 1823.3,872.2 1824.3,873.1 1825.3,872.9 1825.9,873.9 1826.3,874.1 1827.3,877.7 1828.3,878.2 1829.1,880.4"/>
<polyline clip-path="url(#c17)" fill="none" stroke="#808080" stroke-width="2.2" stroke-linejoin="round" points="1640,947 1641.2,944.5 1642.4,942.7 1643.6,938.4 1644.3,938.4 1644.8,937.6 1646,936.8 1647.2,934.6 1648.4,933.8 1648.6,934.1 1649.6,932.8 1650.8,932.7 1652,932.8 1652.9,932 1653.2,931.5 1654.4,930.2 1655.6,928.5 1656.8,928.2 1657.2,927.7 1658,927.8 1659.2,927.4 1660.4,927.2 1661.5,925.5 1661.6,925.9 1662.8,924.7 1664,923.4 1665.2,922.3 1665.8,921.2 1666.4,920.1 1667.6,917.5 1668.8,915.1 1670,912.4 1670,912.6 1671.2,910.7 1672.4,907.7 1673.6,908.1 1674.3,906.2 1674.8,905.7 1676,903.3 1677.2,900.9 1678.4,899.6 1678.6,899.7 1679.6,898.3 1680.8,897 1682,895.4 1682.9,893.3 1683.2,892.9 1684.4,891.3 1685.6,889.3 1686.8,886.9 1687.2,886.8 1688,884.6 1689.2,881.8 1690.4,878.8 1691.5,876.1 1691.6,875.6 1692.8,873.9 1694,870.9 1695.2,868 1695.8,867.5 1696.4,868.1 1697.6,868.1 1698,869.6 1698.8,873.7 1700,878.9 1700.1,878.2 1701.2,878.7 1702.2,878.2 1702.4,875.2 1703.5,854.6 1703.6,852.9 1704,846 1704.8,869.2 1705.2,869.2 1705.5,875.4 1705.9,874.9 1706.2,882.3 1706.5,880.4 1706.7,884.7 1706.6,880.5 1706.9,885.9 1707.3,884.4 1707.6,889.1 1708,886.4 1708.3,892.3 1708.7,889 1708.7,889 1708.8,893.3 1709,893.5 1709.4,889.9 1709.7,894.1 1710.1,890.9 1710.4,895.4 1710.8,892.5 1711.1,896.3 1711.5,893.5 1711.8,896.9 1711.9,893.3 1712,897.6 1712.2,893.5 1712.5,897.5 1712.9,893.7 1713.2,897.2 1713.6,894 1713.9,897.9 1714.3,895.2 1714.6,897.7 1715,894.4 1715.1,894.3 1715.3,898.6 1715.3,898.5 1715.7,895 1716,898 1716.4,896.4 1716.7,898.9 1717.1,897.7 1717.4,899.6 1717.8,897.4 1718.1,900.1 1718.5,897.9 1718.8,902.2 1719.2,898.5 1719.4,898.6 1719.6,902.9 1719.5,901.6 1719.9,899.8 1720.2,903.3 1720.6,900.3 1720.9,903.4 1721.3,899.7 1721.6,904.2 1722,900.9 1722.3,905.1 1722.7,902.3 1723,904.8 1723.4,902 1723.7,901.9 1723.9,906.2 1723.7,905.6 1724.1,902.2 1724.4,905.7 1724.8,902.9 1725.1,906 1725.5,902.8 1725.8,906.7 1726.2,903.6 1726.5,906.5 1726.9,903.5 1727.2,908 1727.6,903.9 1727.9,907.8 1728,904 1728.1,908.3 1728.3,905 1728.6,907.9 1729,905.1 1729.3,907.8 1729.7,903.9 1730,907.6 1730.4,903.2 1730.7,907.1 1731.1,903.1 1731.4,906.3 1731.8,903.4 1732.1,905.3 1732.3,902.3 1732.4,906.6 1732.5,902.8 1732.8,906 1733.2,902.8 1733.5,905.5 1733.9,902.5 1734.2,905.8 1734.6,901.6 1734.9,905.6 1735.3,901.4 1735.6,904 1736,901.8 1736.3,903.9 1736.6,900.8 1736.7,905.1 1736.7,901.1 1737,904.1 1737.4,900.2 1737.7,904 1738.1,900.8 1738.4,904 1738.8,900.4 1739.1,903.8 1739.5,900.4 1739.8,902.3 1740.2,899 1740.5,902.1 1740.9,898.7 1740.9,898.6 1741,902.9 1741.2,903.1 1741.6,900.2 1741.9,903.9 1742.3,900.4 1742.6,905.1 1743,902.4 1743.3,905 1743.7,903.2 1744,907.3 1744.4,903.2 1744.7,907.7 1745.1,905.3 1745.2,904 1745.3,908.3 1745.4,907 1745.8,903.9 1746.1,907.4 1746.5,903.4 1746.8,906.3 1747.2,902.8 1747.3,902.3 1747.5,906.6 1747.5,905.6 1747.9,901.7 1748.2,904.2 1748.6,900.8 1748.9,904 1749.3,900 1749.6,901.9 1750,899.4 1750.3,900.8 1750.7,897.3 1751,900.3 1751.4,896.1 1751.6,895.4 1751.8,899.7 1751.7,899 1752.1,896 1752.4,898.8 1752.8,895.6 1753.1,898.8 1753.5,895.2 1753.8,898.1 1754.2,894.4 1754.5,897 1754.9,894.3 1755.2,898.3 1755.6,893.8 1755.9,893.3 1756,897.6 1755.9,896.3 1756.3,893.5 1756.6,896.1 1757,890.4 1757.3,893.9 1757.7,890.1 1758,892.1 1758.4,888.8 1758.7,890.8 1759.1,886.3 1759.4,889.2 1759.8,884.7 1760.1,887.6 1760.2,883.6 1760.3,887.9 1760.5,883.4 1760.8,884.7 1761.2,879.4 1761.5,880.7 1761.9,875.9 1762.2,877.3 1762.6,873.1 1762.9,873.9 1763.3,868.9 1763.4,867.5 1763.6,871.8 1763.6,870 1764,862.8 1764.3,863.7 1764.7,857.2 1765.3,850.3 1766.2,867.5 1766.5,870.3 1767.7,880.4 1767.7,881.1 1768.9,875.7 1770.1,871.8 1770.9,869.6 1771.3,870.7 1772.5,871.6 1773.1,871.8 1773.7,873.9 1774.9,876.9 1776.1,877.8 1777.3,880.6 1777.4,880.4 1778.5,882.3 1779.7,883.8 1780.9,886.1 1781.7,886.8 1782.1,887.5 1783.3,887.8 1784.5,888.7 1785.7,888.7 1786,889 1786.9,890.3 1788.1,892.1 1789.3,893.9 1790.2,895.4 1790.5,895.2 1791.7,897 1792.9,898.7 1794.1,901.9 1794.5,901.9 1795.3,902.9 1796.5,905 1797.7,905.7 1798.8,908.3 1798.9,908.9 1800.1,910.5 1801.3,912.7 1802.5,914.2 1803.1,914.8 1803.7,917.1 1804.9,916.8 1806.1,919.7 1807.3,921.7 1807.4,921.2 1808.5,924.2 1809.7,926.2 1810.9,928.5 1811.7,929.8 1812.1,930.5 1813.3,932.8 1814.5,934.6 1815.7,936.6 1816,936.3 1816.9,936.7 1818.1,938 1819.3,938.6 1820.3,938.4 1820.5,939.2 1821.7,937.9 1822.9,936.5 1824.1,936.3 1824.6,936.3 1825.3,936.4 1826.5,938.1 1827.7,937.5 1828.9,938.7 1829.3,938.4"/>
<path d="M1703.1 1117V722" stroke="#000" stroke-width="2.3" stroke-dasharray="39.3 23.2" fill="none"/>
<path d="M1766.2 1117V722" stroke="#000" stroke-width="2.3" stroke-dasharray="39.3 23.2" fill="none"/>
<path d="M1690.5 1117v-5.5M1690.5 722v5.5M1741 1117v-5.5M1741 722v5.5M1791.4 1117v-5.5M1791.4 722v5.5M1640 722h5.5M1829.3 722h-5.5M1640 853.7h5.5M1829.3 853.7h-5.5M1640 985.3h5.5M1829.3 985.3h-5.5M1640 1117h5.5M1829.3 1117h-5.5" stroke="#262626" stroke-width="2" fill="none"/>
<rect x="1640" y="722" width="189.3" height="395" fill="none" stroke="#262626" stroke-width="2.4"/>
<polyline clip-path="url(#c20)" fill="none" stroke="#D95319" stroke-width="3.3" stroke-linejoin="round" points="135.4,1374.5 136.2,1368.9 137.1,1374.2 137.8,1374.9 138.7,1371.7 138.7,1372.3 139.4,1373.3 140.2,1370.6 141.1,1378.7 141.8,1377.4 141.9,1378.8 142.7,1376.5 143.4,1376.6 144.2,1376.8 145.1,1374.9 145.8,1381 146.2,1378.8 146.7,1380.4 147.4,1384.3 148.2,1376.6 149.1,1385.5 149.8,1383.6 150.5,1385.2 150.7,1384.7 151.4,1387.1 152.2,1386.4 153.1,1389.5 153.8,1387.7 154.7,1386.7 154.8,1387.4 155.4,1384.2 156.2,1381.7 157.1,1381.7 157.8,1389.8 158.7,1387.7 159.1,1387.4 159.4,1385.1 160.2,1386.7 161.1,1390.3 161.8,1389.1 162.7,1390 163.4,1393.8 163.4,1393.1 164.2,1390.3 165.1,1392.6 165.8,1397.4 166.7,1396.4 167.4,1393.8 167.7,1393.8 168.2,1393.2 169.1,1393.6 169.8,1393 170.7,1397 171.4,1396.3 172,1398.1 172.2,1397.7 173.1,1403.5 173.8,1402.2 174.7,1401.8 175.2,1402.4 175.4,1403.4 176.2,1406.4 177.1,1415.4 177.8,1417.6 178.4,1421.8 178.7,1421.4 179.4,1424.7 180.2,1422.9 181.1,1420.1 181.7,1417.5 181.8,1415.7 182.7,1418.6 183.4,1414.4 184.2,1415.7 184.9,1413.2 185.1,1412.9 185.8,1421.5 186.7,1421.9 187.4,1427.1 188.1,1428.2 188.2,1430.8 189.1,1430.6 189.8,1433.3 190.7,1436.2 191.3,1439 191.4,1438.9 192.2,1443.2 193.1,1440.3 193.8,1440.7 194.6,1439 194.7,1440.9 195.4,1444.6 196.2,1446 197.1,1451 197.4,1451.8 197.8,1446.3 198.7,1442.1 198.9,1439 199.4,1414.5 199.9,1396 202.1,1363.9 202.4,1353.2 202.7,1360 203,1349.4 203.3,1358.4 203.6,1340.1 203.9,1362.8 204.2,1338.9 204.5,1360.8 204.8,1333 205.1,1351.6 205.3,1325 205.5,1361.6 205.4,1328.5 205.7,1359.3 206,1327.6 206.3,1352.8 206.6,1327.1 206.9,1352.2 207.2,1323.4 207.5,1360 207.8,1327.4 208.1,1358.9 208.4,1322.3 208.5,1320.7 208.7,1359.4 208.7,1361.7 209,1331.4 209.3,1350.1 209.6,1330 209.9,1347.4 210.2,1324 210.5,1351.5 210.8,1313.8 211.1,1343 211.4,1322.7 211.7,1349.6 211.8,1312.1 211.9,1353 212,1315.2 212.3,1351.1 212.6,1327 212.9,1353.4 213.2,1330.2 213.5,1344.4 213.8,1325.6 214.1,1348.7 214.4,1324.6 214.7,1349.7 215,1325 215.1,1355.1 215,1331.1 215.3,1344.7 215.6,1330.3 215.9,1348.7 216.2,1326 216.5,1347.2 216.8,1321.8 217.1,1348.5 217.4,1334.1 217.7,1351.3 218,1320.8 218.3,1346.4 218.6,1323.7 218.9,1347 219.2,1319.3 219.3,1318.6 219.4,1357.3 219.5,1351.3 219.8,1321.4 220.1,1351.7 220.4,1319.7 220.7,1350.8 221,1326.7 221.3,1346.1 221.6,1321.5 221.9,1356 222.2,1318 222.5,1348.5 222.8,1317 223.1,1340.3 223.4,1316.2 223.6,1312.1 223.7,1348.7 223.7,1345.6 224,1314.1 224.3,1351.5 224.6,1320.8 224.9,1340 225.2,1316.6 225.5,1337.1 225.8,1313.2 226.1,1348.4 226.4,1312.5 226.7,1338.5 227,1312.1 227.3,1332.5 227.6,1306.8 227.9,1310 228,1342.2 227.9,1341.4 228.2,1313.5 228.5,1332.5 228.8,1315.9 229.1,1331.8 229.4,1315.7 229.7,1334.5 230,1313 230.3,1341.5 230.6,1311.7 230.9,1328.7 231.2,1309 231.5,1332.4 231.8,1309.2 232.1,1333.9 232.2,1307.8 232.3,1337.9 232.4,1316 232.7,1330.8 233,1315.7 233.3,1336.8 233.6,1313.3 233.9,1339.7 234.2,1306.5 234.5,1344.3 234.8,1302.3 235.1,1337.3 235.4,1314.8 235.7,1342.7 236,1313.5 236.3,1337 236.5,1305.7 236.6,1344.4 236.6,1310.4 236.9,1343.7 237.2,1314.8 237.5,1342.8 237.8,1314.2 238.1,1349.2 238.4,1299.1 238.6,1297.1 238.8,1346.5 238.7,1345.9 239,1309.4 239.3,1341.1 239.6,1297.9 239.9,1333.2 240.2,1316.8 240.5,1345.1 240.8,1310 240.9,1348.7 240.8,1314.6 241.1,1342.9 241.4,1312 241.7,1349.4 242,1319.4 242.3,1346.9 242.6,1326.6 242.9,1349.8 243.2,1315.1 243.5,1351.8 243.8,1317.5 244.1,1345.1 244.4,1326.4 244.7,1355.7 245,1327.3 245.1,1318.6 245.2,1357.3 245.3,1350.7 245.6,1320.6 245.9,1349.4 246.2,1322.4 246.5,1358 246.8,1320.8 247.1,1357 247.4,1326.4 247.7,1362.6 248,1323.3 248.3,1352.4 248.6,1333.6 248.9,1362.6 249.2,1325.7 249.4,1320.7 249.5,1361.6 249.5,1351.2 249.8,1323.2 250.1,1350.9 250.4,1336.5 250.7,1358.5 251,1325.4 251.3,1359.7 251.6,1330.9 251.9,1359.7 252.2,1336.2 252.5,1361.3 252.8,1337.4 253.1,1354.9 253.4,1336.7 253.7,1331.5 253.8,1363.7 253.7,1360.6 254,1334.7 254.3,1363.2 254.6,1338.8 254.9,1364.9 255.2,1340.4 255.5,1363 255.8,1341.1 256.1,1360.9 256.4,1346.6 256.7,1365.9 257,1343.5 257.3,1368.7 257.6,1355.6 257.9,1373.3 258,1348.7 258.1,1374.5 258.2,1354.8 258.5,1371.9 258.8,1363.4 259.1,1382 259.4,1365.3 259.7,1384.9 260,1376.3 262.3,1402.5 263.1,1412.7 263.9,1422.7 264.4,1430.3 264.7,1430.6 265.5,1423.8 266.3,1418.5 266.6,1417.4 267.1,1414.7 267.9,1413.5 268.7,1414 269.5,1407.3 269.8,1406.7 270.3,1411.3 271.1,1408 271.9,1412.7 272.7,1414.2 273,1413.2 273.5,1411.4 274.3,1413.7 275.1,1411.9 275.9,1417.8 276.2,1417.5 276.7,1419.2 277.5,1414 278.3,1410.8 279.1,1410.6 279.5,1408.9 279.9,1406.2 280.7,1406.7 281.5,1403.4 282.3,1398.8 282.7,1400.3 283.1,1401.3 283.9,1400.3 284.7,1401 285.5,1401.8 285.9,1402.4 286.3,1401.1 287.1,1404.3 287.9,1401.5 288.7,1404.1 289.1,1404.6 289.5,1408.9 290.3,1405.8 291.1,1406.6 291.9,1404.2 292.4,1406.7 292.7,1404.4 293.5,1398.3 294.3,1396.9 295.1,1387.2 295.6,1385.2 295.9,1381.4 296.7,1380.1 297.5,1378.7 298.3,1375.8 298.8,1372.3 299.1,1374 299.9,1374.5 300.7,1376.9 301,1374.5 301.5,1371.3 302.3,1371.6 303.1,1369.8 303.9,1369.1 304.2,1368 304.7,1370.7 305.5,1371.1 306.3,1377 307.1,1379.3 307.4,1378.8 307.9,1376.2 308.7,1376.1 309.5,1372.6 310.3,1372.2 310.6,1370.2 311.1,1367.2 311.9,1362.7 312.7,1360.5 313.5,1356 313.9,1353 314.3,1355.9 315.1,1355.8 315.9,1359.4 316.7,1362.4 317.1,1365.9 317.5,1365.4 318.3,1369 319.1,1374.3 319.9,1375.9 320.3,1376.6 320.7,1378.7 321.5,1378.1 322.3,1380.9 323.1,1374.2 323.5,1378.8 323.9,1375.2 324.7,1375.1 325,1374.5"/>
<polyline clip-path="url(#c20)" fill="none" stroke="#808080" stroke-width="2.8" stroke-linejoin="round" points="136.2,1346.5 137.1,1347.3 138,1347.8 138.9,1347.7 139.4,1347.6 139.8,1347.7 140.7,1346.7 141.6,1345.7 142.5,1346.3 142.6,1346.5 143.4,1347.1 144.3,1345.3 145.2,1343.8 145.8,1344.4 146.1,1344.4 147,1346.1 147.9,1348.8 148.8,1350.9 149,1350.8 149.7,1353.6 150.6,1352.6 151.5,1354.4 152.2,1355.1 152.4,1356 153.3,1356.6 154.2,1358.1 155.1,1360.6 155.4,1359.4 156,1359 156.9,1361.1 157.8,1361.1 158.6,1361.6 158.7,1359.6 159.6,1360.2 160.5,1358.6 161.4,1356.1 161.8,1355.1 162.3,1355.8 163.2,1356.1 164.1,1357.9 165,1359.8 165,1359.4 165.9,1359.6 166.8,1362 167.7,1361.2 168.2,1361.6 168.6,1360.7 169.5,1364 170.4,1366.8 171.3,1367.6 171.4,1368 172.2,1368.2 173.1,1369.9 174,1370.7 174.7,1372.3 174.9,1370.6 175.8,1371.7 176.7,1372.5 177.6,1374.7 177.8,1374.5 178.5,1374 179.4,1374.7 180.3,1374.7 181.1,1376.6 181.2,1377.9 182.1,1378 183,1379 183.9,1378.9 184.3,1379.8 184.8,1379 185.7,1380.1 186.6,1381.4 187.5,1380.9 187.5,1381.4 188.4,1381.1 189.3,1380.1 190.2,1380.4 190.7,1380.9 191.1,1379.8 192,1383 192.9,1381.6 193.8,1381.5 193.9,1382 194.7,1381.7 195.6,1382.6 196.5,1383.8 197.1,1383.1 197.4,1381.9 198.3,1380 199,1378.8 199.9,1357.2 200.2,1346 200.6,1349.1 200.9,1336.4 201.3,1339.6 201.3,1331.5 201.5,1340.1 201.6,1330.7 202,1335.5 202.3,1324.5 202.7,1328.1 203,1317.4 203.4,1319.3 203.5,1312.1 203.6,1320.7 203.7,1312 204.1,1317.4 204.4,1308.2 204.8,1313.2 205.1,1306.2 205.5,1309.9 205.8,1302.1 206.2,1307 206.5,1298 206.7,1297.1 206.8,1305.7 206.9,1302.8 207.2,1296.5 207.6,1302.4 207.9,1296.1 208.3,1300.6 208.6,1294.7 209,1298.2 209.3,1293.5 209.7,1298.7 210,1290.4 210.4,1297.6 210.7,1290.6 211,1288.5 211.1,1297.1 211.1,1296.9 211.4,1289.3 211.8,1295.6 212.1,1289.1 212.5,1295.3 212.8,1287 213.2,1294.5 213.5,1287.5 213.9,1291.4 214.2,1286.3 214.6,1291 214.9,1284.8 215.2,1284.2 215.4,1292.8 215.3,1291.8 215.6,1284.3 216,1290.8 216.3,1284.5 216.7,1291.2 217,1282.9 217.4,1288.1 217.7,1284.1 218.1,1289.5 218.4,1284.1 218.8,1290.2 219.1,1283 219.5,1288.2 219.5,1280.3 219.7,1288.5 219.8,1280.6 220.2,1288 220.5,1281.2 220.9,1286.9 221.2,1280.8 221.6,1285.6 221.9,1281.6 222.3,1287 222.6,1279 223,1287.2 223.3,1280.7 223.7,1286.1 223.8,1279.5 223.9,1287.4 224,1280.2 224.4,1286.1 224.7,1280.7 225.1,1287.1 225.4,1279.1 225.8,1285.9 226.1,1280.3 226.5,1286.1 226.8,1280.9 227.2,1285.4 227.5,1279.7 227.9,1285.8 228.1,1278.2 228.2,1286.3 228.2,1279.7 228.6,1283.7 228.9,1277.3 229.3,1287 229.6,1278.3 230,1284.2 230.3,1278.1 230.7,1284 231,1276.6 231.4,1283.5 231.7,1278.9 232.1,1284.9 232.3,1277.3 232.5,1285.3 232.4,1279 232.8,1284 233.1,1278 233.5,1285.1 233.8,1278.7 234.2,1285.6 234.5,1278.5 234.9,1286 235.2,1279.6 235.6,1286.2 235.9,1280.1 236.3,1287 236.6,1279.5 236.7,1287.4 236.6,1279.7 237,1287.6 237.3,1281.5 237.7,1287.8 238,1282.2 238.4,1287 238.7,1283.4 239.1,1288 239.4,1282.4 239.8,1289.4 240.1,1284.6 240.5,1288.2 240.8,1283.4 240.9,1282.5 241,1290.6 241.2,1290.8 241.5,1284.1 241.9,1291.6 242.2,1284.8 242.6,1290.1 242.9,1286.4 243.3,1292.2 243.6,1286.2 244,1293.5 244.3,1286.3 244.7,1293.4 245,1286.7 245.1,1286.8 245.3,1294.9 245.4,1292.4 245.7,1288.1 246.1,1294.5 246.4,1289.5 246.8,1296.4 247.1,1291.1 247.5,1298.2 247.8,1293.4 248.2,1299 248.5,1292.4 248.9,1299.5 249.2,1294.2 249.4,1293.2 249.6,1301.4 249.6,1300.8 249.9,1295.2 250.3,1303 250.6,1296.2 251,1303.8 251.3,1298.3 251.7,1306.7 252,1299.2 252.4,1306.8 252.7,1300.9 253.1,1309.6 253.4,1302.9 253.7,1301.8 253.8,1310 253.8,1308.9 254.1,1303.5 254.5,1310.5 254.8,1305.2 255.2,1312.6 255.5,1307.3 255.9,1316.7 256.2,1313 256.6,1319.2 256.9,1312.6 257,1320.7 256.9,1314.8 257.3,1322.2 257.6,1319.8 258,1326.9 258.3,1323.6 258.7,1332.6 259,1327.8 259,1327.2 259.2,1335.8 259.4,1338.7 259.7,1335.2 260.1,1346.8 260.4,1343.6 261.8,1365.9 262.7,1374.3 263.3,1378.8 263.6,1379.8 264.5,1382.1 264.8,1383.1 265.4,1383 266.3,1378.9 266.5,1378.8 267.2,1378.4 268.1,1378.3 269,1376.7 269.7,1376.6 269.9,1377.1 270.8,1375.9 271.7,1376.3 272.6,1376.7 272.9,1376.6 273.5,1374.1 274.4,1372.5 275.3,1374.7 276.2,1372.7 277.1,1369.6 277.2,1370.2 278,1369.7 278.9,1369.6 279.8,1367 280.7,1368.4 281.4,1368 281.6,1368.7 282.5,1366.5 283.4,1366 284.3,1365.2 285.2,1364.8 285.7,1363.7 286.1,1363 287,1363.5 287.9,1362.3 288.8,1361.4 289.7,1361.1 290,1359.4 290.6,1358 291.5,1357.4 292.4,1356.3 293.3,1355.5 294.2,1352.2 294.3,1353 295.1,1352.7 296,1352.6 296.9,1353.1 297.8,1352.9 298.5,1353 298.7,1353.8 299.6,1352.7 300.5,1352.1 301.4,1354.9 302.3,1353 302.8,1355.1 303.2,1356.3 304.1,1353.7 305,1354.8 305.9,1350.9 306.8,1351.3 307.1,1350.8 307.7,1348.9 308.6,1348.5 309.5,1349.9 310.4,1348.7 311.3,1345.7 311.4,1346.5 312.2,1346.7 313.1,1347.3 314,1347.2 314.9,1347.5 315.6,1348.7 315.8,1350.3 316.7,1350.2 317.6,1349.4 318.5,1349.3 319.4,1350.7 319.9,1350.8 320.3,1352.2 321.2,1349.1 322.1,1348.3 323,1345.5 323.1,1346.5 323.9,1344.8 324.6,1344.4"/>
<path d="M199 1623.7V1229.3" stroke="#000" stroke-width="2.3" stroke-dasharray="39.3 23.2" fill="none"/>
<path d="M261.8 1623.7V1229.3" stroke="#000" stroke-width="2.3" stroke-dasharray="39.3 23.2" fill="none"/>
<path d="M186.4 1623.7v-5.5M186.4 1229.3v5.5M236.7 1623.7v-5.5M236.7 1229.3v5.5M286.9 1623.7v-5.5M286.9 1229.3v5.5M136.2 1265.2h5.5M324.6 1265.2h-5.5M136.2 1301h5.5M324.6 1301h-5.5M136.2 1336.9h5.5M324.6 1336.9h-5.5M136.2 1372.7h5.5M324.6 1372.7h-5.5M136.2 1408.6h5.5M324.6 1408.6h-5.5M136.2 1444.4h5.5M324.6 1444.4h-5.5M136.2 1480.3h5.5M324.6 1480.3h-5.5M136.2 1516.1h5.5M324.6 1516.1h-5.5M136.2 1552h5.5M324.6 1552h-5.5M136.2 1587.8h5.5M324.6 1587.8h-5.5M136.2 1623.7h5.5M324.6 1623.7h-5.5" stroke="#262626" stroke-width="2" fill="none"/>
<rect x="136.2" y="1229.3" width="188.4" height="394.4" fill="none" stroke="#262626" stroke-width="2.4"/>
<text transform="translate(127.8 1269.8) scale(1.25 1)" text-anchor="end" font-size="23.3" fill="#262626" stroke="#262626" stroke-width="0.35">0.5</text>
<text transform="translate(127.8 1305.6) scale(1.25 1)" text-anchor="end" font-size="23.3" fill="#262626" stroke="#262626" stroke-width="0.35">0.4</text>
<text transform="translate(127.8 1341.5) scale(1.25 1)" text-anchor="end" font-size="23.3" fill="#262626" stroke="#262626" stroke-width="0.35">0.3</text>
<text transform="translate(127.8 1377.3) scale(1.25 1)" text-anchor="end" font-size="23.3" fill="#262626" stroke="#262626" stroke-width="0.35">0.2</text>
<text transform="translate(127.8 1413.2) scale(1.25 1)" text-anchor="end" font-size="23.3" fill="#262626" stroke="#262626" stroke-width="0.35">0.1</text>
<text transform="translate(127.8 1449) scale(1.25 1)" text-anchor="end" font-size="23.3" fill="#262626" stroke="#262626" stroke-width="0.35">0</text>
<text transform="translate(127.8 1484.9) scale(1.25 1)" text-anchor="end" font-size="23.3" fill="#262626" stroke="#262626" stroke-width="0.35">-0.1</text>
<text transform="translate(127.8 1520.7) scale(1.25 1)" text-anchor="end" font-size="23.3" fill="#262626" stroke="#262626" stroke-width="0.35">-0.2</text>
<text transform="translate(127.8 1556.6) scale(1.25 1)" text-anchor="end" font-size="23.3" fill="#262626" stroke="#262626" stroke-width="0.35">-0.3</text>
<text transform="translate(127.8 1592.4) scale(1.25 1)" text-anchor="end" font-size="23.3" fill="#262626" stroke="#262626" stroke-width="0.35">-0.4</text>
<text transform="translate(127.8 1628.3) scale(1.25 1)" text-anchor="end" font-size="23.3" fill="#262626" stroke="#262626" stroke-width="0.35">-0.5</text>
<polyline clip-path="url(#c21)" fill="none" stroke="#77AC30" stroke-width="3.3" stroke-linejoin="round" points="349.4,1353 350.2,1361.6 351.1,1366.9 351.6,1370.2 351.9,1371.9 352.6,1367.5 353.4,1371 354.2,1374.4 354.8,1374.5 355.1,1379.7 355.9,1376.8 356.6,1372.1 357.4,1366.5 358.1,1370.2 358.2,1370.6 359.1,1374.3 359.9,1372.6 360.6,1378.6 361.3,1378.8 361.4,1379.6 362.2,1374.1 363.1,1376.4 363.9,1379.9 364.5,1374.5 364.6,1370.5 365.4,1376.8 366.2,1378.6 367.1,1376.7 367.7,1380.9 367.9,1383 368.6,1379 369.4,1382.5 370.2,1385 370.9,1385.2 371.1,1382.1 371.9,1381.2 372.6,1385.9 373.4,1385.8 374.2,1380.9 374.2,1380.4 375.1,1382 375.9,1376.7 376.6,1373.6 377.4,1374.5 377.4,1374.1 378.2,1373.1 379.1,1374.7 379.9,1376.1 380.6,1378.8 380.6,1378.9 381.4,1384.6 382.2,1383.2 383.1,1384.3 383.8,1387.4 383.9,1386 384.6,1392.5 385.4,1393 386.2,1400.7 387.1,1396.8 387.1,1400.3 387.9,1396.2 388.6,1408.6 389.4,1403.9 390.2,1407.7 390.3,1406.7 391.1,1409.3 391.9,1407.6 392.6,1412.1 392.9,1413.2 393.4,1409 394.2,1405.3 395.1,1404.2 395.7,1400.3 395.9,1402.2 396.6,1398.8 397.4,1394.2 398.2,1390.3 398.9,1391.7 399.1,1392.1 399.9,1385.3 400.6,1389.4 401.4,1389.7 402.1,1387.4 402.2,1389.9 403.1,1394.5 403.9,1391.6 404.6,1397.6 405.3,1396 405.4,1390.6 406.2,1396 407.1,1399.6 407.9,1407.4 408.6,1404.6 408.6,1409 409.4,1403 410.2,1409.7 411.1,1415.3 411.4,1417.5 411.9,1415.7 412.6,1414 412.9,1413.2 413.4,1395.3 413.9,1374.5 416.1,1353.6 416.4,1319.6 416.7,1351.5 417,1314.9 417.3,1345.7 417.6,1311.1 417.9,1342.9 418.2,1307.9 418.5,1346 418.8,1304.6 419.1,1348.2 419.3,1299.2 419.5,1348.7 419.4,1314.6 419.7,1341.2 420,1303.7 420.3,1335.6 420.6,1302.8 420.9,1335.6 421.2,1302.8 421.5,1341.8 421.8,1294.4 422.1,1326.9 422.4,1303.7 422.5,1292.8 422.7,1331.5 422.7,1324.3 423,1296.6 423.3,1326.4 423.6,1291.4 423.9,1319.6 424.2,1293.7 424.5,1325.7 424.8,1288.7 425.1,1323.6 425.4,1288.8 425.7,1319.7 425.8,1284.2 425.9,1327.2 426,1286.9 426.3,1323.9 426.6,1290.1 426.9,1322.6 427.2,1295.4 427.5,1325.8 427.8,1297.4 428.1,1329.2 428.4,1288.6 428.7,1330.3 429,1288.5 429.1,1331.5 429,1297.2 429.3,1320.3 429.6,1296.3 429.9,1324.1 430.2,1297.3 430.5,1332.7 430.8,1291.4 431.1,1329 431.4,1302.8 431.7,1336.2 432,1305.6 432.3,1329.2 432.6,1294.7 432.9,1327.9 433.2,1306.2 433.3,1294.9 433.4,1335.8 433.5,1331.3 433.8,1305.6 434.1,1335.2 434.4,1295.2 434.7,1332.5 435,1301.4 435.3,1326.7 435.6,1298.9 435.9,1336.8 436.2,1303.2 436.5,1337.9 436.8,1287.5 437.1,1334 437.4,1294.9 437.6,1290.6 437.7,1340.1 437.7,1336.7 438,1291.4 438.3,1342.1 438.6,1302.1 438.9,1341 439.2,1298.6 439.5,1342.8 439.8,1295.9 440.1,1332.9 440.4,1300.1 440.7,1348.3 441,1301.2 441.3,1337.5 441.6,1308.4 441.9,1292.8 442,1353 441.9,1347.8 442.2,1293 442.5,1346.1 442.8,1304.8 443.1,1340.1 443.4,1298.4 443.7,1332.9 444,1300.1 444.3,1328.8 444.6,1291.5 444.9,1342 445.2,1292.5 445.5,1334.9 445.8,1291.1 446.1,1334.7 446.2,1288.5 446.3,1342.2 446.4,1293.8 446.7,1328.3 447,1294.3 447.3,1326.9 447.6,1305.7 447.9,1324.7 448.2,1294 448.5,1341.9 448.8,1291.1 449.1,1337.4 449.4,1294.5 449.7,1342.9 450,1293.2 450.3,1333.5 450.5,1290.6 450.6,1344.4 450.6,1296.4 450.9,1340.2 451.2,1308 451.5,1338.8 451.8,1298.5 452.1,1342.1 452.4,1309.1 452.7,1340.6 453,1297.2 453.3,1339.9 453.6,1304.2 453.9,1339.2 454.2,1307.6 454.5,1332.6 454.8,1294.9 454.9,1340.1 454.8,1295.9 455.1,1336.1 455.4,1303.6 455.7,1340.7 456,1298.5 456.3,1327.6 456.6,1299.7 456.9,1342.1 457.2,1299.7 457.5,1331.4 457.8,1300.1 458.1,1334.9 458.4,1310.6 458.7,1341.6 459,1310.2 459.1,1299.2 459.2,1344.4 459.3,1340.8 459.6,1299.7 459.9,1340.3 460.2,1307.1 460.5,1344.9 460.8,1304.3 461.1,1339.5 461.4,1311.7 461.7,1331.6 462,1306.2 462.3,1344.3 462.6,1311.3 462.9,1337 463.2,1317 463.4,1301.4 463.5,1346.5 463.5,1337.4 463.8,1306.6 464.1,1331.1 464.4,1311.4 464.7,1339.9 465,1312.9 465.3,1344.9 465.6,1312.1 465.9,1333 466.2,1309 466.5,1342.2 466.8,1311.1 467.1,1339.1 467.4,1312.2 467.7,1310 467.8,1344.4 467.7,1336.3 468,1314.9 468.3,1340.6 468.6,1319 468.9,1344.6 469.2,1317.8 469.5,1341.9 469.8,1315.3 470.1,1346.7 470.4,1322.5 470.7,1349.9 471,1320.9 471.3,1351.6 471.6,1326.8 471.9,1346.2 472,1320.7 472.1,1353 472.2,1325.4 472.5,1353.3 472.8,1326.4 473.1,1349.3 473.4,1333.1 473.7,1352.5 474,1331.5 475.9,1374.5 476.6,1386 477.4,1395.3 478,1404.6 478.2,1408.6 479.1,1413.4 479.9,1418.6 480.1,1423.9 480.6,1419.5 481.4,1406.9 482.2,1396 482.7,1396 483.1,1389.1 483.9,1393.3 484.6,1385.8 485.4,1383.1 485.9,1383.1 486.2,1382.9 487.1,1385.1 487.9,1377.7 488.6,1379.7 489.2,1378.8 489.4,1378.1 490.2,1375.3 491.1,1376.7 491.9,1377 492.4,1374.5 492.6,1372.3 493.4,1366.6 494.2,1365 495.1,1361.7 495.6,1359.4 495.9,1361.4 496.6,1365.9 497.4,1367 498.2,1366.1 498.9,1370.2 499.1,1374.4 499.9,1368.7 500.6,1373.2 501.4,1365.8 502.1,1365.9 502.2,1367.7 503.1,1364.4 503.9,1364.9 504.6,1358.7 505.3,1359.4 505.4,1359.9 506.2,1359.5 507.1,1358.3 507.9,1356.7 508.5,1357.3 508.6,1358.8 509.4,1358.2 510.2,1356.7 511.1,1355.9 511.7,1353 511.9,1356.1 512.6,1354.1 513.5,1352.2 514.2,1358.4 515,1357.3 515,1357.8 515.9,1351.2 516.6,1344.7 517.5,1338.7 517.5,1340.1 518.2,1342.6 519,1345.3 519.9,1351.5 520.3,1353 520.6,1353.2 521.5,1360.5 522.2,1359.5 523,1360 523.6,1365.9 523.9,1371.9 524.6,1378.5 525.5,1379.8 525.7,1383 526.2,1376 527,1367.7 527.9,1357.8 527.9,1357.2 528.6,1348.3 529.5,1345.7 530,1340.1 530.2,1341.6 531,1343.8 531.9,1349.3 532.6,1355.9 533.2,1357.3 533.5,1357.7 534.2,1354.7 535,1358.6 535.9,1360.3 536.5,1355.1 536.6,1358.4 537.5,1348.3 538.2,1348.1 539,1348.7"/>
<polyline clip-path="url(#c21)" fill="none" stroke="#808080" stroke-width="2.8" stroke-linejoin="round" points="350,1346.5 350.9,1347 351.8,1348.3 352.7,1348.4 353.2,1347.6 353.6,1349 354.5,1346.5 355.4,1346.4 356.3,1346.4 356.4,1346.5 357.2,1344.6 358.1,1344.6 359,1343.9 359.6,1344.4 359.9,1345.7 360.8,1345.2 361.7,1348.6 362.6,1349.8 362.9,1350.8 363.5,1349.9 364.4,1352.9 365.3,1354.2 366.1,1355.1 366.2,1357.2 367.1,1356.4 368,1358.1 368.9,1357.4 369.3,1359.4 369.8,1358.9 370.7,1361.2 371.6,1360.4 372.5,1362.1 372.5,1361.6 373.4,1359.2 374.3,1358.9 375.2,1356.6 375.7,1355.1 376.1,1354.8 377,1357.5 377.9,1358.2 378.8,1358.7 379,1359.4 379.7,1360.3 380.6,1360.2 381.5,1361 382.2,1361.6 382.4,1361.8 383.3,1364.3 384.2,1365.9 385.1,1367.6 385.4,1368 386,1367.8 386.9,1369.4 387.8,1372.5 388.6,1372.3 388.7,1374.2 389.6,1372.9 390.5,1373.3 391.4,1374.7 391.8,1374.5 392.3,1373.7 393.2,1375.9 394.1,1375.4 395,1376.4 395.1,1376.6 395.9,1377.8 396.8,1377.9 397.7,1378.6 398.3,1379.8 398.6,1379.8 399.5,1380 400.4,1379.8 401.3,1379 401.5,1380.9 402.2,1380 403.1,1380.8 404,1381 404.7,1380.9 404.9,1380.2 405.8,1380.8 406.7,1382.5 407.6,1381.5 407.9,1382 408.5,1382.9 409.4,1383.2 410.3,1382.8 411.1,1383.1 411.2,1382.7 412.1,1381.3 413,1378.1 413.1,1378.8 413.9,1355.7 414.3,1345.3 414.6,1347.3 415,1337 415.3,1338.8 415.4,1331.5 415.6,1340.1 415.7,1330.5 416,1332.8 416.4,1324.2 416.7,1327.2 417.1,1317.9 417.4,1320.8 417.6,1312.1 417.7,1320.7 417.8,1312.1 418.1,1318.1 418.5,1309 418.8,1314.9 419.2,1305.7 419.5,1310.6 419.9,1303.9 420.2,1306.9 420.6,1298.1 420.8,1297.1 420.9,1305.7 420.9,1304.9 421.3,1296.5 421.6,1302.3 422,1295.2 422.3,1302 422.7,1293.9 423,1298.7 423.4,1292.9 423.7,1297.9 424.1,1293.1 424.4,1297.8 424.8,1289.9 425.1,1288.5 425.2,1297.1 425.1,1296.7 425.5,1290.6 425.8,1294.5 426.2,1288.9 426.5,1295.2 426.9,1287.3 427.2,1293.4 427.6,1286.8 427.9,1292.1 428.3,1286.7 428.6,1294.1 429,1286.2 429.3,1290.6 429.4,1284.2 429.5,1292.8 429.7,1285.7 430,1291.6 430.4,1285.2 430.7,1289.8 431.1,1284.1 431.4,1290.7 431.8,1283.6 432.1,1289.6 432.5,1281.5 432.8,1288.6 433.2,1281 433.5,1286.6 433.7,1280.3 433.8,1288.5 433.9,1281.7 434.2,1288.3 434.6,1281.9 434.9,1286.4 435.3,1282.7 435.6,1287.7 436,1280.1 436.3,1287.3 436.7,1282.4 437,1285.9 437.4,1280.9 437.7,1286.3 438,1279.5 438.1,1287.4 438.1,1280.9 438.4,1284.9 438.8,1279.3 439.1,1286.9 439.5,1279.7 439.8,1285.1 440.2,1279.6 440.5,1285.5 440.9,1279.6 441.2,1285.9 441.6,1280.6 441.9,1284.6 442.2,1278.2 442.4,1286.3 442.3,1279.5 442.6,1284.4 443,1280.5 443.3,1285 443.7,1280.2 444,1285.4 444.4,1278.2 444.7,1284.9 445.1,1277.9 445.4,1285.7 445.8,1279.3 446.1,1283.3 446.5,1279.2 446.5,1277.3 446.7,1285.3 446.8,1284.6 447.2,1277.9 447.5,1284.3 447.9,1278.3 448.2,1286 448.6,1278.7 448.9,1286.4 449.3,1278.9 449.6,1286 450,1279.5 450.3,1286.8 450.7,1279.4 450.8,1279.5 451,1287.4 451,1288.5 451.4,1280 451.7,1285.8 452.1,1281.8 452.4,1288 452.8,1281.6 453.1,1287.3 453.5,1282 453.8,1289.6 454.2,1284.7 454.5,1289.4 454.9,1284.9 455.1,1282.5 455.3,1290.6 455.2,1290.2 455.6,1283.3 455.9,1290.5 456.3,1285.4 456.6,1291.9 457,1284.7 457.3,1291.9 457.7,1287.5 458,1292.3 458.4,1286.7 458.7,1293.6 459.1,1287.1 459.4,1286.8 459.6,1294.9 459.4,1294.6 459.8,1289.5 460.1,1293.8 460.5,1290.4 460.8,1294.8 461.2,1289.7 461.5,1296.5 461.9,1291.9 462.2,1297.1 462.6,1292.7 462.9,1298.6 463.3,1293.6 463.6,1301.3 463.7,1293.2 463.8,1301.4 464,1295.9 464.3,1302.3 464.7,1295.8 465,1303.2 465.4,1296.8 465.7,1304.5 466.1,1299.6 466.4,1305.1 466.8,1299.9 467.1,1307.7 467.5,1301.3 467.8,1309.6 468,1301.8 468.1,1310 468.2,1304.1 468.5,1311.1 468.9,1306.3 469.2,1315.1 469.6,1307.9 469.9,1315.4 470.3,1311.5 470.6,1317.8 471,1311.8 471.2,1312.6 471.3,1320.7 471.3,1320.8 471.7,1317.6 472,1327.3 472.4,1320.6 472.7,1329.8 473.1,1326.4 473.3,1327.2 473.5,1335.8 473.4,1336 473.8,1335.2 474.1,1343.6 474.5,1342.7 474.8,1351.2 476.1,1365.9 477,1373 477.6,1378.7 477.9,1380.3 478.8,1382.5 479.1,1383.1 479.7,1380.6 480.6,1380.1 480.9,1378.8 481.5,1378.6 482.4,1377.2 483.3,1377.4 484.1,1376.6 484.2,1375.7 485.1,1377 486,1376.1 486.9,1377.7 487.3,1376.6 487.8,1374.5 488.7,1374.6 489.6,1374 490.5,1371.3 491.4,1370.5 491.6,1370.2 492.3,1371.7 493.2,1369.4 494.1,1368.7 495,1369.3 495.9,1368 495.9,1368.3 496.8,1368.6 497.7,1367.8 498.6,1364.8 499.5,1363.9 500.2,1363.7 500.4,1363.5 501.3,1363.6 502.2,1361.3 503.1,1359.5 504,1361 504.4,1359.4 504.9,1358.3 505.8,1357.9 506.7,1356.2 507.6,1353.3 508.5,1351.7 508.7,1353 509.4,1352.7 510.3,1353.7 511.2,1353.4 512.1,1353.1 513,1353 513.9,1353.7 514.8,1353.3 515.7,1354 516.6,1354.6 517.3,1355.1 517.5,1356.2 518.4,1354.1 519.3,1352.7 520.2,1352.7 521.1,1350.9 521.6,1350.8 522,1350.5 522.9,1350 523.8,1349.2 524.7,1348.5 525.6,1348 525.9,1346.5 526.5,1346.1 527.4,1347.8 528.3,1347.1 529.2,1348.8 530.1,1348.8 530.2,1348.7 531,1349.5 531.9,1348.6 532.8,1351.8 533.7,1350.5 534.5,1350.8 534.6,1350.2 535.5,1350 536.4,1348.9 537.3,1347 537.7,1346.5 538.2,1344.6 539.1,1343.1 539.2,1344.4"/>
<path d="M413.1 1623.7V1229.3" stroke="#000" stroke-width="2.3" stroke-dasharray="39.3 23.2" fill="none"/>
<path d="M476.1 1623.7V1229.3" stroke="#000" stroke-width="2.3" stroke-dasharray="39.3 23.2" fill="none"/>
<path d="M400.5 1623.7v-5.5M400.5 1229.3v5.5M450.9 1623.7v-5.5M450.9 1229.3v5.5M501.4 1623.7v-5.5M501.4 1229.3v5.5M350 1265.2h5.5M539.2 1265.2h-5.5M350 1301h5.5M539.2 1301h-5.5M350 1336.9h5.5M539.2 1336.9h-5.5M350 1372.7h5.5M539.2 1372.7h-5.5M350 1408.6h5.5M539.2 1408.6h-5.5M350 1444.4h5.5M539.2 1444.4h-5.5M350 1480.3h5.5M539.2 1480.3h-5.5M350 1516.1h5.5M539.2 1516.1h-5.5M350 1552h5.5M539.2 1552h-5.5M350 1587.8h5.5M539.2 1587.8h-5.5M350 1623.7h5.5M539.2 1623.7h-5.5" stroke="#262626" stroke-width="2" fill="none"/>
<rect x="350" y="1229.3" width="189.2" height="394.4" fill="none" stroke="#262626" stroke-width="2.4"/>
<polyline clip-path="url(#c22)" fill="none" stroke="#4DBEEE" stroke-width="3.3" stroke-linejoin="round" points="564.5,1361.6 565.2,1367.8 566,1371.9 566.9,1375.4 567.6,1382.1 567.7,1378.8 568.5,1374.6 569.2,1376.7 570,1372.2 570.9,1372.7 570.9,1374.5 571.6,1370.1 572.5,1374.8 573.2,1377.3 574,1378.2 574.1,1378.8 574.9,1384.1 575.6,1390.6 576.5,1388.9 577.2,1394 577.4,1393.8 578,1395.5 578.9,1397.7 579.6,1397.2 580.5,1401.3 580.6,1400.3 581.2,1398.7 582,1401.5 582.9,1399.5 583.6,1410 583.8,1404.6 584.5,1411 585.2,1407.8 586,1409.2 586.9,1416 587,1413.2 587.6,1410.6 588.5,1409.3 589.2,1404 590,1400.7 590.2,1400.3 590.9,1398.3 591.6,1392.7 592.5,1389.9 593.2,1386.9 593.5,1387.4 594,1387.7 594.9,1381.7 595.6,1386 596.5,1381.9 596.7,1380.9 597.2,1380 598,1378.8 598.9,1373.9 599.3,1372.3 599.6,1378.6 600.5,1389.9 601,1395.9 601.2,1403.4 602,1412.7 602.9,1427.9 603.1,1428.2 603.6,1432.1 604.5,1427.5 605.2,1423 605.3,1421.8 606,1426.4 606.9,1422.6 607.6,1416.4 608.5,1418.4 608.5,1417.5 609.2,1413.7 610,1416.7 610.9,1419.7 611.6,1418.9 611.7,1417.5 612.5,1419.9 613.2,1420 614,1420 614.9,1421 615,1421.8 615.6,1424.3 616.5,1424.8 617.2,1425 618,1422.5 618.2,1423.9 618.9,1425.8 619.6,1428.5 620.5,1428.7 621.2,1426.3 621.4,1430.4 622,1432.7 622.9,1427.5 623.6,1435.7 624.5,1437.1 624.6,1434.7 625.2,1437.6 626,1444.7 626.9,1442.9 627.2,1447.5 627.6,1436.2 628.5,1409.8 628.9,1396 631.1,1347.7 631.4,1323.8 631.7,1340.7 632,1319.8 632.3,1341.1 632.6,1314.6 632.9,1340.9 633.2,1310.8 633.5,1334.9 633.8,1315.6 634.1,1337.2 634.3,1303.5 634.5,1337.9 634.4,1309.6 634.7,1328.6 635,1304.4 635.3,1330.9 635.6,1300.2 635.9,1326.4 636.2,1297.7 636.5,1320.7 636.8,1294 637.1,1327.5 637.4,1293.9 637.5,1292.8 637.7,1327.2 637.7,1322.6 638,1300.4 638.3,1318.3 638.6,1295.7 638.9,1325.4 639.2,1290.4 639.5,1318.3 639.8,1291.2 640.1,1313.7 640.4,1286.2 640.7,1319.9 640.8,1286.3 640.9,1329.3 641,1292 641.3,1325.5 641.6,1289.5 641.9,1321.8 642.2,1286.3 642.5,1325.4 642.8,1280.1 643.1,1324.3 643.4,1282.9 643.7,1319.1 644,1267 644.1,1333.6 644,1268 644.3,1328 644.6,1276.3 644.9,1319.8 645.2,1266.6 645.5,1323.8 645.8,1279.7 646.1,1329.7 646.4,1279.9 646.7,1334.1 647,1288.8 647.3,1324.7 647.6,1289.2 647.9,1332.3 648.2,1289.3 648.3,1284.2 648.4,1335.8 648.5,1333.4 648.8,1289.3 649.1,1330.1 649.4,1298.4 649.7,1330.8 650,1288.7 650.3,1335.2 650.6,1287.3 650.9,1332.4 651.2,1291.6 651.5,1327.5 651.8,1293.8 652.1,1333.6 652.4,1286.6 652.6,1286.3 652.7,1335.8 652.7,1335.4 653,1300.4 653.3,1331.3 653.6,1294.3 653.9,1325.5 654.2,1294.8 654.5,1325.8 654.8,1303.5 655.1,1334.3 655.4,1296.9 655.7,1328.2 656,1284.7 656.3,1335.4 656.6,1292.8 656.9,1288.5 657,1335.8 656.9,1328.5 657.2,1288.6 657.5,1332 657.8,1291.3 658.1,1334.4 658.4,1292.1 658.7,1335.4 659,1292.8 659,1288.5 659.2,1333.6 659.3,1325.5 659.6,1289.5 659.9,1331.5 660.2,1289.9 660.5,1329.1 660.8,1297.5 661.1,1323.8 661.4,1302 661.7,1336.4 662,1291.8 662.3,1288.5 662.4,1348.7 662.3,1351.1 662.6,1299.6 662.9,1338.5 663.2,1299.9 663.5,1339.3 663.8,1293.4 664.1,1336.8 664.4,1293.5 664.7,1327.5 665,1303.1 665.3,1320.8 665.5,1290.6 665.6,1331.5 665.6,1291.8 665.9,1328.7 666.2,1299.9 666.5,1325.1 666.8,1292.4 667.1,1327.9 667.4,1302.9 667.7,1338.1 668,1306.6 668.3,1326.1 668.6,1289.7 668.9,1324.1 669.2,1295.2 669.5,1333.5 669.8,1292.8 669.9,1335.8 669.8,1303.7 670.1,1329.6 670.4,1302.1 670.7,1332.1 671,1304 671.3,1326.8 671.6,1297.3 671.9,1331.3 672.2,1302.8 672.5,1336.5 672.8,1308.3 673.1,1340.7 673.4,1303.2 673.7,1335.5 674,1299.9 674.1,1297.1 674.2,1342.2 674.3,1332.3 674.6,1302.4 674.9,1335.4 675.2,1315.3 675.5,1337.2 675.8,1306.9 676.1,1336.6 676.4,1313.6 676.7,1340.6 677,1305.5 677.3,1341.9 677.6,1312.2 677.9,1336.9 678.2,1310.2 678.4,1310 678.5,1348.7 678.5,1337 678.8,1311.6 679.1,1349.4 679.4,1314.5 679.7,1344.6 680,1323.8 680.3,1351.6 680.6,1321.3 680.9,1349.3 681.2,1328.7 681.5,1347.4 681.8,1324.6 682.1,1353.1 682.4,1323.8 682.7,1320.7 682.8,1357.3 682.7,1349.3 683,1331.6 683.3,1352.1 683.6,1331.6 683.9,1356.5 684.2,1330.3 684.5,1362.1 684.8,1340.2 685.1,1362.2 685.4,1332.6 685.7,1362.5 686,1336.5 686.3,1374.2 686.6,1340 686.9,1372.7 687,1335.8 687.1,1374.5 687.2,1341.3 687.5,1376.5 687.8,1350.7 688.1,1375.4 688.4,1353.1 688.7,1390.4 689,1358.5 690.9,1417.5 691.6,1423.1 692.5,1433.9 693,1438.9 693.2,1436.1 694,1434.9 694.9,1434.2 695.6,1430.4 695.6,1435.6 696.5,1430.4 697.2,1434.4 698,1436.4 698.8,1441.1 698.9,1446.4 699.6,1443.7 700.5,1445 701.2,1447.6 701.6,1449.7 702,1448.6 702.9,1440.4 703.6,1435.1 704.2,1434.7 704.5,1432.9 705.2,1430.5 706,1423.2 706.9,1422.1 707.4,1421.8 707.6,1429.6 708.5,1430.4 709.2,1440.8 710,1451.9 710.2,1451.8 710.9,1445.8 711.6,1439.1 712.5,1433.1 712.8,1430.4 713.2,1425.6 714,1425 714.9,1420.9 715.6,1425.4 716,1421.7 716.5,1416.8 717.2,1413.3 718,1414.4 718.9,1410.3 719.2,1406.7 719.6,1405.2 720.5,1415.8 721.2,1416 722,1417.4 722.5,1417.4 722.9,1411.6 723.6,1412.9 724.5,1405.1 725.2,1404.8 725.7,1400.3 726,1402.7 726.9,1392 727.6,1387.8 728.5,1380.8 728.9,1374.5 729.2,1376.4 730,1379.4 730.9,1383.1 731,1385.2 731.6,1386.5 732.5,1388.9 733.2,1393.6 734,1400.8 734.3,1396 734.9,1401.5 735.6,1404.6 736.5,1417.4 736.9,1419.6 737.2,1412.5 738,1406.2 738.9,1403.1 739.6,1391.7 739.6,1388.8 740.5,1383.2 741.2,1372.9 742,1367.9 742.9,1355.4 742.9,1357.3 743.6,1363.4 744.5,1369.1 745.2,1378.5 746,1386.2 746.1,1385.2 746.9,1382.5 747.6,1379 748.5,1381.8 749.2,1376.2 749.3,1378.8 750,1372.2 750.9,1375 751.6,1374.2 752.5,1373 752.5,1370.2 753.2,1365 754,1365.9"/>
<polyline clip-path="url(#c22)" fill="none" stroke="#808080" stroke-width="2.8" stroke-linejoin="round" points="565.4,1346.5 566.3,1345.8 567.2,1346.4 568.1,1347.7 568.6,1347.6 569,1348.4 569.9,1347.7 570.8,1348 571.7,1348.2 571.8,1346.5 572.6,1345.3 573.5,1346 574.4,1342.9 575,1344.4 575.3,1346.3 576.2,1347.6 577.1,1349.3 578,1352.1 578.2,1350.8 578.9,1352.4 579.8,1353.1 580.7,1353.7 581.4,1355.1 581.6,1355.9 582.5,1356.7 583.4,1356.9 584.3,1357.9 584.5,1359.4 585.2,1360.2 586.1,1360.4 587,1361.3 587.8,1361.6 587.9,1362.4 588.8,1360.4 589.7,1356.5 590.6,1354.7 590.9,1355.1 591.5,1356.5 592.4,1359 593.3,1358.2 594.1,1359.4 594.2,1361.4 595.1,1359.8 596,1360.4 596.9,1361.4 597.3,1361.6 597.8,1362.5 598.7,1363.5 599.6,1366.8 600.5,1367.4 600.5,1368 601.4,1368.3 602.3,1369.6 603.2,1371.1 603.7,1372.3 604.1,1372.1 605,1374.5 605.9,1373.8 606.8,1375.6 606.9,1374.5 607.7,1374.6 608.6,1376.2 609.5,1375.4 610.1,1376.6 610.4,1376.5 611.3,1379.5 612.2,1378.3 613.1,1378.4 613.3,1379.8 614,1379.6 614.9,1381.6 615.8,1380.1 616.5,1380.9 616.7,1381.3 617.6,1381.4 618.5,1380.9 619.4,1381 619.7,1380.9 620.3,1380.4 621.2,1382.4 622.1,1381 622.9,1382 623,1380.2 623.9,1383.7 624.8,1383.1 625.7,1383.4 626,1383.1 626.6,1382.5 627.5,1379.1 628,1378.8 628.8,1355.4 629.2,1346.5 629.5,1346.3 629.9,1337 630.2,1340.4 630.3,1331.5 630.5,1340.1 630.6,1329.8 630.9,1332.2 631.3,1324.5 631.6,1329 632,1318.5 632.3,1320.6 632.4,1312.1 632.6,1320.7 632.7,1311.4 633,1316.7 633.4,1308.4 633.7,1314.6 634.1,1305.3 634.4,1309.1 634.8,1302.5 635.1,1306.5 635.5,1299.8 635.6,1297.1 635.8,1305.7 635.8,1302.2 636.2,1298.8 636.5,1303.1 636.9,1296 637.2,1300.2 637.6,1294.3 637.9,1300.8 638.3,1292.7 638.6,1298.5 639,1292.7 639.3,1297.7 639.7,1291.8 639.9,1288.5 640,1297.1 640,1296.6 640.4,1290.7 640.7,1293.3 641.1,1288.5 641.4,1294 641.8,1287.1 642.1,1293.5 642.5,1285.6 642.8,1293.6 643.2,1287.4 643.5,1292.8 643.9,1287.3 644.1,1284.2 644.3,1292.8 644.2,1292.7 644.6,1283.9 644.9,1289.2 645.3,1283 645.6,1289.9 646,1283.9 646.3,1289.7 646.7,1283 647,1289.3 647.4,1283.4 647.7,1288 648.1,1283 648.4,1280.3 648.5,1288.5 648.4,1287.6 648.8,1280.5 649.1,1287.5 649.5,1282.8 649.8,1289 650.2,1280.9 650.5,1286.7 650.9,1281.4 651.2,1287.1 651.6,1280.7 651.9,1287.3 652.3,1280.5 652.6,1285.5 652.7,1279.5 652.8,1287.4 653,1282 653.3,1286.4 653.7,1282 654,1286.1 654.4,1280.7 654.7,1285.4 655.1,1280.6 655.4,1285.2 655.8,1281 656.1,1285.8 656.5,1277.8 656.8,1284.8 656.9,1278.2 657.1,1286.3 657.2,1278.7 657.5,1285.3 657.9,1278.1 658.2,1285.3 658.6,1280.1 658.9,1285.1 659.3,1279.2 659.6,1284 660,1279.7 660.3,1284.1 660.7,1277.6 661,1284.5 661.2,1277.3 661.3,1285.3 661.4,1278 661.7,1284 662.1,1278.2 662.4,1284 662.8,1279.1 663.1,1285.1 663.5,1279.3 663.8,1286.4 664.2,1279.2 664.5,1284.3 664.9,1279.2 665.2,1287.2 665.4,1279.5 665.6,1287.4 665.6,1281.2 665.9,1286.5 666.3,1281.2 666.6,1288.2 667,1280.3 667.3,1288.3 667.7,1281.7 668,1289 668.4,1282.9 668.7,1288 669.1,1283.5 669.4,1288.6 669.7,1282.5 669.8,1290.6 669.8,1284.7 670.1,1290.3 670.5,1284.7 670.8,1292.5 671.2,1285.1 671.5,1291.6 671.9,1285.3 672.2,1291.8 672.6,1286.3 672.9,1292.6 673.3,1287.4 673.6,1292.4 673.9,1286.8 674.1,1294.9 674,1287.4 674.3,1294.6 674.7,1288.7 675,1296.6 675.4,1288.4 675.7,1297.8 676.1,1291 676.4,1297 676.8,1291.8 677.1,1299 677.5,1293.6 677.8,1300.6 678.2,1295.3 678.2,1293.2 678.3,1301.4 678.5,1299.7 678.9,1295.2 679.2,1302.2 679.6,1295.5 679.9,1303.3 680.3,1299.3 680.6,1304 681,1300.3 681.3,1308.3 681.7,1302.5 682,1307 682.4,1303.2 682.4,1301.8 682.6,1310 682.7,1309.5 683.1,1303.1 683.4,1311.6 683.8,1308.7 684.1,1315.3 684.5,1309.6 684.8,1317.5 685.2,1312.8 685.5,1317.6 685.6,1312.6 685.8,1320.7 685.9,1317.2 686.2,1323.7 686.6,1319.2 686.9,1327.1 687.3,1325.7 687.6,1333.7 687.8,1327.2 687.9,1335.8 688,1330.8 688.3,1340.2 688.7,1337.7 689,1349.2 690.5,1365.9 691.4,1371.9 692,1378.7 692.3,1380.7 693.2,1382.6 693.5,1383.1 694.1,1382.1 695,1380.1 695.2,1378.8 695.9,1379.7 696.8,1377.4 697.7,1376.7 698.4,1376.6 698.6,1376.1 699.5,1377.5 700.4,1377.7 701.3,1377.6 701.6,1376.6 702.2,1375.1 703.1,1373.5 704,1373.5 704.9,1370.5 705.8,1370 705.9,1370.2 706.7,1369.3 707.6,1369.2 708.5,1368.4 709.4,1368 710.1,1368 710.3,1366.6 711.2,1368.4 712.1,1365.4 713,1365.3 713.9,1363.3 714.4,1363.7 714.8,1364 715.7,1362.4 716.6,1361.5 717.5,1361.6 718.4,1359.3 718.6,1359.4 719.3,1357.2 720.2,1356 721.1,1355.5 722,1354.9 722.9,1353 722.9,1352.6 723.8,1353.8 724.7,1353.4 725.6,1352 726.5,1353.1 727.1,1353 727.4,1352.6 728.3,1353.9 729.2,1353 730.1,1356 731,1353.4 731.4,1355.1 731.9,1353 732.8,1353.4 733.7,1351.9 734.6,1351.2 735.5,1350.8 735.6,1350.8 736.4,1351.7 737.3,1349.5 738.2,1349.3 739.1,1345.7 739.9,1346.5 740,1346.6 740.9,1347.4 741.8,1346.7 742.7,1347.9 743.6,1348.5 744.2,1348.7 744.5,1350.2 745.4,1349.9 746.3,1349.3 747.2,1351.3 748.1,1350.6 748.4,1350.8 749,1349.7 749.9,1348.1 750.8,1348.3 751.6,1346.5 751.7,1346.8 752.6,1344.5 753.1,1344.4"/>
<path d="M628 1623.7V1229.3" stroke="#000" stroke-width="2.3" stroke-dasharray="39.3 23.2" fill="none"/>
<path d="M690.5 1623.7V1229.3" stroke="#000" stroke-width="2.3" stroke-dasharray="39.3 23.2" fill="none"/>
<path d="M615.5 1623.7v-5.5M615.5 1229.3v5.5M665.5 1623.7v-5.5M665.5 1229.3v5.5M715.6 1623.7v-5.5M715.6 1229.3v5.5M565.4 1265.2h5.5M753.1 1265.2h-5.5M565.4 1301h5.5M753.1 1301h-5.5M565.4 1336.9h5.5M753.1 1336.9h-5.5M565.4 1372.7h5.5M753.1 1372.7h-5.5M565.4 1408.6h5.5M753.1 1408.6h-5.5M565.4 1444.4h5.5M753.1 1444.4h-5.5M565.4 1480.3h5.5M753.1 1480.3h-5.5M565.4 1516.1h5.5M753.1 1516.1h-5.5M565.4 1552h5.5M753.1 1552h-5.5M565.4 1587.8h5.5M753.1 1587.8h-5.5M565.4 1623.7h5.5M753.1 1623.7h-5.5" stroke="#262626" stroke-width="2" fill="none"/>
<rect x="565.4" y="1229.3" width="187.7" height="394.4" fill="none" stroke="#262626" stroke-width="2.4"/>
<polyline clip-path="url(#c23)" fill="none" stroke="#D95319" stroke-width="3.3" stroke-linejoin="round" points="776.5,1402.4 777.2,1400 778,1402.2 778.9,1405.1 779.6,1399.8 779.7,1400.3 780.5,1403.3 781.2,1397.5 782,1401.8 782.9,1406.5 782.9,1402.4 783.6,1399.4 784.5,1396.6 785.2,1389.1 785.5,1391.7 786,1393.6 786.9,1397.6 787.6,1408.6 788.3,1413.2 788.5,1415.2 789.2,1425.1 790,1429 790.4,1430.4 790.9,1428.6 791.6,1422.4 792.5,1415.6 793.2,1411.1 793.6,1408.9 794,1408.9 794.9,1410.5 795.6,1416 796.5,1414.6 796.9,1417.5 797.2,1416 798,1410.9 798.9,1404.9 799.6,1407.6 800.1,1402.4 800.5,1396 801.2,1395 802,1386.4 802.7,1378.8 802.9,1379.7 803.6,1388.7 804.5,1397.6 805.2,1404.9 805.5,1406.7 806,1410.8 806.9,1419.2 807.6,1429.1 808.3,1430.3 808.5,1428.5 809.2,1428.9 810,1424.5 810.8,1423.9 810.9,1420.5 811.6,1431.5 812.5,1440.7 813,1449.7 813.2,1453.9 814,1464.5 814.9,1473.8 815.1,1475.5 815.6,1469.5 816.5,1464.1 817.2,1462 818,1459.8 818.4,1456.1 818.9,1453.6 819.6,1451.1 820.5,1453.2 820.5,1449.7 821.2,1454.8 822,1459.6 822.9,1470.5 823.6,1467.5 823.7,1471.2 824.5,1468.8 825.2,1463.9 826,1466.9 826.3,1464.8 826.9,1462.5 827.6,1459.6 828.5,1454.4 828.5,1456.2 829.2,1460.6 830,1464.6 830.9,1468.9 831.3,1471.2 831.6,1474.4 832.5,1483 833.2,1486.5 833.4,1486.2 834,1491.1 834.9,1497.7 835.6,1503.4 835.6,1500 836.5,1508.7 837.2,1512.9 837.7,1514.2 838,1514.7 838.8,1524.9 838.9,1522.7 839.6,1495.7 840.5,1461.3 840.5,1460.4 841.2,1444.8 842,1417.5 844.2,1405.6 844.5,1393.2 844.8,1397.4 845.1,1380.9 845.4,1389.2 845.7,1371.4 846,1382.8 846.3,1358.9 846.3,1357.3 846.5,1378.8 846.6,1374.8 846.9,1358.8 847.2,1375.9 847.5,1359.4 847.8,1373 848.1,1348.9 848.4,1367.4 848.7,1348.2 849,1365 849.3,1349.3 849.5,1342.2 849.7,1370.2 849.6,1371.7 849.9,1344.4 850.2,1371.7 850.5,1339.7 850.8,1365.4 851.1,1341.2 851.4,1360.8 851.7,1336.4 852,1357.6 852.3,1335.5 852.6,1361.4 852.8,1331.5 852.9,1361.6 852.9,1334.2 853.2,1357.8 853.5,1331.9 853.8,1354.6 854.1,1326.8 854.4,1353.5 854.7,1321.6 855,1350 855.3,1315.7 855.6,1354.7 855.9,1311.6 856,1314.3 856.1,1353 856.2,1346.3 856.5,1316.5 856.8,1348.4 857.1,1317.7 857.4,1343.2 857.7,1313.9 858,1337.8 858.3,1316.8 858.6,1342.7 858.9,1312.1 859.2,1338.6 859.2,1310 859.4,1344.4 859.5,1316.7 859.8,1330.9 860.1,1305.6 860.4,1341 860.7,1308.6 861,1329.6 861.3,1300.7 861.6,1339.2 861.9,1299.6 862.2,1339.3 862.4,1292.8 862.6,1340.1 862.5,1306 862.8,1327.2 863.1,1307.7 863.4,1325.4 863.7,1299.2 864,1337.7 864.3,1292.1 864.6,1334.2 864.9,1299.2 865.2,1331.8 865.5,1290.3 865.7,1288.5 865.8,1335.8 865.8,1335.3 866.1,1306.1 866.4,1324.9 866.7,1302.6 867,1336.3 867.3,1302.2 867.6,1334.1 867.9,1293.9 868.2,1326.4 868.5,1291 868.8,1330.9 868.9,1290.6 869,1337.9 869.1,1304.6 869.4,1328.4 869.7,1286.6 870,1333.6 870.3,1294.5 870.6,1323.7 870.9,1299.8 871.2,1328.9 871.5,1298 871.8,1330.3 872.1,1303.5 872.1,1292.8 872.3,1340.1 872.4,1330.6 872.7,1298 873,1340.2 873.3,1300.2 873.6,1333.6 873.9,1305 874.2,1335.3 874.5,1313.2 874.8,1345.8 875.1,1314.4 875.3,1305.7 875.5,1348.7 875.4,1346.6 875.7,1311.1 876,1341.6 876.3,1321.9 876.6,1337.8 876.9,1320.6 877.2,1348.5 877.5,1320.7 877.8,1355.9 878.1,1327.4 878.4,1349.6 878.6,1320.7 878.7,1353 878.7,1327.8 879,1352.4 879.3,1325 879.6,1354.1 879.9,1327.5 880.2,1354.2 880.5,1327.6 880.8,1356.5 881.1,1330.6 881.4,1356.9 881.7,1332.5 881.8,1331.5 881.9,1361.6 882,1357.6 882.3,1333.2 882.6,1359.8 882.9,1331.4 883.2,1357.7 883.5,1330.6 883.8,1360.7 884.1,1330.4 884.4,1357.5 884.7,1341.2 885,1361 885,1329.3 885.2,1370.2 885.3,1331.2 885.6,1365.9 885.9,1341.5 886.2,1367.1 886.5,1325.5 886.8,1361.3 887.1,1332.5 887.4,1367 887.7,1324.3 888,1363.5 888.2,1318.6 888.4,1365.9 888.3,1333.3 888.6,1362.4 888.9,1333.5 889.2,1355.3 889.5,1323.8 889.8,1370.4 890.1,1335 890.4,1367.9 890.7,1326.7 891,1359 891.3,1327.9 891.6,1362.2 891.9,1330.2 892.2,1363.4 892.5,1332.4 892.5,1331.5 892.7,1370.2 892.8,1367 893.1,1340.2 893.4,1367.3 893.7,1346.9 894,1369.7 894.3,1346.6 894.6,1368.4 894.9,1348 895.2,1371.1 895.5,1355.4 895.8,1372 896.1,1355.6 896.4,1382.6 896.7,1359.8 896.8,1353 897,1383.1 897,1375.8 897.3,1357 897.6,1385 897.9,1366.9 898.2,1387.1 898.5,1368.6 898.8,1394.5 899.1,1378.8 899.4,1395.2 899.7,1383.7 900,1403.5 902.2,1439 903,1449.1 903.8,1449.3 904.4,1460.4 904.6,1464.7 905.4,1471.9 906.2,1479.5 906.5,1481.9 907,1477.2 907.8,1469.7 908.6,1463.2 908.6,1460.5 909.4,1454.3 910.2,1447.4 911,1443.1 911.4,1439 911.8,1442.5 912.6,1451.5 913.4,1452.3 914,1460.4 914.2,1459.4 915,1462.2 915.8,1463.8 916.6,1462.2 916.8,1466.9 917.4,1471 918.2,1469.8 919,1477.7 919.4,1479.8 919.8,1477.6 920.6,1467.6 921.4,1461.4 922.2,1457.2 922.6,1449.7 923,1448.9 923.8,1442.1 924.6,1441.1 925.4,1433.4 925.9,1430.4 926.2,1426.2 927,1427.1 927.8,1427.8 928.6,1420 929.1,1421.8 929.4,1420.8 930.2,1409.7 931,1402.8 931.2,1402.4 931.8,1408.3 932.6,1409.3 933.4,1412.7 933.8,1417.5 934.2,1417.1 935,1433.6 935.8,1445.4 936,1443.3 936.6,1434.2 937.4,1418.2 938.1,1413.2 938.2,1413.1 939,1405.7 939.8,1408.4 940.6,1398.1 940.9,1396 941.4,1391.6 942.2,1391 943,1395.1 943.8,1389.3 944.1,1389.5 944.6,1393.7 945.4,1395.4 946.2,1397.5 946.7,1402.4 947,1406.8 947.8,1410.4 948.6,1413.5 949.4,1414.4 949.5,1417.5 950.2,1412.6 951,1408.3 951.8,1399.5 952.3,1400.2 952.6,1396.4 953.4,1393.7 954.2,1386.1 955,1384 955.3,1378.8 955.8,1382 956.6,1382.7 957.4,1388.8 958.1,1387.4 958.2,1390.3 959,1391.1 959.8,1390.6 960.6,1393 960.9,1396 961.4,1397 962.2,1400.7 963,1400.1 963.5,1406.7 963.8,1410.9 964.6,1408.8 965.4,1415.2 966,1413.2"/>
<polyline clip-path="url(#c23)" fill="none" stroke="#808080" stroke-width="2.8" stroke-linejoin="round" points="776.9,1346.5 777.8,1346.1 778.7,1347.2 779.6,1347.4 780.1,1347.6 780.5,1347.9 781.4,1345.3 782.3,1347.9 783.2,1346.6 783.3,1346.5 784.1,1345.4 785,1346 785.9,1344.8 786.5,1344.4 786.8,1345.4 787.7,1345.9 788.6,1348 789.5,1350.2 789.8,1350.8 790.4,1353 791.3,1352.5 792.2,1354.3 793,1355.1 793.1,1354.3 794,1356.8 794.9,1357.5 795.8,1358.8 796.2,1359.4 796.7,1359.6 797.6,1359.7 798.5,1361.4 799.4,1361.6 799.4,1361.6 800.3,1360.9 801.2,1358.1 802.1,1355.6 802.6,1355.1 803,1353.7 803.9,1358.2 804.8,1357.6 805.7,1358.5 805.9,1359.4 806.6,1359.8 807.5,1361 808.4,1362.3 809.1,1361.6 809.3,1361.8 810.2,1364.2 811.1,1365 812,1366.9 812.3,1368 812.9,1368.9 813.8,1371 814.7,1370.8 815.5,1372.3 815.6,1373.3 816.5,1372 817.4,1375.1 818.3,1374.8 818.7,1374.5 819.2,1373.6 820.1,1374.5 821,1376.1 821.9,1374.8 822,1376.6 822.8,1376.3 823.7,1377.4 824.6,1377.7 825.2,1379.8 825.5,1381.2 826.4,1380.4 827.3,1379.6 828.2,1380.4 828.4,1380.9 829.1,1382.2 830,1381.1 830.9,1381.5 831.6,1380.9 831.8,1381.3 832.7,1381.6 833.6,1381.3 834.5,1381.2 834.8,1382 835.4,1381.6 836.3,1382.9 837.2,1383.7 838,1383.1 838.1,1383.4 839,1382.8 839.9,1378.4 840,1378.8 840.8,1356.5 841.2,1345.3 841.5,1348.4 841.9,1337 842.2,1340.3 842.3,1331.5 842.5,1340.1 842.6,1330.4 842.9,1334.5 843.3,1323.6 843.6,1328 844,1319.2 844.3,1320.9 844.5,1312.1 844.6,1320.7 844.7,1311.5 845,1317.9 845.4,1307.4 845.7,1314.6 846.1,1305.9 846.4,1311.5 846.8,1301.8 847.1,1306.2 847.5,1298.3 847.7,1297.1 847.8,1305.7 847.8,1306.3 848.2,1298.1 848.5,1301.6 848.9,1293.9 849.2,1300.7 849.6,1294.9 849.9,1301 850.3,1293.5 850.6,1299 851,1292.1 851.3,1296.7 851.7,1290.1 852,1288.5 852.1,1297.1 852,1295.1 852.4,1290.3 852.7,1293.6 853.1,1289.9 853.4,1294.1 853.8,1289.4 854.1,1294.8 854.5,1286.6 854.8,1292.6 855.2,1286.3 855.5,1291.3 855.9,1285.7 856.2,1290.9 856.3,1284.2 856.4,1292.8 856.6,1284.4 856.9,1289.4 857.3,1284.4 857.6,1292 858,1285 858.3,1288.9 858.7,1283 859,1288.2 859.4,1282 859.7,1288.9 860.1,1282.7 860.4,1285.9 860.6,1280.3 860.7,1288.5 860.8,1282.3 861.1,1287.5 861.5,1280.4 861.8,1288 862.2,1280.8 862.5,1285.6 862.9,1278.9 863.2,1288.1 863.6,1280.9 863.9,1286.2 864.3,1280.9 864.6,1284.8 864.9,1279.5 865,1287.4 865,1280.2 865.3,1286.8 865.7,1280.1 866,1286.4 866.4,1279.3 866.7,1284.5 867.1,1280.9 867.4,1284.7 867.8,1279.4 868.1,1286.3 868.5,1281 868.8,1285.3 869.1,1278.2 869.3,1286.3 869.2,1278.3 869.5,1283.8 869.9,1278.1 870.2,1283.5 870.6,1278.7 870.9,1285.2 871.3,1278.2 871.6,1284.8 872,1278.6 872.3,1284.9 872.7,1280.1 873,1284.3 873.4,1277.7 873.4,1277.3 873.6,1285.3 873.7,1285.2 874.1,1278.7 874.4,1284.5 874.8,1279.7 875.1,1285 875.5,1280.7 875.8,1286 876.2,1279.7 876.5,1286.2 876.9,1279.2 877.2,1285.1 877.6,1280.3 877.7,1279.5 877.9,1287.4 877.9,1287 878.3,1279 878.6,1287.5 879,1281.1 879.3,1286.7 879.7,1281.4 880,1288.2 880.4,1281.6 880.7,1288.1 881.1,1281.9 881.4,1288.2 881.8,1282.2 882,1282.5 882.2,1290.6 882.1,1288.1 882.5,1285.6 882.8,1291.3 883.2,1284.8 883.5,1292.6 883.9,1286.9 884.2,1292.7 884.6,1286.2 884.9,1293.1 885.3,1287 885.6,1292.2 886,1287 886.3,1286.8 886.5,1294.9 886.3,1294.2 886.7,1287.6 887,1295.5 887.4,1289 887.7,1295.7 888.1,1290.8 888.4,1297.4 888.8,1290.5 889.1,1297.7 889.5,1291.7 889.8,1301.1 890.2,1292.9 890.5,1299.5 890.6,1293.2 890.7,1301.4 890.9,1293.8 891.2,1301.6 891.6,1295.1 891.9,1302.9 892.3,1298.3 892.6,1304.9 893,1298.4 893.3,1305 893.7,1300.2 894,1306.3 894.4,1301.8 894.7,1309.4 894.9,1301.8 895,1310 895.1,1303 895.4,1311.8 895.8,1305.9 896.1,1313.2 896.5,1308.1 896.8,1314.3 897.2,1309.8 897.5,1319.5 897.9,1314.2 898.1,1312.6 898.2,1320.7 898.2,1321.5 898.6,1317.5 898.9,1325.3 899.3,1322.4 899.6,1329.2 900,1326.6 900.2,1327.2 900.4,1335.8 900.3,1335.3 900.7,1333.8 901,1343.7 901.4,1342.9 901.7,1351.5 903,1365.9 903.9,1374.4 904.5,1378.7 904.8,1381.1 905.7,1382.7 906,1383.1 906.6,1379.7 907.5,1379.1 907.8,1378.8 908.4,1377.4 909.3,1376.9 910.2,1378.1 911,1376.6 911.1,1377.1 912,1377.5 912.9,1376.9 913.8,1376.8 914.2,1376.6 914.7,1374.7 915.6,1372.8 916.5,1372.5 917.4,1370.7 918.3,1369.4 918.5,1370.2 919.2,1369.5 920.1,1368.3 921,1368.5 921.9,1366.9 922.8,1368 922.8,1368.1 923.7,1367.4 924.6,1366.1 925.5,1364.2 926.4,1364.1 927.1,1363.7 927.3,1361.6 928.2,1361.9 929.1,1361.2 930,1360.8 930.9,1360.8 931.4,1359.4 931.8,1359.6 932.7,1356.9 933.6,1356.2 934.5,1354.2 935.4,1352.1 935.6,1353 936.3,1352.1 937.2,1351.1 938.1,1352.8 939,1353.1 939.9,1353 940.8,1354.2 941.7,1354.1 942.6,1354.3 943.5,1355 944.2,1355.1 944.4,1355 945.3,1353.7 946.2,1351.2 947.1,1351 948,1350.8 948.5,1350.8 948.9,1350.2 949.8,1349 950.7,1349 951.6,1347.4 952.5,1346.9 952.8,1346.5 953.4,1347.3 954.3,1347.1 955.2,1346.9 956.1,1348.9 957,1349.8 957.1,1348.7 957.9,1349.1 958.8,1349.9 959.7,1351.7 960.6,1351.8 961.4,1350.8 961.5,1350.2 962.4,1348.9 963.3,1349.4 964.2,1346 964.6,1346.5 965.1,1346.2 966,1343.4 966.1,1344.4"/>
<path d="M840 1623.7V1229.3" stroke="#000" stroke-width="2.3" stroke-dasharray="39.3 23.2" fill="none"/>
<path d="M903 1623.7V1229.3" stroke="#000" stroke-width="2.3" stroke-dasharray="39.3 23.2" fill="none"/>
<path d="M827.4 1623.7v-5.5M827.4 1229.3v5.5M877.8 1623.7v-5.5M877.8 1229.3v5.5M928.3 1623.7v-5.5M928.3 1229.3v5.5M776.9 1265.2h5.5M966.1 1265.2h-5.5M776.9 1301h5.5M966.1 1301h-5.5M776.9 1336.9h5.5M966.1 1336.9h-5.5M776.9 1372.7h5.5M966.1 1372.7h-5.5M776.9 1408.6h5.5M966.1 1408.6h-5.5M776.9 1444.4h5.5M966.1 1444.4h-5.5M776.9 1480.3h5.5M966.1 1480.3h-5.5M776.9 1516.1h5.5M966.1 1516.1h-5.5M776.9 1552h5.5M966.1 1552h-5.5M776.9 1587.8h5.5M966.1 1587.8h-5.5M776.9 1623.7h5.5M966.1 1623.7h-5.5" stroke="#262626" stroke-width="2" fill="none"/>
<rect x="776.9" y="1229.3" width="189.2" height="394.4" fill="none" stroke="#262626" stroke-width="2.4"/>
<polyline clip-path="url(#c24)" fill="none" stroke="#EDB120" stroke-width="3.3" stroke-linejoin="round" points="993.5,1396 994.2,1400 995,1398.7 995.9,1407.8 996.6,1409.7 996.7,1411 997.5,1408.3 998.2,1403.7 999,1399.6 999.5,1396 999.9,1396.3 1000.6,1384.1 1001.5,1381.9 1002,1374.5 1002.2,1378 1003,1384.2 1003.9,1399.8 1004.2,1400.3 1004.6,1405.6 1005.5,1410.5 1006.2,1414.8 1007,1426.4 1007.4,1430.4 1007.9,1427 1008.6,1423.5 1009.5,1427.6 1010.2,1423.8 1010.6,1421.8 1011,1428.6 1011.9,1427.5 1012.6,1429.9 1013.5,1439.5 1013.9,1443.3 1014.2,1447.1 1015,1436.1 1015.9,1439.2 1016.6,1432.5 1017.1,1434.7 1017.5,1434.9 1018.2,1429.4 1019,1427.7 1019.9,1425.8 1020.3,1423.9 1020.6,1424 1021.5,1424.4 1022.2,1430.6 1023,1437.8 1023.5,1438.9 1023.9,1438.7 1024.7,1443.4 1025.5,1445.8 1026.2,1447.4 1026.8,1449.7 1027,1447.4 1027.8,1458.9 1028.7,1458.9 1029.5,1465.3 1030,1471.2 1030.2,1474.3 1031,1473.1 1031.8,1476.2 1032.7,1477.7 1033.2,1477.7 1033.5,1481.8 1034.2,1476.6 1035,1482.6 1035.8,1482.3 1036.4,1482 1036.7,1484.3 1037.5,1481.3 1038.2,1486.3 1039,1485.4 1039.7,1488.4 1039.8,1484.9 1040.7,1484.6 1041.5,1488.1 1042.2,1487.8 1042.9,1486.3 1043,1488 1043.8,1493.7 1044.7,1498.2 1045.5,1500.2 1046.1,1507.7 1046.2,1508.6 1047,1514.7 1047.8,1515 1048.7,1515.3 1049.3,1520.7 1049.5,1520.9 1050.2,1527.7 1051,1535.1 1051.8,1538.1 1052.6,1546.4 1052.7,1547.6 1053.5,1560.1 1054.2,1565.5 1055,1582.1 1055.4,1585.1 1055.8,1574.5 1056.2,1567.8 1056.7,1555.9 1057.5,1523 1057.9,1503.4 1058.2,1497.1 1059,1479.8 1059.8,1467.4 1060.1,1460.5 1062.2,1445.1 1062.5,1424.2 1062.8,1440.4 1063.1,1416.4 1063.4,1435.6 1063.7,1404.7 1064,1424.1 1064.3,1402.1 1064.6,1420.6 1064.9,1390.3 1065.2,1418.8 1065.5,1387.4 1065.6,1421.8 1065.5,1387.1 1065.8,1416.7 1066.1,1387 1066.4,1413 1066.7,1390.3 1067,1413.9 1067.3,1382.3 1067.6,1411.3 1067.9,1379.5 1068.2,1408.6 1068.5,1380 1068.7,1374.5 1068.8,1406.7 1068.8,1405.9 1069.1,1376.8 1069.4,1399.3 1069.7,1364.9 1070,1398.4 1070.3,1363.7 1070.6,1395 1070.9,1360.1 1071.2,1385.1 1071.5,1351.7 1071.8,1390.7 1071.9,1344.4 1072.1,1391.7 1072.1,1346.2 1072.4,1384.5 1072.7,1353.7 1073,1392.7 1073.3,1352.7 1073.6,1380.8 1073.9,1352.7 1074.2,1393.9 1074.5,1349.4 1074.8,1391.8 1075.1,1348.7 1075.3,1396 1075.1,1361.6 1075.4,1394.8 1075.7,1362.2 1076,1396.6 1076.3,1359.5 1076.6,1395.7 1076.9,1360.3 1077.2,1387.5 1077.5,1351.5 1077.8,1396.3 1078.1,1356.4 1078.4,1396.9 1078.7,1355.1 1079,1390.3 1079.3,1357.4 1079.4,1353 1079.6,1404.6 1079.6,1398.5 1079.9,1359.7 1080.2,1399.6 1080.5,1361.7 1080.8,1398.3 1081.1,1364.4 1081.4,1405.9 1081.7,1375.5 1082,1391 1082.3,1368.3 1082.6,1408.4 1082.7,1357.3 1082.8,1413.2 1082.9,1359.2 1083.2,1407.4 1083.5,1371.1 1083.8,1406.5 1084.1,1361.8 1084.4,1405.2 1084.7,1357.9 1085,1398.1 1085.3,1358 1085.6,1389.8 1085.9,1347.8 1086.2,1397.8 1086.5,1359.6 1086.8,1396.4 1087,1344.4 1087.1,1396 1087.1,1355.5 1087.4,1393.7 1087.7,1348.2 1088,1386 1088.3,1356.2 1088.6,1402.2 1088.9,1357 1089.2,1385.8 1089.5,1367.1 1089.8,1395.9 1090.1,1363.4 1090.2,1357.3 1090.3,1404.6 1090.4,1408.6 1090.7,1362.3 1091,1395.6 1091.3,1361.5 1091.6,1393 1091.9,1371.7 1092.2,1403.2 1092.5,1363 1092.8,1398.7 1093.1,1363.7 1093.4,1399.1 1093.7,1371 1094,1398.7 1094.3,1361.2 1094.5,1361.6 1094.6,1408.9 1094.6,1393.5 1094.9,1363.9 1095.2,1407.8 1095.5,1374.8 1095.8,1403.4 1096.1,1365.3 1096.4,1404.9 1096.7,1373.3 1097,1410.2 1097.3,1367.7 1097.6,1404.5 1097.9,1368.2 1098.2,1406.1 1098.5,1374.8 1098.8,1365.9 1098.9,1417.5 1098.8,1411.2 1099.1,1367.3 1099.4,1410.3 1099.7,1375 1100,1410.4 1100.3,1370.4 1100.6,1403.1 1100.9,1366.6 1101.2,1411.9 1101.5,1372.1 1101.8,1398.4 1102.1,1376.7 1102.4,1406 1102.7,1365.5 1103,1409.7 1103.1,1363.7 1103.2,1411 1103.3,1366.8 1103.6,1404.5 1103.9,1364.5 1104.2,1407 1104.5,1359.8 1104.8,1399.7 1105.1,1360.9 1105.4,1402.4 1105.7,1361.6 1106,1407.2 1106.3,1353 1106.5,1408.9 1106.3,1356.7 1106.6,1394.4 1106.9,1357.9 1107.2,1403.8 1107.5,1365.4 1107.8,1405 1108.1,1358.8 1108.4,1397.1 1108.7,1361.9 1109,1401.7 1109.3,1357.8 1109.5,1357.3 1109.7,1413.2 1109.6,1398.7 1109.9,1372.4 1110.2,1405.2 1110.5,1376.2 1110.8,1416.2 1111.1,1391.4 1111.4,1427.3 1111.7,1402.9 1112,1436.7 1112.3,1402.5 1112.6,1429 1112.8,1406.7 1112.9,1439 1112.9,1415.9 1113.2,1442.1 1113.5,1417.2 1113.8,1442.3 1114.1,1419.4 1114.4,1448.3 1114.7,1421.8 1115,1447.4 1115.3,1427.4 1115.6,1454.7 1115.9,1431.9 1118.6,1492.7 1119.4,1499 1120.2,1503.5 1120.7,1514.2 1121,1515.2 1121.8,1517.2 1122.6,1518.9 1123.4,1526.7 1123.5,1522.8 1124.2,1521.7 1125,1513.7 1125.8,1507.6 1126.6,1505.8 1126.7,1503.5 1127.4,1499.8 1128.2,1496.2 1129,1492.3 1129.8,1493.5 1130,1488.4 1130.6,1488.8 1131.4,1490.2 1132.2,1483.5 1133,1481.8 1133.2,1482 1133.8,1480.4 1134.6,1476.8 1135.4,1470.7 1136.2,1464.1 1136.4,1464.8 1137,1465.7 1137.8,1465.1 1138.6,1459.6 1139.4,1453.1 1139.6,1456.2 1140.2,1457.2 1141,1458 1141.8,1465.5 1142.6,1467.5 1142.8,1471.2 1143.4,1476.7 1144.2,1478.1 1145,1487.1 1145.6,1492.7 1145.8,1488.6 1146.6,1477.9 1147.4,1463.7 1148.2,1447.7 1148.2,1449.7 1149,1442.4 1149.8,1437.2 1150.6,1426.1 1151.4,1415.3 1151.5,1417.4 1152.2,1414.8 1153,1414.7 1153.8,1407.9 1154.6,1401.9 1154.7,1402.4 1155.4,1405 1156.2,1403.3 1157,1406.2 1157.8,1406.2 1157.9,1408.9 1158.6,1411.1 1159.4,1415.9 1160.2,1415.4 1161,1414.3 1161.1,1417.5 1161.8,1418.4 1162.6,1407.9 1163.4,1410.6 1164.2,1410.4 1164.3,1408.9 1165,1414.2 1165.8,1420.1 1166.6,1426.6 1167.4,1435.8 1167.6,1439 1168.2,1436.9 1169,1443.5 1169.8,1444.9 1170.2,1445.4 1170.6,1436 1171.4,1420.1 1172.2,1408.5 1172.3,1404.6 1173,1407.7 1173.8,1407.7 1174.6,1409.3 1175.1,1404.6 1175.4,1403.1 1176.2,1409.1 1177,1411.8 1177.8,1406.4 1178.3,1413.2 1178.6,1413.7 1179.4,1413.5 1180.2,1415 1181,1419.5 1181.5,1417.5 1181.8,1419.8 1182.6,1409 1183,1406.8"/>
<polyline clip-path="url(#c24)" fill="none" stroke="#808080" stroke-width="2.8" stroke-linejoin="round" points="993.6,1346.5 994.5,1347.1 995.4,1347.2 996.3,1348.2 996.8,1347.6 997.2,1346.5 998.1,1347.1 999,1345 999.9,1346 1000,1346.5 1000.8,1346.4 1001.7,1344.6 1002.6,1344.6 1003.3,1344.4 1003.5,1344.2 1004.4,1345.5 1005.3,1347.6 1006.2,1350.4 1006.5,1350.8 1007.1,1350.9 1008,1351.9 1008.9,1353.9 1009.7,1355.1 1009.8,1355.3 1010.7,1357.5 1011.6,1358.5 1012.5,1358.5 1012.9,1359.4 1013.4,1360.5 1014.3,1358.9 1015.2,1359.9 1016.1,1361.9 1016.1,1361.6 1017,1361.5 1017.9,1358.1 1018.8,1356.6 1019.4,1355.1 1019.7,1356.2 1020.6,1356.7 1021.5,1359.9 1022.4,1360.5 1022.6,1359.4 1023.3,1360.1 1024.2,1360.7 1025.1,1361.1 1025.8,1361.6 1026,1361.4 1026.9,1364.7 1027.8,1366.8 1028.7,1367.3 1029,1368 1029.6,1369.3 1030.5,1369.2 1031.4,1372.1 1032.2,1372.3 1032.3,1371.6 1033.2,1373 1034.1,1373.9 1035,1373.3 1035.5,1374.5 1035.9,1375.4 1036.8,1376.3 1037.7,1376.8 1038.6,1376.6 1038.7,1376.6 1039.5,1376.6 1040.4,1379.9 1041.3,1379 1041.9,1379.8 1042.2,1380.9 1043.1,1381.1 1044,1380.1 1044.9,1381.3 1045.1,1380.9 1045.8,1380.4 1046.7,1380.1 1047.6,1381.5 1048.3,1380.9 1048.5,1382.6 1049.4,1381.2 1050.3,1382 1051.2,1383.4 1051.5,1382 1052.1,1382.1 1053,1381.9 1053.9,1382.3 1054.8,1383.1 1054.8,1383.8 1055.7,1380.3 1056.6,1378.1 1056.7,1378.8 1057.6,1356.5 1057.9,1346.1 1058.3,1349.1 1058.6,1338.9 1059,1339.2 1059.1,1331.5 1059.2,1340.1 1059.3,1329.3 1059.7,1333.7 1060,1324.3 1060.4,1327.8 1060.7,1318.6 1061.1,1319.2 1061.2,1312.1 1061.4,1320.7 1061.4,1311.9 1061.8,1317.2 1062.1,1310.2 1062.5,1314.4 1062.8,1306.3 1063.2,1310.3 1063.5,1303 1063.9,1306.2 1064.2,1300.2 1064.4,1297.1 1064.6,1305.7 1064.6,1304.6 1064.9,1297.7 1065.3,1302.7 1065.6,1296.2 1066,1301.3 1066.3,1293.7 1066.7,1301.1 1067,1292.4 1067.4,1297.3 1067.7,1290.7 1068.1,1297 1068.4,1291.1 1068.7,1288.5 1068.9,1297.1 1068.8,1295.6 1069.1,1288.7 1069.5,1293.9 1069.8,1289.2 1070.2,1294.5 1070.5,1287.8 1070.9,1295.8 1071.2,1287.3 1071.6,1295.3 1071.9,1286.5 1072.3,1290.8 1072.6,1286.1 1073,1290.5 1073,1284.2 1073.2,1292.8 1073.3,1284.2 1073.7,1291.9 1074,1283.7 1074.4,1291.2 1074.7,1284.7 1075.1,1291.3 1075.4,1282.8 1075.8,1287.6 1076.1,1282.5 1076.5,1287.7 1076.8,1281.3 1077.2,1286 1077.3,1280.3 1077.5,1288.5 1077.5,1280.9 1077.9,1288.3 1078.2,1281.1 1078.6,1287.7 1078.9,1281.3 1079.3,1285.9 1079.6,1280.1 1080,1287.7 1080.3,1279.7 1080.7,1286.9 1081,1280 1081.4,1287.4 1081.6,1279.5 1081.7,1287.4 1081.7,1281.9 1082.1,1286.8 1082.4,1281.7 1082.8,1287.6 1083.1,1281.7 1083.5,1284.5 1083.8,1279.2 1084.2,1286.1 1084.5,1278.6 1084.9,1284.9 1085.2,1280.1 1085.6,1285.7 1085.9,1278.2 1086,1286.3 1085.9,1279.8 1086.3,1285.6 1086.6,1278.5 1087,1285.9 1087.3,1280.5 1087.7,1285 1088,1277.9 1088.4,1283.9 1088.7,1279.7 1089.1,1284.5 1089.4,1279.8 1089.8,1284.1 1090.1,1279.9 1090.2,1277.3 1090.3,1285.3 1090.5,1285.1 1090.8,1279.8 1091.2,1283.7 1091.5,1278.9 1091.9,1284.4 1092.2,1279.4 1092.6,1286.3 1092.9,1281.2 1093.3,1286.2 1093.6,1279.1 1094,1286.2 1094.3,1281.5 1094.5,1279.5 1094.6,1287.4 1094.7,1287 1095,1282.6 1095.4,1287 1095.7,1281.7 1096.1,1286.8 1096.4,1281.6 1096.8,1287.8 1097.1,1282.5 1097.5,1289 1097.8,1283 1098.2,1289.4 1098.5,1282.7 1098.8,1282.5 1098.9,1290.6 1098.9,1290.2 1099.2,1283.7 1099.6,1290.2 1099.9,1284.4 1100.3,1292.1 1100.6,1284.5 1101,1292 1101.3,1286.4 1101.7,1291.8 1102,1287.1 1102.4,1292.8 1102.7,1287.2 1103.1,1294.2 1103.1,1286.8 1103.2,1294.9 1103.4,1288 1103.8,1294.9 1104.1,1288.5 1104.5,1296 1104.8,1291.4 1105.2,1297.9 1105.5,1290.8 1105.9,1297.3 1106.2,1293.4 1106.6,1299 1106.9,1294.2 1107.3,1301.2 1107.4,1293.2 1107.5,1301.4 1107.6,1296.1 1108,1302.2 1108.3,1297 1108.7,1303.4 1109,1298.6 1109.4,1303.8 1109.7,1299.3 1110.1,1305.2 1110.4,1300.5 1110.8,1307.6 1111.1,1301.9 1111.5,1308.2 1111.6,1301.8 1111.8,1310 1111.8,1304.3 1112.2,1311 1112.5,1306.2 1112.9,1312.8 1113.2,1306.9 1113.6,1315.9 1113.9,1309.6 1114.3,1318.7 1114.6,1313.1 1114.9,1312.6 1115,1320.7 1115,1320 1115.3,1316.4 1115.7,1324.7 1116,1321.4 1116.4,1330.9 1116.7,1325.6 1117,1327.2 1117.2,1335.8 1117.1,1335.5 1117.4,1332 1117.8,1343.5 1118.1,1342.2 1118.5,1349.5 1119.8,1365.9 1120.7,1372.9 1121.3,1378.8 1121.6,1380.2 1122.5,1381.9 1122.8,1383.1 1123.4,1380.8 1124.3,1380.1 1124.5,1378.8 1125.2,1379.4 1126.1,1377.2 1127,1377.3 1127.7,1376.6 1127.9,1377.1 1128.8,1376.5 1129.7,1377.2 1130.6,1375.6 1131,1376.6 1131.5,1375.6 1132.4,1374.4 1133.3,1373.8 1134.2,1372.3 1135.1,1370.7 1135.2,1370.2 1136,1368.8 1136.9,1370 1137.8,1368.3 1138.7,1368.4 1139.5,1368 1139.6,1369.4 1140.5,1366.4 1141.4,1365.2 1142.3,1367.1 1143.2,1363.4 1143.8,1363.7 1144.1,1363.7 1145,1362.5 1145.9,1362.7 1146.8,1361.3 1147.7,1360.6 1148.1,1359.4 1148.6,1357.9 1149.5,1357.6 1150.4,1354.1 1151.3,1355.1 1152.2,1354.8 1152.4,1353 1153.1,1353.4 1154,1353.1 1154.9,1354 1155.8,1351.7 1156.7,1353 1156.7,1353 1157.6,1352.5 1158.5,1353.4 1159.4,1354.7 1160.3,1354.7 1161,1355.1 1161.2,1355.4 1162.1,1354 1163,1353.2 1163.9,1351.1 1164.8,1350.3 1165.3,1350.8 1165.7,1349.6 1166.6,1348 1167.5,1348 1168.4,1348 1169.3,1348.3 1169.6,1346.5 1170.2,1346.5 1171.1,1347.3 1172,1347.7 1172.9,1347.8 1173.8,1348.7 1173.9,1348.7 1174.7,1349.2 1175.6,1349.3 1176.5,1350 1177.4,1350.6 1178.2,1350.8 1178.3,1351 1179.2,1349.1 1180.1,1348.6 1181,1347.9 1181.4,1346.5 1181.9,1345.9 1182.8,1346.1 1182.9,1344.4"/>
<path d="M1056.7 1623.7V1229.3" stroke="#000" stroke-width="2.3" stroke-dasharray="39.3 23.2" fill="none"/>
<path d="M1119.8 1623.7V1229.3" stroke="#000" stroke-width="2.3" stroke-dasharray="39.3 23.2" fill="none"/>
<path d="M1044.1 1623.7v-5.5M1044.1 1229.3v5.5M1094.6 1623.7v-5.5M1094.6 1229.3v5.5M1145 1623.7v-5.5M1145 1229.3v5.5M993.6 1265.2h5.5M1182.9 1265.2h-5.5M993.6 1301h5.5M1182.9 1301h-5.5M993.6 1336.9h5.5M1182.9 1336.9h-5.5M993.6 1372.7h5.5M1182.9 1372.7h-5.5M993.6 1408.6h5.5M1182.9 1408.6h-5.5M993.6 1444.4h5.5M1182.9 1444.4h-5.5M993.6 1480.3h5.5M1182.9 1480.3h-5.5M993.6 1516.1h5.5M1182.9 1516.1h-5.5M993.6 1552h5.5M1182.9 1552h-5.5M993.6 1587.8h5.5M1182.9 1587.8h-5.5M993.6 1623.7h5.5M1182.9 1623.7h-5.5" stroke="#262626" stroke-width="2" fill="none"/>
<rect x="993.6" y="1229.3" width="189.3" height="394.4" fill="none" stroke="#262626" stroke-width="2.4"/>
<polyline clip-path="url(#c25)" fill="none" stroke="#0072BD" stroke-width="3.3" stroke-linejoin="round" points="1209.5,1391.7 1210.2,1399.1 1211,1402 1211.8,1400.7 1212.7,1408.2 1212.7,1406.7 1213.5,1407.5 1214.2,1412 1215,1408 1215.8,1401.4 1215.9,1406.7 1216.7,1401.2 1217.5,1401.4 1218.2,1393.6 1219,1394.6 1219.1,1391.7 1219.8,1396 1220.7,1405.8 1221.5,1405.4 1222.2,1410.3 1222.3,1411 1223,1416.6 1223.8,1416.9 1224.7,1419.7 1225.5,1419.4 1225.6,1419.6 1226.2,1416.8 1227,1414 1227.8,1410.7 1228.7,1408.9 1228.8,1411 1229.5,1414 1230.2,1417.1 1231,1421 1231.8,1425.1 1232,1428.2 1232.7,1424.1 1233.5,1426.3 1234.2,1425.7 1235,1429.1 1235.2,1426.1 1235.8,1427.2 1236.7,1430.5 1237.5,1439.2 1238.2,1438.4 1238.5,1439 1239,1443 1239.8,1449.8 1240.7,1452.8 1241.5,1462.4 1241.7,1464.7 1242.2,1458 1243,1450.7 1243.8,1443.3 1243.8,1443.9 1244.7,1442.1 1245.5,1444.7 1246.2,1448.5 1247,1449.4 1247.1,1449.7 1247.8,1449.9 1248.7,1452.8 1249.5,1456.3 1250.2,1456.3 1250.3,1454 1251,1453.5 1251.8,1455.7 1252.7,1457.5 1253.5,1464.5 1253.5,1460.5 1254.2,1461.7 1255,1468.3 1255.8,1472 1256.7,1478.7 1256.7,1477.7 1257.5,1483.2 1258.2,1480.6 1259,1487.3 1259.8,1485.5 1260,1488.4 1260.7,1488.6 1261.5,1488.4 1262.2,1491.3 1263,1493.4 1263.2,1492.7 1263.8,1492.4 1264.7,1503.2 1265.5,1502.8 1266.2,1505.2 1266.4,1503.4 1267,1511.7 1267.8,1516.7 1268.6,1524.9 1268.7,1526.2 1269.5,1536.5 1270.2,1552.1 1270.7,1557.1 1271,1559.9 1271.8,1567.9 1271.8,1566.4 1272.7,1544.5 1273.5,1526 1273.5,1524.8 1274.2,1495.4 1275,1460.5 1275,1461 1275.8,1446.5 1276.7,1434.3 1277.2,1428.2 1279.3,1417.2 1279.6,1398.1 1279.9,1408.7 1280.2,1394.1 1280.5,1405.3 1280.8,1386.9 1281.1,1400.7 1281.4,1382.3 1281.7,1400.8 1282,1381 1282.3,1397.4 1282.5,1374.5 1282.7,1396 1282.6,1378.8 1282.9,1388.9 1283.2,1378.3 1283.5,1384.7 1283.8,1369.3 1284.1,1384.6 1284.4,1362.1 1284.7,1379.5 1285,1364.9 1285.3,1390.5 1285.6,1357.5 1285.8,1353 1285.9,1385.2 1285.9,1373 1286.2,1352.5 1286.5,1382.1 1286.8,1356.6 1287.1,1367.7 1287.4,1339 1287.7,1370.4 1288,1337.1 1288.3,1362.9 1288.6,1335.9 1288.9,1371.8 1289,1325 1289.1,1374.5 1289.2,1335.7 1289.5,1366.6 1289.8,1333.1 1290.1,1361.4 1290.4,1343.4 1290.7,1378 1291,1338.6 1291.3,1369.4 1291.6,1344.1 1291.9,1373.4 1292.2,1344.4 1292.4,1380.9 1292.2,1353.1 1292.5,1371 1292.8,1345.1 1293.1,1384.5 1293.4,1347.8 1293.7,1371.3 1294,1339.8 1294.3,1378.3 1294.6,1349 1294.9,1383.2 1295.2,1345.3 1295.4,1335.8 1295.6,1387.4 1295.5,1393.3 1295.8,1343.1 1296.1,1385.7 1296.4,1353.2 1296.7,1383.9 1297,1359.6 1297.3,1388.7 1297.6,1345 1297.9,1391.8 1298.2,1355.7 1298.5,1388.1 1298.7,1348.7 1298.8,1393.8 1298.8,1350.5 1299.1,1389.2 1299.4,1347 1299.7,1380.9 1300,1349.1 1300.3,1383.7 1300.6,1345 1300.9,1381.4 1301.2,1340.1 1301.5,1374.9 1301.8,1339.5 1301.9,1335.8 1302,1378.8 1302.1,1368.6 1302.4,1347 1302.7,1386.5 1303,1336.6 1303.3,1379.6 1303.6,1344 1303.9,1383.7 1304.2,1342.6 1304.5,1382.7 1304.8,1331.4 1305.1,1327.2 1305.3,1389.5 1305.1,1379.6 1305.4,1343.2 1305.7,1379.9 1306,1340.1 1306.3,1371.1 1306.6,1329.5 1306.9,1386.7 1307.2,1350.7 1307.5,1386.5 1307.8,1351.1 1308.1,1374.8 1308.3,1331.5 1308.5,1393.8 1308.4,1352.4 1308.7,1374.9 1309,1337.6 1309.3,1375 1309.6,1339 1309.9,1390 1310.2,1342.7 1310.5,1387.7 1310.8,1349.4 1311.1,1400 1311.4,1342.5 1311.6,1344.4 1311.7,1402.4 1311.7,1406.7 1312,1345.8 1312.3,1398.7 1312.6,1354.2 1312.9,1382.6 1313.2,1362.1 1313.5,1399.9 1313.8,1363.1 1314.1,1386.7 1314.4,1359.9 1314.7,1390.3 1314.8,1348.7 1314.9,1393.8 1315,1350.6 1315.3,1380.1 1315.6,1354 1315.9,1389.5 1316.2,1360.4 1316.5,1382.3 1316.8,1353.5 1317.1,1388.6 1317.4,1363.8 1317.7,1395.1 1318,1363.3 1318.3,1389.3 1318.6,1353.8 1318.9,1386.6 1319.1,1353 1319.2,1396 1319.2,1353.3 1319.5,1393.6 1319.8,1368.6 1320.1,1392 1320.4,1356.6 1320.7,1399.4 1321,1365.9 1321.3,1401.3 1321.6,1365.6 1321.9,1403.9 1322.2,1366.3 1322.5,1397.3 1322.8,1362.5 1323.1,1411.3 1323.4,1353 1323.5,1417.5 1323.4,1358.9 1323.7,1414.9 1324,1373.1 1324.3,1406.9 1324.6,1371 1324.9,1416.2 1325.2,1368 1325.5,1426.7 1325.8,1374.8 1326.1,1421 1326.4,1395.7 1326.6,1374.5 1326.8,1439 1326.7,1426 1327,1380.4 1327.3,1438.1 1327.6,1389.3 1327.9,1436.7 1328.2,1405.8 1328.5,1441.8 1328.8,1410.3 1329.1,1431.6 1329.4,1417.4 1329.7,1445.3 1329.8,1406.7 1330,1449.7 1330,1420.2 1330.3,1440.9 1330.6,1416.1 1330.9,1453.1 1331.2,1417.8 1331.5,1454.6 1331.8,1421.9 1332.1,1453.7 1332.4,1431.2 1332.7,1456 1333,1430.6 1334.6,1503.5 1335.4,1516.3 1336.2,1528 1336.7,1535.7 1337,1536.6 1337.8,1541 1338.6,1545.2 1338.9,1542.1 1339.4,1534.9 1340.2,1525.5 1341,1519.2 1341.7,1514.2 1341.8,1517.7 1342.6,1510.5 1343.4,1502.6 1344.2,1496.7 1344.9,1492.7 1345,1493.2 1345.8,1489.1 1346.6,1487.4 1347.4,1489.4 1348.1,1482 1348.2,1485.5 1349,1484.3 1349.8,1487.6 1350.6,1490.9 1351.3,1492.7 1351.4,1489.6 1352.2,1485.1 1353,1478.1 1353.5,1471.2 1353.8,1466.8 1354.6,1464.7 1355.4,1455.5 1356.2,1450 1356.7,1449.7 1357,1452.5 1357.8,1455.2 1358.6,1463.8 1359.4,1469.2 1359.5,1471.2 1360.2,1466.9 1361,1458.3 1361.8,1453.2 1362.1,1449.7 1362.6,1449.9 1363.4,1446.4 1364.2,1443.2 1365,1438.9 1365.3,1434.7 1365.8,1433.8 1366.6,1432 1367.4,1431.2 1368.2,1427.1 1368.5,1428.2 1369,1420.9 1369.8,1414.8 1370.6,1408.1 1370.7,1406.7 1371.4,1405.5 1372.2,1399.5 1373,1394.2 1373.8,1394.8 1373.9,1391.7 1374.6,1395.3 1375.4,1398 1376.2,1400.2 1377,1405.1 1377.1,1402.4 1377.8,1398.7 1378.6,1401.2 1379.4,1406.2 1380.2,1402.6 1380.3,1400.3 1381,1401.3 1381.8,1402.9 1382.6,1408.2 1383.4,1413.4 1383.6,1408.9 1384.2,1411.6 1385,1413.3 1385.7,1417.4 1385.8,1419.3 1386.6,1412.1 1387.4,1403.7 1388.2,1396.4 1388.3,1396 1389,1397.4 1389.8,1390.2 1390.6,1387.9 1391.1,1383.1 1391.4,1384 1392.2,1387.8 1393,1387.4 1393.8,1396 1394.3,1396 1394.6,1395.8 1395.4,1402.8 1396.2,1408.8 1396.9,1417.5 1397,1414.6 1397.8,1415.2 1398.6,1411.2 1399,1411"/>
<polyline clip-path="url(#c25)" fill="none" stroke="#808080" stroke-width="2.8" stroke-linejoin="round" points="1209.5,1346.5 1210.4,1346.5 1211.3,1347.2 1212.2,1346.4 1212.7,1347.6 1213.1,1346.7 1214,1347.7 1214.9,1347.4 1215.8,1347.5 1216,1346.5 1216.7,1345.8 1217.6,1346.2 1218.5,1343.1 1219.2,1344.4 1219.4,1345.4 1220.3,1347.5 1221.2,1347.8 1222.1,1351.6 1222.4,1350.8 1223,1351.4 1223.9,1354.1 1224.8,1354.3 1225.6,1355.1 1225.7,1354.6 1226.6,1356.4 1227.5,1356.1 1228.4,1359.3 1228.9,1359.4 1229.3,1357.9 1230.2,1360.3 1231.1,1360.5 1232,1362.7 1232.1,1361.6 1232.9,1358.1 1233.8,1359.2 1234.7,1356.4 1235.3,1355.1 1235.6,1355.1 1236.5,1357 1237.4,1357.2 1238.3,1360.8 1238.5,1359.4 1239.2,1360.6 1240.1,1360.8 1241,1361.1 1241.8,1361.6 1241.9,1361.8 1242.8,1365.3 1243.7,1366 1244.6,1365.9 1245,1368 1245.5,1368.9 1246.4,1370.7 1247.3,1371.2 1248.2,1373.1 1248.2,1372.3 1249.1,1373.2 1250,1373.6 1250.9,1372.7 1251.4,1374.5 1251.8,1376 1252.7,1373.4 1253.6,1376.9 1254.5,1376 1254.7,1376.6 1255.4,1378.6 1256.3,1377.6 1257.2,1378.3 1257.9,1379.8 1258.1,1380.4 1259,1381.1 1259.9,1381 1260.8,1381 1261.1,1380.9 1261.7,1380.8 1262.6,1380.7 1263.5,1381.9 1264.3,1380.9 1264.4,1380.3 1265.3,1380.6 1266.2,1381.8 1267.1,1382.4 1267.6,1382 1268,1382.3 1268.9,1381.1 1269.8,1384 1270.7,1384.4 1270.8,1383.1 1271.6,1382.1 1272.5,1380.1 1272.7,1378.8 1273.6,1357.2 1273.9,1345.3 1274.3,1348 1274.6,1339.2 1275,1340.1 1275.1,1331.5 1275.2,1340.1 1275.3,1332.4 1275.7,1333.8 1276,1323.9 1276.4,1329.2 1276.7,1318.4 1277.1,1320.9 1277.2,1312.1 1277.4,1320.7 1277.4,1312.1 1277.8,1316 1278.1,1308.9 1278.5,1314.5 1278.8,1305.9 1279.2,1310 1279.5,1304 1279.9,1307.3 1280.2,1299.2 1280.5,1297.1 1280.6,1305.7 1280.6,1304.6 1280.9,1298 1281.3,1302.5 1281.6,1295.9 1282,1302 1282.3,1295.6 1282.7,1302.1 1283,1293.8 1283.4,1299.7 1283.7,1292.1 1284.1,1296.4 1284.4,1289.8 1284.8,1288.5 1284.9,1297.1 1284.8,1295.3 1285.1,1289.2 1285.5,1294.6 1285.8,1289.6 1286.2,1295.5 1286.5,1287.2 1286.9,1293.4 1287.2,1285.8 1287.6,1291.7 1287.9,1287 1288.3,1292 1288.6,1285.4 1289,1289.9 1289.1,1284.2 1289.2,1292.8 1289.3,1284.4 1289.7,1291.3 1290,1283.7 1290.4,1289.9 1290.7,1283 1291.1,1290.8 1291.4,1283.7 1291.8,1289.2 1292.1,1283.7 1292.5,1289.1 1292.8,1282.7 1293.2,1286.7 1293.4,1280.3 1293.5,1288.5 1293.5,1281.3 1293.9,1285.5 1294.2,1282.5 1294.6,1285.8 1294.9,1280.3 1295.3,1286.9 1295.6,1281.3 1296,1287.4 1296.3,1280.1 1296.7,1286.5 1297,1281.5 1297.4,1285.2 1297.7,1279.5 1297.8,1287.4 1297.7,1279.8 1298.1,1286.9 1298.4,1281.1 1298.8,1286.9 1299.1,1281.5 1299.5,1286.9 1299.8,1279.5 1300.2,1284.8 1300.5,1279.7 1300.9,1286.6 1301.2,1280.2 1301.6,1285.4 1301.9,1279.1 1302,1278.2 1302.1,1286.3 1302.3,1285.9 1302.6,1279.9 1303,1286.6 1303.3,1279.4 1303.7,1285 1304,1278 1304.4,1283.9 1304.7,1279.3 1305.1,1283.8 1305.4,1279.1 1305.8,1284.7 1306.1,1278.7 1306.3,1277.3 1306.4,1285.3 1306.5,1285.3 1306.8,1278.5 1307.2,1284.6 1307.5,1279.3 1307.9,1284.7 1308.2,1278.6 1308.6,1284.5 1308.9,1280.8 1309.3,1284.9 1309.6,1278.6 1310,1285.5 1310.3,1279.9 1310.6,1279.5 1310.7,1287.4 1310.7,1286.8 1311,1282.2 1311.4,1287 1311.7,1282 1312.1,1288.4 1312.4,1283 1312.8,1286.7 1313.1,1283.7 1313.5,1289.1 1313.8,1281.9 1314.2,1288.7 1314.5,1282.7 1314.9,1282.5 1315,1290.6 1314.9,1289.6 1315.2,1283.3 1315.6,1291.2 1315.9,1285 1316.3,1289.6 1316.6,1283.5 1317,1291.2 1317.3,1285.3 1317.7,1293 1318,1285.7 1318.4,1293.1 1318.7,1288.1 1319.1,1294.7 1319.2,1286.8 1319.3,1294.9 1319.4,1288.8 1319.8,1295.5 1320.1,1290.2 1320.5,1297.1 1320.8,1290 1321.2,1295.6 1321.5,1290.6 1321.9,1298.1 1322.2,1292.1 1322.6,1298.8 1322.9,1292.9 1323.3,1298.2 1323.5,1293.2 1323.6,1301.4 1323.6,1294.3 1324,1300.8 1324.3,1296.1 1324.7,1301.3 1325,1299.2 1325.4,1303.1 1325.7,1298 1326.1,1305.8 1326.4,1301.7 1326.8,1306.8 1327.1,1302.9 1327.5,1308.3 1327.8,1301.8 1327.9,1310 1327.8,1304.1 1328.2,1309.8 1328.5,1304.4 1328.9,1312.8 1329.2,1307.1 1329.6,1313.9 1329.9,1311.4 1330.3,1315.5 1330.6,1312.9 1331,1320.8 1331,1312.6 1331.2,1320.7 1331.3,1314.8 1331.7,1324.9 1332,1320 1332.4,1330.3 1332.7,1326 1333.1,1332.9 1333.2,1327.2 1333.3,1335.8 1333.4,1331 1333.8,1342.1 1334.1,1340.2 1334.5,1350 1336,1365.9 1336.9,1373.6 1337.5,1378.8 1337.8,1380.3 1338.7,1382.7 1339,1383.1 1339.6,1381.3 1340.5,1379.1 1340.7,1378.8 1341.4,1378 1342.3,1377.3 1343.2,1376.2 1343.9,1376.6 1344.1,1375.3 1345,1376.6 1345.9,1376.1 1346.8,1375.5 1347.2,1376.6 1347.7,1375.5 1348.6,1374.4 1349.5,1372.7 1350.4,1372.4 1351.3,1370.6 1351.5,1370.2 1352.2,1370.9 1353.1,1370 1354,1368.6 1354.9,1369.2 1355.8,1368 1355.8,1368.7 1356.7,1368.4 1357.6,1366.1 1358.5,1365.6 1359.4,1364.2 1360.1,1363.7 1360.3,1365.1 1361.2,1363 1362.1,1361.5 1363,1360.8 1363.9,1358.9 1364.4,1359.4 1364.8,1358.1 1365.7,1357.3 1366.6,1355 1367.5,1355 1368.4,1353 1368.7,1353 1369.3,1352.4 1370.2,1353.9 1371.1,1353.6 1372,1353 1372.9,1353.2 1373,1353 1373.8,1353.1 1374.7,1354.4 1375.6,1354.6 1376.5,1354.1 1377.3,1355.1 1377.4,1355.7 1378.3,1354 1379.2,1353.6 1380.1,1351.9 1381,1351.6 1381.6,1350.8 1381.9,1350.2 1382.8,1350.8 1383.7,1349.6 1384.6,1348.9 1385.5,1345.9 1385.9,1346.5 1386.4,1347 1387.3,1347.1 1388.2,1348.5 1389.1,1347.6 1390,1348.1 1390.2,1348.7 1390.9,1349.4 1391.8,1350.6 1392.7,1348.4 1393.6,1351.3 1394.5,1350.8 1395.4,1350.6 1396.3,1348.7 1397.2,1346.4 1397.7,1346.5 1398.1,1346 1399,1343.4 1399.2,1344.4"/>
<path d="M1272.7 1623.7V1229.3" stroke="#000" stroke-width="2.3" stroke-dasharray="39.3 23.2" fill="none"/>
<path d="M1336 1623.7V1229.3" stroke="#000" stroke-width="2.3" stroke-dasharray="39.3 23.2" fill="none"/>
<path d="M1260.1 1623.7v-5.5M1260.1 1229.3v5.5M1310.7 1623.7v-5.5M1310.7 1229.3v5.5M1361.3 1623.7v-5.5M1361.3 1229.3v5.5M1209.5 1265.2h5.5M1399.2 1265.2h-5.5M1209.5 1301h5.5M1399.2 1301h-5.5M1209.5 1336.9h5.5M1399.2 1336.9h-5.5M1209.5 1372.7h5.5M1399.2 1372.7h-5.5M1209.5 1408.6h5.5M1399.2 1408.6h-5.5M1209.5 1444.4h5.5M1399.2 1444.4h-5.5M1209.5 1480.3h5.5M1399.2 1480.3h-5.5M1209.5 1516.1h5.5M1399.2 1516.1h-5.5M1209.5 1552h5.5M1399.2 1552h-5.5M1209.5 1587.8h5.5M1399.2 1587.8h-5.5M1209.5 1623.7h5.5M1399.2 1623.7h-5.5" stroke="#262626" stroke-width="2" fill="none"/>
<rect x="1209.5" y="1229.3" width="189.7" height="394.4" fill="none" stroke="#262626" stroke-width="2.4"/>
<polyline clip-path="url(#c26)" fill="none" stroke="#7E2F8E" stroke-width="3.3" stroke-linejoin="round" points="1424.5,1357.3 1425.2,1367.4 1426,1374.4 1426.6,1378.8 1426.8,1379.9 1427.7,1385.1 1428.5,1392.1 1429.2,1401.6 1429.8,1402.4 1430,1401.6 1430.8,1393.1 1431.7,1394.9 1432.5,1391.5 1433,1387.4 1433.2,1385.7 1434,1386.8 1434.8,1387.5 1435.7,1391 1436.3,1387.4 1436.5,1388.6 1437.2,1386.5 1438,1386.8 1438.8,1379.2 1439.5,1378.8 1439.7,1380.2 1440.5,1384 1441.2,1385.2 1442,1388.6 1442.7,1391.7 1442.8,1392.6 1443.7,1389.4 1444.5,1390 1445.2,1391.2 1445.9,1387.4 1446,1390.4 1446.8,1387.1 1447.7,1391.1 1448.5,1390.1 1449.2,1391.7 1449.2,1394.9 1450,1386.4 1450.8,1384.8 1451.7,1382.8 1452.4,1383.1 1452.5,1382.6 1453.2,1382.2 1454,1379.2 1454.8,1379.9 1455.6,1383.1 1455.7,1385.7 1456.5,1378.7 1457.2,1383.5 1458,1382.3 1458.8,1380.9 1458.8,1382.7 1459.7,1385.7 1460.5,1399.8 1461,1400.2 1461.2,1403.6 1462,1410 1462.8,1422.1 1463.7,1434.8 1464.2,1438.9 1464.5,1435.4 1465.2,1432.4 1466,1424.1 1466.8,1417.2 1467.4,1413.2 1467.7,1414.8 1468.5,1408.5 1469.2,1402.2 1469.6,1402.4 1470,1406.1 1470.8,1413.4 1471.7,1422.8 1471.7,1423.9 1472.5,1422.9 1473.2,1416.4 1474,1412.7 1474.3,1413.2 1474.8,1406.7 1475.7,1401 1476.5,1394 1477.1,1391.7 1477.2,1391.2 1478,1405.8 1478.8,1412 1479.3,1417.4 1479.7,1422.9 1480.5,1419.3 1481.2,1424.1 1482,1424.2 1482.5,1423.9 1482.8,1420.9 1483.7,1426.9 1484.5,1436.2 1485.1,1434.7 1485.2,1437.2 1486,1441.5 1486.8,1445.3 1486.8,1443.3 1487.7,1421.9 1488.5,1399 1488.5,1396 1491.1,1350.2 1491.4,1321.4 1491.7,1340.1 1492,1326.1 1492.3,1343.2 1492.6,1313.8 1492.9,1334.7 1493.2,1313.4 1493.5,1340.2 1493.8,1317.4 1494.1,1333.6 1494.3,1305.7 1494.5,1335.8 1494.4,1310 1494.7,1332.1 1495,1305.1 1495.3,1325.6 1495.6,1310.2 1495.9,1329.5 1496.2,1305.4 1496.5,1328.2 1496.8,1302.4 1497.1,1317.6 1497.4,1300.6 1497.5,1297.1 1497.7,1325 1497.7,1317.7 1498,1300.9 1498.3,1316.5 1498.6,1296.8 1498.9,1315.8 1499.2,1284.7 1499.5,1309 1499.7,1279.9 1499.8,1322.9 1499.8,1279.6 1500.1,1310.1 1500.4,1285.7 1500.7,1314 1501,1286.2 1501.3,1322.2 1501.6,1299.3 1501.9,1314.7 1502.2,1295.5 1502.5,1312 1502.8,1302.5 1502.9,1294.9 1503.1,1318.6 1503.1,1312 1503.4,1297.4 1503.7,1316.8 1504,1294.6 1504.3,1319.6 1504.6,1296.6 1504.9,1319.2 1505.2,1296.6 1505.5,1320.3 1505.8,1295.6 1506.1,1317.8 1506.1,1292.8 1506.3,1322.9 1506.4,1299.7 1506.7,1322.5 1507,1296.1 1507.3,1323.1 1507.6,1293.8 1507.9,1327.2 1508.2,1288.4 1508.5,1328.9 1508.8,1289.7 1509.1,1329.7 1509.4,1284.2 1509.5,1333.6 1509.4,1290.2 1509.7,1319.5 1510,1279.3 1510.3,1328.3 1510.6,1285.4 1510.9,1317.9 1511.2,1286.1 1511.5,1320.1 1511.8,1294.2 1512.1,1319.5 1512.4,1287.3 1512.6,1286.3 1512.7,1325 1512.7,1321.9 1513,1292.4 1513.3,1314.7 1513.6,1282.5 1513.9,1318.4 1514.2,1286 1514.5,1313.8 1514.8,1284.7 1515.1,1310.7 1515.4,1287.4 1515.7,1319.7 1516,1287.8 1516.3,1319.5 1516.6,1285.2 1516.9,1284.2 1517,1320.7 1516.9,1320.4 1517.2,1288.3 1517.5,1319.6 1517.8,1289.9 1518.1,1310.4 1518.4,1290.4 1518.7,1321.4 1519,1296.3 1519.3,1322.1 1519.6,1289.9 1519.9,1312.3 1520.2,1293.8 1520.5,1316.8 1520.8,1283.9 1521.1,1314.3 1521.2,1282 1521.3,1325 1521.4,1291.1 1521.7,1325 1522,1291.6 1522.3,1322.4 1522.6,1288.2 1522.9,1320.5 1523.2,1284.2 1523.5,1331.3 1523.8,1297.9 1524.1,1322.6 1524.4,1296.4 1524.7,1317.3 1525,1283.8 1525.3,1313.8 1525.5,1284.2 1525.6,1327.2 1525.6,1295.7 1525.9,1323.5 1526.2,1295.4 1526.5,1321.3 1526.8,1288.1 1527.1,1321.3 1527.4,1280.8 1527.7,1323.3 1528,1277 1528.3,1312.4 1528.6,1282.2 1528.9,1314.4 1529.2,1291.6 1529.5,1314.8 1529.8,1271.3 1529.9,1331.5 1529.8,1277.2 1530.1,1322.4 1530.4,1277 1530.7,1320.8 1531,1282.2 1531.3,1320.7 1531.6,1280.2 1531.9,1326.1 1532.2,1283.1 1532.5,1323.5 1532.8,1296.9 1533.1,1334.8 1533.4,1292 1533.7,1339 1534,1302.3 1534.1,1288.5 1534.2,1337.9 1534.3,1334.7 1534.6,1293.2 1534.9,1333.5 1535.2,1291.2 1535.5,1326.7 1535.8,1294.7 1536.1,1340.9 1536.4,1309.3 1536.7,1345.8 1537,1303.8 1537.3,1335.2 1537.6,1300.5 1537.9,1341.5 1538.2,1301.4 1538.4,1297.1 1538.5,1344.4 1538.5,1343.8 1538.8,1303.3 1539.1,1330 1539.4,1312.1 1539.7,1343.1 1540,1302 1540.3,1332.8 1540.6,1306.5 1540.9,1344.5 1541.2,1305.3 1541.5,1347.3 1541.8,1319.9 1542.1,1338.1 1542.4,1319.4 1542.7,1305.7 1542.8,1348.7 1542.7,1339.5 1543,1313.8 1543.3,1344.7 1543.6,1317.9 1543.9,1345.7 1544.2,1308.4 1544.5,1352.4 1544.8,1319 1545.1,1341.9 1545.4,1323.3 1545.7,1348.6 1546,1318.4 1546.3,1347.8 1546.6,1321.6 1546.9,1346.3 1547,1320.7 1547.1,1353 1547.2,1330 1547.5,1354.4 1547.8,1329.4 1548.1,1354 1548.4,1332.9 1548.7,1365.5 1549,1347.2 1550.8,1391.7 1551.7,1401.5 1552.5,1408.7 1553,1417.4 1553.2,1415.3 1554,1413.3 1554.8,1411.6 1555.6,1406.7 1555.7,1407.5 1556.5,1399.8 1557.2,1399.3 1558,1399.4 1558.8,1393.8 1558.8,1396.6 1559.7,1397.1 1560.5,1396.8 1561.2,1399 1562,1402.4 1562,1401.1 1562.8,1405.5 1563.7,1402.4 1564.5,1399.6 1565.2,1400.3 1566,1406.6 1566.8,1402.9 1567.7,1407.6 1568.5,1406.1 1568.5,1404.6 1569.2,1402.5 1570,1399.2 1570.8,1393.4 1571.7,1389.1 1571.7,1391.7 1572.5,1395.8 1573.2,1396.3 1574,1399.2 1574.8,1400.3 1574.9,1402.4 1575.7,1404.6 1576.5,1403.2 1577.2,1408.4 1578,1409.2 1578.2,1408.8 1578.8,1402.5 1579.7,1395.2 1580.5,1387.9 1581.2,1384.5 1581.4,1383.1 1582,1381.3 1582.8,1375.5 1583.7,1374.5 1584,1370.2 1584.5,1371.3 1585.2,1377.8 1586,1388.6 1586.7,1389.5 1586.8,1385.2 1587.7,1391.7 1588.5,1401.9 1588.9,1402.4 1589.2,1398.3 1590,1394.4 1590.8,1388.9 1591.7,1378.7 1591.7,1378.8 1592.5,1380.9 1593.2,1372.7 1594,1377 1594.3,1374.5 1594.8,1378.9 1595.7,1386.3 1596.5,1392.5 1596.8,1396 1597.2,1391.2 1598,1388 1598.8,1383.7 1599.6,1374.5 1599.7,1379.2 1600.5,1369.3 1601.2,1370.9 1602,1365.3 1602.8,1359 1602.9,1359.4 1603.7,1363.3 1604.5,1368.4 1605.2,1374.5 1606,1373.3 1606.1,1374.5 1606.8,1377.1 1607.7,1383.6 1608.5,1386.3 1608.9,1389.5 1609.2,1387.8 1610,1382.3 1610.8,1378 1611.5,1374.4 1611.7,1372.1 1612.5,1372.6 1613.2,1366.2 1614,1357.3"/>
<polyline clip-path="url(#c26)" fill="none" stroke="#808080" stroke-width="2.8" stroke-linejoin="round" points="1425.4,1346.5 1426.3,1346.8 1427.2,1346.4 1428.1,1347.3 1428.6,1347.6 1429,1347.9 1429.9,1347.3 1430.8,1345.8 1431.7,1346.5 1431.8,1346.5 1432.6,1344.9 1433.5,1346 1434.4,1344.3 1435,1344.4 1435.3,1346.4 1436.2,1346.8 1437.1,1347.7 1438,1352.1 1438.2,1350.8 1438.9,1351.2 1439.8,1354.2 1440.7,1353.1 1441.4,1355.1 1441.6,1355.1 1442.5,1355.2 1443.4,1359.5 1444.3,1360.9 1444.6,1359.4 1445.2,1361.3 1446.1,1360.9 1447,1362.6 1447.8,1361.6 1447.9,1361.4 1448.8,1359.3 1449.7,1357.4 1450.6,1356 1451,1355.1 1451.5,1355.2 1452.4,1356.4 1453.3,1359.3 1454.2,1359.4 1454.2,1359.3 1455.1,1359.3 1456,1359.5 1456.9,1361.8 1457.4,1361.6 1457.8,1363.2 1458.7,1364.2 1459.6,1366.8 1460.5,1368.4 1460.6,1368 1461.4,1368.1 1462.3,1369.9 1463.2,1371.9 1463.8,1372.3 1464.1,1372.7 1465,1372 1465.9,1374 1466.8,1373.9 1467,1374.5 1467.7,1374.7 1468.6,1375.1 1469.5,1376.5 1470.2,1376.6 1470.4,1376.3 1471.3,1378.4 1472.2,1379.2 1473.1,1378.7 1473.4,1379.8 1474,1379.2 1474.9,1380.3 1475.8,1381 1476.6,1380.9 1476.7,1382.2 1477.6,1381.3 1478.5,1381.8 1479.4,1381.9 1479.8,1380.9 1480.3,1379.7 1481.2,1380.7 1482.1,1380.8 1483,1382 1483,1383.5 1483.9,1383.4 1484.8,1381.6 1485.7,1383.4 1486.2,1383.1 1486.6,1381.5 1487.5,1380.6 1488.1,1378.8 1488.9,1357.1 1489.3,1345.4 1489.6,1349.1 1490,1337.4 1490.3,1339.2 1490.4,1331.5 1490.6,1340.1 1490.7,1329.5 1491,1332.9 1491.4,1323.3 1491.7,1328 1492.1,1318.1 1492.4,1319.8 1492.5,1312.1 1492.7,1320.7 1492.8,1313 1493.1,1317 1493.5,1310.5 1493.8,1314.2 1494.2,1306.6 1494.5,1309.5 1494.9,1301.5 1495.2,1307.9 1495.6,1299.8 1495.7,1297.1 1495.9,1305.7 1495.9,1305.9 1496.3,1296.9 1496.6,1303.2 1497,1295.7 1497.3,1300.6 1497.7,1294 1498,1298.6 1498.4,1292.5 1498.7,1299.1 1499.1,1293.2 1499.4,1297.7 1499.8,1291.1 1500,1288.5 1500.2,1297.1 1500.1,1295.5 1500.5,1289.7 1500.8,1294 1501.2,1287.7 1501.5,1292.8 1501.9,1286.8 1502.2,1292.8 1502.6,1287.3 1502.9,1292.1 1503.3,1288 1503.6,1293.2 1504,1285.1 1504.3,1284.2 1504.4,1292.8 1504.3,1291.1 1504.7,1285.7 1505,1290.6 1505.4,1284.2 1505.7,1290.8 1506.1,1284.2 1506.4,1289.1 1506.8,1282.4 1507.1,1289.7 1507.5,1282.5 1507.8,1288.8 1508.2,1281.2 1508.5,1288 1508.5,1280.3 1508.7,1288.5 1508.9,1281.7 1509.2,1287.4 1509.6,1282.5 1509.9,1286.9 1510.3,1280.3 1510.6,1287.2 1511,1279.1 1511.3,1287.1 1511.7,1279.9 1512,1286.2 1512.4,1281.8 1512.7,1286.8 1512.8,1279.5 1512.9,1287.4 1513.1,1280.1 1513.4,1286.1 1513.8,1280.6 1514.1,1286.2 1514.5,1278.3 1514.8,1284.7 1515.2,1279.9 1515.5,1285 1515.9,1279.1 1516.2,1286.4 1516.6,1280.6 1516.9,1285.5 1517.1,1278.2 1517.2,1286.3 1517.3,1280.4 1517.6,1286.2 1518,1279.8 1518.3,1285.9 1518.7,1278.5 1519,1284.7 1519.4,1278.1 1519.7,1284.3 1520.1,1278.5 1520.4,1284.9 1520.8,1280.1 1521.1,1282.9 1521.3,1277.3 1521.5,1285.3 1521.5,1277.7 1521.8,1284.5 1522.2,1277.8 1522.5,1285.3 1522.9,1278.3 1523.2,1284.2 1523.6,1280 1523.9,1285.8 1524.3,1279.1 1524.6,1285.1 1525,1279.6 1525.3,1285.1 1525.6,1279.5 1525.7,1287.4 1525.7,1280.3 1526,1286.8 1526.4,1280.3 1526.7,1287.8 1527.1,1281.1 1527.4,1288.5 1527.8,1282 1528.1,1287 1528.5,1282.6 1528.8,1289.2 1529.2,1282.1 1529.5,1289.7 1529.8,1282.5 1530,1290.6 1529.9,1283.6 1530.2,1290.8 1530.6,1284.9 1530.9,1289.7 1531.3,1284 1531.6,1290.9 1532,1287.6 1532.3,1291.9 1532.7,1285.9 1533,1293.3 1533.4,1286.9 1533.7,1293.7 1534.1,1287.3 1534.1,1286.8 1534.3,1294.9 1534.4,1294.5 1534.8,1287.9 1535.1,1295.6 1535.5,1290.4 1535.8,1296.5 1536.2,1290.7 1536.5,1298.2 1536.9,1290.4 1537.2,1299.3 1537.6,1294.4 1537.9,1299.5 1538.3,1293.3 1538.4,1293.2 1538.5,1301.4 1538.6,1301.6 1539,1295.4 1539.3,1302.7 1539.7,1297.6 1540,1305.5 1540.4,1299.5 1540.7,1304.9 1541.1,1299.4 1541.4,1307.3 1541.8,1301.7 1542.1,1307.3 1542.5,1303.2 1542.6,1301.8 1542.8,1310 1542.8,1309.7 1543.2,1304.9 1543.5,1311.8 1543.9,1307.7 1544.2,1314.8 1544.6,1309.6 1544.9,1318.2 1545.3,1313.5 1545.6,1319.8 1545.8,1312.6 1546,1320.7 1546,1315.2 1546.3,1323.5 1546.7,1318.5 1547,1327.7 1547.4,1323.6 1547.7,1331.4 1548,1327.2 1548.1,1335.8 1548.1,1329.8 1548.4,1341 1548.8,1337.1 1549.1,1349.2 1550.7,1365.9 1551.6,1373.8 1552.2,1378.8 1552.5,1379.1 1553.4,1381.9 1553.7,1383.1 1554.3,1381 1555.2,1378.4 1555.4,1378.8 1556.1,1377.8 1557,1378.2 1557.9,1378.5 1558.6,1376.6 1558.8,1375.9 1559.7,1376.5 1560.6,1376.4 1561.5,1375.8 1561.8,1376.6 1562.4,1374.9 1563.3,1373.2 1564.2,1372.7 1565.1,1371.8 1566,1370.3 1566.1,1370.2 1566.9,1370.3 1567.8,1369.2 1568.7,1368.3 1569.6,1367.8 1570.3,1368 1570.5,1367.4 1571.4,1365.8 1572.3,1366.4 1573.2,1366.4 1574.1,1364 1574.6,1363.7 1575,1363.2 1575.9,1364.3 1576.8,1361.1 1577.7,1360.5 1578.6,1359.1 1578.9,1359.4 1579.5,1359.6 1580.4,1357.7 1581.3,1355 1582.2,1356.2 1583.1,1353 1584,1352.5 1584.9,1352.7 1585.8,1352.4 1586.7,1352.6 1587.4,1353 1587.6,1353.8 1588.5,1353.8 1589.4,1353.7 1590.3,1354.2 1591.2,1354.6 1591.7,1355.1 1592.1,1355.9 1593,1352.1 1593.9,1352.9 1594.8,1350.7 1595.7,1352.9 1595.9,1350.8 1596.6,1349 1597.5,1347.6 1598.4,1348.5 1599.3,1347.5 1600.2,1346.5 1600.2,1345.5 1601.1,1347.4 1602,1348 1602.9,1346.1 1603.8,1347.8 1604.5,1348.7 1604.7,1348.9 1605.6,1349.9 1606.5,1350.8 1607.4,1349.5 1608.3,1350.9 1608.7,1350.8 1609.2,1350.8 1610.1,1349.9 1611,1348.1 1611.9,1346.5 1611.9,1347.2 1612.8,1343.7 1613.4,1344.4"/>
<path d="M1488.1 1623.7V1229.3" stroke="#000" stroke-width="2.3" stroke-dasharray="39.3 23.2" fill="none"/>
<path d="M1550.7 1623.7V1229.3" stroke="#000" stroke-width="2.3" stroke-dasharray="39.3 23.2" fill="none"/>
<path d="M1475.5 1623.7v-5.5M1475.5 1229.3v5.5M1525.7 1623.7v-5.5M1525.7 1229.3v5.5M1575.8 1623.7v-5.5M1575.8 1229.3v5.5M1425.4 1265.2h5.5M1613.4 1265.2h-5.5M1425.4 1301h5.5M1613.4 1301h-5.5M1425.4 1336.9h5.5M1613.4 1336.9h-5.5M1425.4 1372.7h5.5M1613.4 1372.7h-5.5M1425.4 1408.6h5.5M1613.4 1408.6h-5.5M1425.4 1444.4h5.5M1613.4 1444.4h-5.5M1425.4 1480.3h5.5M1613.4 1480.3h-5.5M1425.4 1516.1h5.5M1613.4 1516.1h-5.5M1425.4 1552h5.5M1613.4 1552h-5.5M1425.4 1587.8h5.5M1613.4 1587.8h-5.5M1425.4 1623.7h5.5M1613.4 1623.7h-5.5" stroke="#262626" stroke-width="2" fill="none"/>
<rect x="1425.4" y="1229.3" width="188" height="394.4" fill="none" stroke="#262626" stroke-width="2.4"/>
<polyline clip-path="url(#c27)" fill="none" stroke="#0072BD" stroke-width="3.3" stroke-linejoin="round" points="1638.9,1357.3 1639.7,1363.7 1640.5,1363.7 1641.3,1374.1 1642.1,1370 1642.1,1374.5 1642.9,1376.1 1643.7,1372.9 1644.5,1366.3 1645.3,1365.1 1645.3,1365.9 1646.1,1365.6 1646.9,1361.2 1647.7,1363.6 1648.5,1356.2 1648.6,1357.3 1649.3,1361.2 1650.1,1366.2 1650.9,1374.7 1651.7,1380.6 1651.8,1378.8 1652.5,1384.4 1653.3,1389 1654.1,1399.8 1654.6,1402.4 1654.9,1397 1655.7,1389.3 1656.5,1372.9 1657.3,1361.3 1657.8,1353 1658.1,1354.8 1658.9,1363.1 1659.7,1370.4 1660.4,1374.4 1660.5,1370.9 1661.3,1377.9 1662.1,1374.8 1662.9,1373 1663.6,1378.8 1663.7,1377.2 1664.5,1376.1 1665.3,1373.1 1666.1,1372.3 1666.8,1370.2 1666.9,1371.7 1667.7,1374.4 1668.5,1365.1 1669.3,1365.1 1670.1,1365.9 1670.1,1370.5 1670.9,1367.9 1671.7,1363.3 1672.5,1359.4 1672.9,1355.1 1673.3,1359.4 1674.1,1369.9 1674.9,1374.9 1675.4,1385.2 1675.7,1388.9 1676.5,1396.8 1677.3,1410.4 1678.1,1423.5 1678.2,1423.9 1678.9,1420.6 1679.7,1412.8 1680.5,1404.7 1681.3,1391.9 1681.5,1396 1682.1,1396.3 1682.9,1395.4 1683.7,1395.4 1684,1391.7 1684.5,1394 1685.3,1401.2 1686.1,1405.7 1686.6,1411 1686.9,1408.8 1687.7,1405.5 1688.5,1400.3 1689.3,1394.5 1689.4,1396 1690.1,1393.6 1690.9,1396 1691.7,1386.7 1692.5,1387.9 1692.6,1387.4 1693.3,1381.9 1694.1,1385.3 1694.9,1380.7 1695.7,1383 1695.9,1378.8 1696.5,1372.2 1697.3,1376.1 1698,1374.5 1698.1,1372.6 1698.9,1384 1699.7,1388.6 1700.5,1397.9 1700.8,1402.3 1701.3,1378.9 1702.1,1340.9 1702.3,1331.5 1704.5,1304.9 1704.8,1287.7 1705.1,1302.2 1705.4,1291.7 1705.7,1310.5 1706,1280.4 1706.3,1305 1706.6,1278.5 1706.9,1301.5 1707.2,1281.8 1707.5,1309.5 1707.7,1273.4 1707.8,1312.1 1707.8,1276.3 1708.1,1309.4 1708.4,1276.3 1708.7,1297.4 1709,1280.3 1709.3,1310 1709.6,1280.8 1709.9,1305.9 1710.2,1277.4 1710.5,1308.1 1710.8,1278.8 1710.9,1267 1711.1,1310 1711.1,1310.4 1711.4,1270.1 1711.7,1307.3 1712,1265.7 1712.3,1306.7 1712.6,1267.4 1712.9,1300.5 1713.2,1264.9 1713.5,1297.3 1713.7,1256.2 1713.9,1305.7 1713.8,1267.2 1714.1,1299 1714.4,1259.5 1714.7,1296.5 1715,1263.1 1715.3,1291.9 1715.6,1272.8 1715.9,1299.6 1716.2,1271.6 1716.3,1267 1716.4,1301.4 1716.5,1298.1 1716.8,1266.9 1717.1,1295.3 1717.4,1271.3 1717.7,1297 1718,1267.8 1718.3,1294.7 1718.6,1268.4 1718.9,1298.4 1719.2,1274.9 1719.5,1302.4 1719.8,1265.4 1720.1,1305 1720.4,1265.9 1720.6,1258.4 1720.7,1305.7 1720.7,1298.5 1721,1264.1 1721.3,1295.4 1721.6,1265.7 1721.9,1303.1 1722.2,1263 1722.5,1303.7 1722.8,1264.7 1723.1,1304.3 1723.4,1270 1723.7,1299.9 1724,1259.3 1724.3,1311.2 1724.6,1267.1 1724.9,1298 1724.9,1264.8 1725,1312.1 1725.2,1279.6 1725.5,1310.4 1725.8,1263.5 1726.1,1312.6 1726.4,1272 1726.7,1314.4 1727,1283.7 1727.3,1305.2 1727.6,1272.8 1727.9,1305.6 1728.2,1274.8 1728.5,1322 1728.8,1282.9 1729.1,1323.2 1729.2,1273.4 1729.3,1329.3 1729.4,1276.9 1729.7,1321.6 1730,1282.7 1730.3,1326.8 1730.6,1287.6 1730.9,1320.9 1731.2,1277.1 1731.5,1320.7 1731.8,1273.1 1732.1,1318.3 1732.4,1278 1732.7,1314.2 1733,1287.8 1733.3,1306 1733.5,1271.3 1733.6,1320.7 1733.6,1273.2 1733.9,1318.2 1734.2,1272.8 1734.5,1308.8 1734.8,1275 1735.1,1309.6 1735.4,1278.2 1735.7,1309.1 1736,1279.8 1736.3,1315.5 1736.6,1282 1736.9,1308.8 1737.2,1265.1 1737.5,1314.9 1737.8,1266.1 1737.8,1262.7 1737.9,1318.6 1738.1,1311.5 1738.4,1270.8 1738.7,1313.2 1739,1272.1 1739.3,1313 1739.6,1264.8 1739.9,1317.3 1740.2,1269.9 1740.5,1321.3 1740.8,1267.6 1741.1,1317.4 1741.4,1284.3 1741.7,1313.5 1742,1275 1742.1,1267 1742.2,1322.9 1742.3,1321.8 1742.6,1274.8 1742.9,1306.7 1743.2,1269.8 1743.5,1310.8 1743.8,1272.5 1744.1,1322.8 1744.4,1283.5 1744.7,1312.7 1745,1275.3 1745.3,1317.7 1745.6,1287.4 1745.9,1311.1 1746.2,1281 1746.4,1273.4 1746.5,1325 1746.5,1322.5 1746.8,1280.7 1747.1,1320.2 1747.4,1279 1747.7,1311.7 1748,1268.8 1748.3,1313.8 1748.6,1281.5 1748.9,1326.1 1749.2,1276.6 1749.5,1324.6 1749.8,1293.5 1750.1,1328.5 1750.4,1277.5 1750.7,1319 1750.7,1277.7 1750.8,1331.5 1751,1284.6 1751.3,1317.3 1751.6,1282.1 1751.9,1315.6 1752.2,1283.5 1752.5,1328 1752.8,1301 1753.1,1330.1 1753.4,1287.6 1753.7,1325.9 1754,1288.4 1754.3,1327.6 1754.6,1293 1754.9,1332.9 1755,1288.5 1755.1,1337.9 1755.2,1292.4 1755.5,1324.2 1755.8,1298.4 1756.1,1337.3 1756.4,1303.2 1756.7,1343.4 1757,1292.5 1757.3,1336.7 1757.6,1297.8 1757.9,1352.5 1758.2,1300.1 1758.2,1294.9 1758.4,1348.7 1758.5,1355 1758.8,1312.9 1759.1,1338.7 1759.4,1318.3 1759.7,1351.4 1760,1316.6 1760.3,1358 1760.6,1322.8 1760.9,1346.4 1761.2,1321.3 1764.7,1374.5 1765.5,1382 1766.2,1385 1766.8,1387.4 1767,1387.3 1767.8,1391.5 1768.7,1394.3 1769.5,1390.9 1770,1396 1770.2,1391.2 1771,1394.4 1771.8,1404.6 1772.7,1409.6 1773.2,1408.9 1773.5,1409.7 1774.2,1416.2 1775,1412.7 1775.4,1417.5 1775.8,1415.2 1776.7,1410 1777.5,1407.2 1778.2,1402.5 1778.6,1400.3 1779,1399.9 1779.8,1389.8 1780.7,1393.3 1781.5,1381.4 1781.8,1385.2 1782.2,1384.5 1783,1380.5 1783.8,1384.5 1784.7,1376.7 1785.1,1378.8 1785.5,1377.5 1786.2,1376.8 1787,1378.9 1787.8,1380.3 1788.3,1378.8 1788.7,1380 1789.5,1384.7 1790.2,1391.1 1791,1393.3 1791.1,1396 1791.8,1390.1 1792.7,1381.4 1793.5,1381.2 1793.7,1378.8 1794.2,1375.3 1795,1369.8 1795.8,1367.5 1796.5,1361.6 1796.7,1360.7 1797.5,1349.6 1798.2,1336.6 1798.6,1335.8 1799,1340.8 1799.8,1346.8 1800.7,1353.1 1801.2,1357.2 1801.5,1358.5 1802.2,1362.7 1803,1364.7 1803.8,1371.5 1804,1370.2 1804.7,1372.8 1805.5,1373 1806.2,1372.7 1806.6,1374.5 1807,1376.5 1807.8,1376.1 1808.7,1376.9 1809.5,1377.3 1809.8,1378.8 1810.2,1377.7 1811,1376.4 1811.8,1376.9 1812.7,1372.3 1813,1370.2 1813.5,1369.2 1814.2,1373.7 1815,1373.1 1815.8,1380.8 1816.2,1378.8 1816.7,1382.5 1817.5,1384.8 1818.2,1385.4 1819,1387.6 1819.5,1389.5 1819.8,1390.8 1820.7,1384 1821.5,1380.7 1821.6,1378.8 1822.2,1371 1823,1369.7 1823.8,1360 1824.7,1355.8 1824.8,1353 1825.5,1350.6 1826.2,1348.9 1827,1344.4"/>
<polyline clip-path="url(#c27)" fill="none" stroke="#808080" stroke-width="2.8" stroke-linejoin="round" points="1639.1,1346.5 1640,1345.5 1640.9,1347.6 1641.8,1347.6 1642.3,1347.6 1642.7,1347.8 1643.6,1347.6 1644.5,1346.2 1645.4,1347.3 1645.5,1346.5 1646.3,1346.3 1647.2,1346 1648.1,1343.6 1648.7,1344.4 1649,1345.9 1649.9,1347.3 1650.8,1348 1651.7,1348.5 1651.9,1350.8 1652.6,1352.4 1653.5,1352.8 1654.4,1355.6 1655.1,1355.1 1655.3,1354 1656.2,1356.9 1657.1,1357.1 1658,1358.4 1658.3,1359.4 1658.9,1361.3 1659.8,1358.5 1660.7,1361.2 1661.5,1361.6 1661.6,1361.1 1662.5,1359.1 1663.4,1357.3 1664.3,1355.1 1664.8,1355.1 1665.2,1354.9 1666.1,1357.6 1667,1356.9 1667.9,1359.5 1668,1359.4 1668.8,1358.7 1669.7,1360.6 1670.6,1359.3 1671.2,1361.6 1671.5,1362.3 1672.4,1364.6 1673.3,1366.8 1674.2,1368.6 1674.4,1368 1675.1,1368.9 1676,1370.2 1676.9,1372.1 1677.6,1372.3 1677.8,1372.8 1678.7,1373.4 1679.6,1373.6 1680.5,1374.9 1680.8,1374.5 1681.4,1375.6 1682.3,1375.7 1683.2,1375.5 1684,1376.6 1684.1,1376.8 1685,1375.8 1685.9,1377.6 1686.8,1379.8 1687.2,1379.8 1687.7,1381.5 1688.6,1379.4 1689.5,1380.9 1690.4,1380.9 1690.4,1381.4 1691.3,1381.3 1692.2,1380.7 1693.1,1379.5 1693.6,1380.9 1694,1379.5 1694.9,1381.5 1695.8,1382.9 1696.7,1381.8 1696.8,1382 1697.6,1383.3 1698.5,1383.6 1699.4,1383.8 1700,1383.1 1700.3,1383.3 1701.2,1380.2 1701.9,1378.8 1702.8,1354.7 1703.1,1344.8 1703.5,1349.2 1703.8,1339.5 1704.2,1340.9 1704.3,1331.5 1704.4,1340.1 1704.5,1330.3 1704.9,1332.3 1705.2,1324.6 1705.6,1328 1705.9,1318 1706.3,1321.2 1706.4,1312.1 1706.6,1320.7 1706.6,1312 1707,1315.7 1707.3,1309.6 1707.7,1312.4 1708,1305.6 1708.4,1309.8 1708.7,1304 1709.1,1306.7 1709.4,1298.6 1709.6,1297.1 1709.8,1305.7 1709.8,1302.6 1710.1,1296.5 1710.5,1302.3 1710.8,1295.3 1711.2,1302.5 1711.5,1292.3 1711.9,1301.1 1712.2,1294.3 1712.6,1297.6 1712.9,1290.5 1713.3,1297.5 1713.6,1290.9 1713.9,1288.5 1714.1,1297.1 1714,1296.5 1714.3,1288.1 1714.7,1295.7 1715,1289.4 1715.4,1294.3 1715.7,1289.5 1716.1,1294.8 1716.4,1286.8 1716.8,1293.2 1717.1,1285.6 1717.5,1290.6 1717.8,1284.7 1718.2,1284.2 1718.3,1292.8 1718.2,1290.5 1718.5,1285.3 1718.9,1289.1 1719.2,1284.6 1719.6,1290.6 1719.9,1282 1720.3,1288.3 1720.6,1283.1 1721,1289.7 1721.3,1281.5 1721.7,1288 1722,1282.9 1722.4,1286.9 1722.5,1280.3 1722.6,1288.5 1722.7,1282.5 1723.1,1288.2 1723.4,1280.7 1723.8,1286.5 1724.1,1281.5 1724.5,1286.3 1724.8,1280 1725.2,1286.9 1725.5,1280.4 1725.9,1287.4 1726.2,1278.8 1726.6,1287.4 1726.7,1279.5 1726.9,1287.4 1726.9,1279.8 1727.3,1287 1727.6,1280.4 1728,1285 1728.3,1279.5 1728.7,1286.4 1729,1279.8 1729.4,1284.3 1729.7,1278.7 1730.1,1285 1730.4,1279.2 1730.8,1284.3 1731,1278.2 1731.1,1286.3 1731.1,1279 1731.5,1284.9 1731.8,1279.8 1732.2,1285.1 1732.5,1279.7 1732.9,1285.8 1733.2,1279.4 1733.6,1284.4 1733.9,1278.7 1734.3,1285.2 1734.6,1280 1735,1284.7 1735.3,1277.3 1735.4,1285.3 1735.3,1277.4 1735.7,1282.7 1736,1278.4 1736.4,1283.6 1736.7,1279.4 1737.1,1283.6 1737.4,1280.6 1737.8,1285.5 1738.1,1280 1738.5,1286.2 1738.8,1281.7 1739.2,1285.3 1739.5,1282.4 1739.5,1279.5 1739.7,1287.4 1739.9,1287.6 1740.2,1282.5 1740.6,1287 1740.9,1282.7 1741.3,1288.5 1741.6,1282 1742,1289.2 1742.3,1282.5 1742.7,1287.6 1743,1282.4 1743.4,1288.8 1743.7,1283.9 1743.8,1282.5 1744,1290.6 1744.1,1289.6 1744.4,1283.4 1744.8,1290.2 1745.1,1285.7 1745.5,1291.8 1745.8,1285.1 1746.2,1291.6 1746.5,1285.5 1746.9,1293.4 1747.2,1287.2 1747.6,1293 1747.9,1286.1 1748.1,1286.8 1748.2,1294.9 1748.3,1295 1748.6,1288.2 1749,1296 1749.3,1291.4 1749.7,1296.6 1750,1290.2 1750.4,1298.2 1750.7,1291.1 1751.1,1298.8 1751.4,1292.9 1751.8,1300.1 1752.1,1294.5 1752.4,1293.2 1752.5,1301.4 1752.5,1299.1 1752.8,1294.6 1753.2,1302.4 1753.5,1296.3 1753.9,1302.9 1754.2,1297.6 1754.6,1305.8 1754.9,1298 1755.3,1306.7 1755.6,1300.4 1756,1306 1756.3,1303.9 1756.6,1301.8 1756.8,1310 1756.7,1310 1757,1305.4 1757.4,1312.3 1757.7,1306.5 1758.1,1312.8 1758.4,1308.6 1758.8,1317 1759.1,1310.7 1759.5,1319.2 1759.8,1314.1 1759.9,1312.6 1760,1320.7 1760.2,1321.8 1760.5,1316.6 1760.9,1326.3 1761.2,1323.8 1761.6,1332.1 1761.9,1327.6 1762,1327.2 1762.1,1335.8 1762.3,1338.3 1762.6,1334.9 1763,1346.6 1763.3,1345.6 1764.8,1365.9 1765.7,1373.8 1766.3,1378.7 1766.6,1378.5 1767.5,1382.6 1767.8,1383.1 1768.4,1382 1769.3,1379.1 1769.5,1378.8 1770.2,1377.8 1771.1,1378.2 1772,1378.3 1772.7,1376.6 1772.9,1377.5 1773.8,1375 1774.7,1376.7 1775.6,1376.6 1775.9,1376.6 1776.5,1375.1 1777.4,1374.5 1778.3,1373.3 1779.2,1371.2 1780.1,1371 1780.2,1370.2 1781,1369.3 1781.9,1370.4 1782.8,1368.1 1783.7,1369.5 1784.4,1368 1784.6,1368.7 1785.5,1367.4 1786.4,1367.1 1787.3,1366.2 1788.2,1364.1 1788.7,1363.7 1789.1,1362.7 1790,1363.2 1790.9,1362.1 1791.8,1359.8 1792.7,1359.5 1793,1359.4 1793.6,1358.6 1794.5,1357.7 1795.4,1355.1 1796.3,1353.5 1797.2,1351.9 1797.2,1353 1798.1,1352 1799,1352.9 1799.9,1352 1800.8,1352.9 1801.5,1353 1801.7,1352.1 1802.6,1352.8 1803.5,1352.8 1804.4,1354.4 1805.3,1355.7 1805.8,1355.1 1806.2,1355 1807.1,1354 1808,1352.8 1808.9,1352.1 1809.8,1351.7 1810.1,1350.8 1810.7,1349.4 1811.6,1348 1812.5,1346.5 1813.4,1347.3 1814.3,1345.5 1814.3,1346.5 1815.2,1345.4 1816.1,1345.8 1817,1347.3 1817.9,1349.2 1818.6,1348.7 1818.8,1349.9 1819.7,1348.9 1820.6,1348.8 1821.5,1349.2 1822.4,1350.8 1822.9,1350.8 1823.3,1350.1 1824.2,1349.3 1825.1,1348.5 1826,1346 1826.1,1346.5 1826.9,1345.5 1827.6,1344.4"/>
<path d="M1701.9 1623.7V1229.3" stroke="#000" stroke-width="2.3" stroke-dasharray="39.3 23.2" fill="none"/>
<path d="M1764.8 1623.7V1229.3" stroke="#000" stroke-width="2.3" stroke-dasharray="39.3 23.2" fill="none"/>
<path d="M1689.4 1623.7v-5.5M1689.4 1229.3v5.5M1739.6 1623.7v-5.5M1739.6 1229.3v5.5M1789.9 1623.7v-5.5M1789.9 1229.3v5.5M1639.1 1265.2h5.5M1827.6 1265.2h-5.5M1639.1 1301h5.5M1827.6 1301h-5.5M1639.1 1336.9h5.5M1827.6 1336.9h-5.5M1639.1 1372.7h5.5M1827.6 1372.7h-5.5M1639.1 1408.6h5.5M1827.6 1408.6h-5.5M1639.1 1444.4h5.5M1827.6 1444.4h-5.5M1639.1 1480.3h5.5M1827.6 1480.3h-5.5M1639.1 1516.1h5.5M1827.6 1516.1h-5.5M1639.1 1552h5.5M1827.6 1552h-5.5M1639.1 1587.8h5.5M1827.6 1587.8h-5.5M1639.1 1623.7h5.5M1827.6 1623.7h-5.5" stroke="#262626" stroke-width="2" fill="none"/>
<rect x="1639.1" y="1229.3" width="188.5" height="394.4" fill="none" stroke="#262626" stroke-width="2.4"/>
<text transform="translate(134.9 1630) rotate(90) scale(0.945 1)" font-size="32.8" fill="#000">-2500</text>
<text transform="translate(301.5 1629.5) rotate(90) scale(0.945 1)" font-size="32.8" fill="#000">+2500</text>
<text x="181.8" y="1653.3" font-size="31" fill="#000">tss</text>
<text x="251.7" y="1653.3" font-size="31" fill="#000">tts</text>
<text transform="translate(348.7 1630) rotate(90) scale(0.945 1)" font-size="32.8" fill="#000">-2500</text>
<text transform="translate(515.3 1629.5) rotate(90) scale(0.945 1)" font-size="32.8" fill="#000">+2500</text>
<text x="395.6" y="1653.3" font-size="31" fill="#000">tss</text>
<text x="465.5" y="1653.3" font-size="31" fill="#000">tts</text>
<text transform="translate(564.1 1630) rotate(90) scale(0.945 1)" font-size="32.8" fill="#000">-2500</text>
<text transform="translate(730.7 1629.5) rotate(90) scale(0.945 1)" font-size="32.8" fill="#000">+2500</text>
<text x="611" y="1653.3" font-size="31" fill="#000">tss</text>
<text x="680.9" y="1653.3" font-size="31" fill="#000">tts</text>
<text transform="translate(775.6 1630) rotate(90) scale(0.945 1)" font-size="32.8" fill="#000">-2500</text>
<text transform="translate(942.2 1629.5) rotate(90) scale(0.945 1)" font-size="32.8" fill="#000">+2500</text>
<text x="822.5" y="1653.3" font-size="31" fill="#000">tss</text>
<text x="892.4" y="1653.3" font-size="31" fill="#000">tts</text>
<text transform="translate(992.3 1630) rotate(90) scale(0.945 1)" font-size="32.8" fill="#000">-2500</text>
<text transform="translate(1158.9 1629.5) rotate(90) scale(0.945 1)" font-size="32.8" fill="#000">+2500</text>
<text x="1039.2" y="1653.3" font-size="31" fill="#000">tss</text>
<text x="1109.1" y="1653.3" font-size="31" fill="#000">tts</text>
<text transform="translate(1208.2 1630) rotate(90) scale(0.945 1)" font-size="32.8" fill="#000">-2500</text>
<text transform="translate(1374.8 1629.5) rotate(90) scale(0.945 1)" font-size="32.8" fill="#000">+2500</text>
<text x="1255.1" y="1653.3" font-size="31" fill="#000">tss</text>
<text x="1325" y="1653.3" font-size="31" fill="#000">tts</text>
<text transform="translate(1424.1 1630) rotate(90) scale(0.945 1)" font-size="32.8" fill="#000">-2500</text>
<text transform="translate(1590.7 1629.5) rotate(90) scale(0.945 1)" font-size="32.8" fill="#000">+2500</text>
<text x="1471" y="1653.3" font-size="31" fill="#000">tss</text>
<text x="1540.9" y="1653.3" font-size="31" fill="#000">tts</text>
<text transform="translate(1637.8 1630) rotate(90) scale(0.945 1)" font-size="32.8" fill="#000">-2500</text>
<text transform="translate(1804.4 1629.5) rotate(90) scale(0.945 1)" font-size="32.8" fill="#000">+2500</text>
<text x="1684.7" y="1653.3" font-size="31" fill="#000">tss</text>
<text x="1754.6" y="1653.3" font-size="31" fill="#000">tts</text>
<text x="217" y="39.6" font-size="55" fill="#0072BD">cluster 1</text>
<text x="654.7" y="39.6" font-size="55" fill="#D95319">cluster 2</text>
<text x="1061.8" y="39.6" font-size="55" fill="#EDB120">cluster 3</text>
<text x="1497" y="39.6" font-size="55" fill="#652D90">cluster 4</text>
<path d="M168.2 66H483.6" stroke="#000" stroke-width="4"/>
<path d="M598.2 66H913.6" stroke="#000" stroke-width="4"/>
<path d="M1021.4 66H1336.5" stroke="#000" stroke-width="4"/>
<path d="M1452 66H1766.8" stroke="#000" stroke-width="4"/>
<text transform="translate(367 133.2) scale(0.959 1)" font-size="49" fill="#000">HMGA1</text>
<text transform="translate(558.6 133.2) scale(0.959 1)" font-size="49" fill="#000">MYBBP1A</text>
<text transform="translate(799.1 133.2) scale(0.959 1)" font-size="49" fill="#000">ZNF622</text>
<text transform="translate(1047.2 133.2) scale(0.959 1)" font-size="49" fill="#000">FUS</text>
<text transform="translate(1238.9 133.2) scale(0.959 1)" font-size="49" fill="#000">CEBPZ</text>
<text transform="translate(1437.2 133.2) scale(0.959 1)" font-size="49" fill="#000">GATAD2A</text>
<text transform="translate(1660.4 133.2) scale(0.959 1)" font-size="49" fill="#000">ZNF438</text>
<text transform="translate(367 711) scale(0.959 1)" font-size="49" fill="#000">HMGA1</text>
<text transform="translate(558.6 711) scale(0.959 1)" font-size="49" fill="#000">MYBBP1A</text>
<text transform="translate(799.1 711) scale(0.959 1)" font-size="49" fill="#000">ZNF622</text>
<text transform="translate(1047.2 711) scale(0.959 1)" font-size="49" fill="#000">FUS</text>
<text transform="translate(1238.9 711) scale(0.959 1)" font-size="49" fill="#000">CEBPZ</text>
<text transform="translate(1437.2 711) scale(0.959 1)" font-size="49" fill="#000">GATAD2A</text>
<text transform="translate(1660.4 711) scale(0.959 1)" font-size="49" fill="#000">ZNF438</text>
<text transform="translate(367 1214.8) scale(0.959 1)" font-size="49" fill="#000">HMGA1</text>
<text transform="translate(558.6 1214.8) scale(0.959 1)" font-size="49" fill="#000">MYBBP1A</text>
<text transform="translate(799.1 1214.8) scale(0.959 1)" font-size="49" fill="#000">ZNF622</text>
<text transform="translate(1047.2 1214.8) scale(0.959 1)" font-size="49" fill="#000">FUS</text>
<text transform="translate(1238.9 1214.8) scale(0.959 1)" font-size="49" fill="#000">CEBPZ</text>
<text transform="translate(1437.2 1214.8) scale(0.959 1)" font-size="49" fill="#000">GATAD2A</text>
<text transform="translate(1660.4 1214.8) scale(0.959 1)" font-size="49" fill="#000">ZNF438</text>
<text transform="translate(38.5 133.2) scale(0.971 1)" font-size="49" fill="#000">siRNA:ERH</text>
<text transform="translate(41.4 702.5) scale(0.959 1)" font-size="49" fill="#000">siRNA:</text>
<text transform="translate(189.5 711) scale(0.98 1)" font-size="49" fill="#000">ERH</text>
<text transform="translate(53.6 1214.8) scale(0.972 1)" font-size="49" fill="#000">siRNA:ERH</text>
<text transform="translate(107.7 188) scale(0.959 1)" font-size="49" fill="#000">n=</text>
<text transform="translate(190 188) scale(0.959 1)" font-size="49" fill="#000">703</text>
<text transform="translate(404.4 188) scale(0.959 1)" font-size="49" fill="#000">489</text>
<text transform="translate(619.8 188) scale(0.959 1)" font-size="49" fill="#000">410</text>
<text transform="translate(834.6 188) scale(0.959 1)" font-size="49" fill="#000">412</text>
<text transform="translate(1051.4 188) scale(0.959 1)" font-size="49" fill="#000">311</text>
<text transform="translate(1265.7 188) scale(0.959 1)" font-size="49" fill="#000">400</text>
<text transform="translate(1481.7 188) scale(0.959 1)" font-size="49" fill="#000">574</text>
<text transform="translate(1697.1 188) scale(0.959 1)" font-size="49" fill="#000">388</text>
<text transform="translate(39.8 519.1) rotate(-90)" font-size="55" fill="#000">H3K9me3</text>
<text transform="translate(42.2 1043.6) rotate(-90)" font-size="55" fill="#000">H3K27me3</text>
<text transform="translate(41.9 1490.5) rotate(-90)" font-size="55" fill="#000">srHC</text>
<path d="M902.4 1860.2H1001" stroke="#808080" stroke-width="4"/>
<text x="1021" y="1872.7" font-size="50.5" fill="#000">all srHC genes</text>
</svg>
</body></html>
